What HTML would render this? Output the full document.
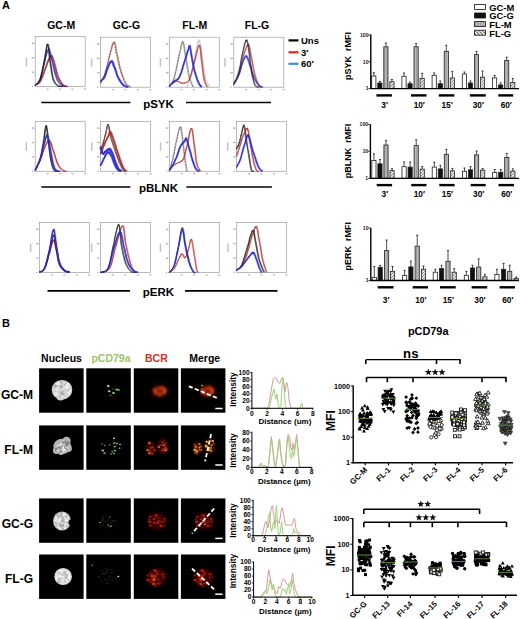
<!DOCTYPE html><html><head><meta charset="utf-8"><style>html,body{margin:0;padding:0;background:#fff;width:520px;height:619px;overflow:hidden}svg{display:block;font-family:"Liberation Sans", sans-serif}</style></head><body>
<svg width="520" height="619" viewBox="0 0 520 619">
<defs><filter id="bl1" x="-50%" y="-50%" width="200%" height="200%"><feGaussianBlur stdDeviation="0.6"/></filter><filter id="bl2" x="-50%" y="-50%" width="200%" height="200%"><feGaussianBlur stdDeviation="1.1"/></filter><filter id="bl3" x="-50%" y="-50%" width="200%" height="200%"><feGaussianBlur stdDeviation="2"/></filter><filter id="bl08" x="-50%" y="-50%" width="200%" height="200%"><feGaussianBlur stdDeviation="0.8"/></filter><filter id="bl05" x="-50%" y="-50%" width="200%" height="200%"><feGaussianBlur stdDeviation="0.35"/></filter><pattern id="pgray" width="1.6" height="4" patternUnits="userSpaceOnUse"><rect width="1.6" height="4" fill="#bdbdbd"/><rect width="0.5" height="4" fill="#888"/></pattern><pattern id="phatch" width="3" height="3" patternUnits="userSpaceOnUse"><rect width="3" height="3" fill="#e6e6e6"/><path d="M0,3 L3,0" stroke="#666" stroke-width="0.7"/></pattern><pattern id="phatchL" width="3.5" height="3.5" patternUnits="userSpaceOnUse" patternTransform="rotate(0)"><rect width="3.5" height="3.5" fill="#fff"/><path d="M0,0 L3.5,3.5" stroke="#333" stroke-width="0.9"/></pattern><radialGradient id="gnuc" cx="50%" cy="50%" r="50%"><stop offset="0" stop-color="#e4e4e4"/><stop offset="0.75" stop-color="#c8c8c8"/><stop offset="1" stop-color="#888" stop-opacity="0.4"/></radialGradient></defs>
<rect x="0.00" y="0.00" width="520.00" height="619.00" fill="#fff"/>
<text x="2.00" y="9.10" font-size="11" font-weight="bold" text-anchor="start" fill="#000">A</text>
<text x="2.00" y="326.60" font-size="11" font-weight="bold" text-anchor="start" fill="#000">B</text>
<text x="61.20" y="28.80" font-size="10.5" font-weight="bold" text-anchor="middle" fill="#000">GC-M</text>
<text x="126.50" y="28.80" font-size="10.5" font-weight="bold" text-anchor="middle" fill="#000">GC-G</text>
<text x="194.80" y="28.80" font-size="10.5" font-weight="bold" text-anchor="middle" fill="#000">FL-M</text>
<text x="257.00" y="28.80" font-size="10.5" font-weight="bold" text-anchor="middle" fill="#000">FL-G</text>
<line x1="288.50" y1="40.40" x2="298.50" y2="40.40" stroke="#000" stroke-width="2.2"/>
<text x="301.00" y="43.70" font-size="9.5" font-weight="bold" text-anchor="start" fill="#000">Uns</text>
<line x1="288.50" y1="52.30" x2="298.50" y2="52.30" stroke="#d42a20" stroke-width="2.2"/>
<text x="301.00" y="55.60" font-size="9.5" font-weight="bold" text-anchor="start" fill="#000">3′</text>
<line x1="288.50" y1="63.80" x2="298.50" y2="63.80" stroke="#3a8fd0" stroke-width="2.2"/>
<text x="301.00" y="67.10" font-size="9.5" font-weight="bold" text-anchor="start" fill="#000">60′</text>
<rect x="35.20" y="36.60" width="50.00" height="50.00" fill="none" stroke="#9c9c9c" stroke-width="0.7"/>
<rect x="31.80" y="86.00" width="1.20" height="1.20" fill="#a8a8a8"/>
<rect x="31.80" y="71.60" width="2.40" height="1.20" fill="#a8a8a8"/>
<rect x="31.80" y="57.20" width="2.40" height="1.20" fill="#a8a8a8"/>
<rect x="31.80" y="42.80" width="2.40" height="1.20" fill="#a8a8a8"/>
<rect x="46.40" y="88.50" width="2.20" height="1.10" fill="#b0b0b0"/>
<rect x="58.90" y="88.50" width="2.20" height="1.10" fill="#b0b0b0"/>
<rect x="71.40" y="88.50" width="2.20" height="1.10" fill="#b0b0b0"/>
<rect x="83.90" y="88.50" width="2.20" height="1.10" fill="#b0b0b0"/>
<rect x="25.60" y="57.60" width="1.50" height="8.50" fill="#c4c4c4"/>
<polyline points="34.75,85.35 35.05,85.29 35.43,85.11 35.88,84.84 36.39,84.68 36.94,84.42 37.51,84.16 38.09,83.81 38.67,83.09 39.23,82.44 39.75,82.06 40.25,80.98 40.75,80.15 41.25,78.42 41.75,77.50 42.25,76.44 42.75,74.52 43.25,74.01 43.75,72.62 44.25,69.96 44.75,68.64 45.26,68.15 45.78,67.36 46.31,64.99 46.85,63.23 47.38,62.09 47.89,60.07 48.40,59.10 48.88,58.34 49.33,57.54 49.75,56.47 50.12,56.05 50.45,55.77 50.75,56.04 51.02,55.81 51.28,55.57 51.54,57.21 51.80,57.24 52.09,57.99 52.40,58.01 52.75,60.19 53.14,61.09 53.55,61.32 53.97,63.29 54.42,65.71 54.88,67.58 55.34,69.87 55.82,70.94 56.29,73.30 56.77,74.69 57.25,75.69 57.73,77.22 58.22,78.61 58.71,79.62 59.21,80.38 59.72,81.35 60.23,81.95 60.73,82.85 61.24,83.76 61.75,84.30 62.25,84.84 62.77,85.40 63.33,85.80 63.91,86.09 64.49,86.29 65.06,86.46 65.61,86.58 66.12,86.60 66.57,86.60 66.95,86.60 67.25,86.60" fill="none" stroke="#b02828" stroke-width="1.12" stroke-linejoin="round" opacity="0.55"/>
<polyline points="35.65,84.87 35.95,84.70 36.33,84.39 36.78,84.21 37.29,84.16 37.84,83.89 38.41,83.56 38.99,83.06 39.57,82.67 40.13,82.07 40.65,81.34 41.15,80.22 41.65,79.33 42.15,78.13 42.65,77.15 43.15,76.12 43.65,74.75 44.15,72.89 44.65,71.37 45.15,69.73 45.65,68.06 46.16,66.73 46.68,66.00 47.21,64.29 47.75,62.89 48.28,62.24 48.79,60.26 49.30,59.04 49.78,57.42 50.23,56.18 50.65,56.02 51.02,55.30 51.35,55.63 51.65,56.30 51.92,55.83 52.18,55.23 52.44,56.70 52.70,57.02 52.99,57.54 53.30,58.57 53.65,59.22 54.04,60.38 54.45,61.09 54.87,63.73 55.32,65.49 55.78,66.10 56.24,68.97 56.72,70.79 57.19,72.20 57.67,73.93 58.15,75.29 58.63,76.93 59.12,77.69 59.61,79.01 60.11,79.68 60.62,80.91 61.13,81.75 61.63,82.34 62.14,83.09 62.65,83.82 63.15,84.34 63.67,84.79 64.23,85.15 64.81,85.46 65.39,85.71 65.96,85.85 66.51,85.99 67.02,86.06 67.47,86.15 67.85,86.21 68.15,86.30" fill="none" stroke="#b02828" stroke-width="1.12" stroke-linejoin="round" opacity="0.55"/>
<polyline points="35.20,85.06 35.50,84.94 35.88,84.75 36.33,84.61 36.84,84.41 37.39,84.03 37.96,83.69 38.54,83.52 39.12,82.85 39.68,82.22 40.20,81.84 40.70,80.70 41.20,79.90 41.70,78.49 42.20,77.37 42.70,75.55 43.20,74.69 43.70,73.61 44.20,71.78 44.70,70.77 45.20,69.37 45.71,67.08 46.23,66.77 46.76,65.02 47.30,63.06 47.83,61.16 48.34,61.10 48.85,59.20 49.33,58.49 49.78,57.85 50.20,56.94 50.57,56.85 50.90,55.75 51.20,56.29 51.47,55.76 51.73,56.73 51.99,56.98 52.25,56.20 52.54,56.88 52.85,57.76 53.20,59.84 53.59,60.11 54.00,61.83 54.42,62.94 54.87,65.06 55.33,66.76 55.79,68.63 56.27,70.89 56.74,72.67 57.22,74.67 57.70,75.79 58.18,77.24 58.67,78.29 59.16,79.43 59.66,80.18 60.17,80.83 60.68,82.03 61.18,82.83 61.69,83.49 62.20,84.03 62.70,84.64 63.22,85.05 63.78,85.52 64.36,85.78 64.94,85.99 65.51,86.14 66.06,86.29 66.57,86.38 67.02,86.43 67.40,86.52 67.70,86.60" fill="none" stroke="#b02828" stroke-width="1.12" stroke-linejoin="round" opacity="0.9"/>
<polyline points="34.75,85.35 35.05,85.17 35.43,84.86 35.88,84.43 36.39,84.10 36.94,83.63 37.51,83.15 38.09,82.54 38.67,81.39 39.23,80.31 39.75,79.64 40.26,77.86 40.77,76.41 41.30,73.50 41.82,71.85 42.34,70.00 42.86,66.92 43.36,65.82 43.85,63.63 44.31,60.31 44.75,58.64 45.16,57.97 45.55,57.14 45.93,54.84 46.28,53.27 46.62,52.40 46.96,50.73 47.28,50.17 47.61,49.86 47.93,49.54 48.25,48.97 48.56,49.13 48.86,49.55 49.14,50.63 49.41,51.26 49.69,51.92 49.97,54.44 50.26,55.31 50.56,56.83 50.89,57.50 51.25,60.19 51.64,61.47 52.06,61.97 52.51,64.15 52.97,66.69 53.44,68.64 53.91,70.96 54.39,72.04 54.86,74.33 55.31,75.71 55.75,76.71 56.17,78.15 56.57,79.41 56.96,80.27 57.34,80.86 57.72,81.63 58.10,82.03 58.49,82.73 58.89,83.48 59.31,83.87 59.75,84.32 60.23,84.87 60.77,85.29 61.33,85.62 61.92,85.87 62.50,86.11 63.06,86.32 63.59,86.50 64.05,86.60 64.45,86.60 64.75,86.60" fill="none" stroke="#2a2ad0" stroke-width="0.99" stroke-linejoin="round" opacity="0.55"/>
<polyline points="35.65,84.87 35.95,84.58 36.33,84.12 36.78,83.79 37.29,83.59 37.84,83.12 38.41,82.56 38.99,81.74 39.57,81.05 40.13,80.06 40.65,78.86 41.16,77.03 41.67,75.46 42.20,73.38 42.72,71.65 43.24,69.84 43.76,67.47 44.26,64.58 44.75,62.30 45.21,60.09 45.65,58.06 46.06,56.55 46.45,55.78 46.83,54.14 47.18,52.93 47.53,52.55 47.86,50.92 48.18,50.11 48.51,48.94 48.83,48.18 49.15,48.52 49.46,48.37 49.76,49.42 50.04,50.89 50.31,51.28 50.59,51.57 50.87,53.93 51.16,55.09 51.46,56.38 51.79,58.06 52.15,59.22 52.54,60.75 52.96,61.75 53.41,64.58 53.87,66.48 54.34,67.16 54.81,70.07 55.29,71.85 55.76,73.27 56.21,74.95 56.65,76.29 57.07,77.84 57.47,78.52 57.86,79.66 58.24,80.18 58.62,81.18 59.00,81.82 59.39,82.22 59.79,82.80 60.21,83.42 60.65,83.85 61.13,84.26 61.67,84.62 62.23,84.97 62.82,85.30 63.40,85.49 63.96,85.74 64.49,85.88 64.95,86.05 65.35,86.17 65.65,86.30" fill="none" stroke="#2a2ad0" stroke-width="0.99" stroke-linejoin="round" opacity="0.55"/>
<polyline points="35.20,85.06 35.50,84.81 35.88,84.48 36.33,84.21 36.84,83.84 37.39,83.21 37.96,82.62 38.54,82.26 39.12,81.17 39.68,80.13 40.20,79.46 40.71,77.60 41.22,76.18 41.75,73.78 42.27,71.83 42.79,68.79 43.31,67.27 43.81,65.39 44.30,62.72 44.76,61.14 45.20,59.37 45.61,56.91 46.00,56.55 46.38,54.88 46.73,53.10 47.08,51.47 47.41,51.76 47.73,50.27 48.06,50.01 48.38,49.85 48.70,49.44 49.01,49.93 49.31,49.53 49.59,50.88 49.86,51.21 50.14,53.08 50.42,54.21 50.71,54.27 51.01,55.72 51.34,57.25 51.70,59.84 52.09,60.49 52.51,62.48 52.96,63.80 53.42,66.05 53.89,67.82 54.36,69.72 54.84,71.97 55.31,73.72 55.76,75.66 56.20,76.77 56.62,78.14 57.02,79.09 57.41,80.07 57.79,80.66 58.17,81.12 58.55,82.10 58.94,82.71 59.34,83.22 59.76,83.62 60.20,84.15 60.68,84.51 61.22,85.01 61.78,85.31 62.37,85.56 62.95,85.79 63.51,86.04 64.04,86.21 64.50,86.33 64.90,86.48 65.20,86.60" fill="none" stroke="#2a2ad0" stroke-width="0.99" stroke-linejoin="round" opacity="0.9"/>
<polyline points="34.75,85.87 35.05,85.51 35.45,85.17 35.91,84.70 36.44,84.19 37.00,83.71 37.58,83.26 38.17,82.49 38.73,81.65 39.27,80.35 39.75,79.43 40.19,77.91 40.62,76.28 41.04,74.51 41.45,72.82 41.84,71.98 42.23,69.95 42.62,67.99 43.00,66.06 43.37,63.21 43.75,61.60 44.12,60.20 44.50,58.21 44.87,56.11 45.23,53.83 45.59,50.30 45.95,49.05 46.29,47.35 46.62,45.67 46.94,44.22 47.25,44.36 47.54,44.08 47.81,46.36 48.06,47.66 48.30,48.96 48.53,50.64 48.76,53.87 48.99,55.66 49.23,58.45 49.48,60.55 49.75,61.91 50.02,63.56 50.29,65.73 50.57,67.39 50.84,68.89 51.12,71.05 51.42,73.60 51.72,74.43 52.05,76.16 52.39,78.20 52.75,79.24 53.14,80.54 53.55,81.48 53.97,82.26 54.42,83.24 54.88,83.59 55.34,84.20 55.82,84.64 56.29,85.15 56.77,85.49 57.25,85.89 57.75,86.24 58.30,86.46 58.87,86.60 59.45,86.60 60.03,86.60 60.59,86.60 61.10,86.60 61.56,86.60 61.95,86.60 62.25,86.60" fill="none" stroke="#1a1a1a" stroke-width="0.99" stroke-linejoin="round" opacity="0.55"/>
<polyline points="35.65,85.31 35.95,84.99 36.35,84.64 36.81,84.26 37.34,83.76 37.90,83.27 38.48,82.33 39.07,81.75 39.63,81.14 40.17,80.02 40.65,79.09 41.09,77.17 41.52,75.97 41.94,74.07 42.35,72.65 42.74,70.85 43.13,68.05 43.52,66.44 43.90,64.62 44.27,63.77 44.65,61.73 45.02,58.85 45.40,57.72 45.77,54.37 46.13,52.81 46.49,49.77 46.85,47.48 47.19,47.07 47.52,44.60 47.84,43.68 48.15,44.57 48.44,44.73 48.71,44.72 48.96,47.22 49.20,48.34 49.43,50.65 49.66,52.15 49.89,55.65 50.13,57.55 50.38,60.14 50.65,61.93 50.92,62.78 51.19,64.75 51.47,66.36 51.74,68.26 52.03,70.09 52.32,72.33 52.62,74.48 52.95,75.51 53.29,77.65 53.65,78.68 54.04,79.80 54.45,81.06 54.87,81.72 55.32,82.39 55.78,83.08 56.24,83.68 56.72,84.01 57.19,84.61 57.67,84.86 58.15,85.32 58.65,85.65 59.20,85.85 59.77,86.04 60.35,86.14 60.93,86.21 61.49,86.23 62.00,86.24 62.46,86.25 62.85,86.27 63.15,86.30" fill="none" stroke="#1a1a1a" stroke-width="0.99" stroke-linejoin="round" opacity="0.55"/>
<polyline points="35.20,85.63 35.50,85.30 35.90,84.89 36.36,84.43 36.89,83.87 37.45,83.49 38.03,82.79 38.62,82.18 39.18,81.14 39.72,80.39 40.20,78.94 40.64,78.05 41.07,76.53 41.49,74.56 41.90,72.94 42.29,71.31 42.68,68.64 43.07,67.28 43.45,65.76 43.82,63.02 44.20,62.09 44.57,59.99 44.95,58.09 45.32,54.98 45.68,52.27 46.04,51.14 46.40,49.07 46.74,46.69 47.07,44.71 47.39,43.95 47.70,44.32 47.99,44.10 48.26,46.08 48.51,46.92 48.75,48.10 48.98,50.91 49.21,52.70 49.44,55.94 49.68,58.20 49.93,59.72 50.20,61.83 50.47,63.72 50.74,65.76 51.02,67.96 51.29,68.37 51.58,70.83 51.87,73.03 52.17,74.43 52.50,76.39 52.84,77.45 53.20,79.37 53.59,80.24 54.00,80.99 54.42,82.10 54.87,82.69 55.33,83.29 55.79,83.92 56.27,84.32 56.74,84.78 57.22,85.27 57.70,85.62 58.20,85.90 58.75,86.18 59.32,86.32 59.90,86.44 60.48,86.51 61.04,86.54 61.55,86.55 62.01,86.55 62.40,86.56 62.70,86.60" fill="none" stroke="#1a1a1a" stroke-width="0.99" stroke-linejoin="round" opacity="0.9"/>
<rect x="100.50" y="37.20" width="50.00" height="50.00" fill="none" stroke="#9c9c9c" stroke-width="0.7"/>
<rect x="97.10" y="86.60" width="1.20" height="1.20" fill="#a8a8a8"/>
<rect x="97.10" y="72.20" width="2.40" height="1.20" fill="#a8a8a8"/>
<rect x="97.10" y="57.80" width="2.40" height="1.20" fill="#a8a8a8"/>
<rect x="97.10" y="43.40" width="2.40" height="1.20" fill="#a8a8a8"/>
<rect x="111.70" y="89.10" width="2.20" height="1.10" fill="#b0b0b0"/>
<rect x="124.20" y="89.10" width="2.20" height="1.10" fill="#b0b0b0"/>
<rect x="136.70" y="89.10" width="2.20" height="1.10" fill="#b0b0b0"/>
<rect x="149.20" y="89.10" width="2.20" height="1.10" fill="#b0b0b0"/>
<rect x="90.90" y="58.20" width="1.50" height="8.50" fill="#c4c4c4"/>
<polyline points="100.05,83.48 100.35,82.91 100.73,82.37 101.18,81.27 101.69,80.33 102.24,79.32 102.81,77.79 103.39,76.82 103.97,75.60 104.53,74.39 105.05,71.92 105.56,70.50 106.07,68.26 106.60,67.34 107.12,64.98 107.64,61.70 108.16,60.98 108.66,58.79 109.15,56.25 109.61,54.32 110.05,51.95 110.46,50.22 110.85,49.55 111.23,47.35 111.58,46.20 111.92,45.06 112.26,43.65 112.58,43.47 112.91,42.80 113.23,43.09 113.55,42.53 113.87,43.05 114.17,43.52 114.47,44.78 114.76,45.69 115.05,46.83 115.34,49.54 115.63,51.15 115.93,52.52 116.23,53.88 116.55,54.70 116.87,55.97 117.19,57.53 117.52,58.68 117.84,61.32 118.17,62.28 118.52,64.54 118.87,65.35 119.25,67.79 119.64,69.11 120.05,69.20 120.49,71.01 120.95,73.52 121.44,74.42 121.94,76.50 122.46,77.34 122.98,78.50 123.50,80.29 124.03,81.59 124.54,82.43 125.05,83.34 125.57,84.25 126.13,85.08 126.71,85.57 127.29,85.92 127.86,86.32 128.41,86.61 128.92,86.87 129.37,87.12 129.75,87.20 130.05,87.20" fill="none" stroke="#8a3a30" stroke-width="0.87" stroke-linejoin="round" opacity="0.55"/>
<polyline points="100.95,82.89 101.25,82.36 101.63,81.63 102.08,80.48 102.59,79.39 103.14,78.55 103.71,77.27 104.29,76.53 104.87,75.07 105.43,73.55 105.95,71.98 106.46,70.48 106.97,67.75 107.50,66.15 108.02,63.53 108.54,62.49 109.06,58.91 109.56,57.96 110.05,54.72 110.51,53.83 110.95,51.64 111.36,50.24 111.75,49.45 112.13,46.69 112.48,45.40 112.83,45.53 113.16,43.81 113.48,42.28 113.81,43.08 114.13,42.66 114.45,41.28 114.77,42.10 115.07,42.34 115.37,43.62 115.66,45.35 115.95,46.05 116.24,48.45 116.53,49.04 116.83,50.85 117.13,53.45 117.45,54.24 117.77,55.68 118.09,57.42 118.42,58.73 118.74,60.11 119.08,61.09 119.42,63.75 119.77,65.68 120.15,67.22 120.54,68.21 120.95,69.17 121.39,70.64 121.85,72.61 122.34,74.08 122.84,74.94 123.36,76.58 123.88,78.14 124.40,79.60 124.93,81.01 125.44,81.94 125.95,82.72 126.47,83.80 127.03,84.36 127.61,84.93 128.19,85.34 128.76,85.74 129.31,86.03 129.82,86.31 130.27,86.49 130.65,86.71 130.95,86.90" fill="none" stroke="#8a3a30" stroke-width="0.87" stroke-linejoin="round" opacity="0.55"/>
<polyline points="100.50,83.11 100.80,82.67 101.18,81.94 101.63,81.20 102.14,79.81 102.69,78.74 103.26,77.46 103.84,76.23 104.42,75.42 104.98,73.24 105.50,72.25 106.01,70.06 106.52,68.29 107.05,66.44 107.57,64.91 108.09,62.31 108.61,59.14 109.11,57.39 109.60,55.14 110.06,54.43 110.50,52.70 110.91,51.18 111.30,49.72 111.68,48.15 112.03,47.12 112.38,45.64 112.71,43.71 113.03,43.79 113.36,42.58 113.68,42.65 114.00,42.30 114.32,42.41 114.62,43.00 114.92,44.11 115.21,45.16 115.50,46.28 115.79,48.95 116.08,50.53 116.38,52.46 116.68,53.55 117.00,54.79 117.32,56.50 117.64,56.98 117.97,59.35 118.29,60.50 118.62,61.62 118.97,63.21 119.32,65.27 119.70,66.36 120.09,68.18 120.50,69.87 120.94,70.99 121.40,72.13 121.89,74.15 122.39,75.37 122.91,76.88 123.43,78.30 123.95,79.80 124.48,80.88 124.99,82.31 125.50,83.37 126.02,83.97 126.58,84.73 127.16,85.31 127.74,85.61 128.31,86.00 128.86,86.37 129.37,86.61 129.82,86.81 130.20,87.00 130.50,87.20" fill="none" stroke="#8a3a30" stroke-width="0.87" stroke-linejoin="round" opacity="0.9" stroke-dasharray="2,1"/>
<polyline points="100.05,81.47 100.29,81.32 100.60,81.31 100.97,80.76 101.39,80.48 101.83,80.19 102.29,79.49 102.76,79.28 103.22,78.86 103.65,78.42 104.05,77.11 104.42,76.52 104.78,75.36 105.14,75.19 105.49,74.00 105.83,71.97 106.17,72.24 106.52,71.14 106.86,69.59 107.20,68.55 107.55,66.95 107.90,65.91 108.26,65.90 108.62,64.32 108.97,63.74 109.33,63.09 109.69,62.09 110.04,62.23 110.38,61.77 110.72,62.14 111.05,61.53 111.37,61.82 111.67,61.87 111.97,62.55 112.26,62.78 112.55,63.15 112.84,65.03 113.13,65.82 113.43,66.40 113.73,67.02 114.05,67.20 114.37,67.92 114.69,68.95 115.02,69.60 115.34,71.75 115.67,72.26 116.02,73.95 116.37,74.42 116.75,76.12 117.14,76.95 117.55,77.02 117.99,78.12 118.45,79.57 118.94,80.07 119.44,81.22 119.96,81.66 120.48,82.27 121.00,83.25 121.53,83.96 122.04,84.40 122.55,84.90 123.07,85.43 123.63,85.93 124.21,86.23 124.79,86.44 125.36,86.70 125.91,86.90 126.42,87.07 126.87,87.20 127.25,87.20 127.55,87.20" fill="none" stroke="#2a2ad0" stroke-width="1.36" stroke-linejoin="round" opacity="0.55"/>
<polyline points="100.95,80.89 101.19,80.78 101.50,80.56 101.87,79.95 102.29,79.55 102.73,79.44 103.19,78.96 103.66,78.91 104.12,78.31 104.55,77.65 104.95,76.96 105.32,76.29 105.68,74.82 106.04,74.14 106.39,72.69 106.73,72.60 107.07,70.22 107.42,70.31 107.76,68.06 108.10,68.06 108.45,66.64 108.80,65.93 109.16,65.80 109.52,63.66 109.87,62.93 110.23,63.56 110.59,62.26 110.94,61.04 111.28,62.05 111.62,61.71 111.95,60.28 112.27,60.87 112.57,60.68 112.87,61.39 113.16,62.44 113.45,62.36 113.74,63.95 114.03,63.71 114.33,64.73 114.63,66.59 114.95,66.74 115.27,67.62 115.59,68.84 115.92,69.65 116.24,70.55 116.58,71.13 116.92,73.19 117.27,74.54 117.65,75.54 118.04,76.15 118.45,76.76 118.89,77.65 119.35,78.79 119.84,79.61 120.34,80.08 120.86,80.97 121.38,81.81 121.90,82.60 122.43,83.37 122.94,83.86 123.45,84.29 123.97,84.93 124.53,85.25 125.11,85.60 125.69,85.85 126.26,86.11 126.81,86.31 127.32,86.50 127.77,86.63 128.15,86.77 128.45,86.90" fill="none" stroke="#2a2ad0" stroke-width="1.36" stroke-linejoin="round" opacity="0.55"/>
<polyline points="100.50,81.06 100.74,81.10 101.05,80.87 101.42,80.71 101.84,79.96 102.28,79.63 102.74,79.16 103.21,78.75 103.67,78.64 104.10,77.53 104.50,77.23 104.87,76.13 105.23,75.29 105.59,74.43 105.94,73.89 106.28,72.48 106.62,70.45 106.97,69.74 107.31,68.47 107.65,68.66 108.00,67.70 108.35,66.87 108.71,66.07 109.07,65.12 109.42,64.65 109.78,63.67 110.14,62.15 110.49,62.55 110.83,61.55 111.17,61.70 111.50,61.30 111.82,61.18 112.12,61.35 112.42,61.88 112.71,62.25 113.00,62.59 113.29,64.45 113.58,65.21 113.88,66.33 114.18,66.69 114.50,67.29 114.82,68.45 115.14,68.40 115.47,70.27 115.79,70.94 116.12,71.64 116.47,72.79 116.82,74.29 117.20,75.01 117.59,76.24 118.00,77.30 118.44,77.98 118.90,78.65 119.39,79.78 119.89,80.45 120.41,81.27 120.93,82.03 121.45,82.84 121.98,83.41 122.49,84.21 123.00,84.81 123.52,85.14 124.08,85.59 124.66,85.95 125.24,86.14 125.81,86.39 126.36,86.64 126.87,86.80 127.32,86.94 127.70,87.07 128.00,87.20" fill="none" stroke="#2a2ad0" stroke-width="1.36" stroke-linejoin="round" opacity="0.9"/>
<rect x="169.30" y="37.20" width="50.00" height="50.00" fill="none" stroke="#9c9c9c" stroke-width="0.7"/>
<rect x="165.90" y="86.60" width="1.20" height="1.20" fill="#a8a8a8"/>
<rect x="165.90" y="72.20" width="2.40" height="1.20" fill="#a8a8a8"/>
<rect x="165.90" y="57.80" width="2.40" height="1.20" fill="#a8a8a8"/>
<rect x="165.90" y="43.40" width="2.40" height="1.20" fill="#a8a8a8"/>
<rect x="180.50" y="89.10" width="2.20" height="1.10" fill="#b0b0b0"/>
<rect x="193.00" y="89.10" width="2.20" height="1.10" fill="#b0b0b0"/>
<rect x="205.50" y="89.10" width="2.20" height="1.10" fill="#b0b0b0"/>
<rect x="218.00" y="89.10" width="2.20" height="1.10" fill="#b0b0b0"/>
<rect x="159.70" y="58.20" width="1.50" height="8.50" fill="#c4c4c4"/>
<polyline points="168.85,87.20 169.15,86.94 169.53,86.29 169.98,85.72 170.49,84.74 171.04,83.78 171.61,82.95 172.19,81.65 172.77,80.72 173.33,78.83 173.85,77.94 174.36,75.51 174.87,73.78 175.40,72.04 175.92,69.24 176.44,67.12 176.96,64.25 177.46,60.72 177.95,59.70 178.41,57.06 178.85,54.70 179.26,52.69 179.65,51.90 180.03,49.64 180.38,48.45 180.73,46.56 181.06,45.43 181.38,43.61 181.71,42.94 182.03,42.28 182.35,41.61 182.67,43.11 182.97,42.90 183.27,44.86 183.56,46.66 183.85,47.93 184.14,49.04 184.43,52.14 184.73,53.92 185.03,55.14 185.35,56.78 185.68,59.41 186.01,60.62 186.35,64.16 186.69,65.67 187.04,67.87 187.39,69.86 187.75,72.33 188.11,74.61 188.48,75.67 188.85,77.38 189.25,79.02 189.68,80.16 190.14,81.60 190.61,82.72 191.07,83.73 191.51,84.75 191.93,85.56 192.30,86.25 192.61,86.98 192.85,87.20" fill="none" stroke="#444" stroke-width="0.62" stroke-linejoin="round" opacity="0.55"/>
<polyline points="169.75,86.90 170.05,86.38 170.43,85.78 170.88,84.95 171.39,84.24 171.94,83.28 172.51,82.29 173.09,80.93 173.67,79.65 174.23,78.41 174.75,76.63 175.26,75.06 175.77,72.42 176.30,70.13 176.82,68.68 177.34,65.71 177.86,63.34 178.36,61.22 178.85,58.27 179.31,55.61 179.75,54.85 180.16,52.73 180.55,50.99 180.93,49.10 181.28,47.90 181.62,45.31 181.96,44.51 182.28,42.70 182.61,42.14 182.93,41.76 183.25,41.10 183.57,41.11 183.87,42.56 184.17,44.16 184.46,45.48 184.75,47.00 185.04,49.24 185.33,50.51 185.63,52.54 185.93,54.76 186.25,57.41 186.58,58.28 186.91,60.15 187.25,62.24 187.59,64.32 187.94,66.88 188.29,69.52 188.65,71.97 189.01,73.25 189.38,75.14 189.75,76.70 190.15,78.19 190.58,79.89 191.04,80.98 191.51,81.99 191.97,83.01 192.41,84.18 192.83,84.99 193.20,85.74 193.51,86.34 193.75,86.90" fill="none" stroke="#444" stroke-width="0.62" stroke-linejoin="round" opacity="0.55"/>
<polyline points="169.30,87.20 169.60,86.68 169.98,86.00 170.43,85.42 170.94,84.44 171.49,83.67 172.06,82.40 172.64,81.58 173.22,79.92 173.78,78.92 174.30,77.42 174.81,75.71 175.32,73.27 175.85,71.64 176.37,69.42 176.89,65.52 177.41,63.64 177.91,61.88 178.40,59.17 178.86,56.53 179.30,54.39 179.71,53.61 180.10,50.37 180.48,49.62 180.83,48.00 181.18,45.28 181.51,44.11 181.83,42.89 182.16,42.39 182.48,41.59 182.80,42.33 183.12,42.75 183.42,42.61 183.72,44.75 184.01,44.94 184.30,46.74 184.59,49.57 184.88,51.80 185.18,53.87 185.48,56.13 185.80,57.78 186.13,58.69 186.46,61.46 186.80,63.86 187.14,64.71 187.49,67.53 187.84,69.15 188.20,71.27 188.56,73.74 188.93,75.77 189.30,77.65 189.70,78.35 190.13,80.00 190.59,81.53 191.06,82.52 191.52,83.46 191.96,84.33 192.38,85.27 192.75,85.97 193.06,86.66 193.30,87.20" fill="none" stroke="#444" stroke-width="0.62" stroke-linejoin="round" opacity="0.9" stroke-dasharray="2,1"/>
<polyline points="186.35,87.20 186.65,86.69 187.03,85.69 187.48,84.29 187.99,83.10 188.54,81.52 189.11,79.96 189.69,77.88 190.27,76.05 190.83,74.40 191.35,72.10 191.86,70.25 192.39,67.08 192.93,64.49 193.47,62.67 194.01,59.34 194.53,56.67 195.03,54.33 195.51,51.25 195.95,48.59 196.35,47.95 196.70,46.14 197.00,44.90 197.27,43.66 197.51,43.22 197.73,41.44 197.93,41.47 198.14,40.47 198.36,40.65 198.59,40.89 198.85,40.70 199.13,41.04 199.42,42.73 199.71,44.50 200.01,45.92 200.32,47.51 200.63,49.77 200.93,51.06 201.24,53.09 201.55,55.32 201.85,58.01 202.15,58.92 202.43,60.82 202.72,62.92 203.00,64.99 203.29,67.55 203.58,70.17 203.88,72.60 204.19,73.87 204.51,75.74 204.85,77.30 205.23,78.79 205.65,80.49 206.10,81.58 206.57,82.59 207.04,83.61 207.49,84.78 207.91,85.59 208.29,86.34 208.61,86.94 208.85,87.20" fill="none" stroke="#999" stroke-width="0.37" stroke-linejoin="round" opacity="0.55"/>
<polyline points="187.25,86.90 187.55,86.08 187.93,84.96 188.38,83.96 188.89,82.33 189.44,81.06 190.01,79.04 190.59,77.84 191.17,75.41 191.73,74.13 192.25,72.22 192.76,70.15 193.29,67.15 193.83,65.14 194.37,62.51 194.91,58.25 195.43,56.08 195.93,54.09 196.41,51.26 196.85,48.61 197.25,46.59 197.60,46.12 197.90,43.38 198.17,43.28 198.41,42.41 198.62,40.51 198.83,40.18 199.04,39.77 199.26,40.00 199.49,39.82 199.75,41.03 200.03,41.78 200.32,41.88 200.61,44.18 200.91,44.49 201.22,46.35 201.53,49.21 201.83,51.45 202.14,53.52 202.45,55.79 202.75,57.48 203.05,58.43 203.33,61.22 203.62,63.64 203.90,64.48 204.19,67.30 204.48,68.90 204.78,71.00 205.09,73.46 205.41,75.48 205.75,77.35 206.13,78.05 206.55,79.70 207.00,81.23 207.47,82.22 207.94,83.16 208.39,84.03 208.81,84.97 209.19,85.67 209.51,86.36 209.75,86.90" fill="none" stroke="#999" stroke-width="0.37" stroke-linejoin="round" opacity="0.55"/>
<polyline points="186.80,87.20 187.10,86.39 187.48,85.38 187.93,84.03 188.44,82.92 188.99,81.34 189.56,79.31 190.14,78.31 190.72,75.82 191.28,73.93 191.80,72.09 192.31,70.16 192.84,66.94 193.38,65.15 193.92,62.56 194.46,59.19 194.98,56.82 195.48,53.86 195.96,51.70 196.40,48.49 196.80,46.97 197.15,45.65 197.45,43.71 197.72,43.92 197.96,42.38 198.18,40.71 198.38,40.89 198.59,40.24 198.81,39.74 199.04,39.79 199.30,40.64 199.58,40.72 199.87,42.57 200.16,43.87 200.46,44.88 200.77,47.89 201.08,48.51 201.38,50.74 201.69,53.82 202.00,54.86 202.30,57.08 202.60,59.20 202.88,61.03 203.17,63.25 203.45,65.44 203.74,67.58 204.03,69.04 204.33,72.29 204.64,73.50 204.96,75.09 205.30,77.11 205.68,78.91 206.10,80.09 206.55,81.23 207.02,82.39 207.49,83.35 207.94,84.43 208.36,85.22 208.74,85.95 209.06,86.63 209.30,87.20" fill="none" stroke="#999" stroke-width="0.37" stroke-linejoin="round" opacity="0.9"/>
<polyline points="168.85,86.47 169.09,86.34 169.39,86.09 169.76,85.79 170.16,85.41 170.60,85.19 171.06,84.85 171.52,84.42 171.99,84.09 172.43,83.68 172.85,83.31 173.25,83.19 173.64,83.01 174.03,82.50 174.43,82.58 174.82,82.05 175.21,81.82 175.61,81.52 176.02,81.91 176.43,81.67 176.85,81.72 177.28,81.62 177.71,81.43 178.15,81.81 178.59,82.15 179.04,82.25 179.49,82.93 179.95,82.94 180.41,83.09 180.88,83.53 181.35,83.36 181.84,83.70 182.34,83.54 182.86,83.57 183.39,83.45 183.91,83.43 184.43,83.21 184.94,83.00 185.44,83.16 185.91,82.66 186.35,82.63 186.76,82.06 187.14,82.17 187.49,81.83 187.83,81.42 188.16,81.04 188.49,80.47 188.81,80.03 189.14,78.90 189.49,78.40 189.85,77.81 190.23,76.10 190.60,75.67 190.98,74.31 191.37,72.18 191.76,70.53 192.15,69.05 192.56,67.28 192.98,66.58 193.41,63.94 193.85,61.74 194.32,60.08 194.83,59.03 195.36,57.26 195.90,54.21 196.44,51.99 196.98,50.03 197.50,48.56 197.99,46.31 198.45,46.01 198.85,45.59 199.20,46.02 199.51,46.21 199.78,47.56 200.03,49.59 200.26,52.53 200.47,53.79 200.68,56.45 200.89,58.21 201.11,59.99 201.35,61.81 201.60,64.78 201.84,66.57 202.08,67.83 202.33,70.24 202.57,72.11 202.81,74.22 203.06,76.00 203.32,77.04 203.58,79.07 203.85,80.33 204.14,81.24 204.47,82.45 204.81,83.22 205.16,84.04 205.51,84.78 205.84,85.59 206.15,86.07 206.43,86.60 206.67,87.11 206.85,87.20" fill="none" stroke="#b02828" stroke-width="0.81" stroke-linejoin="round" opacity="0.55"/>
<polyline points="169.75,85.94 169.99,85.68 170.29,85.41 170.66,85.27 171.06,84.81 171.50,84.44 171.96,84.21 172.42,83.78 172.89,83.61 173.33,83.08 173.75,83.08 174.15,82.57 174.54,82.42 174.93,82.30 175.33,81.93 175.72,81.80 176.11,81.47 176.51,80.93 176.92,81.24 177.33,80.98 177.75,80.79 178.18,80.77 178.61,81.29 179.05,81.35 179.49,81.78 179.94,81.97 180.39,82.34 180.85,82.42 181.31,82.71 181.78,82.85 182.25,82.81 182.74,83.11 183.24,82.88 183.76,83.05 184.29,83.08 184.81,82.90 185.33,82.59 185.84,82.72 186.34,82.48 186.81,82.03 187.25,81.68 187.66,81.62 188.04,81.07 188.39,81.25 188.73,80.67 189.06,80.29 189.39,79.75 189.71,79.38 190.04,78.94 190.39,77.66 190.75,76.78 191.13,75.90 191.50,74.33 191.88,73.32 192.27,71.78 192.66,70.04 193.05,68.80 193.46,66.91 193.88,64.53 194.31,64.32 194.75,61.67 195.22,60.02 195.73,57.93 196.26,56.56 196.80,54.34 197.34,51.42 197.88,49.19 198.40,46.92 198.89,46.79 199.35,44.71 199.75,44.97 200.10,44.98 200.41,45.84 200.68,47.26 200.93,48.73 201.16,50.50 201.37,53.49 201.58,56.17 201.79,58.16 202.01,59.55 202.25,62.21 202.50,62.96 202.74,65.39 202.98,67.95 203.23,70.02 203.47,71.18 203.71,73.56 203.96,74.87 204.22,76.56 204.48,78.12 204.75,79.75 205.04,80.74 205.37,81.65 205.71,82.71 206.06,83.53 206.41,84.21 206.74,84.97 207.05,85.56 207.33,86.05 207.57,86.52 207.75,86.90" fill="none" stroke="#b02828" stroke-width="0.81" stroke-linejoin="round" opacity="0.55"/>
<polyline points="169.30,86.24 169.54,86.07 169.84,85.83 170.21,85.42 170.61,85.19 171.05,84.81 171.51,84.48 171.97,84.01 172.44,83.68 172.88,83.45 173.30,83.09 173.70,82.92 174.09,82.47 174.48,82.21 174.88,82.24 175.27,81.85 175.66,81.67 176.06,81.60 176.47,81.25 176.88,80.98 177.30,81.36 177.73,81.30 178.16,81.48 178.60,81.67 179.04,82.10 179.49,82.07 179.94,82.54 180.40,82.64 180.86,82.96 181.33,83.17 181.80,83.13 182.29,83.08 182.79,83.25 183.31,83.33 183.84,83.24 184.36,83.12 184.88,83.09 185.39,82.76 185.89,82.57 186.36,82.40 186.80,82.35 187.21,81.75 187.59,81.41 187.94,81.08 188.28,80.69 188.61,80.43 188.94,80.16 189.26,79.80 189.59,78.77 189.94,78.01 190.30,77.00 190.68,75.91 191.05,75.20 191.43,73.56 191.82,71.66 192.21,69.82 192.60,69.28 193.01,67.49 193.43,66.01 193.86,63.41 194.30,62.27 194.77,61.10 195.28,58.53 195.81,56.89 196.35,53.38 196.89,52.46 197.43,48.94 197.95,47.73 198.44,45.69 198.90,46.03 199.30,45.50 199.65,46.28 199.96,46.90 200.23,48.50 200.48,49.59 200.71,52.32 200.92,54.13 201.13,55.75 201.34,58.98 201.56,60.13 201.80,61.71 202.05,63.30 202.29,65.77 202.53,67.24 202.78,70.34 203.02,72.22 203.26,73.02 203.51,74.71 203.77,76.86 204.03,78.07 204.30,79.73 204.59,81.08 204.92,81.84 205.26,82.89 205.61,83.91 205.96,84.53 206.29,85.19 206.60,85.87 206.88,86.37 207.12,86.81 207.30,87.20" fill="none" stroke="#b02828" stroke-width="0.81" stroke-linejoin="round" opacity="0.9"/>
<polyline points="168.85,86.47 169.15,86.22 169.53,85.83 169.98,85.33 170.49,84.74 171.04,84.34 171.61,83.78 172.19,83.09 172.77,82.52 173.33,81.84 173.85,81.21 174.35,81.03 174.85,80.87 175.35,80.29 175.85,80.56 176.35,79.94 176.85,79.65 177.35,79.12 177.85,79.39 178.35,78.55 178.85,77.86 179.35,76.56 179.87,74.61 180.38,73.50 180.90,72.17 181.41,69.92 181.92,69.57 182.42,66.95 182.91,64.96 183.39,64.46 183.85,61.90 184.30,61.79 184.75,59.62 185.20,58.37 185.64,56.64 186.07,55.51 186.48,53.73 186.87,52.27 187.23,52.47 187.56,50.45 187.85,50.45 188.10,48.75 188.30,49.24 188.47,48.46 188.61,47.66 188.73,47.20 188.83,46.55 188.94,46.57 189.06,45.52 189.19,46.18 189.35,47.02 189.53,46.53 189.71,48.43 189.90,49.31 190.09,49.64 190.29,50.78 190.49,52.22 190.70,53.45 190.91,55.76 191.13,56.09 191.35,56.74 191.57,58.04 191.79,60.25 192.02,61.93 192.24,62.39 192.48,63.64 192.72,65.01 192.97,66.60 193.25,67.03 193.54,68.92 193.85,70.09 194.19,71.47 194.56,72.16 194.96,73.56 195.37,75.18 195.79,77.16 196.21,77.90 196.64,79.38 197.06,80.35 197.46,81.33 197.85,82.29 198.24,83.45 198.64,84.15 199.05,84.68 199.45,85.32 199.85,85.81 200.23,86.27 200.57,86.64 200.88,86.94 201.14,87.20 201.35,87.20" fill="none" stroke="#2a2ad0" stroke-width="1.24" stroke-linejoin="round" opacity="0.55"/>
<polyline points="169.75,85.94 170.05,85.55 170.43,85.13 170.88,84.84 171.39,84.13 171.94,83.53 172.51,83.12 173.09,82.42 173.67,82.10 174.23,81.24 174.75,81.16 175.25,80.40 175.75,80.28 176.25,80.26 176.75,79.88 177.25,79.83 177.75,79.40 178.25,78.53 178.75,78.70 179.25,77.82 179.75,76.72 180.25,75.51 180.77,74.98 181.28,73.24 181.80,72.22 182.31,70.37 182.82,68.99 183.32,66.67 183.81,65.23 184.29,63.53 184.75,61.51 185.20,61.24 185.65,58.80 186.10,58.13 186.54,57.02 186.97,55.17 187.38,53.06 187.77,52.93 188.13,51.55 188.46,49.77 188.75,48.68 189.00,48.67 189.20,47.14 189.37,47.91 189.51,46.67 189.62,46.21 189.73,45.68 189.84,45.86 189.96,46.19 190.09,45.31 190.25,45.70 190.43,46.54 190.61,46.82 190.80,48.24 190.99,49.25 191.19,50.29 191.39,51.97 191.60,53.08 191.81,53.71 192.03,56.47 192.25,56.67 192.47,57.98 192.69,59.15 192.92,61.23 193.14,62.52 193.38,63.08 193.62,64.17 193.87,64.96 194.15,67.51 194.44,67.62 194.75,69.47 195.09,70.45 195.46,71.77 195.86,73.20 196.27,74.40 196.69,75.64 197.11,77.47 197.54,78.93 197.96,79.98 198.36,80.78 198.75,81.99 199.14,82.55 199.54,83.43 199.95,84.20 200.35,84.77 200.75,85.17 201.13,85.66 201.47,86.00 201.78,86.34 202.04,86.64 202.25,86.90" fill="none" stroke="#2a2ad0" stroke-width="1.24" stroke-linejoin="round" opacity="0.55"/>
<polyline points="169.30,86.24 169.60,85.95 169.98,85.57 170.43,84.95 170.94,84.54 171.49,83.93 172.06,83.38 172.64,82.63 173.22,82.07 173.78,81.65 174.30,81.04 174.80,80.78 175.30,80.21 175.80,80.00 176.30,80.20 176.80,79.77 177.30,79.55 177.80,79.36 178.30,78.57 178.80,77.65 179.30,77.47 179.80,76.23 180.32,75.05 180.83,73.59 181.35,72.56 181.86,70.01 182.37,68.96 182.87,66.65 183.36,65.33 183.84,63.91 184.30,61.90 184.75,60.15 185.20,59.35 185.65,58.33 186.09,56.73 186.52,55.15 186.93,54.16 187.32,52.20 187.68,51.07 188.01,50.29 188.30,50.21 188.55,48.43 188.75,47.57 188.92,46.89 189.06,46.22 189.18,46.12 189.28,46.24 189.39,46.41 189.51,45.56 189.64,45.71 189.80,45.86 189.98,46.39 190.16,47.89 190.35,48.47 190.54,49.10 190.74,50.07 190.94,52.45 191.15,53.66 191.36,55.20 191.58,55.55 191.80,57.27 192.02,59.06 192.24,59.75 192.47,61.55 192.69,61.56 192.93,64.12 193.17,63.92 193.42,65.77 193.70,66.41 193.99,68.94 194.30,70.00 194.64,71.72 195.01,72.76 195.41,74.27 195.82,75.10 196.24,76.92 196.66,77.97 197.09,78.88 197.51,80.50 197.91,81.18 198.30,82.05 198.69,82.86 199.09,83.75 199.50,84.33 199.90,85.07 200.30,85.56 200.68,85.89 201.02,86.27 201.33,86.64 201.59,86.93 201.80,87.20" fill="none" stroke="#2a2ad0" stroke-width="1.24" stroke-linejoin="round" opacity="0.9"/>
<rect x="233.80" y="37.20" width="50.00" height="50.00" fill="none" stroke="#9c9c9c" stroke-width="0.7"/>
<rect x="230.40" y="86.60" width="1.20" height="1.20" fill="#a8a8a8"/>
<rect x="230.40" y="72.20" width="2.40" height="1.20" fill="#a8a8a8"/>
<rect x="230.40" y="57.80" width="2.40" height="1.20" fill="#a8a8a8"/>
<rect x="230.40" y="43.40" width="2.40" height="1.20" fill="#a8a8a8"/>
<rect x="245.00" y="89.10" width="2.20" height="1.10" fill="#b0b0b0"/>
<rect x="257.50" y="89.10" width="2.20" height="1.10" fill="#b0b0b0"/>
<rect x="270.00" y="89.10" width="2.20" height="1.10" fill="#b0b0b0"/>
<rect x="282.50" y="89.10" width="2.20" height="1.10" fill="#b0b0b0"/>
<rect x="224.20" y="58.20" width="1.50" height="8.50" fill="#c4c4c4"/>
<polyline points="233.35,84.88 233.65,84.34 234.03,83.76 234.48,83.13 234.99,82.02 235.54,81.02 236.11,80.01 236.69,79.26 237.27,77.47 237.83,76.71 238.35,75.19 238.85,72.87 239.36,71.53 239.87,69.34 240.37,67.10 240.88,65.79 241.39,62.11 241.89,59.81 242.38,59.22 242.87,56.48 243.35,54.52 243.83,53.22 244.31,51.78 244.78,51.28 245.26,48.74 245.73,47.52 246.18,47.04 246.63,46.11 247.05,46.13 247.46,45.59 247.85,44.77 248.21,44.84 248.54,46.52 248.84,47.72 249.13,47.39 249.41,49.91 249.69,51.65 249.96,52.92 250.24,53.87 250.54,56.42 250.85,57.87 251.18,58.59 251.51,61.01 251.85,62.14 252.19,63.72 252.54,66.08 252.89,67.96 253.25,69.90 253.61,72.06 253.98,73.94 254.35,75.55 254.74,76.91 255.14,78.23 255.56,79.31 255.99,80.19 256.41,81.31 256.83,82.65 257.24,83.62 257.64,84.56 258.01,85.23 258.35,85.96 258.67,86.58 258.99,86.94 259.29,87.20 259.58,87.20 259.85,87.20 260.10,87.20 260.33,87.20 260.53,87.20 260.71,87.20 260.85,87.20" fill="none" stroke="#b02828" stroke-width="0.74" stroke-linejoin="round" opacity="0.55"/>
<polyline points="234.25,84.30 234.55,83.77 234.93,83.13 235.38,82.62 235.89,81.60 236.44,80.78 237.01,79.32 237.59,78.46 238.17,77.52 238.73,75.87 239.25,74.93 239.75,73.28 240.26,70.68 240.77,68.02 241.27,67.05 241.78,63.80 242.29,61.38 242.79,60.35 243.28,58.47 243.77,56.58 244.25,55.13 244.73,52.42 245.21,50.73 245.68,49.35 246.16,49.36 246.62,46.75 247.08,45.76 247.53,44.66 247.95,44.08 248.36,43.70 248.75,44.16 249.11,44.18 249.44,45.08 249.74,47.02 250.03,47.01 250.31,49.43 250.59,50.84 250.86,52.18 251.14,53.84 251.44,55.78 251.75,57.04 252.08,58.04 252.41,59.91 252.75,61.58 253.09,63.69 253.44,66.52 253.79,67.51 254.15,68.78 254.51,71.20 254.88,73.31 255.25,74.33 255.64,76.02 256.04,76.79 256.46,78.12 256.89,79.84 257.31,80.64 257.73,81.90 258.14,82.96 258.54,83.82 258.91,84.62 259.25,85.33 259.57,85.98 259.89,86.34 260.19,86.61 260.48,86.76 260.75,86.84 261.00,86.87 261.23,86.86 261.43,86.85 261.61,86.85 261.75,86.90" fill="none" stroke="#b02828" stroke-width="0.74" stroke-linejoin="round" opacity="0.55"/>
<polyline points="233.80,84.72 234.10,84.19 234.48,83.61 234.93,82.65 235.44,81.98 235.99,81.18 236.56,80.19 237.14,78.50 237.72,77.64 238.28,76.27 238.80,74.70 239.30,73.69 239.81,71.22 240.32,69.03 240.82,67.65 241.33,64.92 241.84,62.14 242.34,59.97 242.83,58.21 243.32,55.62 243.80,54.87 244.28,53.57 244.76,51.58 245.23,50.81 245.71,49.58 246.18,47.76 246.63,46.89 247.08,45.12 247.50,44.39 247.91,45.51 248.30,44.36 248.66,44.56 248.99,46.31 249.29,47.04 249.58,47.24 249.86,48.95 250.14,50.35 250.41,52.01 250.69,53.23 250.99,55.69 251.30,56.89 251.63,58.61 251.96,59.98 252.30,61.66 252.64,63.40 252.99,66.64 253.34,68.32 253.70,69.87 254.06,70.97 254.43,72.72 254.80,74.24 255.19,75.91 255.59,77.05 256.01,78.60 256.44,79.82 256.86,81.02 257.28,82.37 257.69,83.29 258.09,84.20 258.46,84.98 258.80,85.71 259.12,86.27 259.44,86.62 259.74,86.88 260.03,87.06 260.30,87.14 260.55,87.16 260.78,87.16 260.98,87.15 261.16,87.15 261.30,87.20" fill="none" stroke="#b02828" stroke-width="0.74" stroke-linejoin="round" opacity="0.9"/>
<polyline points="233.35,83.31 233.65,82.85 234.05,82.36 234.51,81.80 235.04,80.68 235.60,79.75 236.18,78.88 236.77,78.34 237.33,76.74 237.87,76.31 238.35,75.19 238.79,73.41 239.22,72.70 239.64,71.26 240.05,69.84 240.44,69.39 240.83,66.57 241.22,65.13 241.60,65.35 241.97,63.35 242.35,62.02 242.72,61.30 243.08,60.44 243.44,60.49 243.79,58.47 244.13,57.73 244.47,57.68 244.82,57.11 245.16,57.39 245.50,57.03 245.85,56.27 246.20,56.27 246.54,57.75 246.88,58.64 247.23,57.91 247.57,59.97 247.91,61.21 248.26,61.94 248.62,62.36 248.98,64.40 249.35,65.37 249.73,65.62 250.10,67.54 250.48,68.15 250.87,69.19 251.26,71.03 251.65,72.40 252.06,73.82 252.48,75.40 252.91,76.77 253.35,77.94 253.81,78.92 254.30,79.86 254.81,80.62 255.33,81.20 255.85,81.99 256.37,83.00 256.89,83.70 257.40,84.41 257.89,84.86 258.35,85.44 258.81,86.01 259.28,86.33 259.75,86.62 260.21,86.80 260.66,87.00 261.09,87.15 261.48,87.20 261.82,87.20 262.12,87.20 262.35,87.20" fill="none" stroke="#2a2ad0" stroke-width="0.99" stroke-linejoin="round" opacity="0.55"/>
<polyline points="234.25,82.74 234.55,82.29 234.95,81.71 235.41,81.32 235.94,80.30 236.50,79.59 237.08,78.17 237.67,77.52 238.23,76.83 238.77,75.48 239.25,74.93 239.69,73.78 240.12,71.87 240.54,69.96 240.95,69.78 241.34,67.40 241.73,65.84 242.12,65.67 242.50,64.60 242.87,63.44 243.25,62.63 243.62,60.49 243.98,59.38 244.34,58.56 244.69,59.10 245.03,56.97 245.37,56.40 245.72,55.66 246.06,55.35 246.40,55.14 246.75,55.66 247.10,55.61 247.44,56.30 247.78,57.94 248.13,57.53 248.47,59.50 248.81,60.40 249.16,61.21 249.52,62.33 249.88,63.75 250.25,64.54 250.63,65.08 251.00,66.44 251.38,67.59 251.77,69.17 252.16,71.44 252.55,71.93 252.96,72.80 253.38,74.60 253.81,76.15 254.25,76.85 254.71,78.08 255.20,78.57 255.71,79.52 256.23,80.81 256.75,81.32 257.27,82.26 257.79,83.04 258.30,83.66 258.79,84.25 259.25,84.81 259.71,85.42 260.18,85.74 260.65,86.04 261.11,86.23 261.56,86.42 261.99,86.54 262.38,86.64 262.72,86.72 263.02,86.81 263.25,86.90" fill="none" stroke="#2a2ad0" stroke-width="0.99" stroke-linejoin="round" opacity="0.55"/>
<polyline points="233.80,83.23 234.10,82.77 234.50,82.26 234.96,81.28 235.49,80.70 236.05,80.01 236.63,79.13 237.22,77.53 237.78,76.94 238.32,75.88 238.80,74.70 239.24,74.19 239.67,72.39 240.09,70.95 240.50,70.39 240.89,68.51 241.28,66.61 241.67,65.29 242.05,64.34 242.42,62.49 242.80,62.37 243.17,61.65 243.53,60.23 243.89,60.02 244.24,59.32 244.58,57.98 244.92,57.53 245.27,56.12 245.61,55.66 245.95,56.95 246.30,55.86 246.65,55.99 246.99,57.54 247.33,57.96 247.68,57.76 248.02,59.01 248.36,59.90 248.71,61.04 249.07,61.72 249.43,63.66 249.80,64.39 250.18,65.64 250.55,66.51 250.93,67.67 251.32,68.88 251.71,71.56 252.10,72.69 252.51,73.73 252.93,74.48 253.36,75.74 253.80,76.83 254.26,78.05 254.75,78.84 255.26,79.97 255.78,80.84 256.30,81.70 256.82,82.72 257.34,83.37 257.85,84.05 258.34,84.63 258.80,85.21 259.26,85.69 259.73,85.99 260.20,86.27 260.66,86.53 261.11,86.69 261.54,86.84 261.93,86.93 262.27,87.03 262.57,87.10 262.80,87.20" fill="none" stroke="#2a2ad0" stroke-width="0.99" stroke-linejoin="round" opacity="0.9"/>
<polyline points="233.35,85.01 233.65,84.32 234.05,83.55 234.51,82.60 235.04,81.49 235.60,79.90 236.18,79.02 236.77,77.12 237.33,75.46 237.87,73.59 238.35,72.52 238.79,70.22 239.22,68.49 239.64,66.98 240.05,65.10 240.44,62.87 240.83,59.62 241.22,57.45 241.60,55.72 241.97,54.29 242.35,53.04 242.72,51.36 243.10,49.94 243.47,47.78 243.83,46.31 244.19,44.32 244.55,43.07 244.89,41.80 245.22,41.45 245.54,40.96 245.85,40.62 246.14,40.36 246.41,40.73 246.67,41.04 246.92,42.75 247.16,43.38 247.40,44.81 247.63,46.20 247.87,46.73 248.10,47.92 248.35,49.65 248.60,52.25 248.83,53.87 249.07,55.23 249.30,57.93 249.54,59.40 249.78,62.44 250.03,63.38 250.29,66.54 250.56,68.92 250.85,69.87 251.16,71.70 251.48,73.02 251.81,75.00 252.15,76.69 252.51,78.42 252.87,79.84 253.23,81.46 253.60,82.70 253.98,84.04 254.35,84.98 254.75,85.72 255.18,86.39 255.64,86.73 256.11,87.02 256.57,87.20 257.01,87.20 257.43,87.20 257.80,87.20 258.11,87.20 258.35,87.20" fill="none" stroke="#1a1a1a" stroke-width="0.74" stroke-linejoin="round" opacity="0.55"/>
<polyline points="234.25,84.41 234.55,83.77 234.95,82.92 235.41,81.98 235.94,80.53 236.50,79.74 237.08,78.10 237.67,76.84 238.23,75.37 238.77,74.06 239.25,71.57 239.69,69.95 240.12,68.60 240.54,66.34 240.95,64.46 241.34,61.65 241.73,60.41 242.12,56.77 242.50,55.86 242.87,53.41 243.25,51.14 243.62,50.56 244.00,47.93 244.37,46.61 244.73,45.21 245.09,43.51 245.45,42.23 245.79,40.99 246.12,41.35 246.44,39.53 246.75,39.36 247.04,39.26 247.31,40.91 247.57,40.91 247.82,42.16 248.06,43.41 248.30,43.80 248.53,44.93 248.77,46.31 249.00,47.55 249.25,49.55 249.50,51.74 249.73,52.81 249.97,55.20 250.20,57.51 250.44,59.58 250.68,61.53 250.93,63.51 251.19,64.91 251.46,67.36 251.75,69.97 252.06,71.07 252.38,73.16 252.71,74.38 253.05,76.44 253.41,77.75 253.77,79.74 254.13,81.15 254.50,82.07 254.88,83.48 255.25,84.30 255.65,85.24 256.08,85.70 256.54,86.12 257.01,86.44 257.47,86.59 257.91,86.67 258.33,86.73 258.70,86.76 259.01,86.80 259.25,86.90" fill="none" stroke="#1a1a1a" stroke-width="0.74" stroke-linejoin="round" opacity="0.55"/>
<polyline points="233.80,84.66 234.10,84.14 234.50,83.30 234.96,82.31 235.49,81.13 236.05,79.97 236.63,77.92 237.22,77.02 237.78,75.09 238.32,74.11 238.80,72.10 239.24,70.56 239.67,68.62 240.09,66.62 240.50,64.88 240.89,62.94 241.28,59.74 241.67,58.34 242.05,56.43 242.42,53.74 242.80,51.60 243.17,50.58 243.55,49.37 243.92,47.37 244.28,45.29 244.64,44.69 245.00,42.79 245.34,42.59 245.67,40.57 245.99,40.64 246.30,40.02 246.59,41.01 246.86,39.98 247.12,41.75 247.37,41.82 247.61,42.75 247.85,43.65 248.08,45.39 248.32,47.47 248.55,49.03 248.80,50.40 249.05,51.48 249.28,52.69 249.52,55.10 249.75,57.42 249.99,59.03 250.23,62.34 250.48,63.07 250.74,65.43 251.01,67.38 251.30,69.17 251.61,70.80 251.93,72.87 252.26,74.81 252.60,77.10 252.96,78.33 253.32,79.93 253.68,81.19 254.05,82.43 254.43,83.75 254.80,84.75 255.20,85.40 255.63,86.06 256.09,86.43 256.56,86.73 257.02,86.88 257.46,86.97 257.88,87.02 258.25,87.06 258.56,87.11 258.80,87.20" fill="none" stroke="#1a1a1a" stroke-width="0.74" stroke-linejoin="round" opacity="0.9"/>
<rect x="35.20" y="121.30" width="50.00" height="50.00" fill="none" stroke="#9c9c9c" stroke-width="0.7"/>
<rect x="31.80" y="170.70" width="1.20" height="1.20" fill="#a8a8a8"/>
<rect x="31.80" y="156.30" width="2.40" height="1.20" fill="#a8a8a8"/>
<rect x="31.80" y="141.90" width="2.40" height="1.20" fill="#a8a8a8"/>
<rect x="31.80" y="127.50" width="2.40" height="1.20" fill="#a8a8a8"/>
<rect x="46.40" y="173.20" width="2.20" height="1.10" fill="#b0b0b0"/>
<rect x="58.90" y="173.20" width="2.20" height="1.10" fill="#b0b0b0"/>
<rect x="71.40" y="173.20" width="2.20" height="1.10" fill="#b0b0b0"/>
<rect x="83.90" y="173.20" width="2.20" height="1.10" fill="#b0b0b0"/>
<rect x="25.60" y="142.30" width="1.50" height="8.50" fill="#c4c4c4"/>
<polyline points="34.75,170.61 35.05,169.98 35.43,169.41 35.88,168.59 36.39,167.50 36.94,166.56 37.51,165.20 38.09,164.01 38.67,162.84 39.23,161.99 39.75,160.30 40.25,159.88 40.77,157.36 41.28,156.00 41.80,154.25 42.31,153.78 42.82,151.60 43.32,150.29 43.81,148.67 44.29,147.91 44.75,146.45 45.19,145.14 45.62,144.54 46.04,143.44 46.45,142.31 46.84,142.71 47.23,141.86 47.62,141.35 48.00,141.36 48.37,140.41 48.75,140.41 49.11,140.71 49.46,141.12 49.79,142.15 50.11,141.85 50.44,143.48 50.77,144.59 51.11,145.37 51.46,145.99 51.84,148.25 52.25,148.32 52.69,150.48 53.15,151.27 53.64,152.65 54.14,154.53 54.66,156.10 55.18,157.96 55.70,160.23 56.23,161.76 56.74,162.80 57.25,164.21 57.76,165.10 58.27,166.03 58.80,167.02 59.32,167.50 59.84,168.34 60.36,168.86 60.86,169.36 61.35,169.70 61.81,170.16 62.25,170.56 62.68,170.92 63.10,171.19 63.52,171.30 63.93,171.30 64.31,171.30 64.67,171.30 65.00,171.30 65.30,171.30 65.55,171.30 65.75,171.30" fill="none" stroke="#b02828" stroke-width="0.99" stroke-linejoin="round" opacity="0.55"/>
<polyline points="35.65,169.97 35.95,169.44 36.33,168.63 36.78,167.93 37.29,166.95 37.84,165.82 38.41,164.84 38.99,163.66 39.57,162.04 40.13,161.24 40.65,160.13 41.15,158.75 41.67,157.83 42.18,156.18 42.70,154.11 43.21,152.31 43.72,150.62 44.22,150.23 44.71,148.66 45.19,147.27 45.65,145.91 46.09,145.01 46.52,143.61 46.94,143.20 47.35,141.76 47.74,141.79 48.13,141.18 48.52,140.75 48.90,139.74 49.27,139.32 49.65,139.73 50.01,140.53 50.36,140.68 50.69,141.68 51.01,141.93 51.34,142.77 51.67,144.59 52.01,144.48 52.36,145.68 52.74,147.46 53.15,148.71 53.59,149.67 54.05,151.31 54.54,152.69 55.04,154.71 55.56,156.68 56.08,158.21 56.60,159.57 57.13,160.91 57.64,162.69 58.15,163.46 58.66,164.60 59.17,165.63 59.70,166.33 60.22,166.93 60.74,167.70 61.26,168.23 61.76,168.81 62.25,169.21 62.71,169.62 63.15,170.05 63.58,170.33 64.00,170.56 64.42,170.75 64.83,170.85 65.21,170.90 65.57,170.93 65.90,170.95 66.20,170.95 66.45,170.96 66.65,171.00" fill="none" stroke="#b02828" stroke-width="0.99" stroke-linejoin="round" opacity="0.55"/>
<polyline points="35.20,170.35 35.50,169.72 35.88,169.05 36.33,168.23 36.84,167.10 37.39,165.97 37.96,165.13 38.54,163.64 39.12,162.62 39.68,161.87 40.20,160.69 40.70,158.58 41.22,157.08 41.73,155.74 42.25,155.13 42.76,152.29 43.27,151.08 43.77,149.41 44.26,148.06 44.74,147.43 45.20,145.79 45.64,145.17 46.07,144.73 46.49,143.81 46.90,142.49 47.29,142.35 47.68,141.39 48.07,141.31 48.45,140.04 48.82,140.07 49.20,140.43 49.56,141.25 49.91,141.16 50.24,141.54 50.56,141.95 50.89,142.89 51.22,143.78 51.56,146.09 51.91,147.07 52.29,148.25 52.70,148.85 53.14,150.41 53.60,151.19 54.09,153.06 54.59,154.18 55.11,156.31 55.63,157.79 56.15,159.28 56.68,161.65 57.19,162.28 57.70,164.03 58.21,164.94 58.72,165.51 59.25,166.54 59.77,167.47 60.29,168.08 60.81,168.52 61.31,169.08 61.80,169.52 62.26,169.88 62.70,170.30 63.13,170.63 63.55,170.86 63.97,171.04 64.38,171.14 64.76,171.21 65.12,171.23 65.45,171.25 65.75,171.25 66.00,171.27 66.20,171.30" fill="none" stroke="#b02828" stroke-width="0.99" stroke-linejoin="round" opacity="0.9"/>
<polyline points="34.75,170.64 35.05,170.00 35.45,169.19 35.93,168.09 36.46,167.04 37.03,166.06 37.62,164.89 38.20,162.97 38.77,161.66 39.29,160.96 39.75,158.64 40.17,157.79 40.56,155.70 40.94,154.46 41.31,153.02 41.66,150.73 41.99,148.57 42.32,146.61 42.64,145.26 42.95,143.50 43.25,141.46 43.54,139.76 43.81,137.89 44.07,135.36 44.32,133.14 44.56,131.74 44.80,129.15 45.03,128.38 45.27,127.51 45.50,126.81 45.75,125.70 46.00,126.41 46.25,128.24 46.50,128.81 46.75,131.70 47.00,132.56 47.25,135.87 47.50,136.95 47.75,140.26 48.00,142.66 48.25,144.18 48.50,146.12 48.74,148.43 48.98,150.45 49.23,151.03 49.47,153.45 49.71,154.51 49.96,156.82 50.22,158.21 50.48,159.82 50.75,161.72 51.03,162.53 51.31,163.82 51.60,164.87 51.89,166.36 52.19,167.02 52.49,167.84 52.80,168.79 53.11,169.49 53.43,170.08 53.75,170.60 54.10,171.03 54.47,171.30 54.87,171.30 55.28,171.30 55.69,171.30 56.08,171.30 56.44,171.30 56.77,171.30 57.04,171.30 57.25,171.30" fill="none" stroke="#1a1a1a" stroke-width="0.99" stroke-linejoin="round" opacity="0.55"/>
<polyline points="35.65,170.04 35.95,169.32 36.35,168.60 36.83,167.73 37.36,166.44 37.93,165.49 38.52,163.97 39.10,162.49 39.67,161.23 40.19,160.21 40.65,158.08 41.07,157.20 41.46,155.13 41.84,153.10 42.21,151.72 42.56,149.82 42.89,148.08 43.22,146.90 43.54,145.14 43.85,142.26 44.15,141.78 44.44,139.40 44.71,137.97 44.97,135.65 45.22,133.09 45.46,130.63 45.70,129.88 45.93,128.42 46.17,126.62 46.40,125.07 46.65,126.02 46.90,126.37 47.15,127.57 47.40,129.22 47.65,131.07 47.90,132.82 48.15,134.56 48.40,137.13 48.65,139.40 48.90,141.99 49.15,143.70 49.40,145.83 49.64,147.19 49.88,149.20 50.13,151.69 50.37,153.28 50.61,155.31 50.86,156.67 51.12,157.58 51.38,159.51 51.65,160.80 51.93,162.08 52.21,163.20 52.50,164.34 52.79,165.59 53.09,166.65 53.39,167.51 53.70,168.28 54.01,168.86 54.33,169.39 54.65,169.97 55.00,170.40 55.37,170.74 55.77,170.92 56.18,171.02 56.59,171.06 56.98,171.06 57.34,171.02 57.67,170.99 57.94,170.98 58.15,171.00" fill="none" stroke="#1a1a1a" stroke-width="0.99" stroke-linejoin="round" opacity="0.55"/>
<polyline points="35.20,170.32 35.50,169.71 35.90,168.72 36.38,168.03 36.91,166.95 37.48,165.40 38.07,164.59 38.65,163.29 39.22,161.38 39.74,160.74 40.20,158.64 40.62,157.22 41.01,155.88 41.39,154.23 41.76,152.53 42.11,149.95 42.44,148.42 42.77,146.01 43.09,144.41 43.40,142.98 43.70,140.62 43.99,139.28 44.26,138.04 44.52,134.93 44.77,133.24 45.01,130.59 45.25,129.87 45.48,127.29 45.72,126.21 45.95,126.38 46.20,125.71 46.45,126.33 46.70,127.44 46.95,128.75 47.20,130.49 47.45,132.18 47.70,134.46 47.95,136.91 48.20,139.29 48.45,141.58 48.70,144.43 48.95,145.15 49.19,146.88 49.43,148.98 49.68,150.66 49.92,153.64 50.16,155.65 50.41,157.06 50.67,158.92 50.93,159.95 51.20,161.25 51.48,162.48 51.76,163.88 52.05,164.72 52.34,165.91 52.64,166.78 52.94,167.74 53.25,168.56 53.56,169.18 53.88,169.71 54.20,170.31 54.55,170.74 54.92,171.03 55.32,171.22 55.73,171.30 56.14,171.30 56.53,171.30 56.89,171.30 57.22,171.29 57.49,171.28 57.70,171.30" fill="none" stroke="#1a1a1a" stroke-width="0.99" stroke-linejoin="round" opacity="0.9"/>
<polyline points="34.75,170.61 35.05,169.88 35.45,169.20 35.91,168.25 36.44,166.98 37.00,165.88 37.58,164.31 38.17,162.94 38.73,161.61 39.27,160.65 39.75,158.75 40.20,158.34 40.63,155.59 41.05,154.16 41.47,152.38 41.88,151.84 42.27,149.59 42.66,148.19 43.03,146.46 43.39,145.57 43.75,143.95 44.09,142.42 44.41,141.52 44.72,140.07 45.02,138.55 45.31,138.59 45.60,137.39 45.88,136.59 46.17,136.40 46.45,135.36 46.75,135.41 47.05,135.93 47.35,136.72 47.65,138.26 47.95,138.55 48.25,140.82 48.55,142.59 48.85,144.00 49.15,145.19 49.45,147.92 49.75,148.32 50.05,150.68 50.35,151.59 50.65,153.01 50.95,154.90 51.25,156.43 51.55,158.21 51.85,160.38 52.15,161.84 52.45,162.82 52.75,164.21 53.05,165.10 53.33,166.03 53.62,167.02 53.90,167.50 54.19,168.34 54.48,168.86 54.78,169.36 55.09,169.70 55.41,170.16 55.75,170.56 56.13,170.92 56.55,171.19 57.00,171.30 57.47,171.30 57.94,171.30 58.39,171.30 58.81,171.30 59.19,171.30 59.51,171.30 59.75,171.30" fill="none" stroke="#2a2ad0" stroke-width="1.12" stroke-linejoin="round" opacity="0.55"/>
<polyline points="35.65,169.97 35.95,169.35 36.35,168.41 36.81,167.58 37.34,166.44 37.90,165.12 38.48,163.98 39.07,162.62 39.63,160.78 40.17,159.88 40.65,158.64 41.10,157.14 41.53,156.18 41.96,154.43 42.37,152.24 42.78,150.38 43.17,148.60 43.56,148.13 43.93,146.44 44.30,144.93 44.65,143.41 44.99,142.29 45.31,140.59 45.62,139.83 45.92,138.01 46.21,137.66 46.50,136.71 46.78,136.00 47.07,134.78 47.35,134.28 47.65,134.73 47.95,135.75 48.25,136.28 48.55,137.78 48.85,138.63 49.15,140.12 49.45,142.59 49.75,143.11 50.05,144.88 50.35,147.13 50.65,148.71 50.95,149.87 51.25,151.63 51.55,153.06 51.85,155.06 52.15,156.98 52.45,158.44 52.75,159.73 53.05,160.99 53.35,162.71 53.65,163.46 53.95,164.60 54.23,165.63 54.52,166.33 54.80,166.93 55.09,167.70 55.38,168.23 55.68,168.81 55.99,169.21 56.31,169.62 56.65,170.05 57.03,170.33 57.45,170.56 57.90,170.75 58.37,170.85 58.84,170.90 59.29,170.93 59.71,170.95 60.09,170.95 60.41,170.96 60.65,171.00" fill="none" stroke="#2a2ad0" stroke-width="1.12" stroke-linejoin="round" opacity="0.55"/>
<polyline points="35.20,170.35 35.50,169.62 35.90,168.84 36.36,167.88 36.89,166.57 37.45,165.25 38.03,164.27 38.62,162.56 39.18,161.40 39.72,160.56 40.20,159.25 40.65,156.90 41.08,155.30 41.51,153.91 41.92,153.26 42.33,150.35 42.72,149.06 43.11,147.30 43.48,145.84 43.84,145.09 44.20,143.29 44.54,142.44 44.86,141.71 45.17,140.44 45.47,138.74 45.76,138.23 46.05,136.92 46.33,136.55 46.62,135.09 46.90,135.02 47.20,135.43 47.50,136.47 47.80,136.76 48.10,137.65 48.40,138.65 48.70,140.23 49.00,141.78 49.30,144.72 49.60,146.27 49.90,147.92 50.20,148.85 50.50,150.61 50.80,151.51 51.10,153.43 51.40,154.55 51.70,156.63 52.00,158.03 52.30,159.44 52.60,161.72 52.90,162.30 53.20,164.03 53.50,164.94 53.78,165.51 54.07,166.54 54.35,167.47 54.64,168.08 54.93,168.52 55.23,169.08 55.54,169.52 55.86,169.88 56.20,170.30 56.58,170.63 57.00,170.86 57.45,171.04 57.92,171.14 58.39,171.21 58.84,171.23 59.26,171.25 59.64,171.25 59.96,171.27 60.20,171.30" fill="none" stroke="#2a2ad0" stroke-width="1.12" stroke-linejoin="round" opacity="0.9"/>
<rect x="100.60" y="121.30" width="50.00" height="50.00" fill="none" stroke="#9c9c9c" stroke-width="0.7"/>
<rect x="97.20" y="170.70" width="1.20" height="1.20" fill="#a8a8a8"/>
<rect x="97.20" y="156.30" width="2.40" height="1.20" fill="#a8a8a8"/>
<rect x="97.20" y="141.90" width="2.40" height="1.20" fill="#a8a8a8"/>
<rect x="97.20" y="127.50" width="2.40" height="1.20" fill="#a8a8a8"/>
<rect x="111.80" y="173.20" width="2.20" height="1.10" fill="#b0b0b0"/>
<rect x="124.30" y="173.20" width="2.20" height="1.10" fill="#b0b0b0"/>
<rect x="136.80" y="173.20" width="2.20" height="1.10" fill="#b0b0b0"/>
<rect x="149.30" y="173.20" width="2.20" height="1.10" fill="#b0b0b0"/>
<rect x="91.00" y="142.30" width="1.50" height="8.50" fill="#c4c4c4"/>
<polyline points="100.15,149.73 100.30,148.34 100.49,147.88 100.72,147.50 100.97,148.11 101.24,147.80 101.53,147.49 101.82,146.41 102.11,145.72 102.39,145.12 102.65,144.07 102.90,143.37 103.15,141.83 103.40,140.70 103.65,141.00 103.90,139.83 104.15,139.01 104.40,137.57 104.65,136.26 104.90,134.55 105.15,134.69 105.40,133.11 105.65,132.50 105.90,131.13 106.15,129.90 106.40,128.47 106.65,127.65 106.90,126.15 107.15,125.91 107.40,125.21 107.65,125.27 107.90,126.20 108.15,126.77 108.40,127.51 108.65,128.57 108.90,129.39 109.15,131.85 109.40,132.66 109.65,134.02 109.90,136.10 110.15,136.56 110.39,137.80 110.61,137.73 110.82,139.31 111.03,140.25 111.24,140.31 111.47,141.31 111.72,141.54 111.99,142.53 112.30,142.98 112.65,143.80 113.05,146.01 113.49,146.92 113.97,148.86 114.47,149.48 114.99,150.99 115.53,153.09 116.07,154.81 116.61,155.58 117.14,157.17 117.65,159.22 118.16,159.90 118.69,161.36 119.23,163.36 119.77,164.57 120.31,165.68 120.83,166.47 121.33,167.80 121.81,168.54 122.25,169.47 122.65,170.07 123.01,170.68 123.35,171.01 123.66,171.28 123.95,171.30 124.21,171.30 124.45,171.30 124.66,171.30 124.85,171.30 125.01,171.30 125.15,171.30" fill="none" stroke="#5a3a30" stroke-width="0.99" stroke-linejoin="round" opacity="0.55"/>
<polyline points="101.05,149.01 101.20,148.38 101.39,148.26 101.62,146.74 101.87,147.33 102.14,147.01 102.43,146.07 102.72,145.50 103.01,144.49 103.29,144.08 103.55,143.63 103.80,143.28 104.05,141.92 104.30,140.76 104.55,139.52 104.80,139.17 105.05,137.38 105.30,135.88 105.55,135.60 105.80,134.51 106.05,134.03 106.30,132.37 106.55,131.60 106.80,129.86 107.05,128.83 107.30,126.98 107.55,126.52 107.80,125.19 108.05,124.82 108.30,124.19 108.55,124.83 108.80,124.64 109.05,125.40 109.30,126.45 109.55,128.03 109.80,129.05 110.05,131.12 110.30,132.52 110.55,133.37 110.80,135.03 111.05,136.21 111.29,136.11 111.51,137.49 111.72,137.97 111.93,138.70 112.14,139.38 112.37,140.89 112.62,141.22 112.89,141.27 113.20,141.73 113.55,143.89 113.95,144.53 114.39,145.34 114.87,147.24 115.37,148.61 115.89,151.57 116.43,152.03 116.97,154.04 117.51,154.95 118.04,157.62 118.55,158.51 119.06,159.29 119.59,161.20 120.13,162.69 120.67,163.63 121.21,164.87 121.73,166.19 122.23,166.99 122.71,167.99 123.15,168.88 123.55,169.52 123.91,170.04 124.25,170.42 124.56,170.70 124.85,170.86 125.11,170.94 125.35,170.96 125.56,170.96 125.75,170.95 125.91,170.95 126.05,171.00" fill="none" stroke="#5a3a30" stroke-width="0.99" stroke-linejoin="round" opacity="0.55"/>
<polyline points="100.60,148.38 100.75,147.99 100.94,148.04 101.17,147.28 101.42,147.25 101.69,146.31 101.98,146.44 102.27,145.93 102.56,144.96 102.84,145.02 103.10,143.05 103.35,143.76 103.60,142.00 103.85,140.60 104.10,139.93 104.35,138.93 104.60,137.18 104.85,137.21 105.10,136.04 105.35,134.93 105.60,134.02 105.85,133.42 106.10,131.58 106.35,130.46 106.60,129.85 106.85,128.57 107.10,126.35 107.35,125.34 107.60,125.92 107.85,125.06 108.10,124.03 108.35,124.67 108.60,125.58 108.85,126.72 109.10,127.73 109.35,129.21 109.60,131.09 109.85,133.16 110.10,134.25 110.35,135.92 110.60,135.51 110.84,136.84 111.06,138.56 111.27,138.75 111.48,138.95 111.69,139.44 111.92,141.01 112.17,141.92 112.44,142.12 112.75,143.18 113.10,144.18 113.50,145.42 113.94,146.30 114.42,148.38 114.92,149.68 115.44,151.75 115.98,153.37 116.52,154.01 117.06,155.94 117.59,157.28 118.10,158.34 118.61,159.88 119.14,161.86 119.68,162.59 120.22,163.67 120.76,165.11 121.28,166.34 121.78,167.44 122.26,168.23 122.70,169.13 123.10,169.77 123.46,170.39 123.80,170.73 124.11,171.00 124.40,171.16 124.66,171.24 124.90,171.26 125.11,171.26 125.30,171.25 125.46,171.25 125.60,171.30" fill="none" stroke="#5a3a30" stroke-width="0.99" stroke-linejoin="round" opacity="0.9"/>
<polyline points="100.15,154.62 100.39,153.03 100.70,153.41 101.07,151.75 101.49,150.54 101.93,149.76 102.39,147.87 102.86,146.74 103.32,145.97 103.75,144.61 104.15,144.37 104.52,143.10 104.90,142.20 105.27,141.20 105.63,140.31 105.99,140.32 106.35,139.87 106.69,138.27 107.02,138.32 107.34,136.90 107.65,137.02 107.94,135.58 108.20,135.48 108.44,134.59 108.67,134.72 108.90,133.99 109.13,132.47 109.36,132.09 109.60,132.45 109.86,132.00 110.15,132.18 110.46,133.68 110.78,134.22 111.11,133.46 111.45,134.33 111.81,136.27 112.17,137.84 112.53,138.85 112.90,139.68 113.28,140.88 113.65,141.57 114.03,142.69 114.40,144.43 114.78,144.43 115.17,146.59 115.56,147.92 115.95,148.31 116.36,150.60 116.78,150.95 117.21,153.54 117.65,154.52 118.12,155.38 118.61,157.01 119.12,158.98 119.65,159.73 120.18,161.09 120.71,163.00 121.23,164.50 121.73,165.29 122.21,166.76 122.65,167.56 123.08,168.46 123.50,169.07 123.92,169.71 124.33,170.09 124.71,170.50 125.07,170.78 125.40,170.97 125.70,171.22 125.95,171.30 126.15,171.30" fill="none" stroke="#b02828" stroke-width="1.24" stroke-linejoin="round" opacity="0.55"/>
<polyline points="101.05,153.47 101.29,153.16 101.60,152.29 101.97,151.48 102.39,150.74 102.83,149.37 103.29,147.26 103.76,146.18 104.22,145.43 104.65,144.27 105.05,144.24 105.42,143.00 105.80,141.73 106.17,140.72 106.53,139.72 106.89,139.54 107.25,139.31 107.59,137.38 107.92,137.16 108.24,136.35 108.55,136.18 108.84,135.01 109.10,134.07 109.34,134.42 109.57,133.22 109.80,133.20 110.03,133.15 110.26,132.27 110.50,132.57 110.76,132.34 111.05,131.30 111.36,131.95 111.68,133.17 112.01,133.60 112.35,133.70 112.71,135.98 113.07,136.76 113.43,137.53 113.80,138.80 114.18,139.37 114.55,141.08 114.93,141.53 115.30,143.52 115.68,145.17 116.07,145.25 116.46,146.59 116.85,148.38 117.26,150.17 117.68,150.35 118.11,152.02 118.55,153.67 119.02,154.33 119.51,155.68 120.02,158.09 120.55,159.42 121.08,160.86 121.61,162.27 122.13,163.34 122.63,164.88 123.11,166.02 123.55,167.01 123.98,167.70 124.40,168.37 124.82,169.03 125.23,169.50 125.61,169.86 125.97,170.18 126.30,170.39 126.60,170.60 126.85,170.80 127.05,171.00" fill="none" stroke="#b02828" stroke-width="1.24" stroke-linejoin="round" opacity="0.55"/>
<polyline points="100.60,153.05 100.84,153.78 101.15,152.76 101.52,150.68 101.94,150.48 102.38,148.85 102.84,148.71 103.31,147.50 103.77,145.48 104.20,144.90 104.60,143.79 104.97,142.58 105.35,141.98 105.72,141.09 106.08,140.40 106.44,140.40 106.80,139.30 107.14,137.48 107.47,137.30 107.79,137.65 108.10,136.72 108.39,135.87 108.65,135.30 108.89,134.73 109.12,133.29 109.35,133.12 109.58,132.44 109.81,131.94 110.05,132.51 110.31,131.41 110.60,131.79 110.91,132.99 111.23,133.84 111.56,133.62 111.90,135.36 112.26,136.30 112.62,136.27 112.98,138.60 113.35,138.54 113.73,140.15 114.10,140.63 114.48,141.76 114.85,143.82 115.23,145.31 115.62,145.38 116.01,146.99 116.40,148.74 116.81,150.02 117.23,150.60 117.66,152.80 118.10,153.17 118.57,155.82 119.06,156.82 119.57,158.28 120.10,160.06 120.63,160.82 121.16,162.28 121.68,164.01 122.18,165.42 122.66,166.54 123.10,167.41 123.53,168.13 123.95,168.74 124.37,169.38 124.78,169.80 125.16,170.19 125.52,170.47 125.85,170.69 126.15,170.91 126.40,171.10 126.60,171.30" fill="none" stroke="#b02828" stroke-width="1.24" stroke-linejoin="round" opacity="0.9"/>
<polyline points="100.15,148.12 100.30,147.57 100.49,149.34 100.72,149.35 100.97,150.00 101.24,151.19 101.53,151.31 101.82,152.12 102.11,153.15 102.39,153.35 102.65,154.37 102.89,154.08 103.13,153.98 103.35,153.64 103.58,153.28 103.81,153.73 104.04,153.64 104.29,152.36 104.55,152.70 104.84,151.57 105.15,152.02 105.49,150.93 105.87,151.17 106.27,150.61 106.69,151.05 107.12,150.58 107.55,149.28 107.98,149.07 108.39,149.51 108.78,149.08 109.15,149.18 109.49,150.49 109.81,150.73 110.12,149.57 110.42,149.98 110.71,151.40 111.00,152.42 111.28,152.87 111.57,153.15 111.85,153.84 112.15,154.07 112.45,154.78 112.75,156.12 113.05,155.85 113.35,157.56 113.65,158.51 113.95,158.74 114.25,160.37 114.55,160.63 114.85,162.25 115.15,162.83 115.45,163.31 115.75,164.15 116.05,165.13 116.35,165.46 116.65,166.07 116.95,166.97 117.25,167.67 117.55,167.97 117.85,168.70 118.15,169.07 118.46,169.56 118.80,169.89 119.14,170.28 119.49,170.52 119.84,170.79 120.17,171.00 120.47,171.14 120.74,171.30 120.97,171.30 121.15,171.30" fill="none" stroke="#2a2ad0" stroke-width="1.49" stroke-linejoin="round" opacity="0.55"/>
<polyline points="101.05,146.97 101.20,147.69 101.39,148.22 101.62,149.07 101.87,150.21 102.14,150.81 102.43,150.70 102.72,151.56 103.01,152.60 103.29,153.01 103.55,154.24 103.79,153.98 104.03,153.52 104.25,153.16 104.48,152.69 104.71,152.95 104.94,153.07 105.19,151.46 105.45,151.54 105.74,151.02 106.05,151.18 106.39,150.36 106.77,149.77 107.17,150.44 107.59,149.54 108.02,149.80 108.45,149.96 108.88,149.24 109.29,149.64 109.68,149.42 110.05,148.30 110.39,148.76 110.71,149.68 111.02,149.71 111.32,149.35 111.61,151.11 111.90,151.34 112.18,151.55 112.47,152.27 112.75,152.33 113.05,153.58 113.35,153.62 113.65,155.23 113.95,156.46 114.25,156.32 114.55,157.32 114.85,158.64 115.15,159.89 115.45,160.03 115.75,161.11 116.05,162.09 116.35,162.48 116.65,163.18 116.95,164.38 117.25,165.01 117.55,165.67 117.85,166.30 118.15,166.75 118.45,167.48 118.75,168.02 119.05,168.50 119.36,168.86 119.70,169.23 120.04,169.62 120.39,169.93 120.74,170.17 121.07,170.40 121.37,170.55 121.64,170.72 121.87,170.87 122.05,171.00" fill="none" stroke="#2a2ad0" stroke-width="1.49" stroke-linejoin="round" opacity="0.55"/>
<polyline points="100.60,146.55 100.75,148.32 100.94,148.68 101.17,148.28 101.42,149.94 101.69,150.29 101.98,152.15 102.27,152.87 102.56,152.65 102.84,153.64 103.10,153.79 103.34,153.56 103.58,153.76 103.80,153.53 104.03,153.37 104.26,153.80 104.49,153.07 104.74,151.56 105.00,151.68 105.29,152.32 105.60,151.72 105.94,151.22 106.32,151.00 106.72,150.75 107.14,149.61 107.57,149.71 108.00,149.25 108.43,148.91 108.84,149.58 109.23,148.49 109.60,148.79 109.94,149.80 110.26,150.35 110.57,149.73 110.87,151.00 111.16,151.43 111.45,150.85 111.73,152.62 112.02,152.01 112.30,153.11 112.60,153.13 112.90,153.85 113.20,155.53 113.50,156.61 113.80,156.48 114.10,157.70 114.40,158.98 114.70,159.88 115.00,160.30 115.30,161.70 115.60,161.96 115.90,163.39 116.20,163.91 116.50,164.63 116.80,165.48 117.10,165.79 117.40,166.45 117.70,167.26 118.00,167.92 118.30,168.44 118.60,168.87 118.91,169.24 119.25,169.57 119.59,169.96 119.94,170.22 120.29,170.49 120.62,170.69 120.92,170.86 121.19,171.03 121.42,171.17 121.60,171.30" fill="none" stroke="#2a2ad0" stroke-width="1.49" stroke-linejoin="round" opacity="0.9"/>
<polyline points="100.15,165.79 100.30,165.13 100.49,165.20 100.72,164.46 100.97,163.88 101.24,163.50 101.53,162.56 101.82,161.98 102.11,161.61 102.39,160.85 102.65,160.78 102.90,160.00 103.14,159.43 103.38,158.77 103.63,158.15 103.87,158.26 104.11,158.00 104.36,156.74 104.62,156.91 104.88,155.74 105.15,156.00 105.43,154.78 105.72,154.87 106.01,154.18 106.31,154.51 106.62,153.96 106.93,152.57 107.23,152.28 107.54,152.66 107.85,152.15 108.15,152.18 108.45,153.42 108.75,153.59 109.05,152.39 109.35,152.74 109.65,154.12 109.95,155.09 110.25,155.51 110.55,155.73 110.85,156.37 111.15,156.58 111.45,157.24 111.75,158.46 112.05,158.32 112.35,159.87 112.65,160.77 112.95,161.09 113.25,162.54 113.55,162.86 113.85,164.25 114.15,164.78 114.45,165.21 114.75,165.89 115.05,166.65 115.35,166.90 115.65,167.36 115.95,168.03 116.25,168.54 116.55,168.75 116.85,169.29 117.15,169.58 117.46,169.96 117.80,170.22 118.14,170.53 118.49,170.72 118.84,170.94 119.17,171.11 119.47,171.23 119.74,171.30 119.97,171.30 120.15,171.30" fill="none" stroke="#2a2ad0" stroke-width="1.36" stroke-linejoin="round" opacity="0.55"/>
<polyline points="101.05,164.99 101.20,164.80 101.39,164.40 101.62,164.00 101.87,163.66 102.14,163.01 102.43,161.96 102.72,161.41 103.01,161.04 103.29,160.41 103.55,160.49 103.80,159.74 104.04,158.93 104.28,158.26 104.53,157.56 104.77,157.51 105.01,157.43 105.26,155.89 105.52,155.80 105.78,155.19 106.05,155.17 106.33,154.20 106.62,153.46 106.91,154.01 107.21,153.01 107.52,153.17 107.83,153.25 108.13,152.45 108.44,152.78 108.75,152.49 109.05,151.30 109.35,151.69 109.65,152.55 109.95,152.52 110.25,152.11 110.55,153.83 110.85,154.02 111.15,154.18 111.45,154.87 111.75,154.91 112.05,156.07 112.35,156.16 112.65,157.61 112.95,158.74 113.25,158.73 113.55,159.69 113.85,160.90 114.15,162.03 114.45,162.26 114.75,163.22 115.05,164.07 115.35,164.43 115.65,165.00 115.95,165.94 116.25,166.41 116.55,166.91 116.85,167.38 117.15,167.69 117.45,168.23 117.75,168.63 118.05,169.00 118.36,169.28 118.70,169.57 119.04,169.89 119.39,170.13 119.74,170.32 120.07,170.51 120.37,170.64 120.64,170.77 120.87,170.89 121.05,171.00" fill="none" stroke="#2a2ad0" stroke-width="1.36" stroke-linejoin="round" opacity="0.55"/>
<polyline points="100.60,165.03 100.75,165.22 100.94,164.76 101.17,163.84 101.42,163.70 101.69,162.91 101.98,162.86 102.27,162.27 102.56,161.19 102.84,160.92 103.10,160.29 103.35,159.55 103.59,159.19 103.83,158.61 104.08,158.16 104.32,158.27 104.56,157.47 104.81,156.00 105.07,155.96 105.33,156.42 105.60,155.70 105.88,155.06 106.17,154.69 106.46,154.33 106.76,153.08 107.07,153.09 107.38,152.54 107.68,152.13 107.99,152.72 108.30,151.56 108.60,151.79 108.90,152.73 109.20,153.22 109.50,152.54 109.80,153.77 110.10,154.14 110.40,153.52 110.70,155.25 111.00,154.62 111.30,155.66 111.60,155.70 111.90,156.39 112.20,157.91 112.50,158.92 112.80,158.91 113.10,160.05 113.40,161.23 113.70,162.08 114.00,162.53 114.30,163.75 114.60,164.03 114.90,165.20 115.20,165.63 115.50,166.20 115.80,166.85 116.10,167.07 116.40,167.56 116.70,168.15 117.00,168.64 117.30,169.03 117.60,169.36 117.91,169.65 118.25,169.91 118.59,170.21 118.94,170.42 119.29,170.64 119.62,170.80 119.92,170.94 120.19,171.08 120.42,171.19 120.60,171.30" fill="none" stroke="#2a2ad0" stroke-width="1.36" stroke-linejoin="round" opacity="0.9"/>
<rect x="169.40" y="121.30" width="50.00" height="50.00" fill="none" stroke="#9c9c9c" stroke-width="0.7"/>
<rect x="166.00" y="170.70" width="1.20" height="1.20" fill="#a8a8a8"/>
<rect x="166.00" y="156.30" width="2.40" height="1.20" fill="#a8a8a8"/>
<rect x="166.00" y="141.90" width="2.40" height="1.20" fill="#a8a8a8"/>
<rect x="166.00" y="127.50" width="2.40" height="1.20" fill="#a8a8a8"/>
<rect x="180.60" y="173.20" width="2.20" height="1.10" fill="#b0b0b0"/>
<rect x="193.10" y="173.20" width="2.20" height="1.10" fill="#b0b0b0"/>
<rect x="205.60" y="173.20" width="2.20" height="1.10" fill="#b0b0b0"/>
<rect x="218.10" y="173.20" width="2.20" height="1.10" fill="#b0b0b0"/>
<rect x="159.80" y="142.30" width="1.50" height="8.50" fill="#c4c4c4"/>
<polyline points="168.95,171.30 169.19,170.73 169.50,169.56 169.87,168.42 170.29,166.91 170.73,165.35 171.19,163.47 171.66,162.07 172.12,160.26 172.55,158.39 172.95,156.03 173.32,154.85 173.68,153.92 174.04,151.45 174.39,149.32 174.73,147.87 175.07,145.25 175.42,143.75 175.76,142.73 176.10,140.59 176.45,138.92 176.80,138.32 177.17,135.96 177.53,134.18 177.90,131.96 178.26,131.25 178.62,129.72 178.97,128.23 179.31,128.41 179.64,127.40 179.95,127.16 180.24,128.04 180.52,128.09 180.79,130.17 181.05,131.15 181.29,132.32 181.53,134.24 181.77,136.94 182.00,138.26 182.22,139.13 182.45,142.16 182.67,143.11 182.88,144.67 183.09,146.76 183.29,148.15 183.48,150.74 183.67,152.51 183.87,154.06 184.06,155.84 184.25,157.31 184.45,159.33 184.66,160.96 184.88,161.71 185.11,163.71 185.35,165.25 185.58,166.69 185.79,167.84 186.00,169.04 186.18,170.00 186.33,170.90 186.45,171.30" fill="none" stroke="#444" stroke-width="0.62" stroke-linejoin="round" opacity="0.55"/>
<polyline points="169.85,171.00 170.09,170.08 170.40,168.98 170.77,167.56 171.19,166.38 171.63,164.31 172.09,162.93 172.56,161.00 173.02,159.79 173.45,157.23 173.85,155.77 174.22,154.06 174.58,152.16 174.94,149.96 175.29,148.81 175.63,146.40 175.97,145.38 176.32,142.74 176.66,141.39 177.00,139.96 177.35,139.15 177.70,136.31 178.07,134.75 178.43,134.13 178.80,131.27 179.16,131.16 179.52,129.25 179.87,127.60 180.21,127.66 180.54,127.03 180.85,126.25 181.14,127.35 181.42,127.19 181.69,128.98 181.95,130.29 182.19,132.40 182.43,133.42 182.67,135.43 182.90,137.91 183.12,139.33 183.35,141.30 183.57,142.87 183.78,144.65 183.99,146.81 184.19,148.00 184.38,150.14 184.57,151.52 184.77,152.77 184.96,155.66 185.15,156.51 185.35,158.88 185.56,160.45 185.78,161.66 186.01,162.76 186.25,164.36 186.47,165.79 186.69,166.98 186.90,168.32 187.08,169.39 187.23,170.27 187.35,171.00" fill="none" stroke="#444" stroke-width="0.62" stroke-linejoin="round" opacity="0.55"/>
<polyline points="169.40,171.30 169.64,170.42 169.95,169.24 170.32,168.13 170.74,166.46 171.18,165.07 171.64,162.84 172.11,161.14 172.57,160.22 173.00,158.37 173.40,155.61 173.77,154.58 174.13,152.75 174.49,150.63 174.84,148.58 175.18,147.07 175.52,144.95 175.87,143.23 176.21,142.57 176.55,140.11 176.90,138.47 177.25,137.10 177.62,134.99 177.98,134.60 178.35,132.35 178.71,131.06 179.07,130.21 179.42,127.66 179.76,127.53 180.09,126.87 180.40,127.23 180.69,127.33 180.97,127.87 181.24,128.52 181.50,130.60 181.74,132.67 181.98,134.73 182.22,135.82 182.45,137.80 182.67,140.09 182.90,141.22 183.12,142.80 183.33,145.07 183.54,147.10 183.74,148.76 183.93,150.86 184.12,151.49 184.32,153.87 184.51,154.91 184.70,157.83 184.90,158.48 185.11,160.33 185.33,162.00 185.56,163.29 185.80,164.74 186.03,166.13 186.24,167.47 186.45,168.66 186.63,169.72 186.78,170.58 186.90,171.30" fill="none" stroke="#444" stroke-width="0.62" stroke-linejoin="round" opacity="0.9" stroke-dasharray="2,1"/>
<polyline points="168.95,170.56 169.25,170.27 169.63,169.79 170.08,169.35 170.59,168.68 171.14,168.01 171.71,167.53 172.29,166.60 172.87,166.28 173.43,165.51 173.95,165.21 174.45,165.04 174.97,164.64 175.48,164.24 176.00,164.16 176.51,163.37 177.02,163.47 177.52,163.61 178.01,163.32 178.49,162.84 178.95,162.37 179.39,162.19 179.82,162.04 180.24,161.55 180.65,162.12 181.04,161.62 181.43,161.23 181.82,160.51 182.20,160.20 182.57,159.72 182.95,158.67 183.32,158.03 183.67,157.08 184.01,156.53 184.34,155.66 184.67,152.97 185.00,151.85 185.34,151.61 185.69,148.81 186.06,147.73 186.45,146.70 186.87,144.91 187.31,142.32 187.77,140.88 188.25,138.41 188.73,134.90 189.21,133.81 189.68,131.33 190.13,129.97 190.56,129.09 190.95,128.84 191.31,129.43 191.65,129.39 191.98,130.87 192.28,132.76 192.58,134.87 192.86,138.17 193.13,140.68 193.41,142.24 193.68,144.96 193.95,147.07 194.22,148.99 194.47,150.72 194.71,152.33 194.94,154.59 195.17,155.74 195.40,157.97 195.64,159.34 195.89,161.15 196.16,162.65 196.45,164.10 196.78,164.99 197.14,166.33 197.54,167.32 197.95,168.31 198.36,169.00 198.75,169.55 199.13,170.20 199.46,170.76 199.74,171.18 199.95,171.30" fill="none" stroke="#b02828" stroke-width="0.81" stroke-linejoin="round" opacity="0.55"/>
<polyline points="169.85,170.00 170.15,169.67 170.53,169.17 170.98,168.76 171.49,168.12 172.04,167.50 172.61,166.73 173.19,166.26 173.77,165.62 174.33,165.01 174.85,164.25 175.35,164.10 175.87,164.15 176.38,163.60 176.90,163.24 177.41,163.22 177.92,162.65 178.42,162.59 178.91,162.74 179.39,162.25 179.85,161.90 180.29,162.15 180.72,161.53 181.14,161.26 181.55,160.71 181.94,160.97 182.33,160.59 182.72,160.02 183.10,160.26 183.47,159.36 183.85,158.55 184.22,158.10 184.57,156.52 184.91,156.29 185.24,154.71 185.57,152.97 185.90,151.76 186.24,151.19 186.59,149.17 186.96,146.73 187.35,146.56 187.77,144.12 188.21,141.86 188.67,139.85 189.15,137.00 189.63,135.36 190.11,133.06 190.58,130.87 191.03,129.35 191.46,128.10 191.85,128.31 192.21,128.88 192.55,128.59 192.88,130.98 193.18,133.12 193.47,135.57 193.76,137.55 194.03,140.23 194.31,142.08 194.58,144.61 194.85,146.38 195.12,147.42 195.37,150.04 195.61,151.79 195.84,153.57 196.07,155.02 196.30,157.83 196.54,159.36 196.79,160.93 197.06,161.94 197.35,163.26 197.68,164.50 198.04,165.70 198.44,166.66 198.85,167.66 199.26,168.32 199.65,169.11 200.03,169.56 200.36,170.13 200.64,170.61 200.85,171.00" fill="none" stroke="#b02828" stroke-width="0.81" stroke-linejoin="round" opacity="0.55"/>
<polyline points="169.40,170.26 169.70,169.91 170.08,169.49 170.53,168.87 171.04,168.47 171.59,167.55 172.16,167.06 172.74,166.32 173.32,165.98 173.88,165.06 174.40,164.70 174.90,164.32 175.42,163.95 175.93,163.51 176.45,163.59 176.96,163.11 177.47,163.30 177.97,162.69 178.46,162.67 178.94,162.53 179.40,162.65 179.84,161.67 180.27,161.48 180.69,161.88 181.10,160.95 181.49,161.57 181.88,160.97 182.27,160.30 182.65,160.46 183.02,159.82 183.40,158.61 183.77,158.33 184.12,156.56 184.46,156.05 184.79,154.76 185.12,153.95 185.45,151.83 185.79,150.57 186.14,149.73 186.51,147.83 186.90,146.60 187.32,144.78 187.76,142.74 188.22,140.79 188.70,137.75 189.18,135.66 189.66,132.97 190.13,130.48 190.58,130.09 191.01,128.16 191.40,128.81 191.76,129.31 192.10,129.86 192.43,130.54 192.73,132.67 193.03,134.91 193.31,136.73 193.58,139.73 193.86,142.27 194.13,144.10 194.40,145.80 194.67,147.46 194.92,150.20 195.16,151.12 195.39,153.58 195.62,155.30 195.85,157.59 196.09,159.56 196.34,161.35 196.61,162.58 196.90,164.15 197.23,165.27 197.59,166.13 197.99,166.91 198.40,167.87 198.81,168.56 199.20,169.41 199.58,169.91 199.91,170.46 200.19,170.88 200.40,171.30" fill="none" stroke="#b02828" stroke-width="0.81" stroke-linejoin="round" opacity="0.9"/>
<polyline points="168.95,170.56 169.19,170.23 169.50,169.71 169.87,169.26 170.29,168.55 170.73,167.83 171.19,167.27 171.66,166.22 172.12,165.77 172.55,164.77 172.95,164.23 173.32,163.77 173.68,162.97 174.04,162.10 174.39,161.59 174.73,160.07 175.07,159.75 175.42,159.50 175.76,158.60 176.10,157.39 176.45,156.21 176.80,155.45 177.14,154.57 177.48,153.01 177.83,153.24 178.17,151.68 178.51,150.41 178.86,148.80 179.22,148.04 179.58,147.27 179.95,146.03 180.34,145.62 180.75,145.03 181.18,145.03 181.61,144.77 182.04,142.85 182.47,142.60 182.88,143.33 183.27,141.58 183.63,141.59 183.95,141.70 184.23,141.24 184.46,140.29 184.67,140.68 184.85,140.16 185.01,138.62 185.17,139.42 185.34,138.66 185.52,138.75 185.72,138.96 185.95,139.34 186.21,140.07 186.48,139.75 186.76,140.61 187.05,141.61 187.36,142.65 187.67,144.78 187.98,146.10 188.30,146.52 188.63,148.24 188.95,149.57 189.28,150.85 189.63,151.95 189.98,152.95 190.34,154.64 190.70,155.24 191.06,156.97 191.42,157.84 191.77,159.27 192.12,160.41 192.45,161.60 192.77,162.14 193.07,163.45 193.37,164.37 193.66,165.45 193.95,166.09 194.24,166.54 194.53,167.33 194.83,168.09 195.13,168.45 195.45,169.19 195.80,169.48 196.17,169.99 196.57,170.30 196.98,170.62 197.39,170.81 197.78,171.01 198.14,171.18 198.47,171.30 198.74,171.30 198.95,171.30" fill="none" stroke="#2a2ad0" stroke-width="1.24" stroke-linejoin="round" opacity="0.55"/>
<polyline points="169.85,170.00 170.09,169.63 170.40,169.10 170.77,168.66 171.19,167.98 171.63,167.31 172.09,166.47 172.56,165.90 173.02,165.10 173.45,164.28 173.85,163.22 174.22,162.76 174.58,162.51 174.94,161.46 175.29,160.57 175.63,160.10 175.97,158.82 176.32,158.26 176.66,158.03 177.00,156.82 177.35,155.84 177.70,155.80 178.04,154.11 178.38,152.95 178.73,151.27 179.07,151.00 179.41,149.75 179.76,148.36 180.12,148.41 180.48,147.01 180.85,146.06 181.24,145.86 181.65,144.47 182.08,144.82 182.51,143.82 182.94,142.84 183.37,142.51 183.78,142.91 184.17,141.93 184.53,140.60 184.85,141.56 185.13,140.46 185.36,139.82 185.57,139.65 185.75,138.75 185.91,139.08 186.07,138.67 186.24,138.19 186.42,138.13 186.62,137.97 186.85,138.81 187.11,139.52 187.38,138.94 187.66,140.71 187.95,141.97 188.26,143.35 188.57,144.16 188.88,145.65 189.20,146.36 189.53,147.90 189.85,148.88 190.18,149.27 190.53,151.27 190.88,152.42 191.24,153.61 191.60,154.50 191.96,156.87 192.32,157.94 192.67,159.12 193.02,159.67 193.35,160.68 193.67,161.70 193.97,162.81 194.27,163.66 194.56,164.75 194.85,165.32 195.14,166.33 195.43,166.59 195.73,167.36 196.03,168.08 196.35,168.50 196.70,169.00 197.07,169.41 197.47,169.71 197.88,169.95 198.29,170.19 198.68,170.45 199.04,170.59 199.37,170.74 199.64,170.87 199.85,171.00" fill="none" stroke="#2a2ad0" stroke-width="1.24" stroke-linejoin="round" opacity="0.55"/>
<polyline points="169.40,170.26 169.64,169.86 169.95,169.42 170.32,168.77 170.74,168.33 171.18,167.35 171.64,166.80 172.11,165.94 172.57,165.47 173.00,164.30 173.40,163.68 173.77,162.97 174.13,162.19 174.49,161.24 174.84,160.93 175.18,159.83 175.52,159.64 175.87,158.25 176.21,157.74 176.55,157.09 176.90,156.88 177.25,154.76 177.59,153.81 177.93,153.79 178.28,151.47 178.62,151.80 178.96,150.18 179.31,148.64 179.67,148.56 180.03,147.54 180.40,146.05 180.79,146.07 181.20,144.47 181.63,144.53 182.06,143.86 182.49,143.83 182.92,142.58 183.33,142.30 183.72,142.49 184.08,141.70 184.40,141.60 184.68,141.11 184.91,140.71 185.12,140.60 185.30,139.50 185.46,139.38 185.62,138.58 185.79,137.80 185.97,138.87 186.17,138.02 186.40,139.31 186.66,139.94 186.93,140.21 187.21,140.27 187.50,141.52 187.81,142.69 188.12,143.34 188.43,145.15 188.75,146.56 189.08,147.38 189.40,148.30 189.73,149.31 190.08,151.43 190.43,151.74 190.79,153.62 191.15,154.79 191.51,156.59 191.87,158.13 192.22,159.56 192.57,160.39 192.90,161.77 193.22,162.68 193.52,163.30 193.82,163.89 194.11,164.89 194.40,165.50 194.69,166.63 194.98,167.05 195.28,167.79 195.58,168.14 195.90,168.71 196.25,169.20 196.62,169.62 197.02,169.98 197.43,170.26 197.84,170.51 198.23,170.72 198.59,170.88 198.92,171.03 199.19,171.17 199.40,171.30" fill="none" stroke="#2a2ad0" stroke-width="1.24" stroke-linejoin="round" opacity="0.9"/>
<rect x="236.50" y="121.30" width="50.00" height="50.00" fill="none" stroke="#9c9c9c" stroke-width="0.7"/>
<rect x="233.10" y="170.70" width="1.20" height="1.20" fill="#a8a8a8"/>
<rect x="233.10" y="156.30" width="2.40" height="1.20" fill="#a8a8a8"/>
<rect x="233.10" y="141.90" width="2.40" height="1.20" fill="#a8a8a8"/>
<rect x="233.10" y="127.50" width="2.40" height="1.20" fill="#a8a8a8"/>
<rect x="247.70" y="173.20" width="2.20" height="1.10" fill="#b0b0b0"/>
<rect x="260.20" y="173.20" width="2.20" height="1.10" fill="#b0b0b0"/>
<rect x="272.70" y="173.20" width="2.20" height="1.10" fill="#b0b0b0"/>
<rect x="285.20" y="173.20" width="2.20" height="1.10" fill="#b0b0b0"/>
<rect x="226.90" y="142.30" width="1.50" height="8.50" fill="#c4c4c4"/>
<polyline points="236.05,149.07 236.20,148.34 236.39,149.27 236.62,148.78 236.87,148.09 237.14,147.76 237.43,145.94 237.72,146.55 238.01,144.88 238.29,144.65 238.55,144.08 238.80,142.89 239.05,142.47 239.30,141.35 239.55,139.64 239.80,138.98 240.05,138.26 240.30,137.61 240.55,136.44 240.80,134.70 241.05,134.75 241.30,133.47 241.55,132.22 241.80,130.29 242.05,130.01 242.30,128.90 242.55,126.97 242.80,126.64 243.05,126.38 243.30,126.12 243.55,125.86 243.80,126.48 244.05,126.67 244.30,129.17 244.55,130.65 244.80,132.17 245.05,134.67 245.30,136.61 245.55,138.80 245.80,140.30 246.05,141.60 246.30,143.26 246.55,143.96 246.80,146.03 247.05,147.31 247.30,148.64 247.55,150.08 247.80,152.68 248.05,153.03 248.30,154.92 248.55,156.78 248.80,157.87 249.05,159.82 249.30,161.04 249.55,163.06 249.80,164.59 250.05,166.15 250.30,167.34 250.55,168.56 250.80,169.71 251.05,170.63 251.31,171.22 251.59,171.30 251.88,171.30 252.17,171.30 252.46,171.30 252.73,171.30 252.98,171.30 253.21,171.30 253.40,171.30 253.55,171.30" fill="none" stroke="#1a1a1a" stroke-width="0.81" stroke-linejoin="round" opacity="0.55"/>
<polyline points="236.95,148.77 237.10,148.43 237.29,148.03 237.52,147.51 237.77,147.61 238.04,146.02 238.33,145.75 238.62,145.67 238.91,144.34 239.19,144.44 239.45,143.28 239.70,143.24 239.95,141.43 240.20,141.36 240.45,140.48 240.70,138.37 240.95,137.24 241.20,135.80 241.45,135.14 241.70,134.07 241.95,133.54 242.20,133.25 242.45,130.98 242.70,130.42 242.95,128.58 243.20,127.37 243.45,126.13 243.70,126.25 243.95,125.86 244.20,124.41 244.45,125.35 244.70,125.96 244.95,126.96 245.20,127.85 245.45,129.07 245.70,131.88 245.95,133.45 246.20,135.38 246.45,137.94 246.70,138.79 246.95,140.58 247.20,142.23 247.45,144.87 247.70,145.58 247.95,147.16 248.20,149.10 248.45,149.85 248.70,150.94 248.95,152.74 249.20,153.88 249.45,156.34 249.70,157.91 249.95,158.96 250.20,160.22 250.45,161.95 250.70,163.62 250.95,165.21 251.20,166.79 251.45,167.91 251.70,169.12 251.95,169.99 252.21,170.62 252.49,171.05 252.78,171.28 253.07,171.30 253.36,171.30 253.63,171.30 253.88,171.18 254.11,171.07 254.30,171.00 254.45,171.00" fill="none" stroke="#1a1a1a" stroke-width="0.81" stroke-linejoin="round" opacity="0.55"/>
<polyline points="236.50,148.92 236.65,148.57 236.84,148.09 237.07,148.25 237.32,147.28 237.59,146.35 237.88,146.62 238.17,145.10 238.46,145.99 238.74,144.85 239.00,143.08 239.25,142.51 239.50,142.84 239.75,141.58 240.00,140.28 240.25,138.87 240.50,138.44 240.75,137.30 241.00,135.10 241.25,135.18 241.50,133.42 241.75,133.20 242.00,130.86 242.25,130.83 242.50,128.60 242.75,128.54 243.00,127.59 243.25,126.02 243.50,124.93 243.75,124.76 244.00,125.90 244.25,126.18 244.50,127.34 244.75,128.83 245.00,129.60 245.25,132.05 245.50,133.10 245.75,135.86 246.00,137.84 246.25,138.87 246.50,141.34 246.75,143.08 247.00,143.97 247.25,145.65 247.50,147.79 247.75,149.58 248.00,149.86 248.25,151.12 248.50,153.67 248.75,154.79 249.00,155.71 249.25,158.40 249.50,159.06 249.75,161.11 250.00,162.34 250.25,164.49 250.50,165.67 250.75,166.98 251.00,168.44 251.25,169.40 251.50,170.26 251.76,170.93 252.04,171.30 252.33,171.30 252.62,171.30 252.91,171.30 253.18,171.30 253.43,171.30 253.66,171.30 253.85,171.30 254.00,171.30" fill="none" stroke="#1a1a1a" stroke-width="0.81" stroke-linejoin="round" opacity="0.9"/>
<polyline points="236.05,156.33 236.29,156.25 236.60,154.20 236.97,153.35 237.39,152.20 237.83,151.61 238.29,149.28 238.76,148.21 239.22,146.00 239.65,144.78 240.05,144.42 240.42,143.06 240.78,142.21 241.14,140.67 241.49,139.66 241.83,138.15 242.17,137.18 242.52,135.94 242.86,135.21 243.20,134.81 243.55,134.25 243.90,133.70 244.27,132.73 244.63,132.19 245.00,131.28 245.36,129.41 245.72,130.22 246.07,129.15 246.41,128.80 246.74,128.21 247.05,128.55 247.34,128.92 247.61,129.75 247.86,131.87 248.10,132.40 248.33,134.39 248.56,136.18 248.79,137.13 249.03,138.03 249.28,139.52 249.55,142.34 249.83,143.16 250.11,144.61 250.40,147.40 250.69,148.00 250.99,151.02 251.29,151.51 251.60,154.03 251.91,155.66 252.23,158.21 252.55,159.05 252.88,160.61 253.23,162.24 253.59,163.42 253.96,164.86 254.33,166.06 254.70,166.85 255.06,167.99 255.41,169.05 255.74,169.88 256.05,170.63 256.35,171.11 256.65,171.30 256.95,171.30 257.24,171.30 257.52,171.30 257.78,171.30 258.02,171.30 258.23,171.30 258.41,171.30 258.55,171.30" fill="none" stroke="#b02828" stroke-width="0.81" stroke-linejoin="round" opacity="0.55"/>
<polyline points="236.95,155.87 237.19,155.11 237.50,154.90 237.87,153.73 238.29,151.47 238.73,150.93 239.19,149.65 239.66,148.00 240.12,145.28 240.55,145.47 240.95,143.12 241.32,142.85 241.68,140.73 242.04,140.28 242.39,138.92 242.73,138.33 243.07,137.45 243.42,136.60 243.76,135.67 244.10,134.88 244.45,133.69 244.80,132.77 245.17,132.35 245.53,131.28 245.90,130.77 246.26,129.41 246.62,129.73 246.97,129.18 247.31,127.81 247.64,128.74 247.95,128.58 248.24,129.19 248.51,130.28 248.76,131.08 249.00,132.27 249.23,133.96 249.46,134.24 249.69,135.64 249.93,137.56 250.18,139.24 250.45,140.41 250.73,141.84 251.01,144.25 251.30,146.65 251.59,148.37 251.89,149.74 252.19,152.29 252.50,153.68 252.81,155.42 253.13,156.38 253.45,158.28 253.78,159.81 254.13,160.96 254.49,162.61 254.86,164.10 255.23,165.05 255.60,166.34 255.96,167.60 256.31,168.44 256.64,169.33 256.95,169.97 257.25,170.52 257.55,170.89 257.85,171.10 258.14,171.21 258.42,171.22 258.68,171.17 258.92,171.10 259.13,171.03 259.31,170.99 259.45,171.00" fill="none" stroke="#b02828" stroke-width="0.81" stroke-linejoin="round" opacity="0.55"/>
<polyline points="236.50,156.29 236.74,155.52 237.05,154.99 237.42,153.88 237.84,151.82 238.28,150.75 238.74,149.41 239.21,148.10 239.67,147.06 240.10,145.40 240.50,144.40 240.87,142.94 241.23,141.18 241.59,140.12 241.94,138.59 242.28,138.34 242.62,136.77 242.97,136.01 243.31,134.88 243.65,133.80 244.00,134.23 244.35,132.74 244.72,132.45 245.08,132.03 245.45,130.26 245.81,130.02 246.17,128.71 246.52,128.24 246.86,128.92 247.19,127.90 247.50,129.58 247.79,128.92 248.06,130.71 248.31,131.85 248.55,131.61 248.78,133.48 249.01,135.09 249.24,136.20 249.48,137.80 249.73,139.60 250.00,141.26 250.28,142.50 250.56,144.74 250.85,146.44 251.14,148.31 251.44,149.37 251.74,152.65 252.05,153.67 252.36,155.46 252.68,156.84 253.00,158.53 253.33,160.34 253.68,161.58 254.04,163.36 254.41,164.31 254.78,165.51 255.15,166.89 255.51,167.92 255.86,168.88 256.19,169.66 256.50,170.31 256.80,170.84 257.10,171.18 257.40,171.30 257.69,171.30 257.97,171.30 258.23,171.30 258.47,171.30 258.68,171.30 258.86,171.29 259.00,171.30" fill="none" stroke="#b02828" stroke-width="0.81" stroke-linejoin="round" opacity="0.9"/>
<polyline points="236.05,167.53 236.29,167.23 236.60,166.31 236.97,165.68 237.39,164.93 237.83,164.41 238.29,163.07 238.76,162.30 239.22,160.79 239.65,159.79 240.05,159.34 240.42,158.07 240.77,157.14 241.12,155.51 241.46,154.30 241.80,152.53 242.14,151.24 242.48,149.65 242.83,148.54 243.18,147.73 243.55,146.75 243.93,145.72 244.33,144.18 244.73,143.00 245.14,141.42 245.55,138.85 245.96,138.96 246.37,137.23 246.77,136.27 247.17,135.14 247.55,135.05 247.92,135.11 248.27,135.72 248.62,137.70 248.96,138.14 249.30,140.08 249.64,141.81 249.98,142.69 250.33,143.48 250.68,144.79 251.05,147.34 251.43,147.79 251.83,148.80 252.23,151.08 252.64,151.13 253.05,153.58 253.46,153.50 253.87,155.46 254.27,156.57 254.67,158.60 255.05,159.05 255.42,160.24 255.78,161.52 256.14,162.35 256.49,163.48 256.83,164.39 257.17,164.79 257.52,165.72 257.86,166.66 258.20,167.40 258.55,168.21 258.92,168.59 259.31,169.32 259.71,169.72 260.12,170.09 260.52,170.39 260.90,170.74 261.26,170.99 261.57,171.23 261.84,171.30 262.05,171.30" fill="none" stroke="#2a2ad0" stroke-width="1.12" stroke-linejoin="round" opacity="0.55"/>
<polyline points="236.95,166.97 237.19,166.47 237.50,166.10 237.87,165.42 238.29,164.28 238.73,163.78 239.19,162.97 239.66,161.91 240.12,160.12 240.55,160.08 240.95,158.21 241.32,157.80 241.67,155.77 242.02,155.11 242.36,153.56 242.70,152.71 243.04,151.51 243.38,150.32 243.73,149.00 244.08,147.81 244.45,146.19 244.83,144.79 245.23,143.80 245.63,142.09 246.04,140.91 246.45,138.84 246.86,138.47 247.27,137.26 247.67,135.28 248.07,135.67 248.45,135.08 248.82,135.37 249.17,136.25 249.52,136.91 249.86,138.01 250.20,139.64 250.54,139.88 250.88,141.21 251.23,143.01 251.58,144.51 251.95,145.41 252.33,146.47 252.73,148.43 253.13,150.33 253.54,151.50 253.95,152.31 254.36,154.28 254.77,155.10 255.17,156.31 255.57,156.81 255.95,158.28 256.32,159.44 256.68,160.20 257.04,161.51 257.39,162.69 257.73,163.26 258.07,164.32 258.42,165.46 258.76,166.06 259.10,166.90 259.45,167.38 259.82,168.01 260.21,168.67 260.61,169.11 261.02,169.41 261.42,169.83 261.80,170.14 262.16,170.40 262.47,170.62 262.74,170.82 262.95,171.00" fill="none" stroke="#2a2ad0" stroke-width="1.12" stroke-linejoin="round" opacity="0.55"/>
<polyline points="236.50,167.30 236.74,166.80 237.05,166.34 237.42,165.67 237.84,164.60 238.28,163.86 238.74,162.99 239.21,162.10 239.67,161.34 240.10,160.12 240.50,159.25 240.87,157.92 241.22,156.20 241.57,154.97 241.91,153.23 242.25,152.71 242.59,150.84 242.93,149.72 243.28,148.21 243.63,146.72 244.00,146.73 244.38,144.76 244.78,143.90 245.18,142.85 245.59,140.40 246.00,139.46 246.41,137.45 246.82,136.32 247.22,136.39 247.62,134.84 248.00,136.08 248.37,135.11 248.72,136.67 249.07,137.68 249.41,137.36 249.75,139.17 250.09,140.73 250.43,141.77 250.78,143.26 251.13,144.87 251.50,146.26 251.88,147.13 252.28,148.93 252.68,150.12 253.09,151.44 253.50,151.93 253.91,154.64 254.32,155.10 254.72,156.36 255.12,157.27 255.50,158.53 255.87,159.97 256.23,160.84 256.59,162.31 256.94,162.89 257.28,163.77 257.62,164.98 257.97,165.79 258.31,166.63 258.65,167.28 259.00,167.82 259.37,168.48 259.76,168.83 260.16,169.29 260.57,169.69 260.97,170.13 261.35,170.44 261.71,170.66 262.02,170.92 262.29,171.11 262.50,171.30" fill="none" stroke="#2a2ad0" stroke-width="1.12" stroke-linejoin="round" opacity="0.9"/>
<rect x="39.50" y="222.50" width="50.00" height="50.00" fill="none" stroke="#9c9c9c" stroke-width="0.7"/>
<rect x="36.10" y="271.90" width="1.20" height="1.20" fill="#a8a8a8"/>
<rect x="36.10" y="257.50" width="2.40" height="1.20" fill="#a8a8a8"/>
<rect x="36.10" y="243.10" width="2.40" height="1.20" fill="#a8a8a8"/>
<rect x="36.10" y="228.70" width="2.40" height="1.20" fill="#a8a8a8"/>
<rect x="50.70" y="274.40" width="2.20" height="1.10" fill="#b0b0b0"/>
<rect x="63.20" y="274.40" width="2.20" height="1.10" fill="#b0b0b0"/>
<rect x="75.70" y="274.40" width="2.20" height="1.10" fill="#b0b0b0"/>
<rect x="88.20" y="274.40" width="2.20" height="1.10" fill="#b0b0b0"/>
<rect x="29.90" y="243.50" width="1.50" height="8.50" fill="#c4c4c4"/>
<polyline points="39.05,272.28 39.35,272.14 39.73,271.99 40.18,271.88 40.69,271.78 41.24,271.57 41.81,271.26 42.39,270.93 42.97,270.34 43.53,269.78 44.05,268.84 44.55,267.51 45.07,266.39 45.58,264.79 46.10,263.17 46.61,261.05 47.12,259.80 47.62,257.29 48.11,255.66 48.59,253.90 49.05,252.43 49.49,250.80 49.93,250.12 50.35,248.35 50.77,245.72 51.17,245.05 51.57,242.84 51.95,242.52 52.33,241.16 52.69,240.68 53.05,240.72 53.39,240.82 53.71,241.10 54.02,241.21 54.32,241.86 54.61,243.81 54.90,245.02 55.18,246.96 55.47,248.33 55.75,248.56 56.05,250.16 56.34,251.87 56.62,252.75 56.89,255.04 57.15,254.98 57.42,257.11 57.71,259.16 58.00,260.66 58.32,261.47 58.67,262.46 59.05,263.88 59.47,264.65 59.92,265.83 60.40,266.44 60.91,267.15 61.42,268.06 61.95,268.78 62.49,269.27 63.02,269.85 63.54,270.35 64.05,270.80 64.57,271.14 65.13,271.54 65.71,271.87 66.29,272.06 66.86,272.25 67.41,272.40 67.92,272.49 68.37,272.50 68.75,272.50 69.05,272.50" fill="none" stroke="#b02828" stroke-width="1.12" stroke-linejoin="round" opacity="0.55"/>
<polyline points="39.95,271.71 40.25,271.56 40.63,271.42 41.08,271.27 41.59,271.17 42.14,271.01 42.71,270.66 43.29,270.34 43.87,269.65 44.43,269.08 44.95,268.09 45.45,267.09 45.97,265.81 46.48,264.48 47.00,262.55 47.51,261.17 48.02,258.73 48.52,256.60 49.01,255.32 49.49,254.06 49.95,252.53 50.40,249.97 50.83,248.71 51.26,247.09 51.67,245.82 52.08,244.90 52.47,242.55 52.86,240.96 53.23,241.34 53.59,240.61 53.95,240.13 54.29,239.03 54.61,239.82 54.92,240.42 55.22,242.58 55.51,242.47 55.80,243.77 56.08,245.29 56.37,247.58 56.65,247.97 56.95,250.47 57.24,250.63 57.52,252.52 57.79,253.20 58.05,254.83 58.33,257.18 58.61,258.77 58.90,259.20 59.22,260.70 59.57,261.67 59.95,262.94 60.37,264.10 60.82,265.11 61.30,265.98 61.81,266.63 62.33,267.26 62.85,268.09 63.39,268.62 63.92,269.18 64.44,269.84 64.95,270.22 65.47,270.54 66.03,271.01 66.61,271.27 67.19,271.45 67.76,271.66 68.31,271.77 68.82,271.92 69.27,272.00 69.65,272.11 69.95,272.20" fill="none" stroke="#b02828" stroke-width="1.12" stroke-linejoin="round" opacity="0.55"/>
<polyline points="39.50,271.98 39.80,271.87 40.18,271.73 40.63,271.58 41.14,271.48 41.69,271.26 42.26,271.02 42.84,270.60 43.42,270.11 43.98,269.45 44.50,268.44 45.00,267.19 45.52,266.29 46.03,264.22 46.55,262.88 47.06,261.60 47.57,259.06 48.07,257.09 48.56,255.49 49.04,253.54 49.50,252.90 49.95,250.68 50.38,248.73 50.80,247.94 51.22,245.78 51.62,244.11 52.02,242.44 52.41,242.53 52.78,240.81 53.14,240.48 53.50,239.97 53.84,240.66 54.16,239.81 54.47,241.45 54.77,242.74 55.06,243.03 55.35,244.56 55.63,245.77 55.92,247.13 56.20,249.47 56.50,249.57 56.79,251.62 57.07,251.85 57.34,254.45 57.60,254.79 57.88,257.37 58.16,257.81 58.45,259.47 58.77,260.90 59.12,262.19 59.50,263.74 59.92,264.49 60.37,265.09 60.85,266.04 61.36,266.97 61.88,267.82 62.40,268.43 62.94,268.97 63.47,269.61 63.99,270.14 64.50,270.59 65.02,270.99 65.58,271.30 66.16,271.58 66.74,271.77 67.31,271.95 67.86,272.09 68.37,272.20 68.82,272.31 69.20,272.40 69.50,272.50" fill="none" stroke="#b02828" stroke-width="1.12" stroke-linejoin="round" opacity="0.9"/>
<polyline points="39.05,272.30 39.35,272.13 39.73,272.05 40.18,271.90 40.69,271.80 41.24,271.59 41.81,271.37 42.39,270.89 42.97,270.53 43.53,269.59 44.05,268.63 44.55,267.73 45.07,266.56 45.58,264.96 46.10,263.25 46.61,260.72 47.12,258.82 47.62,256.98 48.11,254.96 48.59,253.01 49.05,251.49 49.49,249.80 49.93,247.71 50.35,246.36 50.77,244.26 51.17,241.06 51.57,239.75 51.95,238.40 52.33,235.93 52.69,236.44 53.05,235.41 53.39,235.35 53.71,235.90 54.02,237.74 54.32,238.51 54.61,239.98 54.90,242.58 55.18,243.19 55.47,245.47 55.75,247.94 56.05,249.34 56.34,250.72 56.62,252.40 56.89,252.88 57.15,255.35 57.42,256.71 57.71,259.00 58.00,260.43 58.32,261.17 58.67,262.92 59.05,263.68 59.47,264.78 59.92,265.95 60.40,266.89 60.91,267.59 61.42,268.01 61.95,268.61 62.49,269.50 63.02,269.89 63.54,270.38 64.05,270.84 64.57,271.25 65.13,271.50 65.71,271.71 66.29,271.86 66.86,272.00 67.41,272.09 67.92,272.14 68.37,272.21 68.75,272.23 69.05,272.32" fill="none" stroke="#1a1a1a" stroke-width="0.87" stroke-linejoin="round" opacity="0.55"/>
<polyline points="39.95,271.70 40.25,271.57 40.63,271.44 41.08,271.33 41.59,271.23 42.14,270.98 42.71,270.81 43.29,270.36 43.87,269.73 44.43,269.18 44.95,268.10 45.45,267.28 45.97,265.77 46.48,263.84 47.00,262.79 47.51,260.31 48.02,259.20 48.52,255.95 49.01,254.46 49.49,253.14 49.95,250.84 50.40,249.13 50.83,246.75 51.26,245.44 51.67,243.68 52.08,240.73 52.47,239.39 52.86,237.48 53.23,236.39 53.59,235.93 53.95,234.76 54.29,234.61 54.61,235.42 54.92,236.84 55.22,238.67 55.51,240.26 55.80,240.94 56.08,242.45 56.37,245.64 56.65,246.18 56.95,248.49 57.24,249.11 57.52,251.23 57.79,253.20 58.05,255.20 58.33,255.89 58.61,257.60 58.90,259.62 59.22,260.71 59.57,261.63 59.95,263.06 60.37,264.05 60.82,265.37 61.30,266.15 61.81,266.63 62.33,267.54 62.85,268.29 63.39,268.87 63.92,269.34 64.44,269.78 64.95,270.20 65.47,270.65 66.03,270.87 66.61,271.08 67.19,271.25 67.76,271.38 68.31,271.47 68.82,271.52 69.27,271.58 69.65,271.66 69.95,271.68" fill="none" stroke="#1a1a1a" stroke-width="0.87" stroke-linejoin="round" opacity="0.55"/>
<polyline points="39.50,271.98 39.80,271.84 40.18,271.76 40.63,271.66 41.14,271.54 41.69,271.37 42.26,271.00 42.84,270.61 43.42,270.13 43.98,269.46 44.50,268.38 45.00,267.46 45.52,265.81 46.03,264.52 46.55,262.78 47.06,260.59 47.57,258.81 48.07,257.26 48.56,255.17 49.04,252.93 49.50,252.20 49.95,249.45 50.38,247.39 50.80,244.93 51.22,244.14 51.62,241.66 52.02,239.68 52.41,237.74 52.78,235.87 53.14,234.65 53.50,235.09 53.84,235.64 54.16,236.54 54.47,236.15 54.77,237.47 55.06,239.09 55.35,241.00 55.63,243.80 55.92,245.50 56.20,247.46 56.50,248.32 56.79,249.45 57.07,252.12 57.34,253.94 57.60,254.17 57.88,255.72 58.16,257.46 58.45,259.32 58.77,261.16 59.12,262.51 59.50,263.26 59.92,264.30 60.37,265.52 60.85,266.64 61.36,267.39 61.88,267.65 62.40,268.33 62.94,268.90 63.47,269.59 63.99,270.05 64.50,270.55 65.02,270.85 65.58,271.22 66.16,271.43 66.74,271.55 67.31,271.72 67.86,271.78 68.37,271.80 68.82,271.90 69.20,271.94 69.50,272.01" fill="none" stroke="#1a1a1a" stroke-width="0.87" stroke-linejoin="round" opacity="0.9"/>
<polyline points="39.05,272.28 39.35,272.15 39.73,272.03 40.18,271.96 40.69,271.89 41.24,271.73 41.81,271.44 42.39,271.11 42.97,270.51 43.53,269.88 44.05,268.84 44.55,267.39 45.07,266.13 45.58,264.40 46.10,262.61 46.61,260.28 47.12,258.83 47.62,255.98 48.11,254.05 48.59,251.88 49.05,249.93 49.49,247.65 49.93,246.12 50.35,243.35 50.77,239.64 51.17,237.89 51.57,234.65 51.95,233.41 52.33,231.32 52.69,230.36 53.05,230.22 53.39,230.50 53.71,231.26 54.02,232.10 54.32,233.68 54.61,236.65 54.90,238.95 55.18,241.96 55.47,244.32 55.75,245.41 56.05,247.66 56.34,249.86 56.62,251.14 56.89,253.78 57.15,254.00 57.42,256.35 57.71,258.63 58.00,260.29 58.32,261.21 58.67,262.33 59.05,263.88 59.47,264.75 59.92,265.99 60.40,266.64 60.91,267.36 61.42,268.24 61.95,268.93 62.49,269.38 63.02,269.92 63.54,270.38 64.05,270.80 64.57,271.10 65.13,271.46 65.71,271.74 66.29,271.87 66.86,272.01 67.41,272.10 67.92,272.10 68.37,272.20 68.75,272.23 69.05,272.28" fill="none" stroke="#2a2ad0" stroke-width="1.12" stroke-linejoin="round" opacity="0.55"/>
<polyline points="39.95,271.71 40.25,271.57 40.63,271.46 41.08,271.36 41.59,271.29 42.14,271.16 42.71,270.84 43.29,270.52 43.87,269.81 44.43,269.18 44.95,268.09 45.45,266.96 45.97,265.56 46.48,264.10 47.00,262.00 47.51,260.44 48.02,257.73 48.52,255.29 49.01,253.71 49.49,252.04 49.95,250.03 50.40,246.82 50.83,244.71 51.26,242.09 51.67,239.75 52.08,237.75 52.47,234.36 52.86,231.86 53.23,231.50 53.59,230.29 53.95,229.63 54.29,228.71 54.61,229.99 54.92,231.32 55.22,234.39 55.51,235.32 55.80,237.70 56.08,240.29 56.37,243.58 56.65,244.82 56.95,247.97 57.24,248.61 57.52,250.91 57.79,251.94 58.05,253.84 58.33,256.46 58.61,258.24 58.90,258.80 59.22,260.44 59.57,261.54 59.95,262.94 60.37,264.20 60.82,265.28 61.30,266.18 61.81,266.84 62.33,267.46 62.85,268.25 63.39,268.74 63.92,269.25 64.44,269.87 64.95,270.22 65.47,270.50 66.03,270.93 66.61,271.15 67.19,271.26 67.76,271.42 68.31,271.44 68.82,271.56 69.27,271.56 69.65,271.66 69.95,271.71" fill="none" stroke="#2a2ad0" stroke-width="1.12" stroke-linejoin="round" opacity="0.55"/>
<polyline points="39.50,271.98 39.80,271.88 40.18,271.77 40.63,271.66 41.14,271.60 41.69,271.42 42.26,271.19 42.84,270.78 43.42,270.26 43.98,269.55 44.50,268.44 45.00,267.06 45.52,266.05 46.03,263.81 46.55,262.33 47.06,260.89 47.57,258.06 48.07,255.80 48.56,253.88 49.04,251.52 49.50,250.40 49.95,247.53 50.38,244.73 50.80,242.94 51.22,239.71 51.62,236.96 52.02,234.25 52.41,233.43 52.78,230.97 53.14,230.16 53.50,229.47 53.84,230.34 54.16,229.98 54.47,232.35 54.77,234.55 55.06,235.87 55.35,238.49 55.63,240.77 55.92,243.13 56.20,246.32 56.50,247.07 56.79,249.60 57.07,250.24 57.34,253.18 57.60,253.80 57.88,256.64 58.16,257.23 58.45,259.07 58.77,260.65 59.12,262.06 59.50,263.74 59.92,264.59 60.37,265.26 60.85,266.25 61.36,267.17 61.88,268.00 62.40,268.58 62.94,269.08 63.47,269.68 63.99,270.17 64.50,270.59 65.02,270.96 65.58,271.23 66.16,271.45 66.74,271.59 67.31,271.70 67.86,271.78 68.37,271.83 68.82,271.90 69.20,271.93 69.50,272.02" fill="none" stroke="#2a2ad0" stroke-width="1.12" stroke-linejoin="round" opacity="0.9"/>
<rect x="100.50" y="222.50" width="50.00" height="50.00" fill="none" stroke="#9c9c9c" stroke-width="0.7"/>
<rect x="97.10" y="271.90" width="1.20" height="1.20" fill="#a8a8a8"/>
<rect x="97.10" y="257.50" width="2.40" height="1.20" fill="#a8a8a8"/>
<rect x="97.10" y="243.10" width="2.40" height="1.20" fill="#a8a8a8"/>
<rect x="97.10" y="228.70" width="2.40" height="1.20" fill="#a8a8a8"/>
<rect x="111.70" y="274.40" width="2.20" height="1.10" fill="#b0b0b0"/>
<rect x="124.20" y="274.40" width="2.20" height="1.10" fill="#b0b0b0"/>
<rect x="136.70" y="274.40" width="2.20" height="1.10" fill="#b0b0b0"/>
<rect x="149.20" y="274.40" width="2.20" height="1.10" fill="#b0b0b0"/>
<rect x="90.90" y="243.50" width="1.50" height="8.50" fill="#c4c4c4"/>
<polyline points="100.05,272.50 100.60,272.50 101.32,272.50 102.18,272.44 103.15,272.31 104.17,272.12 105.23,271.85 106.29,271.35 107.30,270.81 108.23,269.96 109.05,268.66 109.77,267.50 110.43,265.77 111.04,264.06 111.62,262.03 112.17,259.63 112.72,257.25 113.27,255.39 113.83,251.82 114.42,249.48 115.05,248.05 115.73,245.74 116.45,243.58 117.20,240.39 117.97,237.26 118.74,235.07 119.49,231.25 120.21,229.15 120.89,228.49 121.51,226.77 122.05,226.02 122.51,225.95 122.89,226.00 123.21,227.83 123.49,229.31 123.74,231.43 123.97,234.05 124.20,235.80 124.45,239.25 124.73,240.33 125.05,242.00 125.41,244.58 125.79,246.02 126.19,247.80 126.60,250.48 127.02,252.21 127.44,254.38 127.86,256.34 128.27,256.94 128.67,258.90 129.05,260.11 129.42,261.37 129.78,262.68 130.14,263.96 130.49,265.18 130.83,266.36 131.17,267.46 131.52,268.26 131.86,268.74 132.20,269.56 132.55,270.40 132.92,270.94 133.31,271.33 133.71,271.65 134.12,271.93 134.52,272.15 134.90,272.36 135.26,272.48 135.57,272.50 135.84,272.50 136.05,272.50" fill="none" stroke="#b02828" stroke-width="0.81" stroke-linejoin="round" opacity="0.55"/>
<polyline points="100.95,272.20 101.50,272.05 102.22,271.93 103.08,271.81 104.05,271.71 105.08,271.49 106.13,271.17 107.19,270.82 108.20,270.25 109.13,269.31 109.95,268.25 110.67,266.60 111.33,264.82 111.94,263.00 112.52,260.61 113.08,259.18 113.62,255.98 114.17,254.06 114.73,251.02 115.32,248.93 115.95,246.95 116.63,244.88 117.35,241.91 118.10,239.53 118.87,236.77 119.64,233.28 120.39,231.33 121.11,228.32 121.79,227.37 122.41,226.32 122.95,225.90 123.41,225.92 123.79,226.24 124.11,228.13 124.39,229.49 124.64,231.49 124.87,232.78 125.10,235.10 125.35,237.76 125.63,240.93 125.95,242.84 126.31,244.48 126.69,245.76 127.09,247.16 127.50,249.32 127.92,252.09 128.34,252.80 128.76,255.59 129.17,256.84 129.57,258.30 129.95,259.41 130.32,260.79 130.68,262.06 131.04,263.75 131.39,264.26 131.73,265.56 132.07,266.68 132.42,267.38 132.76,268.18 133.10,269.19 133.45,269.65 133.82,270.36 134.21,270.73 134.61,271.10 135.02,271.35 135.42,271.58 135.80,271.74 136.16,271.88 136.47,271.97 136.74,272.08 136.95,272.20" fill="none" stroke="#b02828" stroke-width="0.81" stroke-linejoin="round" opacity="0.55"/>
<polyline points="100.50,272.50 101.05,272.33 101.77,272.22 102.63,272.13 103.60,272.00 104.62,271.80 105.68,271.50 106.74,271.08 107.75,270.40 108.68,269.56 109.50,268.52 110.22,267.08 110.88,265.60 111.49,263.75 112.07,261.56 112.62,259.23 113.17,256.48 113.72,254.83 114.28,252.41 114.87,249.42 115.50,247.03 116.18,245.08 116.90,242.28 117.65,239.50 118.42,236.68 119.19,233.93 119.94,230.79 120.66,229.29 121.34,228.11 121.96,225.48 122.50,225.83 122.96,225.90 123.34,227.13 123.66,227.33 123.94,229.65 124.19,230.85 124.42,233.22 124.65,236.33 124.90,237.94 125.18,240.00 125.50,242.99 125.86,244.42 126.24,246.34 126.64,247.95 127.05,250.43 127.47,251.87 127.89,253.38 128.31,256.08 128.72,257.04 129.12,258.21 129.50,259.77 129.87,261.74 130.23,262.84 130.59,263.78 130.94,264.99 131.28,265.82 131.62,266.75 131.97,267.59 132.31,268.67 132.65,269.33 133.00,270.08 133.37,270.60 133.76,271.01 134.16,271.40 134.57,271.64 134.97,271.87 135.35,272.05 135.71,272.17 136.02,272.27 136.29,272.38 136.50,272.50" fill="none" stroke="#b02828" stroke-width="0.81" stroke-linejoin="round" opacity="0.9"/>
<polyline points="100.05,272.50 100.51,272.50 101.11,272.50 101.83,272.43 102.63,272.30 103.49,272.09 104.37,271.77 105.25,271.34 106.09,270.83 106.87,270.02 107.55,268.87 108.15,267.28 108.70,265.75 109.22,264.08 109.71,262.03 110.17,258.91 110.63,257.89 111.09,255.28 111.56,252.57 112.04,250.63 112.55,247.09 113.09,244.82 113.66,242.91 114.24,239.43 114.83,236.87 115.42,234.02 116.01,231.57 116.57,228.08 117.10,226.54 117.60,226.07 118.05,224.73 118.45,224.32 118.79,225.49 119.10,227.85 119.38,229.55 119.64,232.37 119.90,235.15 120.16,237.24 120.43,240.09 120.72,243.90 121.05,245.50 121.40,247.37 121.77,249.02 122.14,251.63 122.53,253.08 122.92,255.41 123.33,255.90 123.75,258.14 124.17,260.52 124.61,261.36 125.05,263.18 125.51,264.01 125.99,265.47 126.48,266.35 126.98,267.02 127.49,267.85 128.00,268.70 128.52,269.50 129.03,270.29 129.55,270.78 130.05,271.31 130.57,271.77 131.13,272.04 131.71,272.33 132.29,272.46 132.86,272.50 133.41,272.50 133.92,272.50 134.37,272.50 134.75,272.50 135.05,272.50" fill="none" stroke="#1a1a1a" stroke-width="0.81" stroke-linejoin="round" opacity="0.55"/>
<polyline points="100.95,272.20 101.41,272.04 102.01,271.92 102.73,271.82 103.53,271.68 104.39,271.48 105.27,271.20 106.15,270.80 106.99,270.21 107.77,269.33 108.45,268.33 109.05,266.67 109.60,264.86 110.12,263.47 110.61,261.46 111.08,258.80 111.53,256.04 111.99,254.09 112.46,251.98 112.94,249.31 113.45,247.06 113.99,245.01 114.56,242.54 115.14,239.04 115.73,235.78 116.33,232.40 116.91,230.51 117.47,227.41 118.00,225.75 118.50,224.02 118.95,223.77 119.35,224.91 119.69,225.17 120.00,227.92 120.28,228.88 120.54,232.03 120.80,233.85 121.06,237.70 121.33,240.89 121.62,242.68 121.95,244.83 122.30,246.63 122.67,248.54 123.05,250.50 123.43,252.41 123.83,254.67 124.23,255.26 124.65,258.08 125.07,259.66 125.51,260.82 125.95,262.67 126.41,263.85 126.89,264.34 127.38,265.42 127.88,266.37 128.39,267.39 128.90,268.25 129.42,269.05 129.93,269.67 130.45,270.09 130.95,270.74 131.47,271.12 132.03,271.48 132.61,271.71 133.19,271.87 133.76,271.98 134.31,272.04 134.82,272.08 135.27,272.10 135.65,272.14 135.95,272.20" fill="none" stroke="#1a1a1a" stroke-width="0.81" stroke-linejoin="round" opacity="0.55"/>
<polyline points="100.50,272.50 100.96,272.34 101.56,272.23 102.28,272.13 103.08,272.00 103.94,271.82 104.82,271.49 105.70,271.13 106.54,270.46 107.32,269.70 108.00,268.49 108.60,267.27 109.15,265.40 109.67,263.11 110.16,261.63 110.62,259.77 111.08,257.02 111.54,254.80 112.01,251.90 112.49,249.39 113.00,247.16 113.54,245.29 114.11,243.06 114.69,238.78 115.28,236.07 115.88,232.96 116.46,231.32 117.02,228.98 117.55,226.61 118.05,224.90 118.50,224.70 118.90,225.42 119.24,225.41 119.55,228.05 119.83,230.14 120.09,232.01 120.35,234.74 120.61,237.40 120.88,239.86 121.17,243.06 121.50,245.07 121.85,246.26 122.22,248.85 122.59,250.39 122.98,252.30 123.38,255.00 123.78,255.54 124.20,257.53 124.62,259.33 125.06,261.11 125.50,262.06 125.96,263.86 126.44,264.58 126.93,265.87 127.43,266.79 127.94,267.95 128.45,268.57 128.97,269.18 129.48,269.84 130.00,270.47 130.50,271.01 131.02,271.43 131.58,271.79 132.16,272.02 132.74,272.18 133.31,272.29 133.86,272.34 134.37,272.38 134.82,272.41 135.20,272.44 135.50,272.50" fill="none" stroke="#1a1a1a" stroke-width="0.81" stroke-linejoin="round" opacity="0.9"/>
<polyline points="100.05,272.50 100.50,272.50 101.09,272.50 101.80,272.44 102.58,272.31 103.42,272.12 104.30,271.85 105.17,271.35 106.03,270.81 106.83,269.96 107.55,268.66 108.21,267.47 108.85,265.67 109.46,263.87 110.06,261.75 110.64,259.26 111.22,256.83 111.80,254.95 112.37,251.44 112.96,249.24 113.55,248.05 114.16,246.14 114.79,244.55 115.43,242.05 116.07,239.69 116.71,238.29 117.33,235.24 117.93,233.86 118.51,233.80 119.05,232.52 119.55,232.02 120.00,231.97 120.39,231.85 120.75,233.37 121.08,234.43 121.39,236.06 121.70,238.15 122.01,239.39 122.33,242.38 122.67,243.08 123.05,244.50 123.46,246.95 123.88,248.33 124.31,250.12 124.75,252.85 125.21,254.65 125.67,256.88 126.13,258.82 126.60,259.60 127.08,261.48 127.55,262.65 128.03,263.76 128.52,264.85 129.01,265.85 129.51,266.74 130.02,267.58 130.53,268.35 131.03,268.88 131.54,269.13 132.05,269.72 132.55,270.40 133.07,270.85 133.63,271.17 134.21,271.46 134.79,271.74 135.36,271.98 135.91,272.24 136.42,272.40 136.87,272.50 137.25,272.50 137.55,272.50" fill="none" stroke="#2a2ad0" stroke-width="1.12" stroke-linejoin="round" opacity="0.55"/>
<polyline points="100.95,272.20 101.40,272.05 101.99,271.93 102.70,271.81 103.48,271.71 104.33,271.49 105.20,271.17 106.07,270.82 106.93,270.25 107.73,269.31 108.45,268.25 109.11,266.58 109.75,264.73 110.36,262.80 110.96,260.31 111.54,258.81 112.12,255.53 112.70,253.61 113.27,250.64 113.86,248.69 114.45,246.95 115.06,245.28 115.69,242.88 116.33,241.18 116.97,239.19 117.61,236.50 118.23,235.33 118.83,233.03 119.41,232.68 119.95,232.08 120.45,231.90 120.90,231.94 121.29,232.09 121.65,233.67 121.98,234.60 122.29,236.11 122.60,236.88 122.91,238.70 123.23,240.88 123.57,243.69 123.95,245.34 124.36,246.85 124.78,248.08 125.21,249.48 125.65,251.69 126.11,254.53 126.57,255.31 127.03,258.09 127.50,259.41 127.98,260.88 128.45,261.97 128.93,263.18 129.42,264.23 129.91,265.55 130.41,265.89 130.92,266.82 131.43,267.61 131.93,268.04 132.44,268.57 132.95,269.34 133.45,269.65 133.97,270.26 134.53,270.57 135.11,270.92 135.69,271.17 136.26,271.42 136.81,271.62 137.32,271.80 137.77,271.93 138.15,272.07 138.45,272.20" fill="none" stroke="#2a2ad0" stroke-width="1.12" stroke-linejoin="round" opacity="0.55"/>
<polyline points="100.50,272.50 100.95,272.33 101.54,272.22 102.25,272.13 103.03,272.00 103.88,271.80 104.75,271.50 105.62,271.08 106.48,270.40 107.28,269.56 108.00,268.52 108.66,267.05 109.30,265.51 109.91,263.56 110.51,261.28 111.09,258.85 111.67,256.04 112.25,254.39 112.82,252.03 113.41,249.18 114.00,247.03 114.61,245.48 115.24,243.25 115.88,241.16 116.52,239.10 117.16,237.14 117.78,234.78 118.38,234.00 118.96,233.43 119.50,231.23 120.00,231.83 120.45,231.92 120.84,232.98 121.20,232.87 121.53,234.76 121.84,235.48 122.15,237.33 122.46,239.92 122.78,241.07 123.12,242.75 123.50,245.49 123.91,246.79 124.33,248.66 124.76,250.27 125.20,252.79 125.66,254.31 126.12,255.89 126.58,258.56 127.05,259.63 127.53,260.86 128.00,262.32 128.48,263.99 128.97,264.91 129.46,265.64 129.96,266.54 130.47,267.09 130.98,267.71 131.48,268.26 131.99,269.04 132.50,269.49 133.00,270.08 133.52,270.50 134.08,270.85 134.66,271.22 135.24,271.46 135.81,271.71 136.36,271.93 136.87,272.09 137.32,272.23 137.70,272.37 138.00,272.50" fill="none" stroke="#2a2ad0" stroke-width="1.12" stroke-linejoin="round" opacity="0.9"/>
<rect x="169.30" y="222.60" width="50.00" height="50.00" fill="none" stroke="#9c9c9c" stroke-width="0.7"/>
<rect x="165.90" y="272.00" width="1.20" height="1.20" fill="#a8a8a8"/>
<rect x="165.90" y="257.60" width="2.40" height="1.20" fill="#a8a8a8"/>
<rect x="165.90" y="243.20" width="2.40" height="1.20" fill="#a8a8a8"/>
<rect x="165.90" y="228.80" width="2.40" height="1.20" fill="#a8a8a8"/>
<rect x="180.50" y="274.50" width="2.20" height="1.10" fill="#b0b0b0"/>
<rect x="193.00" y="274.50" width="2.20" height="1.10" fill="#b0b0b0"/>
<rect x="205.50" y="274.50" width="2.20" height="1.10" fill="#b0b0b0"/>
<rect x="218.00" y="274.50" width="2.20" height="1.10" fill="#b0b0b0"/>
<rect x="159.70" y="243.60" width="1.50" height="8.50" fill="#c4c4c4"/>
<polyline points="168.85,272.60 169.15,272.60 169.55,272.42 170.01,272.16 170.54,271.78 171.10,271.47 171.68,270.99 172.27,270.55 172.83,270.11 173.37,269.36 173.85,269.04 174.29,268.28 174.72,267.32 175.14,266.41 175.55,265.70 175.94,265.02 176.33,264.21 176.72,262.51 177.10,261.85 177.47,261.66 177.85,260.13 178.22,259.98 178.58,259.04 178.94,258.39 179.29,257.60 179.63,256.04 179.97,256.78 180.32,255.89 180.66,255.53 181.00,254.91 181.35,255.04 181.70,254.45 182.06,254.01 182.42,254.77 182.77,255.28 183.13,257.01 183.49,256.39 183.84,256.67 184.18,258.32 184.52,258.39 184.85,258.04 185.17,257.43 185.48,256.67 185.79,256.59 186.09,256.27 186.38,255.54 186.67,253.46 186.97,253.23 187.26,251.51 187.55,252.02 187.85,250.80 188.15,248.64 188.45,248.82 188.75,246.15 189.05,245.39 189.35,243.48 189.65,241.67 189.95,241.48 190.25,240.82 190.55,239.37 190.85,240.58 191.15,240.39 191.46,240.59 191.77,242.14 192.07,243.47 192.38,246.78 192.69,247.80 192.99,249.48 193.28,251.14 193.57,253.89 193.85,254.91 194.12,256.78 194.40,258.58 194.67,260.02 194.93,262.21 195.19,263.75 195.45,265.20 195.69,267.11 195.92,268.20 196.14,269.46 196.35,270.31 196.55,271.15 196.74,271.79 196.92,272.18 197.09,272.41 197.26,272.60 197.41,272.60 197.54,272.60 197.66,272.60 197.77,272.60 197.85,272.60" fill="none" stroke="#b02828" stroke-width="0.74" stroke-linejoin="round" opacity="0.55"/>
<polyline points="169.75,272.30 170.05,272.08 170.45,271.82 170.91,271.50 171.44,271.17 172.00,270.87 172.58,270.41 173.17,269.86 173.73,269.32 174.27,269.04 174.75,268.14 175.19,267.62 175.62,266.86 176.04,265.92 176.45,264.93 176.84,264.05 177.23,263.18 177.62,262.25 178.00,261.83 178.37,261.02 178.75,259.28 179.12,258.77 179.48,257.65 179.84,257.53 180.19,257.01 180.53,256.06 180.87,254.74 181.22,254.54 181.56,253.84 181.90,254.40 182.25,254.30 182.60,254.01 182.96,254.10 183.32,255.14 183.67,255.23 184.03,255.16 184.39,256.87 184.74,256.94 185.08,257.71 185.42,257.16 185.75,257.37 186.07,257.22 186.38,256.62 186.69,255.29 186.99,254.75 187.28,254.20 187.57,252.78 187.87,251.87 188.16,251.97 188.45,251.28 188.75,250.20 189.05,248.60 189.35,248.07 189.65,245.91 189.95,243.87 190.25,242.80 190.55,242.39 190.85,241.25 191.15,240.30 191.45,239.13 191.75,238.78 192.05,239.66 192.36,240.79 192.67,241.81 192.97,243.03 193.28,244.83 193.59,247.62 193.89,248.62 194.18,250.88 194.47,252.74 194.75,254.30 195.02,255.89 195.30,258.47 195.57,259.70 195.83,261.17 196.09,263.42 196.35,264.42 196.59,265.95 196.82,267.50 197.04,268.90 197.25,269.85 197.45,270.49 197.64,271.18 197.82,271.55 197.99,271.82 198.16,272.00 198.31,272.07 198.44,272.13 198.56,272.16 198.67,272.21 198.75,272.30" fill="none" stroke="#b02828" stroke-width="0.74" stroke-linejoin="round" opacity="0.55"/>
<polyline points="169.30,272.60 169.60,272.38 170.00,272.12 170.46,271.84 170.99,271.50 171.55,271.16 172.13,270.77 172.72,270.26 173.28,269.80 173.82,269.29 174.30,268.65 174.74,268.13 175.17,267.23 175.59,266.55 176.00,265.14 176.39,264.36 176.78,263.41 177.17,262.51 177.55,261.26 177.92,261.07 178.30,260.39 178.67,259.96 179.03,258.45 179.39,258.28 179.74,257.53 180.08,256.46 180.42,255.34 180.77,254.62 181.11,255.15 181.45,253.69 181.80,254.60 182.15,254.09 182.51,253.66 182.87,254.56 183.22,255.42 183.58,256.39 183.94,256.35 184.29,257.37 184.63,257.95 184.97,257.73 185.30,257.10 185.62,257.01 185.93,257.23 186.24,256.25 186.54,255.65 186.83,255.32 187.12,253.78 187.42,253.59 187.71,251.18 188.00,251.18 188.30,249.64 188.60,248.38 188.90,247.18 189.20,246.54 189.50,245.53 189.80,243.31 190.10,242.85 190.40,240.15 190.70,239.51 191.00,239.32 191.30,239.24 191.60,239.96 191.91,240.54 192.22,242.77 192.52,243.56 192.83,244.97 193.14,247.75 193.44,249.11 193.73,250.98 194.02,253.91 194.30,255.25 194.57,256.51 194.85,257.66 195.12,259.70 195.38,261.38 195.64,263.50 195.90,265.31 196.14,266.55 196.37,268.02 196.59,269.13 196.80,270.01 197.00,270.79 197.19,271.45 197.37,271.87 197.54,272.12 197.71,272.30 197.86,272.38 197.99,272.42 198.11,272.46 198.22,272.51 198.30,272.60" fill="none" stroke="#b02828" stroke-width="0.74" stroke-linejoin="round" opacity="0.9"/>
<polyline points="168.85,272.60 169.15,272.49 169.55,272.01 170.01,271.52 170.54,270.87 171.10,270.22 171.68,269.62 172.27,268.63 172.83,267.42 173.37,266.48 173.85,265.43 174.29,263.73 174.71,262.90 175.12,260.87 175.52,259.05 175.91,257.31 176.30,255.16 176.68,253.48 177.07,252.06 177.45,250.15 177.85,248.26 178.25,246.48 178.67,243.30 179.08,241.10 179.50,238.77 179.91,235.97 180.32,232.67 180.72,231.93 181.11,230.04 181.49,227.68 181.85,227.74 182.19,227.47 182.50,229.66 182.79,230.30 183.07,232.32 183.35,234.30 183.63,237.29 183.91,239.51 184.20,241.10 184.51,243.54 184.85,246.08 185.21,247.51 185.59,249.42 185.98,251.61 186.38,252.61 186.79,255.03 187.20,256.43 187.62,257.90 188.03,259.93 188.45,261.65 188.85,263.33 189.26,264.14 189.68,265.20 190.11,266.76 190.55,267.67 190.98,268.59 191.39,269.14 191.80,270.13 192.18,270.75 192.53,271.31 192.85,271.88 193.14,272.35 193.41,272.60 193.66,272.60 193.89,272.60 194.10,272.60 194.29,272.60 194.46,272.60 194.61,272.60 194.74,272.60 194.85,272.60" fill="none" stroke="#1a1a1a" stroke-width="0.62" stroke-linejoin="round" opacity="0.55"/>
<polyline points="169.75,272.30 170.05,271.89 170.45,271.46 170.91,270.97 171.44,270.36 172.00,269.56 172.58,269.01 173.17,268.13 173.73,266.88 174.27,265.69 174.75,264.57 175.19,263.06 175.61,262.17 176.02,260.37 176.42,259.22 176.81,256.41 177.20,254.63 177.58,252.41 177.97,251.90 178.35,249.11 178.75,246.72 179.15,244.52 179.57,243.32 179.98,240.59 180.40,237.09 180.81,235.31 181.22,232.88 181.62,230.32 182.01,229.44 182.39,228.06 182.75,228.09 183.09,227.55 183.40,228.99 183.69,229.46 183.97,230.89 184.25,233.18 184.53,236.76 184.81,238.11 185.10,240.18 185.41,243.19 185.75,244.95 186.11,246.25 186.49,248.95 186.88,250.88 187.28,252.61 187.69,254.46 188.10,256.18 188.52,257.50 188.93,258.82 189.35,261.27 189.75,262.02 190.16,263.34 190.58,264.83 191.01,266.19 191.45,266.69 191.88,267.94 192.29,268.84 192.70,269.36 193.08,270.17 193.43,270.71 193.75,271.25 194.04,271.75 194.31,272.04 194.56,272.22 194.79,272.32 195.00,272.36 195.19,272.36 195.36,272.33 195.51,272.29 195.64,272.28 195.75,272.30" fill="none" stroke="#1a1a1a" stroke-width="0.62" stroke-linejoin="round" opacity="0.55"/>
<polyline points="169.30,272.60 169.60,272.21 170.00,271.74 170.46,271.23 170.99,270.53 171.55,269.91 172.13,269.33 172.72,268.27 173.28,267.59 173.82,266.48 174.30,265.42 174.74,263.81 175.16,262.13 175.57,260.19 175.97,258.75 176.36,257.17 176.75,254.74 177.13,253.42 177.52,251.14 177.90,249.58 178.30,247.48 178.70,244.96 179.12,243.01 179.53,241.00 179.95,237.23 180.36,235.26 180.77,233.12 181.17,230.14 181.56,229.05 181.94,227.90 182.30,228.01 182.64,227.89 182.95,229.43 183.24,230.58 183.52,232.46 183.80,234.42 184.08,236.33 184.36,238.06 184.65,240.93 184.96,242.70 185.30,244.44 185.66,247.33 186.04,249.22 186.43,251.29 186.83,252.17 187.24,253.84 187.65,255.70 188.07,258.46 188.48,259.62 188.90,261.09 189.30,262.15 189.71,263.74 190.13,264.82 190.56,266.18 191.00,267.23 191.43,268.00 191.84,269.11 192.25,269.81 192.63,270.36 192.98,271.09 193.30,271.59 193.59,272.03 193.86,272.34 194.11,272.52 194.34,272.60 194.55,272.60 194.74,272.60 194.91,272.60 195.06,272.59 195.19,272.58 195.30,272.60" fill="none" stroke="#1a1a1a" stroke-width="0.62" stroke-linejoin="round" opacity="0.9"/>
<polyline points="168.85,272.60 169.15,272.48 169.55,272.02 170.01,271.56 170.54,270.87 171.10,270.31 171.68,269.43 172.27,268.60 172.83,267.76 173.37,266.33 173.85,265.66 174.29,264.17 174.71,262.31 175.12,260.53 175.52,259.14 175.91,257.77 176.30,256.09 176.68,252.84 177.07,251.35 177.45,250.41 177.85,247.54 178.25,246.38 178.67,243.98 179.08,241.79 179.50,239.38 179.91,236.21 180.32,235.49 180.72,233.32 181.11,231.94 181.49,230.65 181.85,230.54 182.19,230.12 182.50,230.17 182.79,231.70 183.07,233.22 183.35,236.20 183.63,236.99 183.91,238.81 184.20,242.26 184.51,244.11 184.85,245.55 185.21,246.92 185.59,248.40 185.98,250.80 186.38,253.09 186.79,255.07 187.20,255.74 187.62,258.22 188.03,259.32 188.45,261.97 188.85,263.14 189.26,263.81 189.68,265.71 190.11,266.28 190.55,267.57 190.98,268.37 191.39,269.13 191.80,270.10 192.18,270.80 192.53,271.31 192.85,271.94 193.14,272.33 193.41,272.60 193.66,272.60 193.89,272.60 194.10,272.60 194.29,272.60 194.46,272.60 194.61,272.60 194.74,272.60 194.85,272.60" fill="none" stroke="#2a2ad0" stroke-width="0.99" stroke-linejoin="round" opacity="0.55"/>
<polyline points="169.75,272.30 170.05,271.89 170.45,271.42 170.91,270.85 171.44,270.27 172.00,269.71 172.58,268.86 173.17,267.85 173.73,266.82 174.27,266.25 174.75,264.49 175.19,263.45 175.61,261.96 176.02,260.15 176.42,258.21 176.81,256.46 177.20,254.72 177.58,252.81 177.97,251.63 178.35,249.76 178.75,246.60 179.15,245.01 179.57,242.43 179.98,240.90 180.40,238.79 180.81,236.25 181.22,233.45 181.62,231.97 182.01,230.25 182.39,230.14 182.75,229.80 183.09,229.68 183.40,230.26 183.69,232.07 183.97,233.18 184.25,234.35 184.53,237.50 184.81,239.14 185.10,241.65 185.41,242.81 185.75,244.88 186.11,246.73 186.49,248.38 186.88,249.50 187.28,251.58 187.69,253.73 188.10,255.06 188.52,256.95 188.93,259.55 189.35,261.26 189.75,262.54 190.16,263.50 190.58,265.04 191.01,265.82 191.45,266.67 191.88,267.75 192.29,268.82 192.70,269.56 193.08,270.21 193.43,270.75 193.75,271.27 194.04,271.72 194.31,272.03 194.56,272.22 194.79,272.32 195.00,272.36 195.19,272.36 195.36,272.33 195.51,272.29 195.64,272.28 195.75,272.30" fill="none" stroke="#2a2ad0" stroke-width="0.99" stroke-linejoin="round" opacity="0.55"/>
<polyline points="169.30,272.60 169.60,272.20 170.00,271.73 170.46,271.22 170.99,270.62 171.55,269.99 172.13,269.27 172.72,268.34 173.28,267.44 173.82,266.46 174.30,265.19 174.74,264.15 175.16,262.41 175.57,261.07 175.97,258.34 176.36,256.79 176.75,254.89 177.13,253.04 177.52,250.60 177.90,249.70 178.30,247.98 178.70,246.43 179.12,243.33 179.53,241.70 179.95,239.33 180.36,236.65 180.77,234.05 181.17,232.05 181.56,231.56 181.94,229.44 182.30,230.10 182.64,229.76 182.95,229.81 183.24,231.49 183.52,233.37 183.80,235.58 184.08,236.95 184.36,239.58 184.65,241.89 184.96,243.41 185.30,244.54 185.66,246.48 186.04,249.01 186.43,250.47 186.83,252.48 187.24,254.85 187.65,256.05 188.07,258.51 188.48,259.00 188.90,261.29 189.30,262.32 189.71,263.53 190.13,264.80 190.56,266.25 191.00,267.41 191.43,268.10 191.84,269.15 192.25,269.62 192.63,270.37 192.98,271.04 193.30,271.58 193.59,272.02 193.86,272.32 194.11,272.52 194.34,272.60 194.55,272.60 194.74,272.60 194.91,272.60 195.06,272.59 195.19,272.58 195.30,272.60" fill="none" stroke="#2a2ad0" stroke-width="0.99" stroke-linejoin="round" opacity="0.9"/>
<rect x="236.70" y="222.40" width="50.00" height="50.00" fill="none" stroke="#9c9c9c" stroke-width="0.7"/>
<rect x="233.30" y="271.80" width="1.20" height="1.20" fill="#a8a8a8"/>
<rect x="233.30" y="257.40" width="2.40" height="1.20" fill="#a8a8a8"/>
<rect x="233.30" y="243.00" width="2.40" height="1.20" fill="#a8a8a8"/>
<rect x="233.30" y="228.60" width="2.40" height="1.20" fill="#a8a8a8"/>
<rect x="247.90" y="274.30" width="2.20" height="1.10" fill="#b0b0b0"/>
<rect x="260.40" y="274.30" width="2.20" height="1.10" fill="#b0b0b0"/>
<rect x="272.90" y="274.30" width="2.20" height="1.10" fill="#b0b0b0"/>
<rect x="285.40" y="274.30" width="2.20" height="1.10" fill="#b0b0b0"/>
<rect x="227.10" y="243.40" width="1.50" height="8.50" fill="#c4c4c4"/>
<polyline points="236.25,270.77 236.55,270.59 236.93,270.35 237.38,270.12 237.89,269.89 238.44,269.50 239.01,269.18 239.59,268.47 240.17,268.17 240.73,267.46 241.25,266.59 241.75,265.85 242.25,264.85 242.75,264.36 243.25,263.18 243.75,261.58 244.25,260.77 244.75,258.84 245.25,257.47 245.75,257.19 246.25,255.79 246.75,253.41 247.26,251.61 247.77,249.95 248.27,247.53 248.78,246.87 249.29,245.17 249.79,242.93 250.28,240.15 250.77,239.12 251.25,238.48 251.73,235.54 252.21,235.07 252.68,233.34 253.16,232.34 253.62,230.84 254.08,229.12 254.53,228.18 254.95,227.28 255.36,226.66 255.75,227.72 256.11,227.52 256.44,228.81 256.74,229.36 257.03,229.59 257.31,232.01 257.59,233.07 257.86,234.85 258.14,236.10 258.44,239.12 258.75,240.41 259.08,241.80 259.41,244.55 259.75,246.30 260.09,247.86 260.44,249.95 260.79,252.04 261.15,254.27 261.51,257.25 261.88,257.96 262.25,259.61 262.65,261.32 263.08,263.64 263.54,265.21 264.01,266.07 264.47,267.66 264.91,268.82 265.33,270.09 265.70,271.19 266.01,271.97 266.25,272.40" fill="none" stroke="#b02828" stroke-width="0.81" stroke-linejoin="round" opacity="0.55"/>
<polyline points="237.15,270.06 237.45,269.84 237.83,269.58 238.28,269.52 238.79,269.08 239.34,268.75 239.91,268.59 240.49,267.94 241.07,267.44 241.63,266.63 242.15,265.97 242.65,265.19 243.15,264.06 243.65,263.17 244.15,262.28 244.65,261.51 245.15,260.17 245.65,258.31 246.15,257.57 246.65,256.78 247.15,254.90 247.65,253.22 248.16,250.68 248.67,248.89 249.17,247.17 249.68,245.73 250.19,243.66 250.69,242.76 251.18,239.70 251.67,238.68 252.15,236.71 252.63,235.19 253.11,234.96 253.58,233.16 254.06,230.48 254.52,229.17 254.98,228.50 255.43,227.33 255.85,227.67 256.26,225.92 256.65,226.39 257.01,227.01 257.34,226.97 257.64,228.52 257.93,229.75 258.21,230.91 258.49,233.26 258.76,234.32 259.04,236.66 259.34,237.50 259.65,239.50 259.98,241.65 260.31,242.60 260.65,244.76 260.99,247.12 261.34,250.15 261.69,251.13 262.05,253.83 262.41,255.42 262.78,257.87 263.15,259.86 263.55,260.88 263.98,262.43 264.44,264.13 264.91,265.97 265.37,267.12 265.81,268.29 266.23,269.46 266.60,270.46 266.91,271.36 267.15,272.10" fill="none" stroke="#b02828" stroke-width="0.81" stroke-linejoin="round" opacity="0.55"/>
<polyline points="236.70,270.44 237.00,270.22 237.38,269.98 237.83,269.81 238.34,269.44 238.89,269.03 239.46,268.85 240.04,268.19 240.62,267.83 241.18,267.23 241.70,266.16 242.20,265.70 242.70,265.03 243.20,263.86 243.70,262.37 244.20,261.27 244.70,260.27 245.20,258.67 245.70,258.16 246.20,256.01 246.70,254.94 247.20,252.80 247.71,251.85 248.22,249.61 248.72,248.78 249.23,246.09 249.74,244.56 250.24,242.18 250.73,239.81 251.22,239.27 251.70,236.69 252.18,235.26 252.66,234.90 253.13,232.54 253.61,231.33 254.07,229.96 254.53,229.10 254.98,228.13 255.40,226.80 255.81,226.21 256.20,227.42 256.56,226.61 256.89,227.64 257.19,229.34 257.48,229.43 257.76,230.82 258.04,232.85 258.31,234.57 258.59,237.09 258.89,238.98 259.20,239.16 259.53,241.66 259.86,244.33 260.20,245.98 260.54,247.07 260.89,249.71 261.24,251.91 261.60,254.43 261.96,256.04 262.33,258.32 262.70,260.19 263.10,261.13 263.53,263.39 263.99,264.62 264.46,265.82 264.92,267.49 265.36,268.53 265.78,269.85 266.15,270.83 266.46,271.66 266.70,272.40" fill="none" stroke="#b02828" stroke-width="0.81" stroke-linejoin="round" opacity="0.9"/>
<polyline points="236.25,270.16 236.55,270.04 236.93,269.78 237.38,269.52 237.89,269.04 238.44,268.63 239.01,268.34 239.59,267.81 240.17,267.18 240.73,266.03 241.25,265.19 241.75,264.44 242.23,262.69 242.72,261.46 243.20,260.36 243.69,258.46 244.18,256.84 244.68,254.99 245.19,253.30 245.71,251.16 246.25,250.01 246.82,247.67 247.43,246.40 248.07,243.83 248.72,241.61 249.38,238.35 250.02,236.02 250.64,234.94 251.23,232.84 251.77,231.93 252.25,230.59 252.67,231.32 253.03,230.65 253.35,232.58 253.64,233.10 253.91,234.63 254.16,236.63 254.41,237.90 254.67,239.13 254.94,241.31 255.25,241.90 255.57,244.02 255.89,246.57 256.22,247.06 256.54,249.89 256.88,251.53 257.22,252.73 257.57,254.43 257.95,256.29 258.34,258.83 258.75,259.74 259.21,261.36 259.73,262.82 260.30,264.64 260.88,266.28 261.47,267.33 262.04,268.76 262.57,270.00 263.05,271.16 263.45,271.98 263.75,272.40" fill="none" stroke="#1a1a1a" stroke-width="0.87" stroke-linejoin="round" opacity="0.55"/>
<polyline points="237.15,269.56 237.45,269.35 237.83,268.95 238.28,268.65 238.79,268.27 239.34,268.19 239.91,267.37 240.49,266.78 241.07,266.51 241.63,265.32 242.15,264.37 242.65,263.75 243.13,262.11 243.62,261.30 244.10,259.81 244.59,258.37 245.08,256.74 245.58,254.08 246.09,253.59 246.61,251.28 247.15,250.02 247.72,247.63 248.33,245.94 248.97,243.02 249.62,239.94 250.27,237.51 250.92,236.40 251.54,233.64 252.13,231.86 252.67,230.53 253.15,229.85 253.57,229.60 253.93,229.64 254.25,230.48 254.54,232.82 254.81,234.39 255.06,235.75 255.31,237.28 255.57,239.42 255.84,240.76 256.15,242.68 256.47,244.03 256.79,245.16 257.12,246.72 257.44,249.05 257.77,251.02 258.12,253.01 258.47,254.35 258.85,255.89 259.24,258.53 259.65,259.37 260.11,260.85 260.63,262.52 261.20,264.16 261.78,265.28 262.37,266.97 262.94,268.34 263.47,269.42 263.95,270.44 264.35,271.38 264.65,272.10" fill="none" stroke="#1a1a1a" stroke-width="0.87" stroke-linejoin="round" opacity="0.55"/>
<polyline points="236.70,269.94 237.00,269.65 237.38,269.45 237.83,268.95 238.34,268.81 238.89,268.44 239.46,267.77 240.04,267.13 240.62,266.73 241.18,266.01 241.70,265.07 242.20,264.02 242.68,262.47 243.17,260.88 243.65,259.49 244.14,257.82 244.63,257.35 245.13,254.88 245.64,252.63 246.16,250.98 246.70,250.38 247.27,247.32 247.88,246.09 248.52,243.25 249.17,241.52 249.82,238.26 250.47,235.88 251.09,233.67 251.68,232.83 252.22,230.56 252.70,230.68 253.12,231.03 253.48,231.39 253.80,231.24 254.09,232.63 254.36,234.57 254.61,236.02 254.86,238.01 255.12,239.50 255.39,240.24 255.70,241.69 256.02,244.11 256.34,245.89 256.67,247.74 256.99,248.87 257.32,251.89 257.67,253.47 258.02,255.38 258.40,257.00 258.79,258.20 259.20,260.22 259.66,261.84 260.18,262.78 260.75,264.27 261.33,265.66 261.92,267.06 262.49,268.57 263.02,269.80 263.50,270.84 263.90,271.69 264.20,272.40" fill="none" stroke="#1a1a1a" stroke-width="0.87" stroke-linejoin="round" opacity="0.9"/>
<polyline points="236.25,270.29 236.55,270.12 236.93,269.86 237.38,269.61 237.89,269.36 238.44,268.95 239.01,268.65 239.59,267.96 240.17,267.78 240.73,267.22 241.25,266.59 241.75,266.15 242.23,265.48 242.72,265.32 243.20,264.55 243.69,263.49 244.18,263.13 244.68,261.90 245.19,261.17 245.71,261.30 246.25,260.64 246.82,259.27 247.43,258.34 248.07,257.57 248.72,256.15 249.38,256.50 250.02,255.88 250.64,254.78 251.23,253.17 251.77,253.36 252.25,253.98 252.67,252.44 253.03,253.57 253.35,253.58 253.64,254.38 253.91,254.68 254.16,254.70 254.41,255.36 254.67,255.87 254.94,256.40 255.25,258.17 255.58,258.51 255.93,259.93 256.29,260.60 256.66,261.02 257.03,262.80 257.40,263.64 257.76,264.80 258.11,265.66 258.44,267.09 258.75,267.76 259.05,268.39 259.35,269.25 259.65,269.79 259.94,270.27 260.22,270.79 260.48,271.27 260.72,271.71 260.93,272.13 261.11,272.40 261.25,272.40" fill="none" stroke="#2a2ad0" stroke-width="1.12" stroke-linejoin="round" opacity="0.55"/>
<polyline points="237.15,269.55 237.45,269.34 237.83,269.05 238.28,269.01 238.79,268.52 239.34,268.18 239.91,268.06 240.49,267.44 241.07,267.05 241.63,266.39 242.15,265.97 242.65,265.49 243.13,264.71 243.62,264.19 244.10,263.70 244.59,263.33 245.08,262.52 245.58,261.35 246.09,261.10 246.61,260.83 247.15,259.83 247.72,258.99 248.33,257.47 248.97,256.56 249.62,255.79 250.27,255.35 250.92,254.37 251.54,254.60 252.13,252.73 252.67,252.93 253.15,252.21 253.57,252.09 253.93,253.46 254.25,253.40 254.54,252.52 254.81,253.02 255.06,254.08 255.31,254.51 255.57,256.24 255.84,255.67 256.15,256.91 256.48,257.98 256.83,258.34 257.19,259.83 257.56,260.93 257.93,261.90 258.30,263.46 258.66,264.24 259.01,265.53 259.34,266.14 259.65,267.07 259.95,267.90 260.25,268.35 260.55,269.02 260.84,269.65 261.12,270.28 261.38,270.64 261.62,271.12 261.83,271.48 262.01,271.82 262.15,272.10" fill="none" stroke="#2a2ad0" stroke-width="1.12" stroke-linejoin="round" opacity="0.55"/>
<polyline points="236.70,269.94 237.00,269.74 237.38,269.48 237.83,269.29 238.34,268.89 238.89,268.45 239.46,268.32 240.04,267.68 240.62,267.44 241.18,267.00 241.70,266.16 242.20,265.98 242.68,265.63 243.17,264.84 243.65,263.82 244.14,263.18 244.63,262.66 245.13,261.70 245.64,261.62 246.16,260.35 246.70,259.93 247.27,258.72 247.88,258.50 248.52,257.24 249.17,257.33 249.82,255.72 250.47,255.28 251.09,254.03 251.68,252.83 252.22,253.51 252.70,252.19 253.12,252.16 253.48,253.40 253.80,252.77 254.09,253.37 254.36,253.80 254.61,254.68 254.86,255.31 255.12,255.38 255.39,255.96 255.70,257.87 256.03,257.68 256.38,258.93 256.74,260.51 257.11,260.82 257.48,261.97 257.85,263.38 258.21,264.51 258.56,265.88 258.89,266.85 259.20,267.18 259.50,268.13 259.80,268.96 260.10,269.49 260.39,269.90 260.67,270.50 260.93,270.98 261.17,271.44 261.38,271.79 261.56,272.13 261.70,272.40" fill="none" stroke="#2a2ad0" stroke-width="1.12" stroke-linejoin="round" opacity="0.9"/>
<line x1="41.30" y1="102.50" x2="130.40" y2="102.50" stroke="#000" stroke-width="1.7"/>
<line x1="186.00" y1="102.50" x2="271.00" y2="102.50" stroke="#000" stroke-width="1.7"/>
<text x="158.50" y="107.90" font-size="11.5" font-weight="bold" text-anchor="middle" fill="#000">pSYK</text>
<line x1="41.30" y1="187.00" x2="130.40" y2="187.00" stroke="#000" stroke-width="1.7"/>
<line x1="186.40" y1="187.00" x2="271.90" y2="187.00" stroke="#000" stroke-width="1.7"/>
<text x="158.50" y="192.40" font-size="11.5" font-weight="bold" text-anchor="middle" fill="#000">pBLNK</text>
<line x1="47.50" y1="290.80" x2="130.00" y2="290.80" stroke="#000" stroke-width="1.7"/>
<line x1="185.00" y1="290.80" x2="277.50" y2="290.80" stroke="#000" stroke-width="1.7"/>
<text x="158.50" y="296.20" font-size="11.5" font-weight="bold" text-anchor="middle" fill="#000">pERK</text>
<rect x="474.60" y="4.40" width="10.80" height="5.00" fill="#fff" stroke="#111" stroke-width="0.8"/>
<text x="489.30" y="10.80" font-size="9.4" font-weight="bold" text-anchor="start" fill="#000">GC-M</text>
<rect x="474.60" y="13.00" width="10.80" height="5.00" fill="#111" stroke="#111" stroke-width="0.8"/>
<text x="489.30" y="19.40" font-size="9.4" font-weight="bold" text-anchor="start" fill="#000">GC-G</text>
<rect x="474.60" y="21.60" width="10.80" height="5.00" fill="url(#pgray)" stroke="#111" stroke-width="0.8"/>
<text x="489.30" y="28.00" font-size="9.4" font-weight="bold" text-anchor="start" fill="#000">FL-M</text>
<rect x="474.60" y="30.20" width="10.80" height="5.00" fill="url(#phatchL)" stroke="#111" stroke-width="0.8"/>
<text x="489.30" y="36.60" font-size="9.4" font-weight="bold" text-anchor="start" fill="#000">FL-G</text>
<text x="351.00" y="56.00" font-size="9.0" font-weight="bold" text-anchor="middle" fill="#000" transform="rotate(-90 351.00 56.00)">pSYK  rMFI</text>
<line x1="373.80" y1="76.00" x2="373.80" y2="72.70" stroke="#222" stroke-width="0.8"/>
<line x1="372.80" y1="72.70" x2="374.80" y2="72.70" stroke="#222" stroke-width="0.9"/>
<rect x="371.70" y="76.00" width="4.20" height="12.60" fill="#fff" stroke="#222" stroke-width="0.8"/>
<line x1="379.85" y1="83.00" x2="379.85" y2="81.50" stroke="#222" stroke-width="0.8"/>
<line x1="378.85" y1="81.50" x2="380.85" y2="81.50" stroke="#222" stroke-width="0.9"/>
<rect x="377.75" y="83.00" width="4.20" height="5.60" fill="#111" stroke="#222" stroke-width="0.8"/>
<line x1="385.90" y1="46.80" x2="385.90" y2="43.00" stroke="#222" stroke-width="0.8"/>
<line x1="384.90" y1="43.00" x2="386.90" y2="43.00" stroke="#222" stroke-width="0.9"/>
<rect x="383.80" y="46.80" width="4.20" height="41.80" fill="url(#pgray)" stroke="#222" stroke-width="0.8"/>
<line x1="391.95" y1="81.70" x2="391.95" y2="79.50" stroke="#222" stroke-width="0.8"/>
<line x1="390.95" y1="79.50" x2="392.95" y2="79.50" stroke="#222" stroke-width="0.9"/>
<rect x="389.85" y="81.70" width="4.20" height="6.90" fill="url(#phatch)" stroke="#222" stroke-width="0.8"/>
<line x1="404.00" y1="76.30" x2="404.00" y2="73.00" stroke="#222" stroke-width="0.8"/>
<line x1="403.00" y1="73.00" x2="405.00" y2="73.00" stroke="#222" stroke-width="0.9"/>
<rect x="401.90" y="76.30" width="4.20" height="12.30" fill="#fff" stroke="#222" stroke-width="0.8"/>
<line x1="410.05" y1="83.70" x2="410.05" y2="82.00" stroke="#222" stroke-width="0.8"/>
<line x1="409.05" y1="82.00" x2="411.05" y2="82.00" stroke="#222" stroke-width="0.9"/>
<rect x="407.95" y="83.70" width="4.20" height="4.90" fill="#111" stroke="#222" stroke-width="0.8"/>
<line x1="416.10" y1="46.80" x2="416.10" y2="43.60" stroke="#222" stroke-width="0.8"/>
<line x1="415.10" y1="43.60" x2="417.10" y2="43.60" stroke="#222" stroke-width="0.9"/>
<rect x="414.00" y="46.80" width="4.20" height="41.80" fill="url(#pgray)" stroke="#222" stroke-width="0.8"/>
<line x1="422.15" y1="78.50" x2="422.15" y2="73.30" stroke="#222" stroke-width="0.8"/>
<line x1="421.15" y1="73.30" x2="423.15" y2="73.30" stroke="#222" stroke-width="0.9"/>
<rect x="420.05" y="78.50" width="4.20" height="10.10" fill="url(#phatch)" stroke="#222" stroke-width="0.8"/>
<line x1="434.20" y1="75.30" x2="434.20" y2="73.00" stroke="#222" stroke-width="0.8"/>
<line x1="433.20" y1="73.00" x2="435.20" y2="73.00" stroke="#222" stroke-width="0.9"/>
<rect x="432.10" y="75.30" width="4.20" height="13.30" fill="#fff" stroke="#222" stroke-width="0.8"/>
<line x1="440.25" y1="83.70" x2="440.25" y2="81.00" stroke="#222" stroke-width="0.8"/>
<line x1="439.25" y1="81.00" x2="441.25" y2="81.00" stroke="#222" stroke-width="0.9"/>
<rect x="438.15" y="83.70" width="4.20" height="4.90" fill="#111" stroke="#222" stroke-width="0.8"/>
<line x1="446.30" y1="51.30" x2="446.30" y2="45.30" stroke="#222" stroke-width="0.8"/>
<line x1="445.30" y1="45.30" x2="447.30" y2="45.30" stroke="#222" stroke-width="0.9"/>
<rect x="444.20" y="51.30" width="4.20" height="37.30" fill="url(#pgray)" stroke="#222" stroke-width="0.8"/>
<line x1="452.35" y1="78.00" x2="452.35" y2="71.40" stroke="#222" stroke-width="0.8"/>
<line x1="451.35" y1="71.40" x2="453.35" y2="71.40" stroke="#222" stroke-width="0.9"/>
<rect x="450.25" y="78.00" width="4.20" height="10.60" fill="url(#phatch)" stroke="#222" stroke-width="0.8"/>
<line x1="464.40" y1="74.00" x2="464.40" y2="72.00" stroke="#222" stroke-width="0.8"/>
<line x1="463.40" y1="72.00" x2="465.40" y2="72.00" stroke="#222" stroke-width="0.9"/>
<rect x="462.30" y="74.00" width="4.20" height="14.60" fill="#fff" stroke="#222" stroke-width="0.8"/>
<line x1="470.45" y1="83.00" x2="470.45" y2="81.00" stroke="#222" stroke-width="0.8"/>
<line x1="469.45" y1="81.00" x2="471.45" y2="81.00" stroke="#222" stroke-width="0.9"/>
<rect x="468.35" y="83.00" width="4.20" height="5.60" fill="#111" stroke="#222" stroke-width="0.8"/>
<line x1="476.50" y1="54.60" x2="476.50" y2="51.30" stroke="#222" stroke-width="0.8"/>
<line x1="475.50" y1="51.30" x2="477.50" y2="51.30" stroke="#222" stroke-width="0.9"/>
<rect x="474.40" y="54.60" width="4.20" height="34.00" fill="url(#pgray)" stroke="#222" stroke-width="0.8"/>
<line x1="482.55" y1="77.20" x2="482.55" y2="71.00" stroke="#222" stroke-width="0.8"/>
<line x1="481.55" y1="71.00" x2="483.55" y2="71.00" stroke="#222" stroke-width="0.9"/>
<rect x="480.45" y="77.20" width="4.20" height="11.40" fill="url(#phatch)" stroke="#222" stroke-width="0.8"/>
<line x1="494.60" y1="77.90" x2="494.60" y2="75.50" stroke="#222" stroke-width="0.8"/>
<line x1="493.60" y1="75.50" x2="495.60" y2="75.50" stroke="#222" stroke-width="0.9"/>
<rect x="492.50" y="77.90" width="4.20" height="10.70" fill="#fff" stroke="#222" stroke-width="0.8"/>
<line x1="500.65" y1="85.00" x2="500.65" y2="83.00" stroke="#222" stroke-width="0.8"/>
<line x1="499.65" y1="83.00" x2="501.65" y2="83.00" stroke="#222" stroke-width="0.9"/>
<rect x="498.55" y="85.00" width="4.20" height="3.60" fill="#111" stroke="#222" stroke-width="0.8"/>
<line x1="506.70" y1="60.40" x2="506.70" y2="57.20" stroke="#222" stroke-width="0.8"/>
<line x1="505.70" y1="57.20" x2="507.70" y2="57.20" stroke="#222" stroke-width="0.9"/>
<rect x="504.60" y="60.40" width="4.20" height="28.20" fill="url(#pgray)" stroke="#222" stroke-width="0.8"/>
<line x1="512.75" y1="82.40" x2="512.75" y2="78.50" stroke="#222" stroke-width="0.8"/>
<line x1="511.75" y1="78.50" x2="513.75" y2="78.50" stroke="#222" stroke-width="0.9"/>
<rect x="510.65" y="82.40" width="4.20" height="6.20" fill="url(#phatch)" stroke="#222" stroke-width="0.8"/>
<line x1="370.80" y1="34.50" x2="370.80" y2="89.10" stroke="#000" stroke-width="1.4"/>
<line x1="370.20" y1="88.60" x2="519.00" y2="88.60" stroke="#000" stroke-width="1.3"/>
<line x1="368.60" y1="35.00" x2="370.80" y2="35.00" stroke="#000" stroke-width="0.8"/>
<text x="368.60" y="36.80" font-size="5.2" font-weight="bold" text-anchor="end" fill="#222">100</text>
<line x1="368.60" y1="61.70" x2="370.80" y2="61.70" stroke="#000" stroke-width="0.8"/>
<text x="368.60" y="63.50" font-size="5.2" font-weight="bold" text-anchor="end" fill="#222">10</text>
<line x1="368.60" y1="88.50" x2="370.80" y2="88.50" stroke="#000" stroke-width="0.8"/>
<text x="368.60" y="90.30" font-size="5.2" font-weight="bold" text-anchor="end" fill="#222">1</text>
<line x1="376.40" y1="95.40" x2="391.90" y2="95.40" stroke="#000" stroke-width="2.4"/>
<text x="384.65" y="107.80" font-size="8.3" font-weight="bold" text-anchor="middle" fill="#000">3′</text>
<line x1="411.00" y1="95.40" x2="426.50" y2="95.40" stroke="#000" stroke-width="2.4"/>
<text x="419.25" y="107.80" font-size="8.3" font-weight="bold" text-anchor="middle" fill="#000">10′</text>
<line x1="438.80" y1="95.40" x2="454.30" y2="95.40" stroke="#000" stroke-width="2.4"/>
<text x="447.05" y="107.80" font-size="8.3" font-weight="bold" text-anchor="middle" fill="#000">15′</text>
<line x1="469.90" y1="95.40" x2="485.80" y2="95.40" stroke="#000" stroke-width="2.4"/>
<text x="478.35" y="107.80" font-size="8.3" font-weight="bold" text-anchor="middle" fill="#000">30′</text>
<line x1="498.30" y1="95.40" x2="513.20" y2="95.40" stroke="#000" stroke-width="2.4"/>
<text x="506.25" y="107.80" font-size="8.3" font-weight="bold" text-anchor="middle" fill="#000">60′</text>
<text x="351.30" y="151.00" font-size="9.0" font-weight="bold" text-anchor="middle" fill="#000" transform="rotate(-90 351.30 151.00)">pBLNK  rMFI</text>
<line x1="373.90" y1="160.40" x2="373.90" y2="153.80" stroke="#222" stroke-width="0.8"/>
<line x1="372.90" y1="153.80" x2="374.90" y2="153.80" stroke="#222" stroke-width="0.9"/>
<rect x="371.80" y="160.40" width="4.20" height="17.90" fill="#fff" stroke="#222" stroke-width="0.8"/>
<line x1="379.95" y1="163.80" x2="379.95" y2="159.60" stroke="#222" stroke-width="0.8"/>
<line x1="378.95" y1="159.60" x2="380.95" y2="159.60" stroke="#222" stroke-width="0.9"/>
<rect x="377.85" y="163.80" width="4.20" height="14.50" fill="#111" stroke="#222" stroke-width="0.8"/>
<line x1="386.00" y1="145.00" x2="386.00" y2="140.40" stroke="#222" stroke-width="0.8"/>
<line x1="385.00" y1="140.40" x2="387.00" y2="140.40" stroke="#222" stroke-width="0.9"/>
<rect x="383.90" y="145.00" width="4.20" height="33.30" fill="url(#pgray)" stroke="#222" stroke-width="0.8"/>
<line x1="392.05" y1="170.60" x2="392.05" y2="168.70" stroke="#222" stroke-width="0.8"/>
<line x1="391.05" y1="168.70" x2="393.05" y2="168.70" stroke="#222" stroke-width="0.9"/>
<rect x="389.95" y="170.60" width="4.20" height="7.70" fill="url(#phatch)" stroke="#222" stroke-width="0.8"/>
<line x1="404.10" y1="166.70" x2="404.10" y2="162.00" stroke="#222" stroke-width="0.8"/>
<line x1="403.10" y1="162.00" x2="405.10" y2="162.00" stroke="#222" stroke-width="0.9"/>
<rect x="402.00" y="166.70" width="4.20" height="11.60" fill="#fff" stroke="#222" stroke-width="0.8"/>
<line x1="410.15" y1="167.10" x2="410.15" y2="162.00" stroke="#222" stroke-width="0.8"/>
<line x1="409.15" y1="162.00" x2="411.15" y2="162.00" stroke="#222" stroke-width="0.9"/>
<rect x="408.05" y="167.10" width="4.20" height="11.20" fill="#111" stroke="#222" stroke-width="0.8"/>
<line x1="416.20" y1="145.60" x2="416.20" y2="139.80" stroke="#222" stroke-width="0.8"/>
<line x1="415.20" y1="139.80" x2="417.20" y2="139.80" stroke="#222" stroke-width="0.9"/>
<rect x="414.10" y="145.60" width="4.20" height="32.70" fill="url(#pgray)" stroke="#222" stroke-width="0.8"/>
<line x1="422.25" y1="169.20" x2="422.25" y2="166.70" stroke="#222" stroke-width="0.8"/>
<line x1="421.25" y1="166.70" x2="423.25" y2="166.70" stroke="#222" stroke-width="0.9"/>
<rect x="420.15" y="169.20" width="4.20" height="9.10" fill="url(#phatch)" stroke="#222" stroke-width="0.8"/>
<line x1="434.30" y1="167.10" x2="434.30" y2="162.20" stroke="#222" stroke-width="0.8"/>
<line x1="433.30" y1="162.20" x2="435.30" y2="162.20" stroke="#222" stroke-width="0.9"/>
<rect x="432.20" y="167.10" width="4.20" height="11.20" fill="#fff" stroke="#222" stroke-width="0.8"/>
<line x1="440.35" y1="168.90" x2="440.35" y2="165.30" stroke="#222" stroke-width="0.8"/>
<line x1="439.35" y1="165.30" x2="441.35" y2="165.30" stroke="#222" stroke-width="0.9"/>
<rect x="438.25" y="168.90" width="4.20" height="9.40" fill="#111" stroke="#222" stroke-width="0.8"/>
<line x1="446.40" y1="154.30" x2="446.40" y2="149.40" stroke="#222" stroke-width="0.8"/>
<line x1="445.40" y1="149.40" x2="447.40" y2="149.40" stroke="#222" stroke-width="0.9"/>
<rect x="444.30" y="154.30" width="4.20" height="24.00" fill="url(#pgray)" stroke="#222" stroke-width="0.8"/>
<line x1="452.45" y1="170.80" x2="452.45" y2="168.40" stroke="#222" stroke-width="0.8"/>
<line x1="451.45" y1="168.40" x2="453.45" y2="168.40" stroke="#222" stroke-width="0.9"/>
<rect x="450.35" y="170.80" width="4.20" height="7.50" fill="url(#phatch)" stroke="#222" stroke-width="0.8"/>
<line x1="464.50" y1="171.30" x2="464.50" y2="168.00" stroke="#222" stroke-width="0.8"/>
<line x1="463.50" y1="168.00" x2="465.50" y2="168.00" stroke="#222" stroke-width="0.9"/>
<rect x="462.40" y="171.30" width="4.20" height="7.00" fill="#fff" stroke="#222" stroke-width="0.8"/>
<line x1="470.55" y1="169.80" x2="470.55" y2="166.60" stroke="#222" stroke-width="0.8"/>
<line x1="469.55" y1="166.60" x2="471.55" y2="166.60" stroke="#222" stroke-width="0.9"/>
<rect x="468.45" y="169.80" width="4.20" height="8.50" fill="#111" stroke="#222" stroke-width="0.8"/>
<line x1="476.60" y1="154.90" x2="476.60" y2="151.00" stroke="#222" stroke-width="0.8"/>
<line x1="475.60" y1="151.00" x2="477.60" y2="151.00" stroke="#222" stroke-width="0.9"/>
<rect x="474.50" y="154.90" width="4.20" height="23.40" fill="url(#pgray)" stroke="#222" stroke-width="0.8"/>
<line x1="482.65" y1="170.20" x2="482.65" y2="168.60" stroke="#222" stroke-width="0.8"/>
<line x1="481.65" y1="168.60" x2="483.65" y2="168.60" stroke="#222" stroke-width="0.9"/>
<rect x="480.55" y="170.20" width="4.20" height="8.10" fill="url(#phatch)" stroke="#222" stroke-width="0.8"/>
<line x1="494.70" y1="172.60" x2="494.70" y2="169.50" stroke="#222" stroke-width="0.8"/>
<line x1="493.70" y1="169.50" x2="495.70" y2="169.50" stroke="#222" stroke-width="0.9"/>
<rect x="492.60" y="172.60" width="4.20" height="5.70" fill="#fff" stroke="#222" stroke-width="0.8"/>
<line x1="500.75" y1="172.20" x2="500.75" y2="169.50" stroke="#222" stroke-width="0.8"/>
<line x1="499.75" y1="169.50" x2="501.75" y2="169.50" stroke="#222" stroke-width="0.9"/>
<rect x="498.65" y="172.20" width="4.20" height="6.10" fill="#111" stroke="#222" stroke-width="0.8"/>
<line x1="506.80" y1="157.40" x2="506.80" y2="153.40" stroke="#222" stroke-width="0.8"/>
<line x1="505.80" y1="153.40" x2="507.80" y2="153.40" stroke="#222" stroke-width="0.9"/>
<rect x="504.70" y="157.40" width="4.20" height="20.90" fill="url(#pgray)" stroke="#222" stroke-width="0.8"/>
<line x1="512.85" y1="171.10" x2="512.85" y2="168.90" stroke="#222" stroke-width="0.8"/>
<line x1="511.85" y1="168.90" x2="513.85" y2="168.90" stroke="#222" stroke-width="0.9"/>
<rect x="510.75" y="171.10" width="4.20" height="7.20" fill="url(#phatch)" stroke="#222" stroke-width="0.8"/>
<line x1="370.40" y1="124.40" x2="370.40" y2="178.80" stroke="#000" stroke-width="1.4"/>
<line x1="369.80" y1="178.30" x2="519.00" y2="178.30" stroke="#000" stroke-width="1.3"/>
<line x1="368.20" y1="124.40" x2="370.40" y2="124.40" stroke="#000" stroke-width="0.8"/>
<text x="368.20" y="126.20" font-size="5.2" font-weight="bold" text-anchor="end" fill="#222">100</text>
<line x1="368.20" y1="151.30" x2="370.40" y2="151.30" stroke="#000" stroke-width="0.8"/>
<text x="368.20" y="153.10" font-size="5.2" font-weight="bold" text-anchor="end" fill="#222">10</text>
<line x1="368.20" y1="178.30" x2="370.40" y2="178.30" stroke="#000" stroke-width="0.8"/>
<text x="368.20" y="180.10" font-size="5.2" font-weight="bold" text-anchor="end" fill="#222">1</text>
<line x1="376.70" y1="185.10" x2="392.10" y2="185.10" stroke="#000" stroke-width="2.4"/>
<text x="384.90" y="196.60" font-size="8.3" font-weight="bold" text-anchor="middle" fill="#000">3′</text>
<line x1="411.20" y1="185.10" x2="426.50" y2="185.10" stroke="#000" stroke-width="2.4"/>
<text x="419.35" y="196.60" font-size="8.3" font-weight="bold" text-anchor="middle" fill="#000">10′</text>
<line x1="439.30" y1="185.10" x2="454.60" y2="185.10" stroke="#000" stroke-width="2.4"/>
<text x="447.45" y="196.60" font-size="8.3" font-weight="bold" text-anchor="middle" fill="#000">15′</text>
<line x1="470.70" y1="185.10" x2="485.70" y2="185.10" stroke="#000" stroke-width="2.4"/>
<text x="478.70" y="196.60" font-size="8.3" font-weight="bold" text-anchor="middle" fill="#000">30′</text>
<line x1="498.50" y1="185.10" x2="514.00" y2="185.10" stroke="#000" stroke-width="2.4"/>
<text x="506.75" y="196.60" font-size="8.3" font-weight="bold" text-anchor="middle" fill="#000">60′</text>
<text x="350.80" y="246.30" font-size="9.0" font-weight="bold" text-anchor="middle" fill="#000" transform="rotate(-90 350.80 246.30)">pERK  rMFI</text>
<line x1="374.30" y1="277.50" x2="374.30" y2="266.50" stroke="#222" stroke-width="0.8"/>
<line x1="373.30" y1="266.50" x2="375.30" y2="266.50" stroke="#222" stroke-width="0.9"/>
<rect x="372.20" y="277.50" width="4.20" height="3.00" fill="#fff" stroke="#222" stroke-width="0.8"/>
<line x1="380.20" y1="267.30" x2="380.20" y2="265.40" stroke="#222" stroke-width="0.8"/>
<line x1="379.20" y1="265.40" x2="381.20" y2="265.40" stroke="#222" stroke-width="0.9"/>
<rect x="378.10" y="267.30" width="4.20" height="13.20" fill="#111" stroke="#222" stroke-width="0.8"/>
<line x1="386.60" y1="250.60" x2="386.60" y2="240.00" stroke="#222" stroke-width="0.8"/>
<line x1="385.60" y1="240.00" x2="387.60" y2="240.00" stroke="#222" stroke-width="0.9"/>
<rect x="384.50" y="250.60" width="4.20" height="29.90" fill="url(#pgray)" stroke="#222" stroke-width="0.8"/>
<line x1="392.50" y1="271.30" x2="392.50" y2="266.50" stroke="#222" stroke-width="0.8"/>
<line x1="391.50" y1="266.50" x2="393.50" y2="266.50" stroke="#222" stroke-width="0.9"/>
<rect x="390.40" y="271.30" width="4.20" height="9.20" fill="url(#phatch)" stroke="#222" stroke-width="0.8"/>
<line x1="404.60" y1="275.60" x2="404.60" y2="270.40" stroke="#222" stroke-width="0.8"/>
<line x1="403.60" y1="270.40" x2="405.60" y2="270.40" stroke="#222" stroke-width="0.9"/>
<rect x="402.50" y="275.60" width="4.20" height="4.90" fill="#fff" stroke="#222" stroke-width="0.8"/>
<line x1="410.90" y1="266.90" x2="410.90" y2="261.20" stroke="#222" stroke-width="0.8"/>
<line x1="409.90" y1="261.20" x2="411.90" y2="261.20" stroke="#222" stroke-width="0.9"/>
<rect x="408.80" y="266.90" width="4.20" height="13.60" fill="#111" stroke="#222" stroke-width="0.8"/>
<line x1="417.20" y1="246.20" x2="417.20" y2="235.20" stroke="#222" stroke-width="0.8"/>
<line x1="416.20" y1="235.20" x2="418.20" y2="235.20" stroke="#222" stroke-width="0.9"/>
<rect x="415.10" y="246.20" width="4.20" height="34.30" fill="url(#pgray)" stroke="#222" stroke-width="0.8"/>
<line x1="423.50" y1="269.20" x2="423.50" y2="266.00" stroke="#222" stroke-width="0.8"/>
<line x1="422.50" y1="266.00" x2="424.50" y2="266.00" stroke="#222" stroke-width="0.9"/>
<rect x="421.40" y="269.20" width="4.20" height="11.30" fill="url(#phatch)" stroke="#222" stroke-width="0.8"/>
<line x1="435.30" y1="272.20" x2="435.30" y2="269.30" stroke="#222" stroke-width="0.8"/>
<line x1="434.30" y1="269.30" x2="436.30" y2="269.30" stroke="#222" stroke-width="0.9"/>
<rect x="433.20" y="272.20" width="4.20" height="8.30" fill="#fff" stroke="#222" stroke-width="0.8"/>
<line x1="441.60" y1="268.60" x2="441.60" y2="265.30" stroke="#222" stroke-width="0.8"/>
<line x1="440.60" y1="265.30" x2="442.60" y2="265.30" stroke="#222" stroke-width="0.9"/>
<rect x="439.50" y="268.60" width="4.20" height="11.90" fill="#111" stroke="#222" stroke-width="0.8"/>
<line x1="448.00" y1="261.30" x2="448.00" y2="250.60" stroke="#222" stroke-width="0.8"/>
<line x1="447.00" y1="250.60" x2="449.00" y2="250.60" stroke="#222" stroke-width="0.9"/>
<rect x="445.90" y="261.30" width="4.20" height="19.20" fill="url(#pgray)" stroke="#222" stroke-width="0.8"/>
<line x1="454.20" y1="272.20" x2="454.20" y2="268.60" stroke="#222" stroke-width="0.8"/>
<line x1="453.20" y1="268.60" x2="455.20" y2="268.60" stroke="#222" stroke-width="0.9"/>
<rect x="452.10" y="272.20" width="4.20" height="8.30" fill="url(#phatch)" stroke="#222" stroke-width="0.8"/>
<line x1="466.40" y1="275.30" x2="466.40" y2="271.30" stroke="#222" stroke-width="0.8"/>
<line x1="465.40" y1="271.30" x2="467.40" y2="271.30" stroke="#222" stroke-width="0.9"/>
<rect x="464.30" y="275.30" width="4.20" height="5.20" fill="#fff" stroke="#222" stroke-width="0.8"/>
<line x1="472.50" y1="268.00" x2="472.50" y2="265.30" stroke="#222" stroke-width="0.8"/>
<line x1="471.50" y1="265.30" x2="473.50" y2="265.30" stroke="#222" stroke-width="0.9"/>
<rect x="470.40" y="268.00" width="4.20" height="12.50" fill="#111" stroke="#222" stroke-width="0.8"/>
<line x1="478.70" y1="267.10" x2="478.70" y2="258.90" stroke="#222" stroke-width="0.8"/>
<line x1="477.70" y1="258.90" x2="479.70" y2="258.90" stroke="#222" stroke-width="0.9"/>
<rect x="476.60" y="267.10" width="4.20" height="13.40" fill="url(#pgray)" stroke="#222" stroke-width="0.8"/>
<line x1="484.90" y1="276.80" x2="484.90" y2="274.40" stroke="#222" stroke-width="0.8"/>
<line x1="483.90" y1="274.40" x2="485.90" y2="274.40" stroke="#222" stroke-width="0.9"/>
<rect x="482.80" y="276.80" width="4.20" height="3.70" fill="url(#phatch)" stroke="#222" stroke-width="0.8"/>
<line x1="496.90" y1="274.40" x2="496.90" y2="269.30" stroke="#222" stroke-width="0.8"/>
<line x1="495.90" y1="269.30" x2="497.90" y2="269.30" stroke="#222" stroke-width="0.9"/>
<rect x="494.80" y="274.40" width="4.20" height="6.10" fill="#fff" stroke="#222" stroke-width="0.8"/>
<line x1="503.60" y1="269.30" x2="503.60" y2="263.40" stroke="#222" stroke-width="0.8"/>
<line x1="502.60" y1="263.40" x2="504.60" y2="263.40" stroke="#222" stroke-width="0.9"/>
<rect x="501.50" y="269.30" width="4.20" height="11.20" fill="#111" stroke="#222" stroke-width="0.8"/>
<line x1="509.70" y1="271.30" x2="509.70" y2="265.30" stroke="#222" stroke-width="0.8"/>
<line x1="508.70" y1="265.30" x2="510.70" y2="265.30" stroke="#222" stroke-width="0.9"/>
<rect x="507.60" y="271.30" width="4.20" height="9.20" fill="url(#pgray)" stroke="#222" stroke-width="0.8"/>
<line x1="516.20" y1="278.50" x2="516.20" y2="277.00" stroke="#222" stroke-width="0.8"/>
<line x1="515.20" y1="277.00" x2="517.20" y2="277.00" stroke="#222" stroke-width="0.9"/>
<rect x="514.10" y="278.50" width="4.20" height="2.00" fill="url(#phatch)" stroke="#222" stroke-width="0.8"/>
<line x1="370.80" y1="228.00" x2="370.80" y2="281.00" stroke="#000" stroke-width="1.4"/>
<line x1="370.20" y1="280.50" x2="519.00" y2="280.50" stroke="#000" stroke-width="1.3"/>
<line x1="368.60" y1="228.00" x2="370.80" y2="228.00" stroke="#000" stroke-width="0.8"/>
<text x="368.60" y="229.80" font-size="5.2" font-weight="bold" text-anchor="end" fill="#222">10</text>
<line x1="368.60" y1="280.50" x2="370.80" y2="280.50" stroke="#000" stroke-width="0.8"/>
<text x="368.60" y="282.30" font-size="5.2" font-weight="bold" text-anchor="end" fill="#222">1</text>
<line x1="377.70" y1="287.30" x2="393.50" y2="287.30" stroke="#000" stroke-width="2.4"/>
<text x="386.10" y="303.00" font-size="8.3" font-weight="bold" text-anchor="middle" fill="#000">3′</text>
<line x1="412.70" y1="287.30" x2="428.00" y2="287.30" stroke="#000" stroke-width="2.4"/>
<text x="420.85" y="303.00" font-size="8.3" font-weight="bold" text-anchor="middle" fill="#000">10′</text>
<line x1="440.00" y1="287.30" x2="455.70" y2="287.30" stroke="#000" stroke-width="2.4"/>
<text x="448.35" y="303.00" font-size="8.3" font-weight="bold" text-anchor="middle" fill="#000">15′</text>
<line x1="471.60" y1="287.30" x2="487.20" y2="287.30" stroke="#000" stroke-width="2.4"/>
<text x="479.90" y="303.00" font-size="8.3" font-weight="bold" text-anchor="middle" fill="#000">30′</text>
<line x1="499.60" y1="287.30" x2="515.00" y2="287.30" stroke="#000" stroke-width="2.4"/>
<text x="507.80" y="303.00" font-size="8.3" font-weight="bold" text-anchor="middle" fill="#000">60′</text>
<text x="61.50" y="361.60" font-size="10.5" font-weight="bold" text-anchor="middle" fill="#000">Nucleus</text>
<text x="111.00" y="361.60" font-size="10.5" font-weight="bold" text-anchor="middle" fill="#9cc46c">pCD79a</text>
<text x="156.40" y="361.60" font-size="10.5" font-weight="bold" text-anchor="middle" fill="#cc3328">BCR</text>
<text x="204.70" y="361.60" font-size="10.5" font-weight="bold" text-anchor="middle" fill="#000">Merge</text>
<text x="33.00" y="398.80" font-size="12" font-weight="bold" text-anchor="end" fill="#000">GC-M</text>
<text x="33.00" y="454.00" font-size="12" font-weight="bold" text-anchor="end" fill="#000">FL-M</text>
<text x="33.00" y="528.20" font-size="12" font-weight="bold" text-anchor="end" fill="#000">GC-G</text>
<text x="33.00" y="582.80" font-size="12" font-weight="bold" text-anchor="end" fill="#000">FL-G</text>
<rect x="39.10" y="368.30" width="44.50" height="44.40" fill="#000"/>
<rect x="86.30" y="368.30" width="44.50" height="44.40" fill="#000"/>
<rect x="133.80" y="368.30" width="44.50" height="44.40" fill="#000"/>
<rect x="180.90" y="368.30" width="44.50" height="44.40" fill="#000"/>
<rect x="39.10" y="425.40" width="44.50" height="44.40" fill="#000"/>
<rect x="86.30" y="425.40" width="44.50" height="44.40" fill="#000"/>
<rect x="133.80" y="425.40" width="44.50" height="44.40" fill="#000"/>
<rect x="180.90" y="425.40" width="44.50" height="44.40" fill="#000"/>
<rect x="39.10" y="498.40" width="44.50" height="44.40" fill="#000"/>
<rect x="86.30" y="498.40" width="44.50" height="44.40" fill="#000"/>
<rect x="133.80" y="498.40" width="44.50" height="44.40" fill="#000"/>
<rect x="180.90" y="498.40" width="44.50" height="44.40" fill="#000"/>
<rect x="39.10" y="554.50" width="44.50" height="44.40" fill="#000"/>
<rect x="86.30" y="554.50" width="44.50" height="44.40" fill="#000"/>
<rect x="133.80" y="554.50" width="44.50" height="44.40" fill="#000"/>
<rect x="180.90" y="554.50" width="44.50" height="44.40" fill="#000"/>
<g filter="url(#bl1)">
<ellipse cx="62.0" cy="389.8" rx="10.3" ry="9.8" fill="#d4d4d4"/>
<circle cx="60.5" cy="396.5" r="4.0" fill="#d4d4d4"/>
</g>
<g filter="url(#bl05)">
<circle cx="62.5" cy="395.4" r="1.5" fill="#f4f4f4" opacity="0.8"/>
<circle cx="60.5" cy="388.4" r="1.7" fill="#f4f4f4" opacity="0.8"/>
<circle cx="61.8" cy="393.5" r="1.3" fill="#a4a4a4" opacity="0.8"/>
<circle cx="64.9" cy="385.3" r="1.0" fill="#a4a4a4" opacity="0.8"/>
<circle cx="57.0" cy="384.5" r="1.6" fill="#f4f4f4" opacity="0.8"/>
<circle cx="61.0" cy="388.1" r="1.5" fill="#a4a4a4" opacity="0.8"/>
<circle cx="61.6" cy="391.1" r="1.3" fill="#a4a4a4" opacity="0.8"/>
<circle cx="60.5" cy="382.8" r="1.8" fill="#a4a4a4" opacity="0.8"/>
<circle cx="56.3" cy="394.0" r="1.8" fill="#f4f4f4" opacity="0.8"/>
<circle cx="63.8" cy="388.1" r="1.0" fill="#f4f4f4" opacity="0.8"/>
<circle cx="67.2" cy="388.7" r="1.1" fill="#a4a4a4" opacity="0.8"/>
<circle cx="57.0" cy="389.6" r="1.4" fill="#f4f4f4" opacity="0.8"/>
<circle cx="55.4" cy="386.1" r="1.8" fill="#a4a4a4" opacity="0.8"/>
<circle cx="66.9" cy="383.8" r="1.0" fill="#a4a4a4" opacity="0.8"/>
<circle cx="67.0" cy="384.0" r="1.4" fill="#a4a4a4" opacity="0.8"/>
<circle cx="61.2" cy="386.4" r="1.4" fill="#a4a4a4" opacity="0.8"/>
<circle cx="61.6" cy="391.7" r="1.9" fill="#a4a4a4" opacity="0.8"/>
<circle cx="68.1" cy="393.4" r="1.0" fill="#f4f4f4" opacity="0.8"/>
<circle cx="60.1" cy="396.3" r="0.8" fill="#a4a4a4" opacity="0.8"/>
<circle cx="60.7" cy="388.7" r="1.2" fill="#a4a4a4" opacity="0.8"/>
<circle cx="67.8" cy="384.6" r="1.9" fill="#f4f4f4" opacity="0.8"/>
<circle cx="61.2" cy="391.8" r="0.8" fill="#f4f4f4" opacity="0.8"/>
<circle cx="63.7" cy="394.4" r="1.0" fill="#a4a4a4" opacity="0.8"/>
<circle cx="69.2" cy="391.7" r="1.9" fill="#f4f4f4" opacity="0.8"/>
<circle cx="65.9" cy="386.9" r="1.4" fill="#f4f4f4" opacity="0.8"/>
<circle cx="58.2" cy="385.2" r="1.5" fill="#f4f4f4" opacity="0.8"/>
<circle cx="67.3" cy="387.8" r="1.6" fill="#f4f4f4" opacity="0.8"/>
<circle cx="62.3" cy="394.0" r="1.4" fill="#a4a4a4" opacity="0.8"/>
<circle cx="61.2" cy="389.6" r="1.4" fill="#f4f4f4" opacity="0.8"/>
<circle cx="68.3" cy="390.6" r="0.9" fill="#a4a4a4" opacity="0.8"/>
<circle cx="58.2" cy="386.1" r="1.2" fill="#a4a4a4" opacity="0.8"/>
<circle cx="60.1" cy="383.5" r="0.9" fill="#f4f4f4" opacity="0.8"/>
<circle cx="58.5" cy="383.1" r="1.3" fill="#f4f4f4" opacity="0.8"/>
<circle cx="58.2" cy="387.4" r="1.1" fill="#f4f4f4" opacity="0.8"/>
</g>
<g filter="url(#bl1)">
<ellipse cx="62.3" cy="446.3" rx="9.0" ry="7.6" fill="#b4b4b4"/>
<circle cx="56.5" cy="450.5" r="3.6" fill="#b4b4b4"/>
<circle cx="66.5" cy="441.0" r="4.2" fill="#b4b4b4"/>
<circle cx="68.5" cy="448.5" r="3.4" fill="#b4b4b4"/>
<circle cx="61.0" cy="452.0" r="3.0" fill="#b4b4b4"/>
</g>
<g filter="url(#bl05)">
<circle cx="62.5" cy="448.2" r="1.0" fill="#f4f4f4" opacity="0.8"/>
<circle cx="66.4" cy="447.8" r="1.7" fill="#7a7a7a" opacity="0.8"/>
<circle cx="62.6" cy="443.5" r="1.1" fill="#f4f4f4" opacity="0.8"/>
<circle cx="63.4" cy="448.0" r="1.8" fill="#f4f4f4" opacity="0.8"/>
<circle cx="65.3" cy="441.6" r="1.0" fill="#7a7a7a" opacity="0.8"/>
<circle cx="60.3" cy="450.7" r="1.7" fill="#7a7a7a" opacity="0.8"/>
<circle cx="63.8" cy="445.1" r="1.5" fill="#7a7a7a" opacity="0.8"/>
<circle cx="59.3" cy="446.2" r="0.9" fill="#f4f4f4" opacity="0.8"/>
<circle cx="68.3" cy="444.1" r="1.1" fill="#f4f4f4" opacity="0.8"/>
<circle cx="66.8" cy="443.9" r="1.7" fill="#7a7a7a" opacity="0.8"/>
<circle cx="57.8" cy="446.1" r="1.3" fill="#f4f4f4" opacity="0.8"/>
<circle cx="64.4" cy="449.1" r="0.8" fill="#7a7a7a" opacity="0.8"/>
<circle cx="67.6" cy="447.6" r="1.4" fill="#f4f4f4" opacity="0.8"/>
<circle cx="58.3" cy="446.9" r="1.0" fill="#7a7a7a" opacity="0.8"/>
<circle cx="59.6" cy="447.7" r="1.1" fill="#7a7a7a" opacity="0.8"/>
<circle cx="58.6" cy="450.3" r="1.4" fill="#f4f4f4" opacity="0.8"/>
<circle cx="64.1" cy="445.2" r="1.1" fill="#f4f4f4" opacity="0.8"/>
<circle cx="62.8" cy="441.7" r="1.2" fill="#f4f4f4" opacity="0.8"/>
<circle cx="64.4" cy="449.9" r="1.6" fill="#f4f4f4" opacity="0.8"/>
<circle cx="67.7" cy="442.8" r="1.9" fill="#7a7a7a" opacity="0.8"/>
<circle cx="66.0" cy="446.7" r="1.7" fill="#7a7a7a" opacity="0.8"/>
<circle cx="56.5" cy="449.4" r="1.7" fill="#7a7a7a" opacity="0.8"/>
<circle cx="61.5" cy="448.8" r="1.0" fill="#f4f4f4" opacity="0.8"/>
<circle cx="57.2" cy="450.2" r="0.8" fill="#f4f4f4" opacity="0.8"/>
<circle cx="65.1" cy="447.0" r="1.2" fill="#7a7a7a" opacity="0.8"/>
<circle cx="61.8" cy="448.1" r="1.3" fill="#7a7a7a" opacity="0.8"/>
<circle cx="62.7" cy="447.7" r="1.0" fill="#f4f4f4" opacity="0.8"/>
<circle cx="61.1" cy="444.2" r="1.3" fill="#f4f4f4" opacity="0.8"/>
<circle cx="62.3" cy="452.2" r="1.4" fill="#f4f4f4" opacity="0.8"/>
<circle cx="63.0" cy="442.5" r="1.3" fill="#7a7a7a" opacity="0.8"/>
<circle cx="62.5" cy="450.1" r="1.3" fill="#f4f4f4" opacity="0.8"/>
<circle cx="62.4" cy="451.9" r="1.3" fill="#7a7a7a" opacity="0.8"/>
<circle cx="65.8" cy="446.9" r="1.0" fill="#f4f4f4" opacity="0.8"/>
<circle cx="63.1" cy="451.8" r="0.9" fill="#f4f4f4" opacity="0.8"/>
</g>
<g filter="url(#bl1)">
<ellipse cx="62.0" cy="521.0" rx="9.0" ry="9.6" fill="#c6c6c6"/>
<circle cx="71.4" cy="522.5" r="2.9" fill="#000"/>
</g>
<g filter="url(#bl05)">
<circle cx="57.7" cy="516.5" r="1.8" fill="#a4a4a4" opacity="0.8"/>
<circle cx="61.6" cy="513.8" r="1.3" fill="#f4f4f4" opacity="0.8"/>
<circle cx="67.3" cy="518.9" r="0.9" fill="#a4a4a4" opacity="0.8"/>
<circle cx="58.6" cy="521.7" r="1.4" fill="#f4f4f4" opacity="0.8"/>
<circle cx="65.3" cy="521.3" r="1.8" fill="#f4f4f4" opacity="0.8"/>
<circle cx="62.3" cy="518.0" r="1.0" fill="#a4a4a4" opacity="0.8"/>
<circle cx="60.1" cy="519.2" r="1.8" fill="#f4f4f4" opacity="0.8"/>
<circle cx="62.8" cy="524.4" r="1.8" fill="#a4a4a4" opacity="0.8"/>
<circle cx="60.3" cy="528.1" r="1.5" fill="#f4f4f4" opacity="0.8"/>
<circle cx="63.9" cy="528.0" r="1.9" fill="#a4a4a4" opacity="0.8"/>
<circle cx="65.0" cy="518.5" r="1.0" fill="#f4f4f4" opacity="0.8"/>
<circle cx="63.1" cy="522.5" r="1.5" fill="#f4f4f4" opacity="0.8"/>
<circle cx="60.0" cy="524.6" r="1.3" fill="#a4a4a4" opacity="0.8"/>
<circle cx="60.0" cy="525.8" r="0.9" fill="#a4a4a4" opacity="0.8"/>
<circle cx="63.0" cy="520.8" r="1.7" fill="#a4a4a4" opacity="0.8"/>
<circle cx="58.4" cy="525.2" r="0.9" fill="#f4f4f4" opacity="0.8"/>
<circle cx="64.9" cy="527.6" r="1.6" fill="#f4f4f4" opacity="0.8"/>
<circle cx="68.2" cy="517.9" r="1.2" fill="#f4f4f4" opacity="0.8"/>
<circle cx="55.9" cy="520.0" r="1.6" fill="#f4f4f4" opacity="0.8"/>
<circle cx="63.9" cy="514.4" r="1.8" fill="#f4f4f4" opacity="0.8"/>
<circle cx="65.4" cy="523.4" r="1.8" fill="#a4a4a4" opacity="0.8"/>
<circle cx="58.4" cy="527.1" r="1.1" fill="#f4f4f4" opacity="0.8"/>
<circle cx="60.8" cy="523.9" r="1.0" fill="#f4f4f4" opacity="0.8"/>
<circle cx="59.4" cy="514.1" r="0.9" fill="#f4f4f4" opacity="0.8"/>
<circle cx="67.1" cy="520.5" r="1.1" fill="#f4f4f4" opacity="0.8"/>
<circle cx="56.7" cy="517.2" r="1.3" fill="#f4f4f4" opacity="0.8"/>
<circle cx="66.8" cy="522.1" r="0.9" fill="#a4a4a4" opacity="0.8"/>
<circle cx="61.2" cy="513.8" r="1.7" fill="#a4a4a4" opacity="0.8"/>
<circle cx="65.6" cy="524.1" r="1.7" fill="#f4f4f4" opacity="0.8"/>
<circle cx="60.7" cy="525.8" r="1.7" fill="#a4a4a4" opacity="0.8"/>
<circle cx="66.7" cy="520.2" r="1.6" fill="#f4f4f4" opacity="0.8"/>
</g>
<g filter="url(#bl1)">
<ellipse cx="63.1" cy="576.5" rx="8.8" ry="8.6" fill="#e0e0e0"/>
</g>
<g filter="url(#bl05)">
<circle cx="64.8" cy="570.6" r="1.1" fill="#fafafa" opacity="0.8"/>
<circle cx="68.7" cy="576.5" r="1.6" fill="#fafafa" opacity="0.8"/>
<circle cx="58.9" cy="580.7" r="1.7" fill="#fafafa" opacity="0.8"/>
<circle cx="62.5" cy="572.2" r="1.6" fill="#fafafa" opacity="0.8"/>
<circle cx="64.9" cy="581.2" r="1.1" fill="#b4b4b4" opacity="0.8"/>
<circle cx="65.0" cy="571.3" r="1.2" fill="#b4b4b4" opacity="0.8"/>
<circle cx="68.2" cy="579.8" r="1.3" fill="#b4b4b4" opacity="0.8"/>
<circle cx="65.6" cy="578.2" r="1.1" fill="#b4b4b4" opacity="0.8"/>
<circle cx="68.1" cy="574.9" r="1.5" fill="#fafafa" opacity="0.8"/>
<circle cx="58.9" cy="581.5" r="1.4" fill="#b4b4b4" opacity="0.8"/>
<circle cx="59.6" cy="572.1" r="1.9" fill="#b4b4b4" opacity="0.8"/>
<circle cx="67.2" cy="577.2" r="1.1" fill="#b4b4b4" opacity="0.8"/>
<circle cx="61.4" cy="575.4" r="1.4" fill="#b4b4b4" opacity="0.8"/>
<circle cx="67.3" cy="580.2" r="1.0" fill="#fafafa" opacity="0.8"/>
<circle cx="60.6" cy="576.8" r="1.8" fill="#fafafa" opacity="0.8"/>
<circle cx="62.9" cy="575.8" r="0.8" fill="#b4b4b4" opacity="0.8"/>
<circle cx="59.9" cy="582.0" r="1.1" fill="#b4b4b4" opacity="0.8"/>
<circle cx="60.0" cy="579.4" r="1.9" fill="#fafafa" opacity="0.8"/>
<circle cx="67.3" cy="577.9" r="1.2" fill="#b4b4b4" opacity="0.8"/>
<circle cx="66.5" cy="576.1" r="1.8" fill="#b4b4b4" opacity="0.8"/>
<circle cx="60.0" cy="571.0" r="1.7" fill="#fafafa" opacity="0.8"/>
<circle cx="64.5" cy="571.9" r="1.6" fill="#fafafa" opacity="0.8"/>
<circle cx="61.4" cy="577.6" r="1.1" fill="#b4b4b4" opacity="0.8"/>
<circle cx="57.0" cy="577.0" r="0.8" fill="#fafafa" opacity="0.8"/>
<circle cx="66.9" cy="580.1" r="1.1" fill="#fafafa" opacity="0.8"/>
<circle cx="56.8" cy="578.4" r="1.3" fill="#fafafa" opacity="0.8"/>
<circle cx="67.0" cy="572.9" r="1.3" fill="#fafafa" opacity="0.8"/>
<circle cx="60.5" cy="576.8" r="1.1" fill="#fafafa" opacity="0.8"/>
<circle cx="64.4" cy="572.9" r="1.9" fill="#b4b4b4" opacity="0.8"/>
<circle cx="66.8" cy="574.6" r="1.2" fill="#b4b4b4" opacity="0.8"/>
<circle cx="59.3" cy="579.3" r="1.8" fill="#b4b4b4" opacity="0.8"/>
<circle cx="63.0" cy="577.0" r="0.9" fill="#fafafa" opacity="0.8"/>
<circle cx="69.0" cy="577.6" r="1.6" fill="#fafafa" opacity="0.8"/>
<circle cx="58.8" cy="581.5" r="0.9" fill="#b4b4b4" opacity="0.8"/>
</g>
<g filter="url(#bl05)" opacity="1.0">
<ellipse cx="108.3" cy="386.0" rx="1.26" ry="0.94" fill="#d8f0c8"/>
<ellipse cx="109.2" cy="391.2" rx="1.38" ry="1.02" fill="#9ee07a"/>
<ellipse cx="113.5" cy="393.0" rx="1.38" ry="1.02" fill="#8fd86a"/>
<ellipse cx="116.6" cy="389.5" rx="1.26" ry="0.94" fill="#8fd86a"/>
<ellipse cx="118.7" cy="389.9" rx="1.15" ry="0.85" fill="#7cc85a"/>
<ellipse cx="110.5" cy="395.5" rx="1.03" ry="0.77" fill="#4a8a30"/>
<ellipse cx="112.8" cy="388.8" rx="0.80" ry="0.59" fill="#3a7028"/>
</g>
<ellipse cx="159.8" cy="390.8" rx="8" ry="6.5" fill="#400c04" filter="url(#bl3)"/>
<g filter="url(#bl08)" opacity="1.0">
<ellipse cx="154.6" cy="391.5" rx="1.20" ry="0.89" fill="#a02010"/>
<ellipse cx="155.0" cy="394.5" rx="1.14" ry="0.84" fill="#c83018"/>
<ellipse cx="161.8" cy="386.5" rx="1.10" ry="0.82" fill="#d84020"/>
<ellipse cx="164.9" cy="390.8" rx="1.22" ry="0.90" fill="#c83018"/>
<ellipse cx="158.2" cy="392.9" rx="1.58" ry="1.17" fill="#d84020"/>
<ellipse cx="164.6" cy="392.9" rx="1.47" ry="1.09" fill="#ff6030"/>
<ellipse cx="160.4" cy="389.2" rx="1.58" ry="1.17" fill="#f04a20"/>
<ellipse cx="158.2" cy="388.6" rx="1.68" ry="1.24" fill="#c83018"/>
<ellipse cx="163.0" cy="393.1" rx="1.35" ry="1.00" fill="#e03818"/>
<ellipse cx="163.4" cy="388.0" rx="1.63" ry="1.21" fill="#a02010"/>
<ellipse cx="155.4" cy="389.5" rx="1.24" ry="0.92" fill="#f04a20"/>
<ellipse cx="155.4" cy="392.9" rx="1.41" ry="1.04" fill="#c83018"/>
<ellipse cx="154.8" cy="389.7" rx="1.70" ry="1.26" fill="#f04a20"/>
<ellipse cx="165.0" cy="390.1" rx="1.68" ry="1.24" fill="#ff6030"/>
<ellipse cx="162.5" cy="388.2" rx="1.01" ry="0.75" fill="#ff6030"/>
<ellipse cx="160.2" cy="394.1" rx="1.38" ry="1.02" fill="#d84020"/>
<ellipse cx="160.1" cy="388.5" rx="1.58" ry="1.17" fill="#c83018"/>
<ellipse cx="155.6" cy="392.5" rx="1.46" ry="1.08" fill="#e03818"/>
<ellipse cx="162.6" cy="391.5" rx="1.00" ry="0.74" fill="#d84020"/>
<ellipse cx="157.2" cy="390.1" rx="1.14" ry="0.84" fill="#a02010"/>
<ellipse cx="155.6" cy="392.4" rx="1.43" ry="1.06" fill="#d84020"/>
<ellipse cx="164.0" cy="392.0" rx="1.19" ry="0.88" fill="#e03818"/>
<ellipse cx="154.6" cy="392.1" rx="1.11" ry="0.82" fill="#c83018"/>
<ellipse cx="164.2" cy="390.5" rx="1.21" ry="0.90" fill="#d84020"/>
<ellipse cx="161.9" cy="395.2" rx="0.93" ry="0.68" fill="#d84020"/>
<ellipse cx="159.2" cy="395.6" rx="1.06" ry="0.79" fill="#ff6030"/>
</g>
<ellipse cx="207.4" cy="390.8" rx="8" ry="6.5" fill="#400c04" filter="url(#bl3)"/>
<g filter="url(#bl08)" opacity="1.0">
<ellipse cx="202.2" cy="391.5" rx="1.20" ry="0.89" fill="#a02010"/>
<ellipse cx="202.6" cy="394.5" rx="1.14" ry="0.84" fill="#c83018"/>
<ellipse cx="209.4" cy="386.5" rx="1.10" ry="0.82" fill="#d84020"/>
<ellipse cx="212.5" cy="390.8" rx="1.22" ry="0.90" fill="#c83018"/>
<ellipse cx="205.8" cy="392.9" rx="1.58" ry="1.17" fill="#d84020"/>
<ellipse cx="212.2" cy="392.9" rx="1.47" ry="1.09" fill="#ff6030"/>
<ellipse cx="208.0" cy="389.2" rx="1.58" ry="1.17" fill="#f04a20"/>
<ellipse cx="205.8" cy="388.6" rx="1.68" ry="1.24" fill="#c83018"/>
<ellipse cx="210.6" cy="393.1" rx="1.35" ry="1.00" fill="#e03818"/>
<ellipse cx="211.0" cy="388.0" rx="1.63" ry="1.21" fill="#a02010"/>
<ellipse cx="203.0" cy="389.5" rx="1.24" ry="0.92" fill="#f04a20"/>
<ellipse cx="203.0" cy="392.9" rx="1.41" ry="1.04" fill="#c83018"/>
<ellipse cx="202.4" cy="389.7" rx="1.70" ry="1.26" fill="#f04a20"/>
<ellipse cx="212.6" cy="390.1" rx="1.68" ry="1.24" fill="#ff6030"/>
<ellipse cx="210.1" cy="388.2" rx="1.01" ry="0.75" fill="#ff6030"/>
<ellipse cx="207.8" cy="394.1" rx="1.38" ry="1.02" fill="#d84020"/>
<ellipse cx="207.7" cy="388.5" rx="1.58" ry="1.17" fill="#c83018"/>
<ellipse cx="203.2" cy="392.5" rx="1.46" ry="1.08" fill="#e03818"/>
<ellipse cx="210.2" cy="391.5" rx="1.00" ry="0.74" fill="#d84020"/>
<ellipse cx="204.8" cy="390.1" rx="1.14" ry="0.84" fill="#a02010"/>
<ellipse cx="203.2" cy="392.4" rx="1.43" ry="1.06" fill="#d84020"/>
<ellipse cx="211.6" cy="392.0" rx="1.19" ry="0.88" fill="#e03818"/>
<ellipse cx="202.2" cy="392.1" rx="1.11" ry="0.82" fill="#c83018"/>
<ellipse cx="211.8" cy="390.5" rx="1.21" ry="0.90" fill="#d84020"/>
<ellipse cx="209.5" cy="395.2" rx="0.93" ry="0.68" fill="#d84020"/>
<ellipse cx="206.8" cy="395.6" rx="1.06" ry="0.79" fill="#ff6030"/>
</g>
<g filter="url(#bl05)" opacity="1.0">
<ellipse cx="202.1" cy="385.5" rx="1.03" ry="0.77" fill="#7ad060"/>
</g>
<g filter="url(#bl05)" opacity="0.9">
<ellipse cx="114.0" cy="438.4" rx="1.08" ry="0.79" fill="#c0ecb0"/>
<ellipse cx="114.4" cy="443.1" rx="1.27" ry="0.94" fill="#8ed470"/>
<ellipse cx="117.0" cy="443.6" rx="1.08" ry="0.79" fill="#8ed470"/>
<ellipse cx="120.0" cy="444.4" rx="0.98" ry="0.72" fill="#c0ecb0"/>
<ellipse cx="114.8" cy="446.6" rx="1.17" ry="0.87" fill="#8ed470"/>
<ellipse cx="119.6" cy="448.3" rx="0.98" ry="0.72" fill="#8ed470"/>
<ellipse cx="114.8" cy="450.5" rx="1.17" ry="0.87" fill="#c0ecb0"/>
<ellipse cx="112.3" cy="451.8" rx="0.98" ry="0.72" fill="#8ed470"/>
<ellipse cx="114.0" cy="453.5" rx="1.08" ry="0.79" fill="#8ed470"/>
<ellipse cx="102.7" cy="450.5" rx="1.27" ry="0.94" fill="#c0ecb0"/>
<ellipse cx="104.5" cy="453.1" rx="1.27" ry="0.94" fill="#8ed470"/>
<ellipse cx="104.9" cy="445.3" rx="0.88" ry="0.65" fill="#8ed470"/>
<ellipse cx="101.9" cy="444.0" rx="0.78" ry="0.58" fill="#c0ecb0"/>
<ellipse cx="109.7" cy="444.9" rx="0.78" ry="0.58" fill="#8ed470"/>
<ellipse cx="111.0" cy="453.9" rx="0.88" ry="0.65" fill="#8ed470"/>
</g>
<ellipse cx="150.8" cy="448.4" rx="5" ry="7" fill="#3a0804" filter="url(#bl2)"/>
<ellipse cx="162.8" cy="446.4" rx="5.5" ry="8" fill="#3a0804" filter="url(#bl2)"/>
<g filter="url(#bl05)" opacity="1.0">
<ellipse cx="152.2" cy="447.8" rx="1.30" ry="0.96" fill="#801408"/>
<ellipse cx="147.6" cy="450.0" rx="1.33" ry="0.98" fill="#e06040"/>
<ellipse cx="148.7" cy="453.1" rx="1.02" ry="0.76" fill="#a01c0c"/>
<ellipse cx="154.6" cy="450.2" rx="1.56" ry="1.15" fill="#a01c0c"/>
<ellipse cx="149.3" cy="443.1" rx="1.52" ry="1.12" fill="#e06040"/>
<ellipse cx="150.3" cy="448.0" rx="1.06" ry="0.78" fill="#b82414"/>
<ellipse cx="152.2" cy="453.5" rx="1.23" ry="0.91" fill="#c83018"/>
<ellipse cx="150.3" cy="442.5" rx="0.85" ry="0.63" fill="#c83018"/>
<ellipse cx="149.7" cy="451.5" rx="1.58" ry="1.16" fill="#a01c0c"/>
<ellipse cx="149.5" cy="453.3" rx="1.22" ry="0.90" fill="#e06040"/>
<ellipse cx="150.4" cy="451.5" rx="0.95" ry="0.71" fill="#e06040"/>
<ellipse cx="153.6" cy="449.7" rx="1.14" ry="0.84" fill="#801408"/>
<ellipse cx="150.8" cy="451.6" rx="1.12" ry="0.83" fill="#6a1006"/>
<ellipse cx="152.3" cy="447.2" rx="1.11" ry="0.82" fill="#c83018"/>
</g>
<g filter="url(#bl05)" opacity="1.0">
<ellipse cx="166.7" cy="443.3" rx="0.82" ry="0.61" fill="#801408"/>
<ellipse cx="161.8" cy="450.4" rx="0.91" ry="0.67" fill="#b82414"/>
<ellipse cx="163.9" cy="450.8" rx="1.30" ry="0.96" fill="#a01c0c"/>
<ellipse cx="164.0" cy="445.1" rx="1.21" ry="0.89" fill="#e06040"/>
<ellipse cx="166.3" cy="447.1" rx="1.09" ry="0.81" fill="#6a1006"/>
<ellipse cx="166.5" cy="448.6" rx="1.10" ry="0.81" fill="#c83018"/>
<ellipse cx="163.8" cy="449.3" rx="1.10" ry="0.81" fill="#e06040"/>
<ellipse cx="163.0" cy="442.2" rx="1.03" ry="0.76" fill="#c83018"/>
<ellipse cx="166.2" cy="445.5" rx="0.95" ry="0.70" fill="#6a1006"/>
<ellipse cx="158.8" cy="447.1" rx="1.32" ry="0.98" fill="#e06040"/>
<ellipse cx="163.6" cy="449.1" rx="1.35" ry="1.00" fill="#b82414"/>
<ellipse cx="159.4" cy="445.7" rx="0.88" ry="0.65" fill="#801408"/>
<ellipse cx="165.1" cy="447.3" rx="1.03" ry="0.76" fill="#c83018"/>
<ellipse cx="161.5" cy="445.2" rx="1.24" ry="0.92" fill="#b82414"/>
<ellipse cx="165.2" cy="443.5" rx="1.01" ry="0.75" fill="#a01c0c"/>
<ellipse cx="165.9" cy="450.3" rx="1.45" ry="1.07" fill="#e06040"/>
</g>
<ellipse cx="197.9" cy="448.4" rx="5" ry="7" fill="#3a1004" filter="url(#bl2)"/>
<ellipse cx="209.9" cy="446.4" rx="5.5" ry="8" fill="#3a1004" filter="url(#bl2)"/>
<g filter="url(#bl05)" opacity="1.0">
<ellipse cx="199.3" cy="447.8" rx="1.30" ry="0.96" fill="#c06018"/>
<ellipse cx="194.7" cy="450.0" rx="1.44" ry="1.07" fill="#f0c050"/>
<ellipse cx="199.7" cy="449.9" rx="1.06" ry="0.79" fill="#c06018"/>
<ellipse cx="194.8" cy="445.0" rx="1.38" ry="1.02" fill="#a04010"/>
<ellipse cx="201.5" cy="450.1" rx="1.02" ry="0.75" fill="#d08028"/>
<ellipse cx="196.4" cy="449.6" rx="1.27" ry="0.94" fill="#c06018"/>
<ellipse cx="201.2" cy="446.4" rx="0.85" ry="0.63" fill="#d08028"/>
<ellipse cx="196.8" cy="451.5" rx="1.58" ry="1.16" fill="#e0a030"/>
<ellipse cx="196.6" cy="453.3" rx="0.92" ry="0.68" fill="#d08028"/>
<ellipse cx="199.4" cy="444.0" rx="1.15" ry="0.85" fill="#e0a030"/>
<ellipse cx="195.8" cy="453.2" rx="1.55" ry="1.15" fill="#a04010"/>
<ellipse cx="195.0" cy="448.2" rx="1.12" ry="0.83" fill="#a04010"/>
<ellipse cx="199.4" cy="447.2" rx="1.11" ry="0.82" fill="#d08028"/>
<ellipse cx="196.0" cy="446.8" rx="1.26" ry="0.93" fill="#d08028"/>
</g>
<g filter="url(#bl05)" opacity="1.0">
<ellipse cx="213.8" cy="443.3" rx="0.82" ry="0.61" fill="#c06018"/>
<ellipse cx="208.9" cy="450.4" rx="0.91" ry="0.67" fill="#f0c050"/>
<ellipse cx="211.0" cy="450.8" rx="1.30" ry="0.96" fill="#e0a030"/>
<ellipse cx="211.1" cy="445.1" rx="1.14" ry="0.85" fill="#a04010"/>
<ellipse cx="206.1" cy="445.9" rx="1.43" ry="1.05" fill="#f0c050"/>
<ellipse cx="210.1" cy="447.7" rx="1.33" ry="0.99" fill="#f0c050"/>
<ellipse cx="206.7" cy="441.7" rx="1.26" ry="0.93" fill="#f0c050"/>
<ellipse cx="212.7" cy="441.1" rx="1.34" ry="0.99" fill="#f0c050"/>
<ellipse cx="209.4" cy="448.3" rx="0.95" ry="0.70" fill="#a04010"/>
<ellipse cx="205.9" cy="447.1" rx="0.95" ry="0.70" fill="#e0a030"/>
<ellipse cx="211.0" cy="450.0" rx="0.96" ry="0.71" fill="#d08028"/>
<ellipse cx="211.0" cy="447.8" rx="1.26" ry="0.93" fill="#c06018"/>
<ellipse cx="212.1" cy="445.0" rx="1.07" ry="0.79" fill="#d08028"/>
<ellipse cx="208.3" cy="449.1" rx="1.53" ry="1.13" fill="#f0c050"/>
<ellipse cx="207.9" cy="447.3" rx="0.89" ry="0.66" fill="#e0a030"/>
<ellipse cx="210.7" cy="440.6" rx="1.00" ry="0.74" fill="#a04010"/>
</g>
<g filter="url(#bl05)" opacity="0.85">
<ellipse cx="110.5" cy="522.6" rx="0.52" ry="0.38" fill="#60a048"/>
<ellipse cx="115.3" cy="524.2" rx="0.55" ry="0.41" fill="#303a30"/>
<ellipse cx="107.9" cy="519.7" rx="0.73" ry="0.54" fill="#2a5a20"/>
<ellipse cx="111.6" cy="526.3" rx="0.67" ry="0.50" fill="#60a048"/>
<ellipse cx="109.5" cy="527.6" rx="0.47" ry="0.35" fill="#2a5a20"/>
<ellipse cx="112.5" cy="520.7" rx="0.54" ry="0.40" fill="#4a8a38"/>
<ellipse cx="103.0" cy="525.8" rx="0.54" ry="0.40" fill="#4a8a38"/>
<ellipse cx="109.1" cy="527.6" rx="0.48" ry="0.36" fill="#303a30"/>
<ellipse cx="111.0" cy="523.3" rx="0.54" ry="0.40" fill="#4a8a38"/>
<ellipse cx="111.9" cy="516.4" rx="0.49" ry="0.37" fill="#2a5a20"/>
<ellipse cx="102.6" cy="521.5" rx="0.54" ry="0.40" fill="#4a8a38"/>
<ellipse cx="103.4" cy="524.2" rx="0.72" ry="0.53" fill="#204018"/>
<ellipse cx="108.1" cy="523.8" rx="0.58" ry="0.43" fill="#204018"/>
<ellipse cx="102.8" cy="520.3" rx="0.85" ry="0.63" fill="#204018"/>
<ellipse cx="115.7" cy="521.3" rx="0.82" ry="0.61" fill="#204018"/>
<ellipse cx="100.6" cy="519.9" rx="0.50" ry="0.37" fill="#204018"/>
<ellipse cx="110.5" cy="528.7" rx="0.61" ry="0.45" fill="#303a30"/>
<ellipse cx="114.1" cy="520.9" rx="0.83" ry="0.61" fill="#204018"/>
<ellipse cx="103.1" cy="516.8" rx="0.51" ry="0.37" fill="#4a8a38"/>
<ellipse cx="109.2" cy="526.3" rx="0.78" ry="0.57" fill="#60a048"/>
<ellipse cx="105.3" cy="521.5" rx="0.81" ry="0.60" fill="#2a5a20"/>
<ellipse cx="102.7" cy="517.2" rx="0.59" ry="0.44" fill="#4a8a38"/>
<ellipse cx="106.1" cy="516.1" rx="0.48" ry="0.36" fill="#60a048"/>
<ellipse cx="103.4" cy="519.2" rx="0.86" ry="0.63" fill="#204018"/>
<ellipse cx="101.7" cy="522.7" rx="0.66" ry="0.48" fill="#2a5a20"/>
<ellipse cx="109.6" cy="517.2" rx="0.85" ry="0.63" fill="#60a048"/>
</g>
<g filter="url(#bl05)" opacity="0.85">
<ellipse cx="99.8" cy="522.4" rx="0.92" ry="0.68" fill="#98c880"/>
<ellipse cx="107.9" cy="524.9" rx="1.03" ry="0.77" fill="#6aa850"/>
<ellipse cx="110.8" cy="525.9" rx="1.03" ry="0.77" fill="#78b860"/>
</g>
<ellipse cx="157.2" cy="520.9" rx="9.5" ry="9" fill="#360604" filter="url(#bl2)"/>
<g filter="url(#bl05)" opacity="0.75">
<ellipse cx="160.7" cy="522.6" rx="1.00" ry="0.74" fill="#a01c0c"/>
<ellipse cx="158.8" cy="521.1" rx="1.48" ry="1.10" fill="#a01c0c"/>
<ellipse cx="149.0" cy="519.8" rx="1.10" ry="0.82" fill="#b82414"/>
<ellipse cx="164.6" cy="520.9" rx="1.23" ry="0.91" fill="#8a1408"/>
<ellipse cx="149.8" cy="521.6" rx="1.57" ry="1.16" fill="#8a1408"/>
<ellipse cx="157.9" cy="523.1" rx="1.23" ry="0.91" fill="#d83020"/>
<ellipse cx="156.4" cy="515.7" rx="0.84" ry="0.62" fill="#b82414"/>
<ellipse cx="162.1" cy="522.0" rx="1.18" ry="0.87" fill="#8a1408"/>
<ellipse cx="156.4" cy="515.3" rx="1.46" ry="1.08" fill="#c82818"/>
<ellipse cx="156.7" cy="514.9" rx="0.87" ry="0.64" fill="#c82818"/>
<ellipse cx="161.7" cy="521.8" rx="1.00" ry="0.74" fill="#d83020"/>
<ellipse cx="150.4" cy="525.6" rx="1.44" ry="1.07" fill="#b82414"/>
<ellipse cx="160.8" cy="521.1" rx="0.88" ry="0.65" fill="#8a1408"/>
<ellipse cx="163.6" cy="523.4" rx="1.25" ry="0.92" fill="#701008"/>
<ellipse cx="158.4" cy="522.4" rx="0.81" ry="0.60" fill="#d83020"/>
<ellipse cx="163.9" cy="518.9" rx="1.20" ry="0.89" fill="#a01c0c"/>
<ellipse cx="164.8" cy="518.8" rx="1.06" ry="0.79" fill="#c82818"/>
<ellipse cx="153.5" cy="519.2" rx="1.11" ry="0.82" fill="#b82414"/>
<ellipse cx="156.6" cy="517.4" rx="0.91" ry="0.67" fill="#c82818"/>
<ellipse cx="155.2" cy="516.6" rx="0.92" ry="0.68" fill="#a01c0c"/>
<ellipse cx="157.2" cy="521.2" rx="0.81" ry="0.60" fill="#d83020"/>
<ellipse cx="159.3" cy="518.3" rx="1.43" ry="1.06" fill="#a01c0c"/>
<ellipse cx="153.7" cy="522.8" rx="1.06" ry="0.78" fill="#d83020"/>
<ellipse cx="159.8" cy="525.1" rx="1.21" ry="0.89" fill="#701008"/>
<ellipse cx="157.8" cy="518.1" rx="1.28" ry="0.94" fill="#581006"/>
<ellipse cx="149.2" cy="521.7" rx="1.42" ry="1.05" fill="#d83020"/>
<ellipse cx="151.0" cy="516.2" rx="0.84" ry="0.62" fill="#701008"/>
<ellipse cx="154.1" cy="518.8" rx="1.42" ry="1.05" fill="#c82818"/>
<ellipse cx="155.1" cy="522.8" rx="1.33" ry="0.98" fill="#d83020"/>
<ellipse cx="160.9" cy="526.1" rx="1.53" ry="1.13" fill="#d83020"/>
<ellipse cx="164.9" cy="521.2" rx="0.82" ry="0.60" fill="#a01c0c"/>
<ellipse cx="161.8" cy="522.9" rx="1.21" ry="0.89" fill="#581006"/>
<ellipse cx="165.0" cy="519.6" rx="0.87" ry="0.64" fill="#581006"/>
<ellipse cx="150.0" cy="516.7" rx="1.45" ry="1.07" fill="#c82818"/>
<ellipse cx="163.9" cy="525.5" rx="1.59" ry="1.18" fill="#701008"/>
<ellipse cx="157.3" cy="525.4" rx="1.09" ry="0.80" fill="#581006"/>
<ellipse cx="156.6" cy="520.4" rx="1.10" ry="0.81" fill="#581006"/>
<ellipse cx="163.2" cy="521.7" rx="0.89" ry="0.66" fill="#8a1408"/>
<ellipse cx="154.4" cy="515.1" rx="1.11" ry="0.82" fill="#8a1408"/>
<ellipse cx="150.5" cy="522.0" rx="1.17" ry="0.86" fill="#c82818"/>
</g>
<ellipse cx="204.3" cy="520.9" rx="9.5" ry="9" fill="#360604" filter="url(#bl2)"/>
<g filter="url(#bl05)" opacity="0.75">
<ellipse cx="207.8" cy="522.6" rx="1.00" ry="0.74" fill="#a01c0c"/>
<ellipse cx="205.9" cy="521.1" rx="1.48" ry="1.10" fill="#a01c0c"/>
<ellipse cx="196.1" cy="519.8" rx="1.10" ry="0.82" fill="#b82414"/>
<ellipse cx="211.7" cy="520.9" rx="1.23" ry="0.91" fill="#8a1408"/>
<ellipse cx="196.9" cy="521.6" rx="1.57" ry="1.16" fill="#8a1408"/>
<ellipse cx="205.0" cy="523.1" rx="1.23" ry="0.91" fill="#d83020"/>
<ellipse cx="203.5" cy="515.7" rx="0.84" ry="0.62" fill="#b82414"/>
<ellipse cx="209.2" cy="522.0" rx="1.18" ry="0.87" fill="#8a1408"/>
<ellipse cx="203.5" cy="515.3" rx="1.46" ry="1.08" fill="#c82818"/>
<ellipse cx="203.8" cy="514.9" rx="0.87" ry="0.64" fill="#c82818"/>
<ellipse cx="208.8" cy="521.8" rx="1.00" ry="0.74" fill="#d83020"/>
<ellipse cx="197.5" cy="525.6" rx="1.44" ry="1.07" fill="#b82414"/>
<ellipse cx="207.9" cy="521.1" rx="0.88" ry="0.65" fill="#8a1408"/>
<ellipse cx="210.7" cy="523.4" rx="1.25" ry="0.92" fill="#701008"/>
<ellipse cx="205.5" cy="522.4" rx="0.81" ry="0.60" fill="#d83020"/>
<ellipse cx="211.0" cy="518.9" rx="1.20" ry="0.89" fill="#a01c0c"/>
<ellipse cx="211.9" cy="518.8" rx="1.06" ry="0.79" fill="#c82818"/>
<ellipse cx="200.6" cy="519.2" rx="1.11" ry="0.82" fill="#b82414"/>
<ellipse cx="203.7" cy="517.4" rx="0.91" ry="0.67" fill="#c82818"/>
<ellipse cx="202.3" cy="516.6" rx="0.92" ry="0.68" fill="#a01c0c"/>
<ellipse cx="204.3" cy="521.2" rx="0.81" ry="0.60" fill="#d83020"/>
<ellipse cx="206.4" cy="518.3" rx="1.43" ry="1.06" fill="#a01c0c"/>
<ellipse cx="200.8" cy="522.8" rx="1.06" ry="0.78" fill="#d83020"/>
<ellipse cx="206.9" cy="525.1" rx="1.21" ry="0.89" fill="#701008"/>
<ellipse cx="204.9" cy="518.1" rx="1.28" ry="0.94" fill="#581006"/>
<ellipse cx="196.3" cy="521.7" rx="1.42" ry="1.05" fill="#d83020"/>
<ellipse cx="198.1" cy="516.2" rx="0.84" ry="0.62" fill="#701008"/>
<ellipse cx="201.2" cy="518.8" rx="1.42" ry="1.05" fill="#c82818"/>
<ellipse cx="202.2" cy="522.8" rx="1.33" ry="0.98" fill="#d83020"/>
<ellipse cx="208.0" cy="526.1" rx="1.53" ry="1.13" fill="#d83020"/>
<ellipse cx="212.0" cy="521.2" rx="0.82" ry="0.60" fill="#a01c0c"/>
<ellipse cx="208.9" cy="522.9" rx="1.21" ry="0.89" fill="#581006"/>
<ellipse cx="212.1" cy="519.6" rx="0.87" ry="0.64" fill="#581006"/>
<ellipse cx="197.1" cy="516.7" rx="1.45" ry="1.07" fill="#c82818"/>
<ellipse cx="211.0" cy="525.5" rx="1.59" ry="1.18" fill="#701008"/>
<ellipse cx="204.4" cy="525.4" rx="1.09" ry="0.80" fill="#581006"/>
<ellipse cx="203.7" cy="520.4" rx="1.10" ry="0.81" fill="#581006"/>
<ellipse cx="210.3" cy="521.7" rx="0.89" ry="0.66" fill="#8a1408"/>
<ellipse cx="201.5" cy="515.1" rx="1.11" ry="0.82" fill="#8a1408"/>
<ellipse cx="197.6" cy="522.0" rx="1.17" ry="0.86" fill="#c82818"/>
</g>
<g filter="url(#bl05)" opacity="1.0">
<ellipse cx="201.9" cy="522.4" rx="0.92" ry="0.68" fill="#d0c048"/>
<ellipse cx="204.9" cy="524.4" rx="0.92" ry="0.68" fill="#d0b038"/>
<ellipse cx="199.9" cy="526.4" rx="0.80" ry="0.59" fill="#b0b038"/>
</g>
<g filter="url(#bl05)" opacity="0.85">
<ellipse cx="104.8" cy="579.4" rx="0.72" ry="0.53" fill="#2a5a20"/>
<ellipse cx="101.2" cy="582.1" rx="0.62" ry="0.46" fill="#3a6a30"/>
<ellipse cx="101.9" cy="581.7" rx="0.46" ry="0.34" fill="#405040"/>
<ellipse cx="108.4" cy="585.5" rx="0.59" ry="0.43" fill="#1a4a18"/>
<ellipse cx="110.5" cy="579.4" rx="0.51" ry="0.38" fill="#3a6a30"/>
<ellipse cx="103.8" cy="570.7" rx="0.49" ry="0.37" fill="#1a4a18"/>
<ellipse cx="102.7" cy="573.4" rx="0.70" ry="0.52" fill="#3a6a30"/>
<ellipse cx="110.1" cy="584.0" rx="0.50" ry="0.37" fill="#283a28"/>
<ellipse cx="106.6" cy="573.7" rx="0.66" ry="0.49" fill="#2a5a20"/>
<ellipse cx="110.6" cy="576.2" rx="0.52" ry="0.39" fill="#3a6a30"/>
<ellipse cx="115.8" cy="577.6" rx="0.72" ry="0.53" fill="#283a28"/>
<ellipse cx="111.4" cy="572.4" rx="0.49" ry="0.36" fill="#2a5a20"/>
<ellipse cx="109.5" cy="577.2" rx="0.71" ry="0.52" fill="#283a28"/>
<ellipse cx="108.7" cy="579.1" rx="0.59" ry="0.44" fill="#1a4a18"/>
<ellipse cx="107.4" cy="570.7" rx="0.62" ry="0.45" fill="#3a6a30"/>
<ellipse cx="114.2" cy="571.5" rx="0.51" ry="0.38" fill="#3a6a30"/>
<ellipse cx="111.3" cy="569.4" rx="0.74" ry="0.55" fill="#1a4a18"/>
<ellipse cx="105.6" cy="568.3" rx="0.65" ry="0.48" fill="#283a28"/>
<ellipse cx="108.3" cy="569.5" rx="0.63" ry="0.47" fill="#283a28"/>
<ellipse cx="116.2" cy="581.6" rx="0.59" ry="0.43" fill="#2a5a20"/>
<ellipse cx="107.4" cy="569.1" rx="0.69" ry="0.51" fill="#283a28"/>
<ellipse cx="115.4" cy="580.2" rx="0.52" ry="0.38" fill="#405040"/>
<ellipse cx="106.2" cy="572.1" rx="0.69" ry="0.51" fill="#3a6a30"/>
<ellipse cx="101.9" cy="570.9" rx="0.68" ry="0.50" fill="#3a6a30"/>
<ellipse cx="107.8" cy="572.4" rx="0.52" ry="0.39" fill="#2a5a20"/>
<ellipse cx="109.4" cy="582.6" rx="0.48" ry="0.35" fill="#2a5a20"/>
<ellipse cx="108.9" cy="583.3" rx="0.60" ry="0.44" fill="#2a5a20"/>
<ellipse cx="112.8" cy="580.4" rx="0.70" ry="0.51" fill="#1a4a18"/>
<ellipse cx="100.2" cy="579.0" rx="0.62" ry="0.46" fill="#2a5a20"/>
<ellipse cx="98.4" cy="576.6" rx="0.70" ry="0.51" fill="#3a6a30"/>
<ellipse cx="115.8" cy="577.8" rx="0.64" ry="0.48" fill="#2a5a20"/>
<ellipse cx="100.3" cy="575.9" rx="0.58" ry="0.43" fill="#2a5a20"/>
<ellipse cx="118.0" cy="575.0" rx="0.61" ry="0.45" fill="#1a4a18"/>
<ellipse cx="103.4" cy="573.5" rx="0.73" ry="0.54" fill="#283a28"/>
<ellipse cx="112.9" cy="573.7" rx="0.53" ry="0.40" fill="#2a5a20"/>
<ellipse cx="104.8" cy="579.5" rx="0.71" ry="0.52" fill="#1a4a18"/>
<ellipse cx="106.9" cy="583.3" rx="0.58" ry="0.43" fill="#3a6a30"/>
<ellipse cx="99.1" cy="577.0" rx="0.60" ry="0.45" fill="#1a4a18"/>
<ellipse cx="104.3" cy="574.1" rx="0.72" ry="0.53" fill="#2a5a20"/>
<ellipse cx="107.0" cy="580.8" rx="0.73" ry="0.54" fill="#283a28"/>
</g>
<g filter="url(#bl05)" opacity="1.0">
<ellipse cx="92.3" cy="565.3" rx="0.92" ry="0.68" fill="#708070"/>
<ellipse cx="118.3" cy="576.5" rx="1.03" ry="0.77" fill="#c0e0c0"/>
</g>
<ellipse cx="156.3" cy="577.5" rx="10" ry="9.5" fill="#3a0604" filter="url(#bl2)"/>
<g filter="url(#bl05)" opacity="0.85">
<ellipse cx="155.4" cy="576.5" rx="1.03" ry="0.76" fill="#c02818"/>
<ellipse cx="158.1" cy="579.6" rx="0.88" ry="0.65" fill="#e04828"/>
<ellipse cx="154.9" cy="578.2" rx="1.02" ry="0.75" fill="#a82010"/>
<ellipse cx="150.9" cy="573.7" rx="1.19" ry="0.88" fill="#e04828"/>
<ellipse cx="151.8" cy="578.9" rx="1.50" ry="1.11" fill="#901808"/>
<ellipse cx="159.4" cy="582.2" rx="1.69" ry="1.25" fill="#601008"/>
<ellipse cx="154.9" cy="579.7" rx="1.14" ry="0.84" fill="#901808"/>
<ellipse cx="153.7" cy="581.1" rx="1.48" ry="1.09" fill="#901808"/>
<ellipse cx="147.6" cy="575.6" rx="0.88" ry="0.65" fill="#d83820"/>
<ellipse cx="154.4" cy="584.0" rx="1.34" ry="0.99" fill="#c02818"/>
<ellipse cx="155.8" cy="575.8" rx="1.52" ry="1.12" fill="#a82010"/>
<ellipse cx="164.6" cy="576.7" rx="1.22" ry="0.90" fill="#601008"/>
<ellipse cx="158.1" cy="574.5" rx="1.00" ry="0.74" fill="#c02818"/>
<ellipse cx="155.4" cy="585.7" rx="1.37" ry="1.01" fill="#901808"/>
<ellipse cx="160.0" cy="583.9" rx="1.05" ry="0.78" fill="#601008"/>
<ellipse cx="163.0" cy="574.3" rx="1.58" ry="1.17" fill="#a82010"/>
<ellipse cx="157.0" cy="573.5" rx="1.55" ry="1.14" fill="#901808"/>
<ellipse cx="154.4" cy="578.8" rx="1.61" ry="1.19" fill="#e04828"/>
<ellipse cx="153.4" cy="583.8" rx="1.62" ry="1.20" fill="#d83820"/>
<ellipse cx="154.2" cy="575.0" rx="1.03" ry="0.76" fill="#a82010"/>
<ellipse cx="152.0" cy="575.9" rx="1.20" ry="0.89" fill="#e04828"/>
<ellipse cx="151.6" cy="574.9" rx="1.27" ry="0.94" fill="#a82010"/>
<ellipse cx="157.9" cy="578.5" rx="0.95" ry="0.70" fill="#901808"/>
<ellipse cx="160.3" cy="583.4" rx="1.16" ry="0.85" fill="#601008"/>
<ellipse cx="162.8" cy="577.3" rx="0.82" ry="0.60" fill="#e04828"/>
<ellipse cx="154.9" cy="570.6" rx="1.50" ry="1.11" fill="#e04828"/>
<ellipse cx="156.9" cy="572.6" rx="1.20" ry="0.89" fill="#c02818"/>
<ellipse cx="147.9" cy="579.9" rx="1.70" ry="1.26" fill="#c02818"/>
<ellipse cx="156.8" cy="571.5" rx="1.61" ry="1.19" fill="#901808"/>
<ellipse cx="154.2" cy="584.0" rx="0.99" ry="0.73" fill="#e04828"/>
<ellipse cx="153.8" cy="579.9" rx="1.65" ry="1.22" fill="#e04828"/>
<ellipse cx="151.2" cy="574.0" rx="1.66" ry="1.23" fill="#901808"/>
<ellipse cx="162.2" cy="572.1" rx="1.03" ry="0.76" fill="#601008"/>
<ellipse cx="154.0" cy="576.5" rx="1.56" ry="1.15" fill="#d83820"/>
<ellipse cx="162.8" cy="576.6" rx="1.24" ry="0.92" fill="#601008"/>
<ellipse cx="151.9" cy="576.2" rx="1.19" ry="0.88" fill="#e04828"/>
<ellipse cx="157.9" cy="583.6" rx="1.46" ry="1.08" fill="#a82010"/>
<ellipse cx="150.4" cy="581.6" rx="1.21" ry="0.89" fill="#c02818"/>
<ellipse cx="153.2" cy="577.2" rx="0.86" ry="0.64" fill="#a82010"/>
<ellipse cx="162.9" cy="578.3" rx="0.87" ry="0.64" fill="#601008"/>
</g>
<ellipse cx="203.4" cy="577.5" rx="10" ry="9.5" fill="#3a0604" filter="url(#bl2)"/>
<g filter="url(#bl05)" opacity="0.85">
<ellipse cx="202.5" cy="576.5" rx="1.03" ry="0.76" fill="#c02818"/>
<ellipse cx="205.2" cy="579.6" rx="0.88" ry="0.65" fill="#e04828"/>
<ellipse cx="202.0" cy="578.2" rx="1.02" ry="0.75" fill="#a82010"/>
<ellipse cx="198.0" cy="573.7" rx="1.19" ry="0.88" fill="#e04828"/>
<ellipse cx="198.9" cy="578.9" rx="1.50" ry="1.11" fill="#901808"/>
<ellipse cx="206.5" cy="582.2" rx="1.69" ry="1.25" fill="#601008"/>
<ellipse cx="202.0" cy="579.7" rx="1.14" ry="0.84" fill="#901808"/>
<ellipse cx="200.8" cy="581.1" rx="1.48" ry="1.09" fill="#901808"/>
<ellipse cx="194.7" cy="575.6" rx="0.88" ry="0.65" fill="#d83820"/>
<ellipse cx="201.5" cy="584.0" rx="1.34" ry="0.99" fill="#c02818"/>
<ellipse cx="202.9" cy="575.8" rx="1.52" ry="1.12" fill="#a82010"/>
<ellipse cx="211.7" cy="576.7" rx="1.22" ry="0.90" fill="#601008"/>
<ellipse cx="205.2" cy="574.5" rx="1.00" ry="0.74" fill="#c02818"/>
<ellipse cx="202.5" cy="585.7" rx="1.37" ry="1.01" fill="#901808"/>
<ellipse cx="207.1" cy="583.9" rx="1.05" ry="0.78" fill="#601008"/>
<ellipse cx="210.1" cy="574.3" rx="1.58" ry="1.17" fill="#a82010"/>
<ellipse cx="204.1" cy="573.5" rx="1.55" ry="1.14" fill="#901808"/>
<ellipse cx="201.5" cy="578.8" rx="1.61" ry="1.19" fill="#e04828"/>
<ellipse cx="200.5" cy="583.8" rx="1.62" ry="1.20" fill="#d83820"/>
<ellipse cx="201.3" cy="575.0" rx="1.03" ry="0.76" fill="#a82010"/>
<ellipse cx="199.1" cy="575.9" rx="1.20" ry="0.89" fill="#e04828"/>
<ellipse cx="198.7" cy="574.9" rx="1.27" ry="0.94" fill="#a82010"/>
<ellipse cx="205.0" cy="578.5" rx="0.95" ry="0.70" fill="#901808"/>
<ellipse cx="207.4" cy="583.4" rx="1.16" ry="0.85" fill="#601008"/>
<ellipse cx="209.9" cy="577.3" rx="0.82" ry="0.60" fill="#e04828"/>
<ellipse cx="202.0" cy="570.6" rx="1.50" ry="1.11" fill="#e04828"/>
<ellipse cx="204.0" cy="572.6" rx="1.20" ry="0.89" fill="#c02818"/>
<ellipse cx="195.0" cy="579.9" rx="1.70" ry="1.26" fill="#c02818"/>
<ellipse cx="203.9" cy="571.5" rx="1.61" ry="1.19" fill="#901808"/>
<ellipse cx="201.3" cy="584.0" rx="0.99" ry="0.73" fill="#e04828"/>
<ellipse cx="200.9" cy="579.9" rx="1.65" ry="1.22" fill="#e04828"/>
<ellipse cx="198.3" cy="574.0" rx="1.66" ry="1.23" fill="#901808"/>
<ellipse cx="209.3" cy="572.1" rx="1.03" ry="0.76" fill="#601008"/>
<ellipse cx="201.1" cy="576.5" rx="1.56" ry="1.15" fill="#d83820"/>
<ellipse cx="209.9" cy="576.6" rx="1.24" ry="0.92" fill="#601008"/>
<ellipse cx="199.0" cy="576.2" rx="1.19" ry="0.88" fill="#e04828"/>
<ellipse cx="205.0" cy="583.6" rx="1.46" ry="1.08" fill="#a82010"/>
<ellipse cx="197.5" cy="581.6" rx="1.21" ry="0.89" fill="#c02818"/>
<ellipse cx="200.3" cy="577.2" rx="0.86" ry="0.64" fill="#a82010"/>
<ellipse cx="210.0" cy="578.3" rx="0.87" ry="0.64" fill="#601008"/>
</g>
<line x1="188.80" y1="386.30" x2="216.90" y2="397.90" stroke="#fff" stroke-width="1.8" stroke-dasharray="4.2,2.3"/>
<line x1="211.10" y1="434.10" x2="205.10" y2="461.30" stroke="#fff" stroke-width="1.8" stroke-dasharray="4.2,2.3"/>
<line x1="214.20" y1="508.50" x2="192.00" y2="533.40" stroke="#fff" stroke-width="1.8" stroke-dasharray="4.2,2.3"/>
<line x1="192.00" y1="568.60" x2="214.20" y2="589.40" stroke="#fff" stroke-width="1.8" stroke-dasharray="4.2,2.3"/>
<line x1="215.30" y1="408.50" x2="222.60" y2="408.50" stroke="#fff" stroke-width="1.5"/>
<line x1="215.30" y1="465.00" x2="222.60" y2="465.00" stroke="#fff" stroke-width="1.5"/>
<line x1="215.30" y1="538.40" x2="222.60" y2="538.40" stroke="#fff" stroke-width="1.5"/>
<line x1="215.30" y1="594.20" x2="222.60" y2="594.20" stroke="#fff" stroke-width="1.5"/>
<polyline points="251.90,408.30 259.51,408.30 266.36,407.94 268.65,406.51 270.93,392.19 273.22,378.94 274.74,377.51 276.26,378.23 278.54,382.52 280.07,383.24 281.59,378.23 283.11,377.87 284.25,386.82 285.01,392.19 286.16,383.96 286.92,382.52 288.06,388.61 289.20,401.14 290.72,407.58 293.77,408.30 312.80,408.30" fill="none" stroke="#d89a98" stroke-width="1.0" stroke-linejoin="round"/>
<polyline points="251.90,408.30 268.65,408.30 270.17,404.72 272.45,393.98 273.98,388.61 275.12,395.77 275.88,399.35 277.02,393.98 278.16,404.72 279.31,408.30 280.83,406.51 281.97,386.82 283.11,377.87 284.25,390.40 285.39,406.51 286.16,408.30 299.86,408.30 301.00,404.00 301.76,402.93 302.90,408.30 312.80,408.30" fill="none" stroke="#9fd27c" stroke-width="1.0" stroke-linejoin="round"/>
<line x1="251.90" y1="372.00" x2="251.90" y2="408.70" stroke="#000" stroke-width="1.0"/>
<line x1="251.50" y1="408.30" x2="313.30" y2="408.30" stroke="#000" stroke-width="1.0"/>
<line x1="250.30" y1="408.30" x2="251.90" y2="408.30" stroke="#000" stroke-width="0.8"/>
<text x="249.60" y="410.60" font-size="6.6" font-weight="bold" text-anchor="end" fill="#000">0</text>
<line x1="250.30" y1="401.14" x2="251.90" y2="401.14" stroke="#000" stroke-width="0.8"/>
<text x="249.60" y="403.44" font-size="6.6" font-weight="bold" text-anchor="end" fill="#000">20</text>
<line x1="250.30" y1="393.98" x2="251.90" y2="393.98" stroke="#000" stroke-width="0.8"/>
<text x="249.60" y="396.28" font-size="6.6" font-weight="bold" text-anchor="end" fill="#000">40</text>
<line x1="250.30" y1="386.82" x2="251.90" y2="386.82" stroke="#000" stroke-width="0.8"/>
<text x="249.60" y="389.12" font-size="6.6" font-weight="bold" text-anchor="end" fill="#000">60</text>
<line x1="250.30" y1="379.66" x2="251.90" y2="379.66" stroke="#000" stroke-width="0.8"/>
<text x="249.60" y="381.96" font-size="6.6" font-weight="bold" text-anchor="end" fill="#000">80</text>
<line x1="250.30" y1="372.50" x2="251.90" y2="372.50" stroke="#000" stroke-width="0.8"/>
<text x="249.60" y="374.80" font-size="6.6" font-weight="bold" text-anchor="end" fill="#000">100</text>
<line x1="251.90" y1="408.30" x2="251.90" y2="409.80" stroke="#000" stroke-width="0.8"/>
<text x="251.90" y="415.60" font-size="6.6" font-weight="bold" text-anchor="middle" fill="#000">0</text>
<line x1="267.12" y1="408.30" x2="267.12" y2="409.80" stroke="#000" stroke-width="0.8"/>
<text x="267.12" y="415.60" font-size="6.6" font-weight="bold" text-anchor="middle" fill="#000">2</text>
<line x1="282.35" y1="408.30" x2="282.35" y2="409.80" stroke="#000" stroke-width="0.8"/>
<text x="282.35" y="415.60" font-size="6.6" font-weight="bold" text-anchor="middle" fill="#000">4</text>
<line x1="297.57" y1="408.30" x2="297.57" y2="409.80" stroke="#000" stroke-width="0.8"/>
<text x="297.57" y="415.60" font-size="6.6" font-weight="bold" text-anchor="middle" fill="#000">6</text>
<line x1="312.80" y1="408.30" x2="312.80" y2="409.80" stroke="#000" stroke-width="0.8"/>
<text x="312.80" y="415.60" font-size="6.6" font-weight="bold" text-anchor="middle" fill="#000">8</text>
<text x="284.85" y="424.20" font-size="8.0" font-weight="bold" text-anchor="middle" fill="#000">Distance (um)</text>
<text x="235.70" y="389.50" font-size="8.4" font-weight="bold" text-anchor="middle" fill="#000" transform="rotate(-90 235.70 389.50)">Intensity</text>
<polyline points="251.90,467.40 258.63,467.40 260.12,463.89 261.62,463.45 263.11,466.52 264.61,465.64 266.10,466.96 268.35,466.52 270.21,447.66 271.33,436.69 272.46,445.46 274.32,463.01 275.45,466.52 276.94,458.62 278.81,441.07 279.56,438.88 280.68,452.04 282.55,463.89 284.04,466.52 285.54,464.77 287.03,441.07 288.15,434.49 289.65,436.69 290.77,447.66 291.89,449.85 293.01,443.27 294.13,449.85 295.63,441.07 296.75,434.49 297.87,447.66 299.37,465.21 300.49,467.40 311.70,467.40" fill="none" stroke="#d89a98" stroke-width="1.0" stroke-linejoin="round"/>
<polyline points="251.90,467.40 259.38,467.40 260.87,464.77 261.99,465.21 263.86,467.40 265.36,466.08 268.35,466.96 270.21,449.85 271.33,437.56 272.46,447.66 274.32,463.89 275.45,466.96 276.94,459.50 278.81,443.27 279.56,440.20 280.68,454.24 282.55,465.21 284.04,466.96 285.54,465.64 287.03,443.27 288.15,436.69 289.27,445.46 290.40,456.43 291.52,458.62 292.64,447.66 293.39,456.43 294.51,454.24 295.63,443.27 296.75,438.88 297.87,449.85 299.37,466.08 300.49,467.40 311.70,467.40" fill="none" stroke="#9fd27c" stroke-width="1.0" stroke-linejoin="round"/>
<line x1="251.90" y1="431.80" x2="251.90" y2="467.80" stroke="#000" stroke-width="1.0"/>
<line x1="251.50" y1="467.40" x2="312.20" y2="467.40" stroke="#000" stroke-width="1.0"/>
<line x1="250.30" y1="467.40" x2="251.90" y2="467.40" stroke="#000" stroke-width="0.8"/>
<text x="249.60" y="469.70" font-size="6.6" font-weight="bold" text-anchor="end" fill="#000">0</text>
<line x1="250.30" y1="458.62" x2="251.90" y2="458.62" stroke="#000" stroke-width="0.8"/>
<text x="249.60" y="460.93" font-size="6.6" font-weight="bold" text-anchor="end" fill="#000">20</text>
<line x1="250.30" y1="449.85" x2="251.90" y2="449.85" stroke="#000" stroke-width="0.8"/>
<text x="249.60" y="452.15" font-size="6.6" font-weight="bold" text-anchor="end" fill="#000">40</text>
<line x1="250.30" y1="441.07" x2="251.90" y2="441.07" stroke="#000" stroke-width="0.8"/>
<text x="249.60" y="443.38" font-size="6.6" font-weight="bold" text-anchor="end" fill="#000">60</text>
<line x1="250.30" y1="432.30" x2="251.90" y2="432.30" stroke="#000" stroke-width="0.8"/>
<text x="249.60" y="434.60" font-size="6.6" font-weight="bold" text-anchor="end" fill="#000">80</text>
<line x1="251.90" y1="467.40" x2="251.90" y2="468.90" stroke="#000" stroke-width="0.8"/>
<text x="251.90" y="474.20" font-size="6.6" font-weight="bold" text-anchor="middle" fill="#000">0</text>
<line x1="266.85" y1="467.40" x2="266.85" y2="468.90" stroke="#000" stroke-width="0.8"/>
<text x="266.85" y="474.20" font-size="6.6" font-weight="bold" text-anchor="middle" fill="#000">2</text>
<line x1="281.80" y1="467.40" x2="281.80" y2="468.90" stroke="#000" stroke-width="0.8"/>
<text x="281.80" y="474.20" font-size="6.6" font-weight="bold" text-anchor="middle" fill="#000">4</text>
<line x1="296.75" y1="467.40" x2="296.75" y2="468.90" stroke="#000" stroke-width="0.8"/>
<text x="296.75" y="474.20" font-size="6.6" font-weight="bold" text-anchor="middle" fill="#000">6</text>
<line x1="311.70" y1="467.40" x2="311.70" y2="468.90" stroke="#000" stroke-width="0.8"/>
<text x="311.70" y="474.20" font-size="6.6" font-weight="bold" text-anchor="middle" fill="#000">8</text>
<text x="284.30" y="484.00" font-size="8.0" font-weight="bold" text-anchor="middle" fill="#000">Distance (µm)</text>
<text x="235.70" y="450.50" font-size="8.4" font-weight="bold" text-anchor="middle" fill="#000" transform="rotate(-90 235.70 450.50)">Intensity</text>
<polyline points="253.10,535.70 261.67,535.70 263.38,530.41 265.09,522.29 266.23,521.58 267.95,527.93 269.66,519.82 271.37,506.75 272.51,505.69 273.66,514.52 274.80,524.40 276.51,519.82 277.65,520.87 279.37,523.35 281.08,510.99 282.22,507.46 283.65,514.52 285.08,524.40 287.36,525.11 291.93,525.11 293.64,519.82 294.50,518.05 295.93,528.64 297.64,531.46 299.92,533.58 301.63,535.70 310.20,535.70" fill="none" stroke="#d89a98" stroke-width="1.0" stroke-linejoin="round"/>
<polyline points="253.10,535.70 265.09,535.70 266.80,528.64 268.52,516.28 269.66,512.75 270.80,528.64 271.66,531.46 273.08,523.35 273.94,521.58 274.80,528.64 275.65,514.52 276.51,505.69 277.37,521.58 278.51,534.99 279.94,533.94 281.08,525.11 281.65,521.58 282.51,530.41 283.36,535.70 292.50,535.70 293.64,528.64 295.07,532.88 297.07,532.17 298.78,535.70 310.20,535.70" fill="none" stroke="#9fd27c" stroke-width="1.0" stroke-linejoin="round"/>
<line x1="253.10" y1="499.90" x2="253.10" y2="536.10" stroke="#000" stroke-width="1.0"/>
<line x1="252.70" y1="535.70" x2="310.70" y2="535.70" stroke="#000" stroke-width="1.0"/>
<line x1="251.50" y1="535.70" x2="253.10" y2="535.70" stroke="#000" stroke-width="0.8"/>
<text x="250.80" y="538.00" font-size="6.6" font-weight="bold" text-anchor="end" fill="#000">0</text>
<line x1="251.50" y1="528.64" x2="253.10" y2="528.64" stroke="#000" stroke-width="0.8"/>
<text x="250.80" y="530.94" font-size="6.6" font-weight="bold" text-anchor="end" fill="#000">20</text>
<line x1="251.50" y1="521.58" x2="253.10" y2="521.58" stroke="#000" stroke-width="0.8"/>
<text x="250.80" y="523.88" font-size="6.6" font-weight="bold" text-anchor="end" fill="#000">40</text>
<line x1="251.50" y1="514.52" x2="253.10" y2="514.52" stroke="#000" stroke-width="0.8"/>
<text x="250.80" y="516.82" font-size="6.6" font-weight="bold" text-anchor="end" fill="#000">60</text>
<line x1="251.50" y1="507.46" x2="253.10" y2="507.46" stroke="#000" stroke-width="0.8"/>
<text x="250.80" y="509.76" font-size="6.6" font-weight="bold" text-anchor="end" fill="#000">80</text>
<line x1="251.50" y1="500.40" x2="253.10" y2="500.40" stroke="#000" stroke-width="0.8"/>
<text x="250.80" y="502.70" font-size="6.6" font-weight="bold" text-anchor="end" fill="#000">100</text>
<line x1="253.10" y1="535.70" x2="253.10" y2="537.20" stroke="#000" stroke-width="0.8"/>
<text x="253.10" y="542.40" font-size="6.6" font-weight="bold" text-anchor="middle" fill="#000">0</text>
<line x1="264.52" y1="535.70" x2="264.52" y2="537.20" stroke="#000" stroke-width="0.8"/>
<text x="264.52" y="542.40" font-size="6.6" font-weight="bold" text-anchor="middle" fill="#000">2</text>
<line x1="275.94" y1="535.70" x2="275.94" y2="537.20" stroke="#000" stroke-width="0.8"/>
<text x="275.94" y="542.40" font-size="6.6" font-weight="bold" text-anchor="middle" fill="#000">4</text>
<line x1="287.36" y1="535.70" x2="287.36" y2="537.20" stroke="#000" stroke-width="0.8"/>
<text x="287.36" y="542.40" font-size="6.6" font-weight="bold" text-anchor="middle" fill="#000">6</text>
<line x1="298.78" y1="535.70" x2="298.78" y2="537.20" stroke="#000" stroke-width="0.8"/>
<text x="298.78" y="542.40" font-size="6.6" font-weight="bold" text-anchor="middle" fill="#000">8</text>
<line x1="310.20" y1="535.70" x2="310.20" y2="537.20" stroke="#000" stroke-width="0.8"/>
<text x="310.20" y="542.40" font-size="6.6" font-weight="bold" text-anchor="middle" fill="#000">10</text>
<text x="284.15" y="552.20" font-size="8.0" font-weight="bold" text-anchor="middle" fill="#000">Distance (µm)</text>
<text x="235.70" y="520.50" font-size="8.4" font-weight="bold" text-anchor="middle" fill="#000" transform="rotate(-90 235.70 520.50)">Intensity</text>
<polyline points="253.60,597.10 261.76,597.10 263.51,594.30 265.26,591.85 266.43,590.10 267.88,576.10 268.76,569.80 269.92,576.10 271.67,584.85 274.00,588.35 275.75,591.85 276.92,593.60 278.67,586.60 280.42,588.35 282.17,581.35 283.33,578.90 284.79,580.30 286.25,583.10 288.00,584.85 289.75,586.60 291.50,579.60 292.66,573.30 293.83,583.10 295.58,590.10 297.32,594.30 299.07,597.10 311.90,597.10" fill="none" stroke="#d89a98" stroke-width="1.0" stroke-linejoin="round"/>
<polyline points="253.60,597.10 260.60,597.10 262.34,594.30 264.09,591.85 265.26,590.10 267.01,593.60 268.76,586.60 269.92,579.60 271.09,584.85 272.26,590.10 273.42,583.80 274.59,591.85 276.34,597.10 280.42,597.10 281.58,591.85 282.75,588.35 283.92,590.80 285.08,589.40 286.25,594.30 288.00,586.60 288.58,583.10 289.45,593.60 290.91,590.10 292.08,579.60 293.24,586.60 294.41,594.30 295.58,597.10 311.90,597.10" fill="none" stroke="#9fd27c" stroke-width="1.0" stroke-linejoin="round"/>
<line x1="253.60" y1="561.60" x2="253.60" y2="597.50" stroke="#000" stroke-width="1.0"/>
<line x1="253.20" y1="597.10" x2="312.40" y2="597.10" stroke="#000" stroke-width="1.0"/>
<line x1="252.00" y1="597.10" x2="253.60" y2="597.10" stroke="#000" stroke-width="0.8"/>
<text x="251.30" y="599.40" font-size="6.6" font-weight="bold" text-anchor="end" fill="#000">0</text>
<line x1="252.00" y1="590.10" x2="253.60" y2="590.10" stroke="#000" stroke-width="0.8"/>
<text x="251.30" y="592.40" font-size="6.6" font-weight="bold" text-anchor="end" fill="#000">20</text>
<line x1="252.00" y1="583.10" x2="253.60" y2="583.10" stroke="#000" stroke-width="0.8"/>
<text x="251.30" y="585.40" font-size="6.6" font-weight="bold" text-anchor="end" fill="#000">40</text>
<line x1="252.00" y1="576.10" x2="253.60" y2="576.10" stroke="#000" stroke-width="0.8"/>
<text x="251.30" y="578.40" font-size="6.6" font-weight="bold" text-anchor="end" fill="#000">60</text>
<line x1="252.00" y1="569.10" x2="253.60" y2="569.10" stroke="#000" stroke-width="0.8"/>
<text x="251.30" y="571.40" font-size="6.6" font-weight="bold" text-anchor="end" fill="#000">80</text>
<line x1="252.00" y1="562.10" x2="253.60" y2="562.10" stroke="#000" stroke-width="0.8"/>
<text x="251.30" y="564.40" font-size="6.6" font-weight="bold" text-anchor="end" fill="#000">100</text>
<line x1="253.60" y1="597.10" x2="253.60" y2="598.60" stroke="#000" stroke-width="0.8"/>
<text x="253.60" y="604.20" font-size="6.6" font-weight="bold" text-anchor="middle" fill="#000">0</text>
<line x1="265.26" y1="597.10" x2="265.26" y2="598.60" stroke="#000" stroke-width="0.8"/>
<text x="265.26" y="604.20" font-size="6.6" font-weight="bold" text-anchor="middle" fill="#000">2</text>
<line x1="276.92" y1="597.10" x2="276.92" y2="598.60" stroke="#000" stroke-width="0.8"/>
<text x="276.92" y="604.20" font-size="6.6" font-weight="bold" text-anchor="middle" fill="#000">4</text>
<line x1="288.58" y1="597.10" x2="288.58" y2="598.60" stroke="#000" stroke-width="0.8"/>
<text x="288.58" y="604.20" font-size="6.6" font-weight="bold" text-anchor="middle" fill="#000">6</text>
<line x1="300.24" y1="597.10" x2="300.24" y2="598.60" stroke="#000" stroke-width="0.8"/>
<text x="300.24" y="604.20" font-size="6.6" font-weight="bold" text-anchor="middle" fill="#000">8</text>
<line x1="311.90" y1="597.10" x2="311.90" y2="598.60" stroke="#000" stroke-width="0.8"/>
<text x="311.90" y="604.20" font-size="6.6" font-weight="bold" text-anchor="middle" fill="#000">10</text>
<text x="285.25" y="614.00" font-size="8.0" font-weight="bold" text-anchor="middle" fill="#000">Distance (µm)</text>
<text x="235.70" y="571.00" font-size="8.4" font-weight="bold" text-anchor="middle" fill="#000" transform="rotate(-90 235.70 571.00)">Intensity</text>
<text x="428.20" y="335.40" font-size="10.9" font-weight="bold" text-anchor="middle" fill="#000">pCD79a</text>
<line x1="353.20" y1="385.50" x2="353.20" y2="463.30" stroke="#000" stroke-width="1.4"/>
<line x1="352.50" y1="462.70" x2="513.00" y2="462.70" stroke="#000" stroke-width="1.4"/>
<line x1="350.70" y1="386.00" x2="353.20" y2="386.00" stroke="#000" stroke-width="1.0"/>
<text x="350.00" y="388.50" font-size="7.2" font-weight="bold" text-anchor="end" fill="#000">1000</text>
<line x1="350.70" y1="411.60" x2="353.20" y2="411.60" stroke="#000" stroke-width="1.0"/>
<text x="350.00" y="414.10" font-size="7.2" font-weight="bold" text-anchor="end" fill="#000">100</text>
<line x1="350.70" y1="437.20" x2="353.20" y2="437.20" stroke="#000" stroke-width="1.0"/>
<text x="350.00" y="439.70" font-size="7.2" font-weight="bold" text-anchor="end" fill="#000">10</text>
<line x1="350.70" y1="462.80" x2="353.20" y2="462.80" stroke="#000" stroke-width="1.0"/>
<text x="350.00" y="465.30" font-size="7.2" font-weight="bold" text-anchor="end" fill="#000">1</text>
<text x="334.60" y="420.60" font-size="12" font-weight="bold" text-anchor="middle" fill="#000" transform="rotate(-90 334.60 420.60)">MFI</text>
<line x1="365.20" y1="462.70" x2="365.20" y2="465.30" stroke="#000" stroke-width="1.2"/>
<text x="367.80" y="470.30" font-size="7.8" font-weight="bold" text-anchor="end" fill="#000" transform="rotate(-45 367.80 470.30)">GC-M</text>
<line x1="388.50" y1="462.70" x2="388.50" y2="465.30" stroke="#000" stroke-width="1.2"/>
<text x="391.10" y="470.30" font-size="7.8" font-weight="bold" text-anchor="end" fill="#000" transform="rotate(-45 391.10 470.30)">FL-1</text>
<line x1="412.20" y1="462.70" x2="412.20" y2="465.30" stroke="#000" stroke-width="1.2"/>
<text x="414.80" y="470.30" font-size="7.8" font-weight="bold" text-anchor="end" fill="#000" transform="rotate(-45 414.80 470.30)">FL-2</text>
<line x1="435.40" y1="462.70" x2="435.40" y2="465.30" stroke="#000" stroke-width="1.2"/>
<text x="438.00" y="470.30" font-size="7.8" font-weight="bold" text-anchor="end" fill="#000" transform="rotate(-45 438.00 470.30)">FL-3</text>
<line x1="458.60" y1="462.70" x2="458.60" y2="465.30" stroke="#000" stroke-width="1.2"/>
<text x="461.20" y="470.30" font-size="7.8" font-weight="bold" text-anchor="end" fill="#000" transform="rotate(-45 461.20 470.30)">FL-4</text>
<line x1="482.00" y1="462.70" x2="482.00" y2="465.30" stroke="#000" stroke-width="1.2"/>
<text x="484.60" y="470.30" font-size="7.8" font-weight="bold" text-anchor="end" fill="#000" transform="rotate(-45 484.60 470.30)">FL-5</text>
<line x1="505.60" y1="462.70" x2="505.60" y2="465.30" stroke="#000" stroke-width="1.2"/>
<text x="508.20" y="470.30" font-size="7.8" font-weight="bold" text-anchor="end" fill="#000" transform="rotate(-45 508.20 470.30)">FL-6</text>
<line x1="365.80" y1="359.70" x2="460.60" y2="359.70" stroke="#000" stroke-width="1.3"/>
<line x1="365.80" y1="359.70" x2="365.80" y2="364.00" stroke="#000" stroke-width="1.6"/>
<line x1="436.50" y1="359.70" x2="436.50" y2="364.00" stroke="#000" stroke-width="1.6"/>
<line x1="460.00" y1="359.70" x2="460.00" y2="364.00" stroke="#000" stroke-width="1.6"/>
<text x="410.80" y="358.20" font-size="13.2" font-weight="bold" text-anchor="middle" fill="#000">ns</text>
<line x1="366.50" y1="377.40" x2="506.60" y2="377.40" stroke="#000" stroke-width="1.5"/>
<line x1="366.50" y1="377.40" x2="366.50" y2="382.20" stroke="#000" stroke-width="1.6"/>
<line x1="387.30" y1="377.40" x2="387.30" y2="382.20" stroke="#000" stroke-width="1.6"/>
<line x1="413.00" y1="377.40" x2="413.00" y2="382.20" stroke="#000" stroke-width="1.6"/>
<line x1="482.00" y1="377.40" x2="482.00" y2="382.20" stroke="#000" stroke-width="1.6"/>
<line x1="506.00" y1="377.40" x2="506.00" y2="382.20" stroke="#000" stroke-width="1.6"/>
<polygon points="428.40,368.50 429.31,370.94 431.92,371.06 429.88,372.68 430.57,375.19 428.40,373.75 426.23,375.19 426.92,372.68 424.88,371.06 427.49,370.94" fill="#111"/>
<polygon points="435.20,368.50 436.11,370.94 438.72,371.06 436.68,372.68 437.37,375.19 435.20,373.75 433.03,375.19 433.72,372.68 431.68,371.06 434.29,370.94" fill="#111"/>
<polygon points="442.00,368.50 442.91,370.94 445.52,371.06 443.48,372.68 444.17,375.19 442.00,373.75 439.83,375.19 440.52,372.68 438.48,371.06 441.09,370.94" fill="#111"/>
<polygon points="370.3,420.1 368.4,423.5 372.2,423.5" fill="#000"/>
<polygon points="367.2,426.4 365.3,429.9 369.1,429.9" fill="#000"/>
<polygon points="367.5,417.1 365.6,420.5 369.4,420.5" fill="#000"/>
<polygon points="370.9,419.8 369.0,423.2 372.8,423.2" fill="#000"/>
<polygon points="368.4,417.1 366.5,420.5 370.3,420.5" fill="#000"/>
<polygon points="364.9,418.1 363.0,421.6 366.8,421.6" fill="#000"/>
<polygon points="361.7,413.8 359.8,417.2 363.6,417.2" fill="#000"/>
<polygon points="362.9,413.3 361.0,416.8 364.8,416.8" fill="#000"/>
<polygon points="367.2,419.2 365.3,422.7 369.1,422.7" fill="#000"/>
<polygon points="363.8,413.7 361.9,417.1 365.7,417.1" fill="#000"/>
<polygon points="364.1,411.0 362.2,414.4 366.0,414.4" fill="#000"/>
<polygon points="364.8,403.8 362.9,407.2 366.7,407.2" fill="#000"/>
<polygon points="367.7,416.0 365.8,419.4 369.6,419.4" fill="#000"/>
<polygon points="366.0,417.2 364.1,420.6 367.9,420.6" fill="#000"/>
<polygon points="360.0,419.0 358.1,422.4 361.9,422.4" fill="#000"/>
<polygon points="367.4,417.1 365.5,420.5 369.3,420.5" fill="#000"/>
<polygon points="367.0,412.9 365.1,416.3 368.9,416.3" fill="#000"/>
<polygon points="362.9,408.2 361.0,411.6 364.8,411.6" fill="#000"/>
<polygon points="367.4,421.2 365.5,424.6 369.3,424.6" fill="#000"/>
<polygon points="360.2,416.6 358.3,420.0 362.1,420.0" fill="#000"/>
<polygon points="369.7,410.9 367.8,414.3 371.6,414.3" fill="#000"/>
<polygon points="367.7,406.6 365.8,410.1 369.6,410.1" fill="#000"/>
<polygon points="368.7,424.2 366.8,427.7 370.6,427.7" fill="#000"/>
<polygon points="361.3,424.6 359.4,428.0 363.2,428.0" fill="#000"/>
<polygon points="369.9,422.4 368.0,425.8 371.8,425.8" fill="#000"/>
<polygon points="370.7,418.2 368.8,421.6 372.6,421.6" fill="#000"/>
<polygon points="360.0,412.2 358.1,415.6 361.9,415.6" fill="#000"/>
<polygon points="367.5,415.1 365.6,418.5 369.4,418.5" fill="#000"/>
<polygon points="369.1,419.6 367.2,423.0 371.0,423.0" fill="#000"/>
<polygon points="370.4,417.7 368.5,421.1 372.3,421.1" fill="#000"/>
<polygon points="371.0,417.1 369.1,420.5 372.9,420.5" fill="#000"/>
<polygon points="360.3,411.7 358.4,415.2 362.2,415.2" fill="#000"/>
<polygon points="359.3,426.2 357.4,429.7 361.2,429.7" fill="#000"/>
<polygon points="364.7,425.4 362.8,428.9 366.6,428.9" fill="#000"/>
<polygon points="368.9,418.4 367.0,421.8 370.8,421.8" fill="#000"/>
<polygon points="365.8,415.6 363.9,419.0 367.7,419.0" fill="#000"/>
<polygon points="363.2,422.4 361.3,425.9 365.1,425.9" fill="#000"/>
<polygon points="367.3,410.9 365.4,414.4 369.2,414.4" fill="#000"/>
<polygon points="359.9,413.8 358.0,417.2 361.8,417.2" fill="#000"/>
<polygon points="360.6,418.6 358.7,422.0 362.5,422.0" fill="#000"/>
<polygon points="363.6,417.4 361.7,420.9 365.5,420.9" fill="#000"/>
<polygon points="367.4,413.4 365.5,416.8 369.3,416.8" fill="#000"/>
<polygon points="367.2,411.2 365.3,414.6 369.1,414.6" fill="#000"/>
<polygon points="363.0,420.1 361.1,423.5 364.9,423.5" fill="#000"/>
<polygon points="362.1,422.3 360.2,425.8 364.0,425.8" fill="#000"/>
<polygon points="364.7,420.2 362.8,423.6 366.6,423.6" fill="#000"/>
<polygon points="371.1,417.8 369.2,421.2 373.0,421.2" fill="#000"/>
<polygon points="367.2,414.8 365.3,418.2 369.1,418.2" fill="#000"/>
<polygon points="367.7,416.8 365.8,420.2 369.6,420.2" fill="#000"/>
<polygon points="364.8,423.3 362.9,426.7 366.7,426.7" fill="#000"/>
<polygon points="359.9,427.1 358.0,430.5 361.8,430.5" fill="#000"/>
<polygon points="366.6,413.4 364.7,416.8 368.5,416.8" fill="#000"/>
<polygon points="368.2,417.5 366.3,420.9 370.1,420.9" fill="#000"/>
<polygon points="367.5,405.2 365.6,408.6 369.4,408.6" fill="#000"/>
<polygon points="370.9,412.5 369.0,415.9 372.8,415.9" fill="#000"/>
<polygon points="368.0,412.2 366.1,415.7 369.9,415.7" fill="#000"/>
<polygon points="367.8,411.7 365.9,415.1 369.7,415.1" fill="#000"/>
<polygon points="361.8,416.2 359.9,419.6 363.7,419.6" fill="#000"/>
<polygon points="362.0,406.1 360.1,409.5 363.9,409.5" fill="#000"/>
<polygon points="361.1,419.5 359.2,422.9 363.0,422.9" fill="#000"/>
<polygon points="367.2,418.6 365.3,422.0 369.1,422.0" fill="#000"/>
<polygon points="359.7,415.0 357.8,418.5 361.6,418.5" fill="#000"/>
<polygon points="370.2,410.1 368.3,413.5 372.1,413.5" fill="#000"/>
<polygon points="361.9,415.8 360.0,419.2 363.8,419.2" fill="#000"/>
<polygon points="370.4,419.9 368.5,423.3 372.3,423.3" fill="#000"/>
<polygon points="365.0,418.3 363.1,421.7 366.9,421.7" fill="#000"/>
<polygon points="360.5,415.0 358.6,418.5 362.4,418.5" fill="#000"/>
<polygon points="371.1,411.6 369.2,415.0 373.0,415.0" fill="#000"/>
<polygon points="364.0,428.9 362.1,432.4 365.9,432.4" fill="#000"/>
<polygon points="359.9,412.3 358.0,415.8 361.8,415.8" fill="#000"/>
<line x1="357.70" y1="418.40" x2="372.70" y2="418.40" stroke="#5f8a3a" stroke-width="1.0"/>
<polygon points="391.0,398.2 389.1,394.8 392.9,394.8" fill="#000"/>
<polygon points="389.9,398.9 388.0,395.5 391.8,395.5" fill="#000"/>
<polygon points="383.2,398.4 381.3,395.0 385.1,395.0" fill="#000"/>
<polygon points="392.9,396.4 391.0,393.0 394.8,393.0" fill="#000"/>
<polygon points="385.3,398.7 383.4,395.3 387.2,395.3" fill="#000"/>
<polygon points="392.1,396.7 390.2,393.2 394.0,393.2" fill="#000"/>
<polygon points="387.8,404.7 385.9,401.3 389.7,401.3" fill="#000"/>
<polygon points="384.4,401.0 382.5,397.6 386.3,397.6" fill="#000"/>
<polygon points="390.5,405.3 388.6,401.9 392.4,401.9" fill="#000"/>
<polygon points="383.8,405.1 381.9,401.7 385.7,401.7" fill="#000"/>
<polygon points="391.4,398.2 389.5,394.8 393.3,394.8" fill="#000"/>
<polygon points="387.3,395.5 385.4,392.1 389.2,392.1" fill="#000"/>
<polygon points="385.1,393.2 383.2,389.8 387.0,389.8" fill="#000"/>
<polygon points="389.2,397.1 387.3,393.7 391.1,393.7" fill="#000"/>
<polygon points="390.5,396.8 388.6,393.4 392.4,393.4" fill="#000"/>
<polygon points="390.1,410.4 388.2,406.9 392.0,406.9" fill="#000"/>
<polygon points="390.0,404.4 388.1,401.0 391.9,401.0" fill="#000"/>
<polygon points="387.2,406.7 385.3,403.2 389.1,403.2" fill="#000"/>
<polygon points="393.3,404.5 391.4,401.1 395.2,401.1" fill="#000"/>
<polygon points="394.0,402.8 392.1,399.4 395.9,399.4" fill="#000"/>
<polygon points="387.3,398.6 385.4,395.2 389.2,395.2" fill="#000"/>
<polygon points="384.7,413.4 382.8,410.0 386.6,410.0" fill="#000"/>
<polygon points="387.2,405.5 385.3,402.1 389.1,402.1" fill="#000"/>
<polygon points="390.6,393.4 388.7,390.0 392.5,390.0" fill="#000"/>
<polygon points="387.9,394.4 386.0,391.0 389.8,391.0" fill="#000"/>
<polygon points="387.5,394.6 385.6,391.2 389.4,391.2" fill="#000"/>
<polygon points="383.6,397.1 381.7,393.7 385.5,393.7" fill="#000"/>
<polygon points="384.4,400.5 382.5,397.1 386.3,397.1" fill="#000"/>
<polygon points="386.4,402.6 384.5,399.2 388.3,399.2" fill="#000"/>
<polygon points="385.5,399.7 383.6,396.3 387.4,396.3" fill="#000"/>
<polygon points="386.1,403.6 384.2,400.2 388.0,400.2" fill="#000"/>
<polygon points="388.1,394.1 386.2,390.7 390.0,390.7" fill="#000"/>
<polygon points="388.1,410.5 386.2,407.1 390.0,407.1" fill="#000"/>
<polygon points="385.3,405.6 383.4,402.2 387.2,402.2" fill="#000"/>
<polygon points="387.2,403.6 385.3,400.2 389.1,400.2" fill="#000"/>
<polygon points="393.4,414.1 391.5,410.6 395.3,410.6" fill="#000"/>
<polygon points="382.8,406.5 380.9,403.1 384.7,403.1" fill="#000"/>
<polygon points="390.8,401.3 388.9,397.8 392.7,397.8" fill="#000"/>
<polygon points="393.8,407.2 391.9,403.8 395.7,403.8" fill="#000"/>
<polygon points="392.4,401.2 390.5,397.8 394.3,397.8" fill="#000"/>
<polygon points="391.7,406.0 389.8,402.6 393.6,402.6" fill="#000"/>
<polygon points="383.4,411.4 381.5,408.0 385.3,408.0" fill="#000"/>
<polygon points="387.9,402.3 386.0,398.9 389.8,398.9" fill="#000"/>
<polygon points="392.9,401.4 391.0,398.0 394.8,398.0" fill="#000"/>
<polygon points="384.3,397.8 382.4,394.4 386.2,394.4" fill="#000"/>
<polygon points="385.6,400.7 383.7,397.3 387.5,397.3" fill="#000"/>
<polygon points="382.8,399.4 380.9,396.0 384.7,396.0" fill="#000"/>
<polygon points="393.4,399.1 391.5,395.7 395.3,395.7" fill="#000"/>
<polygon points="393.8,405.3 391.9,401.9 395.7,401.9" fill="#000"/>
<polygon points="393.8,400.5 391.9,397.0 395.7,397.0" fill="#000"/>
<polygon points="388.6,393.1 386.7,389.7 390.5,389.7" fill="#000"/>
<polygon points="385.9,396.3 384.0,392.9 387.8,392.9" fill="#000"/>
<polygon points="390.8,411.7 388.9,408.3 392.7,408.3" fill="#000"/>
<polygon points="383.6,403.3 381.7,399.9 385.5,399.9" fill="#000"/>
<polygon points="391.4,391.6 389.5,388.2 393.3,388.2" fill="#000"/>
<line x1="381.00" y1="398.20" x2="396.00" y2="398.20" stroke="#5f8a3a" stroke-width="1.0"/>
<polygon points="415.0,410.2 413.1,412.1 415.0,414.0 416.9,412.1" fill="#000"/>
<polygon points="406.7,400.9 404.8,402.8 406.7,404.7 408.6,402.8" fill="#000"/>
<polygon points="410.7,397.3 408.8,399.2 410.7,401.1 412.6,399.2" fill="#000"/>
<polygon points="407.2,426.2 405.3,428.1 407.2,430.0 409.1,428.1" fill="#000"/>
<polygon points="406.0,409.7 404.1,411.6 406.0,413.5 407.9,411.6" fill="#000"/>
<polygon points="407.1,419.1 405.2,421.0 407.1,422.9 409.0,421.0" fill="#000"/>
<polygon points="411.0,403.8 409.1,405.7 411.0,407.6 412.9,405.7" fill="#000"/>
<polygon points="411.1,420.4 409.2,422.3 411.1,424.2 413.0,422.3" fill="#000"/>
<polygon points="416.5,414.6 414.6,416.5 416.5,418.4 418.4,416.5" fill="#000"/>
<polygon points="410.5,407.1 408.6,409.0 410.5,410.9 412.4,409.0" fill="#000"/>
<polygon points="411.9,415.8 410.0,417.7 411.9,419.6 413.8,417.7" fill="#000"/>
<polygon points="409.4,404.8 407.5,406.7 409.4,408.6 411.3,406.7" fill="#000"/>
<polygon points="417.3,420.5 415.4,422.4 417.3,424.3 419.2,422.4" fill="#000"/>
<polygon points="414.9,406.6 413.0,408.5 414.9,410.4 416.8,408.5" fill="#000"/>
<polygon points="411.2,404.3 409.3,406.2 411.2,408.1 413.1,406.2" fill="#000"/>
<polygon points="407.0,408.1 405.1,410.0 407.0,411.9 408.9,410.0" fill="#000"/>
<polygon points="416.3,396.3 414.4,398.2 416.3,400.1 418.2,398.2" fill="#000"/>
<polygon points="412.0,396.1 410.1,398.0 412.0,399.9 413.9,398.0" fill="#000"/>
<polygon points="413.0,430.6 411.1,432.5 413.0,434.4 414.9,432.5" fill="#000"/>
<polygon points="409.5,419.9 407.6,421.8 409.5,423.7 411.4,421.8" fill="#000"/>
<polygon points="416.3,402.6 414.4,404.5 416.3,406.4 418.2,404.5" fill="#000"/>
<polygon points="415.4,404.2 413.5,406.1 415.4,408.0 417.3,406.1" fill="#000"/>
<polygon points="414.1,406.0 412.2,407.9 414.1,409.8 416.0,407.9" fill="#000"/>
<polygon points="413.1,413.5 411.2,415.4 413.1,417.3 415.0,415.4" fill="#000"/>
<polygon points="410.7,401.4 408.8,403.3 410.7,405.2 412.6,403.3" fill="#000"/>
<polygon points="414.1,408.3 412.2,410.2 414.1,412.1 416.0,410.2" fill="#000"/>
<polygon points="412.9,402.2 411.0,404.1 412.9,406.0 414.8,404.1" fill="#000"/>
<polygon points="414.6,405.2 412.7,407.1 414.6,409.0 416.5,407.1" fill="#000"/>
<polygon points="418.4,413.3 416.5,415.2 418.4,417.1 420.3,415.2" fill="#000"/>
<polygon points="417.7,408.5 415.8,410.4 417.7,412.3 419.6,410.4" fill="#000"/>
<polygon points="406.1,400.3 404.2,402.2 406.1,404.1 408.0,402.2" fill="#000"/>
<polygon points="418.0,426.1 416.1,428.0 418.0,429.9 419.9,428.0" fill="#000"/>
<polygon points="410.0,405.9 408.1,407.8 410.0,409.7 411.9,407.8" fill="#000"/>
<polygon points="406.1,395.2 404.2,397.1 406.1,399.0 408.0,397.1" fill="#000"/>
<polygon points="407.8,416.7 405.9,418.6 407.8,420.5 409.7,418.6" fill="#000"/>
<polygon points="409.5,416.3 407.6,418.2 409.5,420.1 411.4,418.2" fill="#000"/>
<polygon points="415.1,403.6 413.2,405.5 415.1,407.4 417.0,405.5" fill="#000"/>
<polygon points="409.0,404.9 407.1,406.8 409.0,408.7 410.9,406.8" fill="#000"/>
<polygon points="410.0,401.0 408.1,402.9 410.0,404.8 411.9,402.9" fill="#000"/>
<polygon points="407.5,408.8 405.6,410.7 407.5,412.6 409.4,410.7" fill="#000"/>
<polygon points="414.6,427.1 412.7,429.0 414.6,430.9 416.5,429.0" fill="#000"/>
<polygon points="417.0,412.6 415.1,414.5 417.0,416.4 418.9,414.5" fill="#000"/>
<polygon points="412.0,393.0 410.1,394.9 412.0,396.8 413.9,394.9" fill="#000"/>
<polygon points="411.7,405.4 409.8,407.3 411.7,409.2 413.6,407.3" fill="#000"/>
<polygon points="409.1,425.7 407.2,427.6 409.1,429.5 411.0,427.6" fill="#000"/>
<polygon points="418.7,411.7 416.8,413.6 418.7,415.5 420.6,413.6" fill="#000"/>
<polygon points="407.2,413.8 405.3,415.7 407.2,417.6 409.1,415.7" fill="#000"/>
<polygon points="416.9,414.6 415.0,416.5 416.9,418.4 418.8,416.5" fill="#000"/>
<polygon points="416.2,421.5 414.3,423.4 416.2,425.3 418.1,423.4" fill="#000"/>
<polygon points="408.9,404.7 407.0,406.6 408.9,408.5 410.8,406.6" fill="#000"/>
<polygon points="415.5,408.9 413.6,410.8 415.5,412.7 417.4,410.8" fill="#000"/>
<polygon points="411.9,396.8 410.0,398.7 411.9,400.6 413.8,398.7" fill="#000"/>
<polygon points="412.4,403.2 410.5,405.1 412.4,407.0 414.3,405.1" fill="#000"/>
<polygon points="418.0,430.3 416.1,432.2 418.0,434.1 419.9,432.2" fill="#000"/>
<polygon points="409.4,399.9 407.5,401.8 409.4,403.7 411.3,401.8" fill="#000"/>
<polygon points="409.4,419.2 407.5,421.1 409.4,423.0 411.3,421.1" fill="#000"/>
<polygon points="415.6,410.3 413.7,412.2 415.6,414.1 417.5,412.2" fill="#000"/>
<polygon points="416.0,407.5 414.1,409.4 416.0,411.3 417.9,409.4" fill="#000"/>
<polygon points="418.1,409.0 416.2,410.9 418.1,412.8 420.0,410.9" fill="#000"/>
<polygon points="410.3,405.1 408.4,407.0 410.3,408.9 412.2,407.0" fill="#000"/>
<polygon points="414.1,408.6 412.2,410.5 414.1,412.4 416.0,410.5" fill="#000"/>
<polygon points="411.6,410.5 409.7,412.4 411.6,414.3 413.5,412.4" fill="#000"/>
<polygon points="411.4,403.2 409.5,405.1 411.4,407.0 413.3,405.1" fill="#000"/>
<polygon points="407.0,403.6 405.1,405.5 407.0,407.4 408.9,405.5" fill="#000"/>
<polygon points="407.1,415.9 405.2,417.8 407.1,419.7 409.0,417.8" fill="#000"/>
<polygon points="418.2,404.1 416.3,406.0 418.2,407.9 420.1,406.0" fill="#000"/>
<polygon points="416.4,403.8 414.5,405.7 416.4,407.6 418.3,405.7" fill="#000"/>
<polygon points="406.1,417.3 404.2,419.2 406.1,421.1 408.0,419.2" fill="#000"/>
<polygon points="415.5,401.3 413.6,403.2 415.5,405.1 417.4,403.2" fill="#000"/>
<polygon points="416.4,416.4 414.5,418.3 416.4,420.2 418.3,418.3" fill="#000"/>
<line x1="404.70" y1="409.60" x2="419.70" y2="409.60" stroke="#5f8a3a" stroke-width="1.0"/>
<circle cx="438.5" cy="434.2" r="1.6" fill="#fff" stroke="#111" stroke-width="0.85"/>
<polygon points="439.4,412.4 437.5,415.8 441.3,415.8" fill="#000"/>
<circle cx="431.0" cy="423.3" r="1.6" fill="#fff" stroke="#111" stroke-width="0.85"/>
<polygon points="437.5,412.7 435.6,416.1 439.4,416.1" fill="#000"/>
<polygon points="436.5,410.5 434.6,414.0 438.4,414.0" fill="#000"/>
<polygon points="433.1,409.6 431.2,413.0 435.0,413.0" fill="#000"/>
<circle cx="434.2" cy="427.8" r="1.6" fill="#fff" stroke="#111" stroke-width="0.85"/>
<polygon points="431.2,412.5 429.3,415.9 433.1,415.9" fill="#000"/>
<polygon points="430.1,414.9 428.2,418.3 432.0,418.3" fill="#000"/>
<circle cx="432.1" cy="420.0" r="1.6" fill="#fff" stroke="#111" stroke-width="0.85"/>
<polygon points="441.0,409.6 439.1,413.0 442.9,413.0" fill="#000"/>
<circle cx="439.9" cy="420.3" r="1.6" fill="#fff" stroke="#111" stroke-width="0.85"/>
<polygon points="437.6,415.5 435.7,418.9 439.5,418.9" fill="#000"/>
<circle cx="437.2" cy="425.7" r="1.6" fill="#fff" stroke="#111" stroke-width="0.85"/>
<circle cx="431.2" cy="437.4" r="1.6" fill="#fff" stroke="#111" stroke-width="0.85"/>
<circle cx="430.7" cy="421.4" r="1.6" fill="#fff" stroke="#111" stroke-width="0.85"/>
<polygon points="437.0,416.6 435.1,420.0 438.9,420.0" fill="#000"/>
<polygon points="439.5,415.9 437.6,419.4 441.4,419.4" fill="#000"/>
<polygon points="429.8,416.1 427.9,419.5 431.7,419.5" fill="#000"/>
<circle cx="437.1" cy="430.2" r="1.6" fill="#fff" stroke="#111" stroke-width="0.85"/>
<polygon points="432.9,409.6 431.0,413.0 434.8,413.0" fill="#000"/>
<circle cx="440.1" cy="429.5" r="1.6" fill="#fff" stroke="#111" stroke-width="0.85"/>
<circle cx="435.7" cy="433.3" r="1.6" fill="#fff" stroke="#111" stroke-width="0.85"/>
<polygon points="438.5,414.2 436.6,417.6 440.4,417.6" fill="#000"/>
<circle cx="431.4" cy="426.6" r="1.6" fill="#fff" stroke="#111" stroke-width="0.85"/>
<polygon points="434.8,417.2 432.9,420.6 436.7,420.6" fill="#000"/>
<polygon points="439.5,410.7 437.6,414.1 441.4,414.1" fill="#000"/>
<polygon points="436.3,417.6 434.4,421.0 438.2,421.0" fill="#000"/>
<circle cx="439.9" cy="428.1" r="1.6" fill="#fff" stroke="#111" stroke-width="0.85"/>
<polygon points="437.9,413.0 436.0,416.4 439.8,416.4" fill="#000"/>
<polygon points="431.1,417.5 429.2,421.0 433.0,421.0" fill="#000"/>
<circle cx="431.6" cy="420.7" r="1.6" fill="#fff" stroke="#111" stroke-width="0.85"/>
<polygon points="429.9,415.6 428.0,419.0 431.8,419.0" fill="#000"/>
<circle cx="429.5" cy="425.0" r="1.6" fill="#fff" stroke="#111" stroke-width="0.85"/>
<polygon points="431.9,416.3 430.0,419.7 433.8,419.7" fill="#000"/>
<circle cx="435.2" cy="422.6" r="1.6" fill="#fff" stroke="#111" stroke-width="0.85"/>
<circle cx="434.0" cy="421.5" r="1.6" fill="#fff" stroke="#111" stroke-width="0.85"/>
<polygon points="441.3,412.1 439.4,415.5 443.2,415.5" fill="#000"/>
<polygon points="433.8,413.3 431.9,416.7 435.7,416.7" fill="#000"/>
<circle cx="432.4" cy="427.4" r="1.6" fill="#fff" stroke="#111" stroke-width="0.85"/>
<polygon points="433.5,413.1 431.6,416.5 435.4,416.5" fill="#000"/>
<circle cx="434.9" cy="435.3" r="1.6" fill="#fff" stroke="#111" stroke-width="0.85"/>
<polygon points="436.2,417.4 434.3,420.8 438.1,420.8" fill="#000"/>
<circle cx="440.4" cy="421.3" r="1.6" fill="#fff" stroke="#111" stroke-width="0.85"/>
<polygon points="431.1,416.3 429.2,419.7 433.0,419.7" fill="#000"/>
<polygon points="437.8,416.7 435.9,420.1 439.7,420.1" fill="#000"/>
<polygon points="434.6,409.9 432.7,413.3 436.5,413.3" fill="#000"/>
<polygon points="439.4,412.2 437.5,415.6 441.3,415.6" fill="#000"/>
<polygon points="439.7,410.4 437.8,413.9 441.6,413.9" fill="#000"/>
<circle cx="430.1" cy="423.1" r="1.6" fill="#fff" stroke="#111" stroke-width="0.85"/>
<polygon points="434.4,413.9 432.5,417.3 436.3,417.3" fill="#000"/>
<circle cx="441.5" cy="429.0" r="1.6" fill="#fff" stroke="#111" stroke-width="0.85"/>
<polygon points="436.3,415.7 434.4,419.1 438.2,419.1" fill="#000"/>
<circle cx="436.5" cy="421.6" r="1.6" fill="#fff" stroke="#111" stroke-width="0.85"/>
<circle cx="440.6" cy="420.7" r="1.6" fill="#fff" stroke="#111" stroke-width="0.85"/>
<polygon points="431.5,414.1 429.6,417.5 433.4,417.5" fill="#000"/>
<circle cx="438.6" cy="421.0" r="1.6" fill="#fff" stroke="#111" stroke-width="0.85"/>
<polygon points="430.7,409.6 428.8,413.0 432.6,413.0" fill="#000"/>
<circle cx="430.5" cy="426.9" r="1.6" fill="#fff" stroke="#111" stroke-width="0.85"/>
<polygon points="432.6,409.6 430.7,413.0 434.5,413.0" fill="#000"/>
<polygon points="429.7,414.4 427.8,417.8 431.6,417.8" fill="#000"/>
<polygon points="428.9,417.1 427.0,420.5 430.8,420.5" fill="#000"/>
<circle cx="436.0" cy="437.2" r="1.6" fill="#fff" stroke="#111" stroke-width="0.85"/>
<polygon points="434.3,417.6 432.4,421.0 436.2,421.0" fill="#000"/>
<polygon points="434.3,416.0 432.4,419.4 436.2,419.4" fill="#000"/>
<circle cx="439.8" cy="428.6" r="1.6" fill="#fff" stroke="#111" stroke-width="0.85"/>
<circle cx="441.7" cy="425.0" r="1.6" fill="#fff" stroke="#111" stroke-width="0.85"/>
<polygon points="441.1,409.6 439.2,413.0 443.0,413.0" fill="#000"/>
<polygon points="434.6,414.9 432.7,418.3 436.5,418.3" fill="#000"/>
<circle cx="429.6" cy="423.7" r="1.6" fill="#fff" stroke="#111" stroke-width="0.85"/>
<line x1="427.90" y1="417.50" x2="442.90" y2="417.50" stroke="#5f8a3a" stroke-width="1.0"/>
<rect x="460.8" y="414.7" width="3.0" height="3.0" fill="#fff" stroke="#111" stroke-width="0.85"/>
<rect x="460.5" y="413.9" width="3.0" height="3.0" fill="#fff" stroke="#111" stroke-width="0.85"/>
<rect x="460.3" y="418.6" width="3.0" height="3.0" fill="#fff" stroke="#111" stroke-width="0.85"/>
<rect x="459.1" y="419.7" width="3.0" height="3.0" fill="#fff" stroke="#111" stroke-width="0.85"/>
<rect x="455.6" y="418.7" width="3.0" height="3.0" fill="#fff" stroke="#111" stroke-width="0.85"/>
<rect x="462.0" y="420.1" width="3.0" height="3.0" fill="#fff" stroke="#111" stroke-width="0.85"/>
<rect x="463.3" y="412.1" width="3.0" height="3.0" fill="#fff" stroke="#111" stroke-width="0.85"/>
<rect x="461.1" y="427.6" width="3.0" height="3.0" fill="#fff" stroke="#111" stroke-width="0.85"/>
<rect x="463.5" y="416.9" width="3.0" height="3.0" fill="#fff" stroke="#111" stroke-width="0.85"/>
<rect x="461.2" y="409.7" width="3.0" height="3.0" fill="#fff" stroke="#111" stroke-width="0.85"/>
<rect x="463.2" y="425.9" width="3.0" height="3.0" fill="#fff" stroke="#111" stroke-width="0.85"/>
<rect x="455.7" y="422.9" width="3.0" height="3.0" fill="#fff" stroke="#111" stroke-width="0.85"/>
<rect x="457.1" y="424.8" width="3.0" height="3.0" fill="#fff" stroke="#111" stroke-width="0.85"/>
<rect x="461.3" y="420.6" width="3.0" height="3.0" fill="#fff" stroke="#111" stroke-width="0.85"/>
<rect x="460.8" y="409.6" width="3.0" height="3.0" fill="#fff" stroke="#111" stroke-width="0.85"/>
<rect x="452.3" y="422.1" width="3.0" height="3.0" fill="#fff" stroke="#111" stroke-width="0.85"/>
<rect x="454.4" y="412.3" width="3.0" height="3.0" fill="#fff" stroke="#111" stroke-width="0.85"/>
<rect x="456.8" y="418.1" width="3.0" height="3.0" fill="#fff" stroke="#111" stroke-width="0.85"/>
<rect x="463.1" y="425.7" width="3.0" height="3.0" fill="#fff" stroke="#111" stroke-width="0.85"/>
<rect x="450.9" y="418.2" width="3.0" height="3.0" fill="#fff" stroke="#111" stroke-width="0.85"/>
<rect x="454.8" y="423.4" width="3.0" height="3.0" fill="#fff" stroke="#111" stroke-width="0.85"/>
<rect x="458.2" y="416.8" width="3.0" height="3.0" fill="#fff" stroke="#111" stroke-width="0.85"/>
<rect x="451.6" y="421.2" width="3.0" height="3.0" fill="#fff" stroke="#111" stroke-width="0.85"/>
<rect x="463.2" y="414.8" width="3.0" height="3.0" fill="#fff" stroke="#111" stroke-width="0.85"/>
<rect x="453.8" y="419.4" width="3.0" height="3.0" fill="#fff" stroke="#111" stroke-width="0.85"/>
<rect x="451.7" y="416.1" width="3.0" height="3.0" fill="#fff" stroke="#111" stroke-width="0.85"/>
<rect x="457.0" y="426.8" width="3.0" height="3.0" fill="#fff" stroke="#111" stroke-width="0.85"/>
<rect x="453.8" y="419.0" width="3.0" height="3.0" fill="#fff" stroke="#111" stroke-width="0.85"/>
<rect x="462.0" y="414.7" width="3.0" height="3.0" fill="#fff" stroke="#111" stroke-width="0.85"/>
<rect x="459.6" y="419.3" width="3.0" height="3.0" fill="#fff" stroke="#111" stroke-width="0.85"/>
<rect x="458.6" y="411.8" width="3.0" height="3.0" fill="#fff" stroke="#111" stroke-width="0.85"/>
<rect x="461.7" y="419.2" width="3.0" height="3.0" fill="#fff" stroke="#111" stroke-width="0.85"/>
<rect x="457.5" y="414.4" width="3.0" height="3.0" fill="#fff" stroke="#111" stroke-width="0.85"/>
<rect x="450.8" y="411.1" width="3.0" height="3.0" fill="#fff" stroke="#111" stroke-width="0.85"/>
<rect x="458.1" y="414.9" width="3.0" height="3.0" fill="#fff" stroke="#111" stroke-width="0.85"/>
<rect x="460.2" y="411.6" width="3.0" height="3.0" fill="#fff" stroke="#111" stroke-width="0.85"/>
<rect x="460.3" y="425.4" width="3.0" height="3.0" fill="#fff" stroke="#111" stroke-width="0.85"/>
<rect x="455.3" y="414.7" width="3.0" height="3.0" fill="#fff" stroke="#111" stroke-width="0.85"/>
<rect x="461.0" y="415.1" width="3.0" height="3.0" fill="#fff" stroke="#111" stroke-width="0.85"/>
<rect x="454.1" y="414.6" width="3.0" height="3.0" fill="#fff" stroke="#111" stroke-width="0.85"/>
<rect x="461.2" y="415.9" width="3.0" height="3.0" fill="#fff" stroke="#111" stroke-width="0.85"/>
<rect x="459.5" y="408.0" width="3.0" height="3.0" fill="#fff" stroke="#111" stroke-width="0.85"/>
<rect x="455.2" y="422.8" width="3.0" height="3.0" fill="#fff" stroke="#111" stroke-width="0.85"/>
<rect x="454.7" y="421.7" width="3.0" height="3.0" fill="#fff" stroke="#111" stroke-width="0.85"/>
<rect x="456.7" y="416.7" width="3.0" height="3.0" fill="#fff" stroke="#111" stroke-width="0.85"/>
<rect x="461.2" y="416.2" width="3.0" height="3.0" fill="#fff" stroke="#111" stroke-width="0.85"/>
<rect x="456.4" y="417.1" width="3.0" height="3.0" fill="#fff" stroke="#111" stroke-width="0.85"/>
<rect x="451.1" y="415.8" width="3.0" height="3.0" fill="#fff" stroke="#111" stroke-width="0.85"/>
<rect x="461.9" y="416.4" width="3.0" height="3.0" fill="#fff" stroke="#111" stroke-width="0.85"/>
<rect x="451.9" y="422.6" width="3.0" height="3.0" fill="#fff" stroke="#111" stroke-width="0.85"/>
<rect x="456.4" y="416.5" width="3.0" height="3.0" fill="#fff" stroke="#111" stroke-width="0.85"/>
<rect x="455.5" y="411.4" width="3.0" height="3.0" fill="#fff" stroke="#111" stroke-width="0.85"/>
<rect x="458.5" y="426.2" width="3.0" height="3.0" fill="#fff" stroke="#111" stroke-width="0.85"/>
<rect x="456.6" y="413.4" width="3.0" height="3.0" fill="#fff" stroke="#111" stroke-width="0.85"/>
<rect x="451.9" y="419.2" width="3.0" height="3.0" fill="#fff" stroke="#111" stroke-width="0.85"/>
<rect x="452.0" y="422.1" width="3.0" height="3.0" fill="#fff" stroke="#111" stroke-width="0.85"/>
<rect x="463.2" y="414.3" width="3.0" height="3.0" fill="#fff" stroke="#111" stroke-width="0.85"/>
<rect x="456.8" y="421.6" width="3.0" height="3.0" fill="#fff" stroke="#111" stroke-width="0.85"/>
<rect x="456.6" y="419.7" width="3.0" height="3.0" fill="#fff" stroke="#111" stroke-width="0.85"/>
<rect x="457.3" y="416.7" width="3.0" height="3.0" fill="#fff" stroke="#111" stroke-width="0.85"/>
<rect x="463.2" y="421.9" width="3.0" height="3.0" fill="#fff" stroke="#111" stroke-width="0.85"/>
<rect x="455.0" y="417.8" width="3.0" height="3.0" fill="#fff" stroke="#111" stroke-width="0.85"/>
<rect x="456.7" y="411.7" width="3.0" height="3.0" fill="#fff" stroke="#111" stroke-width="0.85"/>
<rect x="456.5" y="415.9" width="3.0" height="3.0" fill="#fff" stroke="#111" stroke-width="0.85"/>
<rect x="454.8" y="420.1" width="3.0" height="3.0" fill="#fff" stroke="#111" stroke-width="0.85"/>
<rect x="451.5" y="417.3" width="3.0" height="3.0" fill="#fff" stroke="#111" stroke-width="0.85"/>
<rect x="456.1" y="422.6" width="3.0" height="3.0" fill="#fff" stroke="#111" stroke-width="0.85"/>
<rect x="456.7" y="416.5" width="3.0" height="3.0" fill="#fff" stroke="#111" stroke-width="0.85"/>
<rect x="458.2" y="414.1" width="3.0" height="3.0" fill="#fff" stroke="#111" stroke-width="0.85"/>
<rect x="458.2" y="418.3" width="3.0" height="3.0" fill="#fff" stroke="#111" stroke-width="0.85"/>
<rect x="456.7" y="417.5" width="3.0" height="3.0" fill="#fff" stroke="#111" stroke-width="0.85"/>
<rect x="452.3" y="416.9" width="3.0" height="3.0" fill="#fff" stroke="#111" stroke-width="0.85"/>
<rect x="453.1" y="416.8" width="3.0" height="3.0" fill="#fff" stroke="#111" stroke-width="0.85"/>
<rect x="463.5" y="418.6" width="3.0" height="3.0" fill="#fff" stroke="#111" stroke-width="0.85"/>
<rect x="459.8" y="412.2" width="3.0" height="3.0" fill="#fff" stroke="#111" stroke-width="0.85"/>
<rect x="460.5" y="420.9" width="3.0" height="3.0" fill="#fff" stroke="#111" stroke-width="0.85"/>
<rect x="462.3" y="418.6" width="3.0" height="3.0" fill="#fff" stroke="#111" stroke-width="0.85"/>
<rect x="451.2" y="417.5" width="3.0" height="3.0" fill="#fff" stroke="#111" stroke-width="0.85"/>
<rect x="462.9" y="418.9" width="3.0" height="3.0" fill="#fff" stroke="#111" stroke-width="0.85"/>
<rect x="460.4" y="417.8" width="3.0" height="3.0" fill="#fff" stroke="#111" stroke-width="0.85"/>
<rect x="456.3" y="416.9" width="3.0" height="3.0" fill="#fff" stroke="#111" stroke-width="0.85"/>
<rect x="458.0" y="415.0" width="3.0" height="3.0" fill="#fff" stroke="#111" stroke-width="0.85"/>
<rect x="455.3" y="420.7" width="3.0" height="3.0" fill="#fff" stroke="#111" stroke-width="0.85"/>
<rect x="455.5" y="417.0" width="3.0" height="3.0" fill="#fff" stroke="#111" stroke-width="0.85"/>
<rect x="460.2" y="419.5" width="3.0" height="3.0" fill="#fff" stroke="#111" stroke-width="0.85"/>
<rect x="459.9" y="414.8" width="3.0" height="3.0" fill="#fff" stroke="#111" stroke-width="0.85"/>
<rect x="456.9" y="413.1" width="3.0" height="3.0" fill="#fff" stroke="#111" stroke-width="0.85"/>
<rect x="461.0" y="415.4" width="3.0" height="3.0" fill="#fff" stroke="#111" stroke-width="0.85"/>
<rect x="455.7" y="418.3" width="3.0" height="3.0" fill="#fff" stroke="#111" stroke-width="0.85"/>
<rect x="453.0" y="421.5" width="3.0" height="3.0" fill="#fff" stroke="#111" stroke-width="0.85"/>
<rect x="454.3" y="411.9" width="3.0" height="3.0" fill="#fff" stroke="#111" stroke-width="0.85"/>
<rect x="462.3" y="419.3" width="3.0" height="3.0" fill="#fff" stroke="#111" stroke-width="0.85"/>
<rect x="460.7" y="414.3" width="3.0" height="3.0" fill="#fff" stroke="#111" stroke-width="0.85"/>
<rect x="458.2" y="412.9" width="3.0" height="3.0" fill="#fff" stroke="#111" stroke-width="0.85"/>
<rect x="457.3" y="419.4" width="3.0" height="3.0" fill="#fff" stroke="#111" stroke-width="0.85"/>
<rect x="451.7" y="418.3" width="3.0" height="3.0" fill="#fff" stroke="#111" stroke-width="0.85"/>
<rect x="458.2" y="428.0" width="3.0" height="3.0" fill="#fff" stroke="#111" stroke-width="0.85"/>
<rect x="452.0" y="417.6" width="3.0" height="3.0" fill="#fff" stroke="#111" stroke-width="0.85"/>
<rect x="461.1" y="410.3" width="3.0" height="3.0" fill="#fff" stroke="#111" stroke-width="0.85"/>
<rect x="460.3" y="419.8" width="3.0" height="3.0" fill="#fff" stroke="#111" stroke-width="0.85"/>
<rect x="452.8" y="418.9" width="3.0" height="3.0" fill="#fff" stroke="#111" stroke-width="0.85"/>
<rect x="461.2" y="415.9" width="3.0" height="3.0" fill="#fff" stroke="#111" stroke-width="0.85"/>
<rect x="452.4" y="423.1" width="3.0" height="3.0" fill="#fff" stroke="#111" stroke-width="0.85"/>
<rect x="462.9" y="419.2" width="3.0" height="3.0" fill="#fff" stroke="#111" stroke-width="0.85"/>
<rect x="462.0" y="416.5" width="3.0" height="3.0" fill="#fff" stroke="#111" stroke-width="0.85"/>
<rect x="463.5" y="417.3" width="3.0" height="3.0" fill="#fff" stroke="#111" stroke-width="0.85"/>
<rect x="450.8" y="414.9" width="3.0" height="3.0" fill="#fff" stroke="#111" stroke-width="0.85"/>
<rect x="458.7" y="415.2" width="3.0" height="3.0" fill="#fff" stroke="#111" stroke-width="0.85"/>
<rect x="462.5" y="423.7" width="3.0" height="3.0" fill="#fff" stroke="#111" stroke-width="0.85"/>
<rect x="461.5" y="416.4" width="3.0" height="3.0" fill="#fff" stroke="#111" stroke-width="0.85"/>
<rect x="450.8" y="415.7" width="3.0" height="3.0" fill="#fff" stroke="#111" stroke-width="0.85"/>
<rect x="462.5" y="420.8" width="3.0" height="3.0" fill="#fff" stroke="#111" stroke-width="0.85"/>
<rect x="459.5" y="411.1" width="3.0" height="3.0" fill="#fff" stroke="#111" stroke-width="0.85"/>
<rect x="460.5" y="417.7" width="3.0" height="3.0" fill="#fff" stroke="#111" stroke-width="0.85"/>
<rect x="460.2" y="417.5" width="3.0" height="3.0" fill="#fff" stroke="#111" stroke-width="0.85"/>
<rect x="463.5" y="408.7" width="3.0" height="3.0" fill="#fff" stroke="#111" stroke-width="0.85"/>
<rect x="455.4" y="421.6" width="3.0" height="3.0" fill="#fff" stroke="#111" stroke-width="0.85"/>
<rect x="453.3" y="428.3" width="3.0" height="3.0" fill="#fff" stroke="#111" stroke-width="0.85"/>
<rect x="456.0" y="422.3" width="3.0" height="3.0" fill="#fff" stroke="#111" stroke-width="0.85"/>
<rect x="461.0" y="413.1" width="3.0" height="3.0" fill="#fff" stroke="#111" stroke-width="0.85"/>
<line x1="451.10" y1="418.50" x2="466.10" y2="418.50" stroke="#5f8a3a" stroke-width="1.0"/>
<rect x="453.5" y="434.8" width="3.0" height="3.0" fill="#fff" stroke="#111" stroke-width="0.85"/>
<rect x="458.0" y="434.8" width="3.0" height="3.0" fill="#fff" stroke="#111" stroke-width="0.85"/>
<polygon points="475.6,423.5 473.7,426.9 477.5,426.9" fill="#fff" stroke="#111" stroke-width="0.85"/>
<polygon points="476.1,420.6 474.2,424.0 478.0,424.0" fill="#fff" stroke="#111" stroke-width="0.85"/>
<polygon points="477.9,420.0 476.0,423.4 479.8,423.4" fill="#fff" stroke="#111" stroke-width="0.85"/>
<polygon points="481.4,403.9 479.5,407.3 483.3,407.3" fill="#fff" stroke="#111" stroke-width="0.85"/>
<polygon points="485.3,415.8 483.4,419.2 487.2,419.2" fill="#fff" stroke="#111" stroke-width="0.85"/>
<polygon points="479.0,399.9 477.1,403.4 480.9,403.4" fill="#fff" stroke="#111" stroke-width="0.85"/>
<polygon points="476.4,403.4 474.5,406.8 478.3,406.8" fill="#fff" stroke="#111" stroke-width="0.85"/>
<polygon points="481.1,404.6 479.2,408.0 483.0,408.0" fill="#fff" stroke="#111" stroke-width="0.85"/>
<polygon points="485.1,399.7 483.2,403.2 487.0,403.2" fill="#fff" stroke="#111" stroke-width="0.85"/>
<polygon points="481.2,407.1 479.3,410.5 483.1,410.5" fill="#fff" stroke="#111" stroke-width="0.85"/>
<polygon points="483.4,411.9 481.5,415.3 485.3,415.3" fill="#fff" stroke="#111" stroke-width="0.85"/>
<polygon points="477.3,400.1 475.4,403.5 479.2,403.5" fill="#fff" stroke="#111" stroke-width="0.85"/>
<polygon points="478.6,404.6 476.7,408.1 480.5,408.1" fill="#fff" stroke="#111" stroke-width="0.85"/>
<polygon points="477.1,406.2 475.2,409.7 479.0,409.7" fill="#fff" stroke="#111" stroke-width="0.85"/>
<polygon points="477.1,400.6 475.2,404.0 479.0,404.0" fill="#fff" stroke="#111" stroke-width="0.85"/>
<polygon points="485.5,425.4 483.6,428.8 487.4,428.8" fill="#fff" stroke="#111" stroke-width="0.85"/>
<polygon points="481.4,410.7 479.5,414.1 483.3,414.1" fill="#fff" stroke="#111" stroke-width="0.85"/>
<polygon points="482.3,400.6 480.4,404.0 484.2,404.0" fill="#fff" stroke="#111" stroke-width="0.85"/>
<polygon points="484.2,399.6 482.3,403.0 486.1,403.0" fill="#fff" stroke="#111" stroke-width="0.85"/>
<polygon points="477.2,414.6 475.3,418.0 479.1,418.0" fill="#fff" stroke="#111" stroke-width="0.85"/>
<polygon points="476.3,402.3 474.4,405.7 478.2,405.7" fill="#fff" stroke="#111" stroke-width="0.85"/>
<polygon points="482.5,395.9 480.6,399.3 484.4,399.3" fill="#fff" stroke="#111" stroke-width="0.85"/>
<polygon points="485.0,408.7 483.1,412.1 486.9,412.1" fill="#fff" stroke="#111" stroke-width="0.85"/>
<polygon points="486.4,404.9 484.5,408.3 488.3,408.3" fill="#fff" stroke="#111" stroke-width="0.85"/>
<polygon points="478.4,394.8 476.5,398.2 480.3,398.2" fill="#fff" stroke="#111" stroke-width="0.85"/>
<polygon points="485.8,399.5 483.9,402.9 487.7,402.9" fill="#fff" stroke="#111" stroke-width="0.85"/>
<polygon points="485.1,393.1 483.2,396.5 487.0,396.5" fill="#fff" stroke="#111" stroke-width="0.85"/>
<polygon points="476.7,406.2 474.8,409.6 478.6,409.6" fill="#fff" stroke="#111" stroke-width="0.85"/>
<polygon points="481.5,399.5 479.6,403.0 483.4,403.0" fill="#fff" stroke="#111" stroke-width="0.85"/>
<polygon points="479.0,400.4 477.1,403.8 480.9,403.8" fill="#fff" stroke="#111" stroke-width="0.85"/>
<polygon points="488.4,402.5 486.5,405.9 490.3,405.9" fill="#fff" stroke="#111" stroke-width="0.85"/>
<polygon points="483.4,402.3 481.5,405.7 485.3,405.7" fill="#fff" stroke="#111" stroke-width="0.85"/>
<polygon points="477.5,406.5 475.6,410.0 479.4,410.0" fill="#fff" stroke="#111" stroke-width="0.85"/>
<polygon points="484.7,409.9 482.8,413.3 486.6,413.3" fill="#fff" stroke="#111" stroke-width="0.85"/>
<polygon points="485.5,402.4 483.6,405.9 487.4,405.9" fill="#fff" stroke="#111" stroke-width="0.85"/>
<polygon points="482.5,420.8 480.6,424.2 484.4,424.2" fill="#fff" stroke="#111" stroke-width="0.85"/>
<polygon points="477.9,391.8 476.0,395.3 479.8,395.3" fill="#fff" stroke="#111" stroke-width="0.85"/>
<polygon points="480.9,395.5 479.0,399.0 482.8,399.0" fill="#fff" stroke="#111" stroke-width="0.85"/>
<polygon points="479.6,400.4 477.7,403.8 481.5,403.8" fill="#fff" stroke="#111" stroke-width="0.85"/>
<polygon points="485.4,400.9 483.5,404.4 487.3,404.4" fill="#fff" stroke="#111" stroke-width="0.85"/>
<polygon points="480.5,399.4 478.6,402.8 482.4,402.8" fill="#fff" stroke="#111" stroke-width="0.85"/>
<polygon points="479.8,423.1 477.9,426.5 481.7,426.5" fill="#fff" stroke="#111" stroke-width="0.85"/>
<polygon points="487.2,406.2 485.3,409.6 489.1,409.6" fill="#fff" stroke="#111" stroke-width="0.85"/>
<polygon points="480.8,399.4 478.9,402.8 482.7,402.8" fill="#fff" stroke="#111" stroke-width="0.85"/>
<polygon points="486.8,394.8 484.9,398.2 488.7,398.2" fill="#fff" stroke="#111" stroke-width="0.85"/>
<polygon points="486.5,405.5 484.6,408.9 488.4,408.9" fill="#fff" stroke="#111" stroke-width="0.85"/>
<polygon points="488.2,390.6 486.3,394.0 490.1,394.0" fill="#fff" stroke="#111" stroke-width="0.85"/>
<polygon points="476.5,401.5 474.6,404.9 478.4,404.9" fill="#fff" stroke="#111" stroke-width="0.85"/>
<polygon points="482.8,406.8 480.9,410.2 484.7,410.2" fill="#fff" stroke="#111" stroke-width="0.85"/>
<polygon points="475.8,407.0 473.9,410.4 477.7,410.4" fill="#fff" stroke="#111" stroke-width="0.85"/>
<polygon points="476.5,408.4 474.6,411.8 478.4,411.8" fill="#fff" stroke="#111" stroke-width="0.85"/>
<polygon points="484.1,397.0 482.2,400.4 486.0,400.4" fill="#fff" stroke="#111" stroke-width="0.85"/>
<polygon points="480.1,401.4 478.2,404.8 482.0,404.8" fill="#fff" stroke="#111" stroke-width="0.85"/>
<polygon points="478.3,403.7 476.4,407.2 480.2,407.2" fill="#fff" stroke="#111" stroke-width="0.85"/>
<polygon points="483.5,426.3 481.6,429.7 485.4,429.7" fill="#fff" stroke="#111" stroke-width="0.85"/>
<polygon points="479.9,391.1 478.0,394.6 481.8,394.6" fill="#fff" stroke="#111" stroke-width="0.85"/>
<polygon points="476.1,423.7 474.2,427.1 478.0,427.1" fill="#fff" stroke="#111" stroke-width="0.85"/>
<polygon points="476.6,426.1 474.7,429.5 478.5,429.5" fill="#fff" stroke="#111" stroke-width="0.85"/>
<polygon points="487.5,406.0 485.6,409.4 489.4,409.4" fill="#fff" stroke="#111" stroke-width="0.85"/>
<polygon points="483.6,407.0 481.7,410.5 485.5,410.5" fill="#fff" stroke="#111" stroke-width="0.85"/>
<polygon points="482.1,398.7 480.2,402.1 484.0,402.1" fill="#fff" stroke="#111" stroke-width="0.85"/>
<polygon points="487.8,409.7 485.9,413.2 489.7,413.2" fill="#fff" stroke="#111" stroke-width="0.85"/>
<polygon points="477.2,425.4 475.3,428.8 479.1,428.8" fill="#fff" stroke="#111" stroke-width="0.85"/>
<polygon points="486.6,405.7 484.7,409.2 488.5,409.2" fill="#fff" stroke="#111" stroke-width="0.85"/>
<polygon points="476.9,391.9 475.0,395.3 478.8,395.3" fill="#fff" stroke="#111" stroke-width="0.85"/>
<polygon points="480.7,400.6 478.8,404.0 482.6,404.0" fill="#fff" stroke="#111" stroke-width="0.85"/>
<polygon points="476.7,392.6 474.8,396.0 478.6,396.0" fill="#fff" stroke="#111" stroke-width="0.85"/>
<polygon points="475.6,397.1 473.7,400.5 477.5,400.5" fill="#fff" stroke="#111" stroke-width="0.85"/>
<polygon points="476.5,401.1 474.6,404.5 478.4,404.5" fill="#fff" stroke="#111" stroke-width="0.85"/>
<polygon points="481.9,415.6 480.0,419.0 483.8,419.0" fill="#fff" stroke="#111" stroke-width="0.85"/>
<polygon points="487.5,404.8 485.6,408.2 489.4,408.2" fill="#fff" stroke="#111" stroke-width="0.85"/>
<polygon points="481.9,406.2 480.0,409.6 483.8,409.6" fill="#fff" stroke="#111" stroke-width="0.85"/>
<polygon points="480.0,409.3 478.1,412.7 481.9,412.7" fill="#fff" stroke="#111" stroke-width="0.85"/>
<polygon points="487.1,411.5 485.2,415.0 489.0,415.0" fill="#fff" stroke="#111" stroke-width="0.85"/>
<polygon points="488.3,421.3 486.4,424.7 490.2,424.7" fill="#fff" stroke="#111" stroke-width="0.85"/>
<polygon points="481.0,405.3 479.1,408.7 482.9,408.7" fill="#fff" stroke="#111" stroke-width="0.85"/>
<polygon points="479.4,398.7 477.5,402.1 481.3,402.1" fill="#fff" stroke="#111" stroke-width="0.85"/>
<polygon points="487.7,418.9 485.8,422.3 489.6,422.3" fill="#fff" stroke="#111" stroke-width="0.85"/>
<polygon points="483.6,406.6 481.7,410.0 485.5,410.0" fill="#fff" stroke="#111" stroke-width="0.85"/>
<polygon points="480.0,400.6 478.1,404.0 481.9,404.0" fill="#fff" stroke="#111" stroke-width="0.85"/>
<line x1="474.50" y1="405.00" x2="489.50" y2="405.00" stroke="#5f8a3a" stroke-width="1.0"/>
<polygon points="507.5,418.4 505.6,415.0 509.4,415.0" fill="#555" stroke="#111" stroke-width="0.5"/>
<polygon points="503.3,422.2 501.4,418.8 505.2,418.8" fill="#555" stroke="#111" stroke-width="0.5"/>
<polygon points="502.6,433.3 500.7,429.9 504.5,429.9" fill="#555" stroke="#111" stroke-width="0.5"/>
<polygon points="508.1,427.1 506.2,423.6 510.0,423.6" fill="#555" stroke="#111" stroke-width="0.5"/>
<polygon points="503.4,420.1 501.5,416.7 505.3,416.7" fill="#555" stroke="#111" stroke-width="0.5"/>
<polygon points="508.4,420.0 506.5,416.6 510.3,416.6" fill="#555" stroke="#111" stroke-width="0.5"/>
<polygon points="504.1,422.6 502.2,419.2 506.0,419.2" fill="#555" stroke="#111" stroke-width="0.5"/>
<polygon points="501.4,429.4 499.5,426.0 503.3,426.0" fill="#555" stroke="#111" stroke-width="0.5"/>
<polygon points="502.5,430.8 500.6,427.4 504.4,427.4" fill="#555" stroke="#111" stroke-width="0.5"/>
<polygon points="507.0,428.8 505.1,425.4 508.9,425.4" fill="#555" stroke="#111" stroke-width="0.5"/>
<polygon points="503.1,424.9 501.2,421.5 505.0,421.5" fill="#555" stroke="#111" stroke-width="0.5"/>
<polygon points="508.4,428.4 506.5,425.0 510.3,425.0" fill="#555" stroke="#111" stroke-width="0.5"/>
<polygon points="503.2,430.6 501.3,427.2 505.1,427.2" fill="#555" stroke="#111" stroke-width="0.5"/>
<polygon points="506.4,420.0 504.5,416.6 508.3,416.6" fill="#555" stroke="#111" stroke-width="0.5"/>
<polygon points="510.5,431.9 508.6,428.5 512.4,428.5" fill="#555" stroke="#111" stroke-width="0.5"/>
<polygon points="507.7,436.3 505.8,432.9 509.6,432.9" fill="#555" stroke="#111" stroke-width="0.5"/>
<polygon points="505.6,432.2 503.7,428.8 507.5,428.8" fill="#555" stroke="#111" stroke-width="0.5"/>
<polygon points="505.7,434.0 503.8,430.6 507.6,430.6" fill="#555" stroke="#111" stroke-width="0.5"/>
<polygon points="506.4,423.3 504.5,419.9 508.3,419.9" fill="#555" stroke="#111" stroke-width="0.5"/>
<polygon points="504.3,430.6 502.4,427.2 506.2,427.2" fill="#555" stroke="#111" stroke-width="0.5"/>
<polygon points="510.8,429.6 508.9,426.1 512.7,426.1" fill="#555" stroke="#111" stroke-width="0.5"/>
<polygon points="504.4,413.9 502.5,410.5 506.3,410.5" fill="#555" stroke="#111" stroke-width="0.5"/>
<polygon points="507.0,426.1 505.1,422.7 508.9,422.7" fill="#555" stroke="#111" stroke-width="0.5"/>
<polygon points="507.6,421.5 505.7,418.1 509.5,418.1" fill="#555" stroke="#111" stroke-width="0.5"/>
<polygon points="510.6,435.0 508.7,431.6 512.5,431.6" fill="#555" stroke="#111" stroke-width="0.5"/>
<polygon points="510.4,434.9 508.5,431.5 512.3,431.5" fill="#555" stroke="#111" stroke-width="0.5"/>
<polygon points="504.5,423.2 502.6,419.8 506.4,419.8" fill="#555" stroke="#111" stroke-width="0.5"/>
<polygon points="508.8,432.0 506.9,428.6 510.7,428.6" fill="#555" stroke="#111" stroke-width="0.5"/>
<polygon points="504.7,429.3 502.8,425.8 506.6,425.8" fill="#555" stroke="#111" stroke-width="0.5"/>
<polygon points="501.4,428.0 499.5,424.6 503.3,424.6" fill="#555" stroke="#111" stroke-width="0.5"/>
<polygon points="504.4,428.1 502.5,424.7 506.3,424.7" fill="#555" stroke="#111" stroke-width="0.5"/>
<polygon points="500.7,429.1 498.8,425.7 502.6,425.7" fill="#555" stroke="#111" stroke-width="0.5"/>
<polygon points="505.7,435.1 503.8,431.7 507.6,431.7" fill="#555" stroke="#111" stroke-width="0.5"/>
<polygon points="503.7,426.4 501.8,423.0 505.6,423.0" fill="#555" stroke="#111" stroke-width="0.5"/>
<polygon points="511.3,426.8 509.4,423.3 513.2,423.3" fill="#555" stroke="#111" stroke-width="0.5"/>
<polygon points="501.4,433.7 499.5,430.3 503.3,430.3" fill="#555" stroke="#111" stroke-width="0.5"/>
<polygon points="508.2,415.0 506.3,411.6 510.1,411.6" fill="#555" stroke="#111" stroke-width="0.5"/>
<polygon points="506.9,428.8 505.0,425.4 508.8,425.4" fill="#555" stroke="#111" stroke-width="0.5"/>
<polygon points="504.7,435.3 502.8,431.8 506.6,431.8" fill="#555" stroke="#111" stroke-width="0.5"/>
<polygon points="501.7,431.8 499.8,428.4 503.6,428.4" fill="#555" stroke="#111" stroke-width="0.5"/>
<polygon points="502.7,434.1 500.8,430.6 504.6,430.6" fill="#555" stroke="#111" stroke-width="0.5"/>
<polygon points="499.9,420.7 498.0,417.3 501.8,417.3" fill="#555" stroke="#111" stroke-width="0.5"/>
<polygon points="501.2,426.0 499.3,422.6 503.1,422.6" fill="#555" stroke="#111" stroke-width="0.5"/>
<polygon points="502.5,429.9 500.6,426.5 504.4,426.5" fill="#555" stroke="#111" stroke-width="0.5"/>
<polygon points="506.8,430.3 504.9,426.9 508.7,426.9" fill="#555" stroke="#111" stroke-width="0.5"/>
<polygon points="507.1,436.2 505.2,432.8 509.0,432.8" fill="#555" stroke="#111" stroke-width="0.5"/>
<polygon points="510.1,428.5 508.2,425.1 512.0,425.1" fill="#555" stroke="#111" stroke-width="0.5"/>
<polygon points="510.3,428.4 508.4,425.0 512.2,425.0" fill="#555" stroke="#111" stroke-width="0.5"/>
<polygon points="504.3,423.9 502.4,420.4 506.2,420.4" fill="#555" stroke="#111" stroke-width="0.5"/>
<polygon points="510.8,423.4 508.9,420.0 512.7,420.0" fill="#555" stroke="#111" stroke-width="0.5"/>
<polygon points="506.6,430.7 504.7,427.3 508.5,427.3" fill="#555" stroke="#111" stroke-width="0.5"/>
<polygon points="511.2,429.7 509.3,426.3 513.1,426.3" fill="#555" stroke="#111" stroke-width="0.5"/>
<polygon points="502.7,428.7 500.8,425.3 504.6,425.3" fill="#555" stroke="#111" stroke-width="0.5"/>
<polygon points="502.8,424.2 500.9,420.8 504.7,420.8" fill="#555" stroke="#111" stroke-width="0.5"/>
<polygon points="510.3,421.6 508.4,418.1 512.2,418.1" fill="#555" stroke="#111" stroke-width="0.5"/>
<polygon points="501.2,428.8 499.3,425.4 503.1,425.4" fill="#555" stroke="#111" stroke-width="0.5"/>
<polygon points="508.6,429.1 506.7,425.7 510.5,425.7" fill="#555" stroke="#111" stroke-width="0.5"/>
<polygon points="502.9,426.1 501.0,422.6 504.8,422.6" fill="#555" stroke="#111" stroke-width="0.5"/>
<polygon points="506.4,430.2 504.5,426.8 508.3,426.8" fill="#555" stroke="#111" stroke-width="0.5"/>
<polygon points="508.2,420.5 506.3,417.0 510.1,417.0" fill="#555" stroke="#111" stroke-width="0.5"/>
<line x1="498.10" y1="425.20" x2="513.10" y2="425.20" stroke="#5f8a3a" stroke-width="1.0"/>
<polygon points="505.2,445.4 503.3,442.0 507.1,442.0" fill="#555" stroke="#111" stroke-width="0.5"/>
<line x1="352.80" y1="518.00" x2="352.80" y2="595.90" stroke="#000" stroke-width="1.4"/>
<line x1="352.10" y1="595.30" x2="517.00" y2="595.30" stroke="#000" stroke-width="1.4"/>
<line x1="350.30" y1="518.50" x2="352.80" y2="518.50" stroke="#000" stroke-width="1.0"/>
<text x="349.60" y="521.00" font-size="7.2" font-weight="bold" text-anchor="end" fill="#000">1000</text>
<line x1="350.30" y1="544.20" x2="352.80" y2="544.20" stroke="#000" stroke-width="1.0"/>
<text x="349.60" y="546.70" font-size="7.2" font-weight="bold" text-anchor="end" fill="#000">100</text>
<line x1="350.30" y1="569.90" x2="352.80" y2="569.90" stroke="#000" stroke-width="1.0"/>
<text x="349.60" y="572.40" font-size="7.2" font-weight="bold" text-anchor="end" fill="#000">10</text>
<line x1="350.30" y1="595.60" x2="352.80" y2="595.60" stroke="#000" stroke-width="1.0"/>
<text x="349.60" y="598.10" font-size="7.2" font-weight="bold" text-anchor="end" fill="#000">1</text>
<text x="334.60" y="555.80" font-size="12" font-weight="bold" text-anchor="middle" fill="#000" transform="rotate(-90 334.60 555.80)">MFI</text>
<line x1="364.60" y1="595.30" x2="364.60" y2="597.90" stroke="#000" stroke-width="1.2"/>
<text x="367.20" y="604.40" font-size="7.8" font-weight="bold" text-anchor="end" fill="#000" transform="rotate(-45 367.20 604.40)">GC-G</text>
<line x1="387.70" y1="595.30" x2="387.70" y2="597.90" stroke="#000" stroke-width="1.2"/>
<text x="390.30" y="604.40" font-size="7.8" font-weight="bold" text-anchor="end" fill="#000" transform="rotate(-45 390.30 604.40)">FL-13</text>
<line x1="410.40" y1="595.30" x2="410.40" y2="597.90" stroke="#000" stroke-width="1.2"/>
<text x="413.00" y="604.40" font-size="7.8" font-weight="bold" text-anchor="end" fill="#000" transform="rotate(-45 413.00 604.40)">Fl-14</text>
<line x1="435.00" y1="595.30" x2="435.00" y2="597.90" stroke="#000" stroke-width="1.2"/>
<text x="437.60" y="604.40" font-size="7.8" font-weight="bold" text-anchor="end" fill="#000" transform="rotate(-45 437.60 604.40)">FL-15</text>
<line x1="458.50" y1="595.30" x2="458.50" y2="597.90" stroke="#000" stroke-width="1.2"/>
<text x="461.10" y="604.40" font-size="7.8" font-weight="bold" text-anchor="end" fill="#000" transform="rotate(-45 461.10 604.40)">FL-16</text>
<line x1="482.00" y1="595.30" x2="482.00" y2="597.90" stroke="#000" stroke-width="1.2"/>
<text x="484.60" y="604.40" font-size="7.8" font-weight="bold" text-anchor="end" fill="#000" transform="rotate(-45 484.60 604.40)">FL-17</text>
<line x1="505.60" y1="595.30" x2="505.60" y2="597.90" stroke="#000" stroke-width="1.2"/>
<text x="508.20" y="604.40" font-size="7.8" font-weight="bold" text-anchor="end" fill="#000" transform="rotate(-45 508.20 604.40)">FL-18</text>
<line x1="363.80" y1="509.20" x2="479.90" y2="509.20" stroke="#000" stroke-width="1.4"/>
<line x1="363.80" y1="509.20" x2="363.80" y2="514.00" stroke="#000" stroke-width="1.6"/>
<line x1="479.60" y1="509.20" x2="479.60" y2="514.00" stroke="#000" stroke-width="1.6"/>
<polygon points="420.80,500.40 421.71,502.84 424.32,502.96 422.28,504.58 422.97,507.09 420.80,505.65 418.63,507.09 419.32,504.58 417.28,502.96 419.89,502.84" fill="#111"/>
<polygon points="427.70,500.40 428.61,502.84 431.22,502.96 429.18,504.58 429.87,507.09 427.70,505.65 425.53,507.09 426.22,504.58 424.18,502.96 426.79,502.84" fill="#111"/>
<line x1="363.80" y1="522.20" x2="506.80" y2="522.20" stroke="#000" stroke-width="1.4"/>
<line x1="363.80" y1="522.20" x2="363.80" y2="527.20" stroke="#000" stroke-width="1.6"/>
<line x1="389.20" y1="522.20" x2="389.20" y2="527.20" stroke="#000" stroke-width="1.6"/>
<line x1="410.40" y1="522.20" x2="410.40" y2="527.20" stroke="#000" stroke-width="1.6"/>
<line x1="432.30" y1="522.20" x2="432.30" y2="527.20" stroke="#000" stroke-width="1.6"/>
<line x1="457.90" y1="522.20" x2="457.90" y2="527.20" stroke="#000" stroke-width="1.6"/>
<line x1="506.50" y1="522.20" x2="506.50" y2="527.20" stroke="#000" stroke-width="1.6"/>
<polygon points="419.00,513.90 419.91,516.34 422.52,516.46 420.48,518.08 421.17,520.59 419.00,519.15 416.83,520.59 417.52,518.08 415.48,516.46 418.09,516.34" fill="#111"/>
<polygon points="425.80,513.90 426.71,516.34 429.32,516.46 427.28,518.08 427.97,520.59 425.80,519.15 423.63,520.59 424.32,518.08 422.28,516.46 424.89,516.34" fill="#111"/>
<polygon points="432.80,513.90 433.71,516.34 436.32,516.46 434.28,518.08 434.97,520.59 432.80,519.15 430.63,520.59 431.32,518.08 429.28,516.46 431.89,516.34" fill="#111"/>
<rect x="360.3" y="553.3" width="3.0" height="3.0" fill="#000"/>
<rect x="362.7" y="560.6" width="3.0" height="3.0" fill="#000"/>
<rect x="367.7" y="552.7" width="3.0" height="3.0" fill="#000"/>
<rect x="363.9" y="542.6" width="3.0" height="3.0" fill="#000"/>
<rect x="363.5" y="553.9" width="3.0" height="3.0" fill="#000"/>
<rect x="360.6" y="552.3" width="3.0" height="3.0" fill="#000"/>
<rect x="360.1" y="550.3" width="3.0" height="3.0" fill="#000"/>
<rect x="357.2" y="553.6" width="3.0" height="3.0" fill="#000"/>
<rect x="357.8" y="545.8" width="3.0" height="3.0" fill="#000"/>
<rect x="363.6" y="551.3" width="3.0" height="3.0" fill="#000"/>
<rect x="365.4" y="563.3" width="3.0" height="3.0" fill="#000"/>
<rect x="363.5" y="559.2" width="3.0" height="3.0" fill="#000"/>
<rect x="359.1" y="566.6" width="3.0" height="3.0" fill="#000"/>
<rect x="365.7" y="557.3" width="3.0" height="3.0" fill="#000"/>
<rect x="362.0" y="554.3" width="3.0" height="3.0" fill="#000"/>
<rect x="363.2" y="568.8" width="3.0" height="3.0" fill="#000"/>
<rect x="364.2" y="553.3" width="3.0" height="3.0" fill="#000"/>
<rect x="359.2" y="551.9" width="3.0" height="3.0" fill="#000"/>
<rect x="366.5" y="549.0" width="3.0" height="3.0" fill="#000"/>
<rect x="363.4" y="547.9" width="3.0" height="3.0" fill="#000"/>
<rect x="361.5" y="549.8" width="3.0" height="3.0" fill="#000"/>
<rect x="366.7" y="554.7" width="3.0" height="3.0" fill="#000"/>
<rect x="366.0" y="539.3" width="3.0" height="3.0" fill="#000"/>
<rect x="363.0" y="557.1" width="3.0" height="3.0" fill="#000"/>
<rect x="367.7" y="553.5" width="3.0" height="3.0" fill="#000"/>
<rect x="368.7" y="554.7" width="3.0" height="3.0" fill="#000"/>
<rect x="367.1" y="543.3" width="3.0" height="3.0" fill="#000"/>
<rect x="361.0" y="548.3" width="3.0" height="3.0" fill="#000"/>
<rect x="357.0" y="552.1" width="3.0" height="3.0" fill="#000"/>
<rect x="368.9" y="563.7" width="3.0" height="3.0" fill="#000"/>
<rect x="360.6" y="552.6" width="3.0" height="3.0" fill="#000"/>
<rect x="364.3" y="539.7" width="3.0" height="3.0" fill="#000"/>
<rect x="359.8" y="556.9" width="3.0" height="3.0" fill="#000"/>
<rect x="364.3" y="559.8" width="3.0" height="3.0" fill="#000"/>
<rect x="368.8" y="545.8" width="3.0" height="3.0" fill="#000"/>
<rect x="368.2" y="561.5" width="3.0" height="3.0" fill="#000"/>
<rect x="361.7" y="548.3" width="3.0" height="3.0" fill="#000"/>
<rect x="361.2" y="549.6" width="3.0" height="3.0" fill="#000"/>
<rect x="366.8" y="548.2" width="3.0" height="3.0" fill="#000"/>
<rect x="358.0" y="539.0" width="3.0" height="3.0" fill="#000"/>
<rect x="358.5" y="555.4" width="3.0" height="3.0" fill="#000"/>
<rect x="362.8" y="545.7" width="3.0" height="3.0" fill="#000"/>
<rect x="368.0" y="538.6" width="3.0" height="3.0" fill="#000"/>
<rect x="358.1" y="550.3" width="3.0" height="3.0" fill="#000"/>
<rect x="365.6" y="551.0" width="3.0" height="3.0" fill="#000"/>
<rect x="357.8" y="555.2" width="3.0" height="3.0" fill="#000"/>
<rect x="360.5" y="551.0" width="3.0" height="3.0" fill="#000"/>
<rect x="359.6" y="553.7" width="3.0" height="3.0" fill="#000"/>
<rect x="360.6" y="553.8" width="3.0" height="3.0" fill="#000"/>
<rect x="359.6" y="552.7" width="3.0" height="3.0" fill="#000"/>
<rect x="360.1" y="556.8" width="3.0" height="3.0" fill="#000"/>
<rect x="365.5" y="547.7" width="3.0" height="3.0" fill="#000"/>
<rect x="362.2" y="560.6" width="3.0" height="3.0" fill="#000"/>
<rect x="363.4" y="553.5" width="3.0" height="3.0" fill="#000"/>
<rect x="357.5" y="551.8" width="3.0" height="3.0" fill="#000"/>
<rect x="357.5" y="551.0" width="3.0" height="3.0" fill="#000"/>
<rect x="357.6" y="558.2" width="3.0" height="3.0" fill="#000"/>
<rect x="358.7" y="540.3" width="3.0" height="3.0" fill="#000"/>
<rect x="366.8" y="549.2" width="3.0" height="3.0" fill="#000"/>
<rect x="358.2" y="546.9" width="3.0" height="3.0" fill="#000"/>
<rect x="368.2" y="555.5" width="3.0" height="3.0" fill="#000"/>
<rect x="356.9" y="567.5" width="3.0" height="3.0" fill="#000"/>
<rect x="360.7" y="562.0" width="3.0" height="3.0" fill="#000"/>
<rect x="368.3" y="551.4" width="3.0" height="3.0" fill="#000"/>
<rect x="367.7" y="549.2" width="3.0" height="3.0" fill="#000"/>
<rect x="365.8" y="550.6" width="3.0" height="3.0" fill="#000"/>
<rect x="360.3" y="561.5" width="3.0" height="3.0" fill="#000"/>
<rect x="364.5" y="546.2" width="3.0" height="3.0" fill="#000"/>
<rect x="365.0" y="548.6" width="3.0" height="3.0" fill="#000"/>
<rect x="365.5" y="550.7" width="3.0" height="3.0" fill="#000"/>
<rect x="357.0" y="569.2" width="3.0" height="3.0" fill="#000"/>
<rect x="358.5" y="561.6" width="3.0" height="3.0" fill="#000"/>
<rect x="364.1" y="548.5" width="3.0" height="3.0" fill="#000"/>
<rect x="367.6" y="558.6" width="3.0" height="3.0" fill="#000"/>
<rect x="367.3" y="546.9" width="3.0" height="3.0" fill="#000"/>
<rect x="357.8" y="548.9" width="3.0" height="3.0" fill="#000"/>
<rect x="363.6" y="558.9" width="3.0" height="3.0" fill="#000"/>
<rect x="364.8" y="544.0" width="3.0" height="3.0" fill="#000"/>
<rect x="359.0" y="562.4" width="3.0" height="3.0" fill="#000"/>
<rect x="360.8" y="549.8" width="3.0" height="3.0" fill="#000"/>
<rect x="364.0" y="563.0" width="3.0" height="3.0" fill="#000"/>
<rect x="358.8" y="561.0" width="3.0" height="3.0" fill="#000"/>
<rect x="360.6" y="554.4" width="3.0" height="3.0" fill="#000"/>
<rect x="360.2" y="551.8" width="3.0" height="3.0" fill="#000"/>
<rect x="361.4" y="569.0" width="3.0" height="3.0" fill="#000"/>
<rect x="364.9" y="552.8" width="3.0" height="3.0" fill="#000"/>
<rect x="369.3" y="554.9" width="3.0" height="3.0" fill="#000"/>
<rect x="364.2" y="550.6" width="3.0" height="3.0" fill="#000"/>
<rect x="365.3" y="541.9" width="3.0" height="3.0" fill="#000"/>
<rect x="367.8" y="554.7" width="3.0" height="3.0" fill="#000"/>
<line x1="357.10" y1="555.00" x2="372.10" y2="555.00" stroke="#5f8a3a" stroke-width="1.0"/>
<rect x="364.0" y="573.1" width="3.0" height="3.0" fill="#000"/>
<polygon points="386.5,575.6 384.6,572.2 388.4,572.2" fill="#000"/>
<polygon points="386.8,556.5 384.9,553.1 388.7,553.1" fill="#000"/>
<polygon points="388.1,549.5 386.2,546.0 390.0,546.0" fill="#000"/>
<polygon points="387.6,548.3 385.7,544.9 389.5,544.9" fill="#000"/>
<polygon points="388.0,584.7 386.1,581.3 389.9,581.3" fill="#000"/>
<polygon points="382.9,562.0 381.0,558.5 384.8,558.5" fill="#000"/>
<polygon points="381.7,562.3 379.8,558.8 383.6,558.8" fill="#000"/>
<polygon points="384.5,554.1 382.6,550.6 386.4,550.6" fill="#000"/>
<polygon points="381.8,568.1 379.9,564.7 383.7,564.7" fill="#000"/>
<polygon points="391.2,585.3 389.3,581.9 393.1,581.9" fill="#000"/>
<polygon points="384.6,560.4 382.7,557.0 386.5,557.0" fill="#000"/>
<polygon points="382.9,567.7 381.0,564.2 384.8,564.2" fill="#000"/>
<polygon points="391.5,562.8 389.6,559.4 393.4,559.4" fill="#000"/>
<polygon points="389.7,570.5 387.8,567.1 391.6,567.1" fill="#000"/>
<polygon points="385.0,564.0 383.1,560.6 386.9,560.6" fill="#000"/>
<polygon points="384.4,590.8 382.5,587.4 386.3,587.4" fill="#000"/>
<polygon points="386.2,568.8 384.3,565.4 388.1,565.4" fill="#000"/>
<polygon points="385.7,572.5 383.8,569.1 387.6,569.1" fill="#000"/>
<polygon points="388.4,566.2 386.5,562.8 390.3,562.8" fill="#000"/>
<polygon points="388.8,554.2 386.9,550.8 390.7,550.8" fill="#000"/>
<polygon points="393.6,579.9 391.7,576.5 395.5,576.5" fill="#000"/>
<polygon points="393.9,564.7 392.0,561.2 395.8,561.2" fill="#000"/>
<polygon points="392.4,568.2 390.5,564.8 394.3,564.8" fill="#000"/>
<polygon points="385.1,589.1 383.2,585.7 387.0,585.7" fill="#000"/>
<polygon points="382.9,588.3 381.0,584.9 384.8,584.9" fill="#000"/>
<polygon points="388.4,562.6 386.5,559.1 390.3,559.1" fill="#000"/>
<polygon points="385.7,565.7 383.8,562.3 387.6,562.3" fill="#000"/>
<polygon points="389.1,567.9 387.2,564.5 391.0,564.5" fill="#000"/>
<polygon points="382.5,565.0 380.6,561.6 384.4,561.6" fill="#000"/>
<polygon points="381.4,554.6 379.5,551.2 383.3,551.2" fill="#000"/>
<polygon points="387.7,554.5 385.8,551.1 389.6,551.1" fill="#000"/>
<polygon points="383.7,550.4 381.8,546.9 385.6,546.9" fill="#000"/>
<polygon points="383.9,582.0 382.0,578.6 385.8,578.6" fill="#000"/>
<polygon points="391.0,573.0 389.1,569.5 392.9,569.5" fill="#000"/>
<polygon points="391.4,566.5 389.5,563.1 393.3,563.1" fill="#000"/>
<polygon points="389.0,560.7 387.1,557.3 390.9,557.3" fill="#000"/>
<polygon points="387.1,557.9 385.2,554.5 389.0,554.5" fill="#000"/>
<polygon points="388.4,558.0 386.5,554.5 390.3,554.5" fill="#000"/>
<polygon points="389.6,550.3 387.7,546.9 391.5,546.9" fill="#000"/>
<polygon points="390.2,585.4 388.3,581.9 392.1,581.9" fill="#000"/>
<polygon points="392.6,564.0 390.7,560.6 394.5,560.6" fill="#000"/>
<polygon points="386.0,568.9 384.1,565.4 387.9,565.4" fill="#000"/>
<polygon points="383.7,572.7 381.8,569.3 385.6,569.3" fill="#000"/>
<polygon points="391.3,571.0 389.4,567.6 393.2,567.6" fill="#000"/>
<polygon points="384.5,558.0 382.6,554.6 386.4,554.6" fill="#000"/>
<polygon points="385.1,575.2 383.2,571.8 387.0,571.8" fill="#000"/>
<polygon points="392.1,570.4 390.2,567.0 394.0,567.0" fill="#000"/>
<polygon points="392.6,578.0 390.7,574.6 394.5,574.6" fill="#000"/>
<polygon points="386.6,563.7 384.7,560.3 388.5,560.3" fill="#000"/>
<polygon points="388.4,573.3 386.5,569.9 390.3,569.9" fill="#000"/>
<polygon points="393.9,562.5 392.0,559.1 395.8,559.1" fill="#000"/>
<polygon points="384.2,572.8 382.3,569.4 386.1,569.4" fill="#000"/>
<polygon points="389.4,577.3 387.5,573.9 391.3,573.9" fill="#000"/>
<polygon points="383.8,567.6 381.9,564.1 385.7,564.1" fill="#000"/>
<polygon points="390.3,571.1 388.4,567.7 392.2,567.7" fill="#000"/>
<polygon points="385.0,582.8 383.1,579.4 386.9,579.4" fill="#000"/>
<polygon points="393.7,560.9 391.8,557.5 395.6,557.5" fill="#000"/>
<polygon points="381.5,571.5 379.6,568.1 383.4,568.1" fill="#000"/>
<polygon points="391.2,564.6 389.3,561.2 393.1,561.2" fill="#000"/>
<polygon points="381.8,566.4 379.9,562.9 383.7,562.9" fill="#000"/>
<polygon points="390.0,563.7 388.1,560.2 391.9,560.2" fill="#000"/>
<polygon points="384.9,566.7 383.0,563.3 386.8,563.3" fill="#000"/>
<polygon points="390.2,561.9 388.3,558.5 392.1,558.5" fill="#000"/>
<polygon points="386.6,564.6 384.7,561.2 388.5,561.2" fill="#000"/>
<polygon points="393.2,562.8 391.3,559.4 395.1,559.4" fill="#000"/>
<polygon points="392.3,560.2 390.4,556.8 394.2,556.8" fill="#000"/>
<polygon points="390.4,585.1 388.5,581.6 392.3,581.6" fill="#000"/>
<polygon points="385.7,571.3 383.8,567.9 387.6,567.9" fill="#000"/>
<polygon points="388.0,587.7 386.1,584.3 389.9,584.3" fill="#000"/>
<polygon points="385.5,573.9 383.6,570.5 387.4,570.5" fill="#000"/>
<polygon points="389.3,554.4 387.4,551.0 391.2,551.0" fill="#000"/>
<polygon points="386.2,553.4 384.3,549.9 388.1,549.9" fill="#000"/>
<polygon points="393.8,568.5 391.9,565.1 395.7,565.1" fill="#000"/>
<polygon points="383.7,571.1 381.8,567.7 385.6,567.7" fill="#000"/>
<polygon points="390.5,563.7 388.6,560.3 392.4,560.3" fill="#000"/>
<polygon points="384.1,583.7 382.2,580.2 386.0,580.2" fill="#000"/>
<polygon points="383.5,576.5 381.6,573.1 385.4,573.1" fill="#000"/>
<polygon points="387.5,564.7 385.6,561.3 389.4,561.3" fill="#000"/>
<polygon points="393.5,573.7 391.6,570.3 395.4,570.3" fill="#000"/>
<polygon points="391.6,568.9 389.7,565.4 393.5,565.4" fill="#000"/>
<polygon points="386.1,577.8 384.2,574.4 388.0,574.4" fill="#000"/>
<polygon points="384.6,556.7 382.7,553.2 386.5,553.2" fill="#000"/>
<polygon points="385.9,557.8 384.0,554.3 387.8,554.3" fill="#000"/>
<polygon points="382.0,578.8 380.1,575.4 383.9,575.4" fill="#000"/>
<polygon points="387.8,556.9 385.9,553.5 389.7,553.5" fill="#000"/>
<line x1="380.20" y1="562.70" x2="395.20" y2="562.70" stroke="#5f8a3a" stroke-width="1.0"/>
<polygon points="406.8,562.8 404.9,564.7 406.8,566.6 408.7,564.7" fill="#000"/>
<polygon points="414.5,563.3 412.6,565.2 414.5,567.1 416.4,565.2" fill="#000"/>
<polygon points="413.8,566.3 411.9,568.2 413.8,570.1 415.7,568.2" fill="#000"/>
<polygon points="405.4,555.9 403.5,557.8 405.4,559.7 407.3,557.8" fill="#000"/>
<polygon points="411.1,552.3 409.2,554.2 411.1,556.1 413.0,554.2" fill="#000"/>
<polygon points="407.4,557.7 405.5,559.6 407.4,561.5 409.3,559.6" fill="#000"/>
<polygon points="407.9,561.9 406.0,563.8 407.9,565.7 409.8,563.8" fill="#000"/>
<polygon points="411.6,566.0 409.7,567.9 411.6,569.8 413.5,567.9" fill="#000"/>
<polygon points="414.6,560.4 412.7,562.3 414.6,564.2 416.5,562.3" fill="#000"/>
<polygon points="411.6,560.7 409.7,562.6 411.6,564.5 413.5,562.6" fill="#000"/>
<polygon points="412.1,561.0 410.2,562.9 412.1,564.8 414.0,562.9" fill="#000"/>
<polygon points="409.6,556.1 407.7,558.0 409.6,559.9 411.5,558.0" fill="#000"/>
<polygon points="408.2,559.1 406.3,561.0 408.2,562.9 410.1,561.0" fill="#000"/>
<polygon points="413.3,554.9 411.4,556.8 413.3,558.7 415.2,556.8" fill="#000"/>
<polygon points="414.0,560.4 412.1,562.3 414.0,564.2 415.9,562.3" fill="#000"/>
<polygon points="406.9,558.6 405.0,560.5 406.9,562.4 408.8,560.5" fill="#000"/>
<polygon points="410.5,558.8 408.6,560.7 410.5,562.6 412.4,560.7" fill="#000"/>
<polygon points="406.5,566.4 404.6,568.3 406.5,570.2 408.4,568.3" fill="#000"/>
<polygon points="410.2,558.8 408.3,560.7 410.2,562.6 412.1,560.7" fill="#000"/>
<polygon points="416.0,571.5 414.1,573.4 416.0,575.3 417.9,573.4" fill="#000"/>
<polygon points="416.4,570.8 414.5,572.7 416.4,574.6 418.3,572.7" fill="#000"/>
<polygon points="411.4,565.6 409.5,567.5 411.4,569.4 413.3,567.5" fill="#000"/>
<polygon points="414.6,555.0 412.7,556.9 414.6,558.8 416.5,556.9" fill="#000"/>
<polygon points="404.5,563.4 402.6,565.3 404.5,567.2 406.4,565.3" fill="#000"/>
<polygon points="404.3,560.8 402.4,562.7 404.3,564.6 406.2,562.7" fill="#000"/>
<polygon points="415.1,567.9 413.2,569.8 415.1,571.7 417.0,569.8" fill="#000"/>
<polygon points="406.3,557.9 404.4,559.8 406.3,561.7 408.2,559.8" fill="#000"/>
<polygon points="411.1,554.7 409.2,556.6 411.1,558.5 413.0,556.6" fill="#000"/>
<polygon points="406.0,558.8 404.1,560.7 406.0,562.6 407.9,560.7" fill="#000"/>
<polygon points="415.9,572.7 414.0,574.6 415.9,576.5 417.8,574.6" fill="#000"/>
<polygon points="411.1,562.4 409.2,564.3 411.1,566.2 413.0,564.3" fill="#000"/>
<polygon points="405.5,565.7 403.6,567.6 405.5,569.5 407.4,567.6" fill="#000"/>
<polygon points="409.5,564.4 407.6,566.3 409.5,568.2 411.4,566.3" fill="#000"/>
<polygon points="410.9,559.1 409.0,561.0 410.9,562.9 412.8,561.0" fill="#000"/>
<polygon points="405.1,561.3 403.2,563.2 405.1,565.1 407.0,563.2" fill="#000"/>
<polygon points="414.0,559.3 412.1,561.2 414.0,563.1 415.9,561.2" fill="#000"/>
<polygon points="415.3,558.7 413.4,560.6 415.3,562.5 417.2,560.6" fill="#000"/>
<polygon points="413.7,561.2 411.8,563.1 413.7,565.0 415.6,563.1" fill="#000"/>
<polygon points="412.8,559.6 410.9,561.5 412.8,563.4 414.7,561.5" fill="#000"/>
<polygon points="412.2,564.1 410.3,566.0 412.2,567.9 414.1,566.0" fill="#000"/>
<polygon points="416.0,561.6 414.1,563.5 416.0,565.4 417.9,563.5" fill="#000"/>
<polygon points="412.1,560.1 410.2,562.0 412.1,563.9 414.0,562.0" fill="#000"/>
<polygon points="411.5,564.9 409.6,566.8 411.5,568.7 413.4,566.8" fill="#000"/>
<polygon points="411.4,563.8 409.5,565.7 411.4,567.6 413.3,565.7" fill="#000"/>
<polygon points="415.8,560.4 413.9,562.3 415.8,564.2 417.7,562.3" fill="#000"/>
<polygon points="413.0,572.0 411.1,573.9 413.0,575.8 414.9,573.9" fill="#000"/>
<polygon points="412.1,561.3 410.2,563.2 412.1,565.1 414.0,563.2" fill="#000"/>
<polygon points="406.3,555.5 404.4,557.4 406.3,559.3 408.2,557.4" fill="#000"/>
<polygon points="408.6,558.9 406.7,560.8 408.6,562.7 410.5,560.8" fill="#000"/>
<polygon points="415.8,559.8 413.9,561.7 415.8,563.6 417.7,561.7" fill="#000"/>
<polygon points="409.8,558.3 407.9,560.2 409.8,562.1 411.7,560.2" fill="#000"/>
<polygon points="415.5,568.9 413.6,570.8 415.5,572.7 417.4,570.8" fill="#000"/>
<polygon points="414.9,559.3 413.0,561.2 414.9,563.1 416.8,561.2" fill="#000"/>
<polygon points="408.5,558.4 406.6,560.3 408.5,562.2 410.4,560.3" fill="#000"/>
<polygon points="407.5,556.6 405.6,558.5 407.5,560.4 409.4,558.5" fill="#000"/>
<polygon points="409.6,561.2 407.7,563.1 409.6,565.0 411.5,563.1" fill="#000"/>
<polygon points="409.8,558.8 407.9,560.7 409.8,562.6 411.7,560.7" fill="#000"/>
<polygon points="407.7,555.8 405.8,557.7 407.7,559.6 409.6,557.7" fill="#000"/>
<polygon points="404.2,554.3 402.3,556.2 404.2,558.1 406.1,556.2" fill="#000"/>
<polygon points="409.8,557.2 407.9,559.1 409.8,561.0 411.7,559.1" fill="#000"/>
<line x1="402.90" y1="562.00" x2="417.90" y2="562.00" stroke="#5f8a3a" stroke-width="1.0"/>
<rect x="429.2" y="568.5" width="3.0" height="3.0" fill="#fff" stroke="#111" stroke-width="0.85"/>
<rect x="431.5" y="567.7" width="3.0" height="3.0" fill="#fff" stroke="#111" stroke-width="0.85"/>
<rect x="438.9" y="563.1" width="3.0" height="3.0" fill="#000"/>
<rect x="439.1" y="569.0" width="3.0" height="3.0" fill="#fff" stroke="#111" stroke-width="0.85"/>
<rect x="429.4" y="571.0" width="3.0" height="3.0" fill="#fff" stroke="#111" stroke-width="0.85"/>
<rect x="431.1" y="567.6" width="3.0" height="3.0" fill="#fff" stroke="#111" stroke-width="0.85"/>
<rect x="432.1" y="567.2" width="3.0" height="3.0" fill="#fff" stroke="#111" stroke-width="0.85"/>
<rect x="437.0" y="567.8" width="3.0" height="3.0" fill="#fff" stroke="#111" stroke-width="0.85"/>
<rect x="433.7" y="562.8" width="3.0" height="3.0" fill="#000"/>
<rect x="438.6" y="561.6" width="3.0" height="3.0" fill="#000"/>
<rect x="438.1" y="564.5" width="3.0" height="3.0" fill="#000"/>
<rect x="432.8" y="567.0" width="3.0" height="3.0" fill="#fff" stroke="#111" stroke-width="0.85"/>
<rect x="433.1" y="563.4" width="3.0" height="3.0" fill="#000"/>
<rect x="436.7" y="571.2" width="3.0" height="3.0" fill="#fff" stroke="#111" stroke-width="0.85"/>
<rect x="435.5" y="562.9" width="3.0" height="3.0" fill="#000"/>
<rect x="432.3" y="571.6" width="3.0" height="3.0" fill="#fff" stroke="#111" stroke-width="0.85"/>
<rect x="432.4" y="565.5" width="3.0" height="3.0" fill="#000"/>
<rect x="436.8" y="571.7" width="3.0" height="3.0" fill="#fff" stroke="#111" stroke-width="0.85"/>
<rect x="428.4" y="566.3" width="3.0" height="3.0" fill="#000"/>
<rect x="434.4" y="567.6" width="3.0" height="3.0" fill="#fff" stroke="#111" stroke-width="0.85"/>
<rect x="436.1" y="572.4" width="3.0" height="3.0" fill="#fff" stroke="#111" stroke-width="0.85"/>
<rect x="435.7" y="566.6" width="3.0" height="3.0" fill="#fff" stroke="#111" stroke-width="0.85"/>
<rect x="438.9" y="567.9" width="3.0" height="3.0" fill="#fff" stroke="#111" stroke-width="0.85"/>
<rect x="436.2" y="571.6" width="3.0" height="3.0" fill="#fff" stroke="#111" stroke-width="0.85"/>
<rect x="433.8" y="562.4" width="3.0" height="3.0" fill="#000"/>
<rect x="429.8" y="567.4" width="3.0" height="3.0" fill="#fff" stroke="#111" stroke-width="0.85"/>
<rect x="436.5" y="563.3" width="3.0" height="3.0" fill="#000"/>
<rect x="429.6" y="566.4" width="3.0" height="3.0" fill="#000"/>
<rect x="438.1" y="563.9" width="3.0" height="3.0" fill="#000"/>
<rect x="431.0" y="561.2" width="3.0" height="3.0" fill="#000"/>
<rect x="438.5" y="566.0" width="3.0" height="3.0" fill="#000"/>
<rect x="430.0" y="570.1" width="3.0" height="3.0" fill="#fff" stroke="#111" stroke-width="0.85"/>
<rect x="437.0" y="565.3" width="3.0" height="3.0" fill="#000"/>
<rect x="432.2" y="568.5" width="3.0" height="3.0" fill="#fff" stroke="#111" stroke-width="0.85"/>
<rect x="437.8" y="572.8" width="3.0" height="3.0" fill="#fff" stroke="#111" stroke-width="0.85"/>
<rect x="430.5" y="564.3" width="3.0" height="3.0" fill="#000"/>
<rect x="438.0" y="566.6" width="3.0" height="3.0" fill="#fff" stroke="#111" stroke-width="0.85"/>
<rect x="438.9" y="567.2" width="3.0" height="3.0" fill="#fff" stroke="#111" stroke-width="0.85"/>
<rect x="436.3" y="567.8" width="3.0" height="3.0" fill="#fff" stroke="#111" stroke-width="0.85"/>
<rect x="435.0" y="565.7" width="3.0" height="3.0" fill="#000"/>
<line x1="427.50" y1="567.90" x2="442.50" y2="567.90" stroke="#5f8a3a" stroke-width="1.0"/>
<circle cx="458.5" cy="561.0" r="1.7" fill="#000"/>
<circle cx="464.6" cy="556.2" r="1.7" fill="#000"/>
<circle cx="453.4" cy="558.3" r="1.7" fill="#000"/>
<circle cx="464.6" cy="556.2" r="1.7" fill="#000"/>
<circle cx="464.4" cy="555.8" r="1.7" fill="#000"/>
<circle cx="455.9" cy="561.8" r="1.7" fill="#000"/>
<circle cx="456.4" cy="557.0" r="1.7" fill="#000"/>
<circle cx="459.9" cy="561.4" r="1.7" fill="#000"/>
<circle cx="460.7" cy="557.5" r="1.7" fill="#000"/>
<circle cx="459.0" cy="558.8" r="1.7" fill="#000"/>
<circle cx="458.2" cy="553.4" r="1.7" fill="#000"/>
<circle cx="464.7" cy="568.8" r="1.7" fill="#000"/>
<circle cx="454.7" cy="566.7" r="1.7" fill="#000"/>
<circle cx="458.5" cy="554.9" r="1.7" fill="#000"/>
<circle cx="456.7" cy="568.0" r="1.7" fill="#000"/>
<circle cx="462.4" cy="565.1" r="1.7" fill="#000"/>
<circle cx="455.2" cy="563.3" r="1.7" fill="#000"/>
<circle cx="453.2" cy="563.1" r="1.7" fill="#000"/>
<circle cx="462.0" cy="563.0" r="1.7" fill="#000"/>
<circle cx="459.6" cy="564.3" r="1.7" fill="#000"/>
<circle cx="455.4" cy="564.3" r="1.7" fill="#000"/>
<circle cx="456.9" cy="560.6" r="1.7" fill="#000"/>
<circle cx="463.1" cy="561.1" r="1.7" fill="#000"/>
<circle cx="453.8" cy="564.0" r="1.7" fill="#000"/>
<circle cx="462.8" cy="565.1" r="1.7" fill="#000"/>
<circle cx="460.7" cy="552.5" r="1.7" fill="#000"/>
<circle cx="455.5" cy="555.7" r="1.7" fill="#000"/>
<circle cx="457.2" cy="568.1" r="1.7" fill="#000"/>
<circle cx="461.9" cy="557.0" r="1.7" fill="#000"/>
<circle cx="454.5" cy="565.7" r="1.7" fill="#000"/>
<circle cx="459.1" cy="556.5" r="1.7" fill="#000"/>
<circle cx="463.9" cy="560.7" r="1.7" fill="#000"/>
<circle cx="458.6" cy="559.3" r="1.7" fill="#000"/>
<circle cx="453.6" cy="561.8" r="1.7" fill="#000"/>
<circle cx="455.1" cy="560.8" r="1.7" fill="#000"/>
<circle cx="461.1" cy="553.3" r="1.7" fill="#000"/>
<circle cx="463.6" cy="562.4" r="1.7" fill="#000"/>
<circle cx="457.4" cy="564.1" r="1.7" fill="#000"/>
<circle cx="459.7" cy="561.1" r="1.7" fill="#000"/>
<circle cx="461.9" cy="564.1" r="1.7" fill="#000"/>
<circle cx="458.2" cy="555.9" r="1.7" fill="#000"/>
<circle cx="453.4" cy="559.6" r="1.7" fill="#000"/>
<circle cx="457.1" cy="564.4" r="1.7" fill="#000"/>
<circle cx="453.5" cy="556.1" r="1.7" fill="#000"/>
<circle cx="453.9" cy="561.1" r="1.7" fill="#000"/>
<circle cx="456.4" cy="561.7" r="1.7" fill="#000"/>
<circle cx="463.2" cy="561.0" r="1.7" fill="#000"/>
<circle cx="459.2" cy="564.4" r="1.7" fill="#000"/>
<circle cx="464.2" cy="553.5" r="1.7" fill="#000"/>
<circle cx="452.6" cy="553.4" r="1.7" fill="#000"/>
<circle cx="456.4" cy="560.8" r="1.7" fill="#000"/>
<circle cx="456.7" cy="560.8" r="1.7" fill="#000"/>
<circle cx="460.5" cy="565.2" r="1.7" fill="#000"/>
<circle cx="460.5" cy="559.7" r="1.7" fill="#000"/>
<circle cx="462.0" cy="560.2" r="1.7" fill="#000"/>
<line x1="451.00" y1="561.50" x2="466.00" y2="561.50" stroke="#5f8a3a" stroke-width="1.0"/>
<rect x="485.1" y="556.1" width="3.0" height="3.0" fill="#000"/>
<rect x="476.2" y="563.1" width="3.0" height="3.0" fill="#000"/>
<rect x="480.8" y="560.5" width="3.0" height="3.0" fill="#000"/>
<rect x="483.8" y="553.0" width="3.0" height="3.0" fill="#fff" stroke="#111" stroke-width="0.85"/>
<rect x="477.8" y="556.0" width="3.0" height="3.0" fill="#000"/>
<rect x="483.0" y="554.6" width="3.0" height="3.0" fill="#000"/>
<rect x="478.4" y="555.7" width="3.0" height="3.0" fill="#000"/>
<rect x="475.0" y="561.9" width="3.0" height="3.0" fill="#000"/>
<rect x="482.7" y="559.5" width="3.0" height="3.0" fill="#000"/>
<rect x="481.3" y="557.4" width="3.0" height="3.0" fill="#000"/>
<rect x="475.0" y="563.4" width="3.0" height="3.0" fill="#000"/>
<rect x="474.6" y="557.6" width="3.0" height="3.0" fill="#000"/>
<rect x="484.7" y="557.3" width="3.0" height="3.0" fill="#000"/>
<rect x="476.0" y="554.2" width="3.0" height="3.0" fill="#000"/>
<rect x="475.3" y="563.4" width="3.0" height="3.0" fill="#000"/>
<rect x="482.6" y="558.7" width="3.0" height="3.0" fill="#000"/>
<rect x="476.0" y="553.3" width="3.0" height="3.0" fill="#fff" stroke="#111" stroke-width="0.85"/>
<rect x="487.0" y="558.4" width="3.0" height="3.0" fill="#000"/>
<rect x="475.2" y="551.2" width="3.0" height="3.0" fill="#fff" stroke="#111" stroke-width="0.85"/>
<rect x="483.7" y="555.1" width="3.0" height="3.0" fill="#000"/>
<rect x="485.2" y="556.7" width="3.0" height="3.0" fill="#000"/>
<rect x="486.4" y="554.2" width="3.0" height="3.0" fill="#000"/>
<rect x="482.6" y="560.7" width="3.0" height="3.0" fill="#000"/>
<rect x="479.1" y="558.0" width="3.0" height="3.0" fill="#000"/>
<rect x="474.2" y="558.8" width="3.0" height="3.0" fill="#000"/>
<rect x="479.9" y="557.4" width="3.0" height="3.0" fill="#000"/>
<rect x="486.4" y="556.5" width="3.0" height="3.0" fill="#000"/>
<rect x="478.5" y="553.0" width="3.0" height="3.0" fill="#fff" stroke="#111" stroke-width="0.85"/>
<rect x="480.5" y="555.9" width="3.0" height="3.0" fill="#000"/>
<rect x="478.1" y="557.4" width="3.0" height="3.0" fill="#000"/>
<rect x="486.8" y="552.4" width="3.0" height="3.0" fill="#fff" stroke="#111" stroke-width="0.85"/>
<rect x="478.7" y="559.0" width="3.0" height="3.0" fill="#000"/>
<rect x="482.5" y="553.0" width="3.0" height="3.0" fill="#fff" stroke="#111" stroke-width="0.85"/>
<rect x="480.5" y="556.1" width="3.0" height="3.0" fill="#000"/>
<rect x="482.7" y="558.3" width="3.0" height="3.0" fill="#000"/>
<rect x="484.8" y="558.1" width="3.0" height="3.0" fill="#000"/>
<rect x="484.9" y="557.5" width="3.0" height="3.0" fill="#000"/>
<rect x="485.1" y="557.8" width="3.0" height="3.0" fill="#000"/>
<rect x="480.7" y="555.3" width="3.0" height="3.0" fill="#000"/>
<rect x="478.4" y="559.0" width="3.0" height="3.0" fill="#000"/>
<rect x="483.1" y="558.3" width="3.0" height="3.0" fill="#000"/>
<rect x="480.3" y="562.5" width="3.0" height="3.0" fill="#000"/>
<rect x="486.6" y="553.6" width="3.0" height="3.0" fill="#000"/>
<rect x="486.8" y="553.6" width="3.0" height="3.0" fill="#000"/>
<rect x="476.0" y="556.9" width="3.0" height="3.0" fill="#000"/>
<rect x="481.9" y="559.1" width="3.0" height="3.0" fill="#000"/>
<rect x="483.5" y="559.0" width="3.0" height="3.0" fill="#000"/>
<rect x="474.3" y="555.3" width="3.0" height="3.0" fill="#000"/>
<rect x="476.1" y="560.6" width="3.0" height="3.0" fill="#000"/>
<rect x="485.7" y="557.7" width="3.0" height="3.0" fill="#000"/>
<rect x="474.2" y="551.0" width="3.0" height="3.0" fill="#fff" stroke="#111" stroke-width="0.85"/>
<rect x="484.1" y="563.0" width="3.0" height="3.0" fill="#000"/>
<rect x="476.5" y="557.9" width="3.0" height="3.0" fill="#000"/>
<rect x="482.3" y="563.1" width="3.0" height="3.0" fill="#000"/>
<rect x="484.8" y="559.4" width="3.0" height="3.0" fill="#000"/>
<rect x="474.0" y="555.6" width="3.0" height="3.0" fill="#000"/>
<rect x="486.0" y="553.0" width="3.0" height="3.0" fill="#fff" stroke="#111" stroke-width="0.85"/>
<rect x="485.1" y="555.7" width="3.0" height="3.0" fill="#000"/>
<rect x="474.6" y="554.3" width="3.0" height="3.0" fill="#000"/>
<rect x="485.4" y="558.6" width="3.0" height="3.0" fill="#000"/>
<rect x="484.4" y="553.2" width="3.0" height="3.0" fill="#fff" stroke="#111" stroke-width="0.85"/>
<rect x="477.3" y="556.1" width="3.0" height="3.0" fill="#000"/>
<rect x="477.6" y="559.8" width="3.0" height="3.0" fill="#000"/>
<rect x="483.5" y="556.4" width="3.0" height="3.0" fill="#000"/>
<rect x="482.3" y="557.7" width="3.0" height="3.0" fill="#000"/>
<rect x="476.4" y="553.9" width="3.0" height="3.0" fill="#000"/>
<rect x="474.9" y="559.0" width="3.0" height="3.0" fill="#000"/>
<rect x="482.4" y="553.9" width="3.0" height="3.0" fill="#000"/>
<rect x="474.3" y="554.4" width="3.0" height="3.0" fill="#000"/>
<rect x="484.5" y="563.3" width="3.0" height="3.0" fill="#000"/>
<rect x="480.3" y="561.9" width="3.0" height="3.0" fill="#000"/>
<rect x="479.8" y="552.1" width="3.0" height="3.0" fill="#fff" stroke="#111" stroke-width="0.85"/>
<rect x="480.5" y="562.0" width="3.0" height="3.0" fill="#000"/>
<rect x="485.0" y="558.1" width="3.0" height="3.0" fill="#000"/>
<rect x="473.8" y="559.9" width="3.0" height="3.0" fill="#000"/>
<rect x="474.5" y="561.9" width="3.0" height="3.0" fill="#000"/>
<rect x="481.6" y="550.9" width="3.0" height="3.0" fill="#fff" stroke="#111" stroke-width="0.85"/>
<rect x="487.2" y="559.0" width="3.0" height="3.0" fill="#000"/>
<rect x="476.9" y="559.0" width="3.0" height="3.0" fill="#000"/>
<rect x="474.0" y="555.8" width="3.0" height="3.0" fill="#000"/>
<line x1="474.50" y1="558.80" x2="489.50" y2="558.80" stroke="#5f8a3a" stroke-width="1.0"/>
<polygon points="502.0,568.3 500.1,571.7 503.9,571.7" fill="#000"/>
<polygon points="507.9,566.6 506.0,570.0 509.8,570.0" fill="#000"/>
<polygon points="499.9,568.9 498.0,572.4 501.8,572.4" fill="#000"/>
<polygon points="501.5,566.4 499.6,569.8 503.4,569.8" fill="#000"/>
<polygon points="504.2,571.7 502.3,575.2 506.1,575.2" fill="#000"/>
<polygon points="501.0,569.8 499.1,573.2 502.9,573.2" fill="#000"/>
<polygon points="508.1,574.2 506.2,577.6 510.0,577.6" fill="#000"/>
<polygon points="509.0,571.4 507.1,574.9 510.9,574.9" fill="#000"/>
<polygon points="507.6,564.3 505.7,567.7 509.5,567.7" fill="#000"/>
<polygon points="505.1,569.9 503.2,573.3 507.0,573.3" fill="#000"/>
<polygon points="503.8,565.9 501.9,569.3 505.7,569.3" fill="#000"/>
<polygon points="508.1,565.9 506.2,569.3 510.0,569.3" fill="#000"/>
<polygon points="502.1,573.3 500.2,576.7 504.0,576.7" fill="#000"/>
<polygon points="508.9,572.4 507.0,575.9 510.8,575.9" fill="#000"/>
<polygon points="511.0,568.5 509.1,571.9 512.9,571.9" fill="#000"/>
<polygon points="501.7,570.4 499.8,573.8 503.6,573.8" fill="#000"/>
<polygon points="502.8,561.1 500.9,564.5 504.7,564.5" fill="#000"/>
<polygon points="509.5,565.7 507.6,569.1 511.4,569.1" fill="#000"/>
<polygon points="505.5,568.3 503.6,571.7 507.4,571.7" fill="#000"/>
<polygon points="508.0,569.7 506.1,573.2 509.9,573.2" fill="#000"/>
<polygon points="500.0,571.9 498.1,575.3 501.9,575.3" fill="#000"/>
<polygon points="499.4,566.2 497.5,569.6 501.3,569.6" fill="#000"/>
<polygon points="504.2,569.7 502.3,573.2 506.1,573.2" fill="#000"/>
<polygon points="507.5,572.5 505.6,575.9 509.4,575.9" fill="#000"/>
<polygon points="512.1,572.3 510.2,575.7 514.0,575.7" fill="#000"/>
<polygon points="503.0,574.1 501.1,577.5 504.9,577.5" fill="#000"/>
<polygon points="510.4,569.2 508.5,572.6 512.3,572.6" fill="#000"/>
<polygon points="504.2,570.6 502.3,574.0 506.1,574.0" fill="#000"/>
<polygon points="511.8,571.6 509.9,575.0 513.7,575.0" fill="#000"/>
<polygon points="506.3,565.3 504.4,568.8 508.2,568.8" fill="#000"/>
<polygon points="510.9,571.4 509.0,574.9 512.8,574.9" fill="#000"/>
<polygon points="505.7,568.6 503.8,572.1 507.6,572.1" fill="#000"/>
<polygon points="500.0,563.7 498.1,567.1 501.9,567.1" fill="#000"/>
<polygon points="499.8,566.4 497.9,569.8 501.7,569.8" fill="#000"/>
<polygon points="499.7,569.6 497.8,573.0 501.6,573.0" fill="#000"/>
<polygon points="510.5,571.0 508.6,574.5 512.4,574.5" fill="#000"/>
<polygon points="510.7,574.6 508.8,578.0 512.6,578.0" fill="#000"/>
<polygon points="509.1,565.8 507.2,569.2 511.0,569.2" fill="#000"/>
<polygon points="512.0,564.2 510.1,567.6 513.9,567.6" fill="#000"/>
<polygon points="500.4,567.7 498.5,571.1 502.3,571.1" fill="#000"/>
<polygon points="506.5,572.1 504.6,575.5 508.4,575.5" fill="#000"/>
<polygon points="510.7,572.8 508.8,576.2 512.6,576.2" fill="#000"/>
<polygon points="499.7,570.3 497.8,573.7 501.6,573.7" fill="#000"/>
<polygon points="499.3,571.8 497.4,575.2 501.2,575.2" fill="#000"/>
<polygon points="503.4,569.9 501.5,573.3 505.3,573.3" fill="#000"/>
<line x1="498.10" y1="572.30" x2="513.10" y2="572.30" stroke="#5f8a3a" stroke-width="1.0"/>
</svg></body></html>
